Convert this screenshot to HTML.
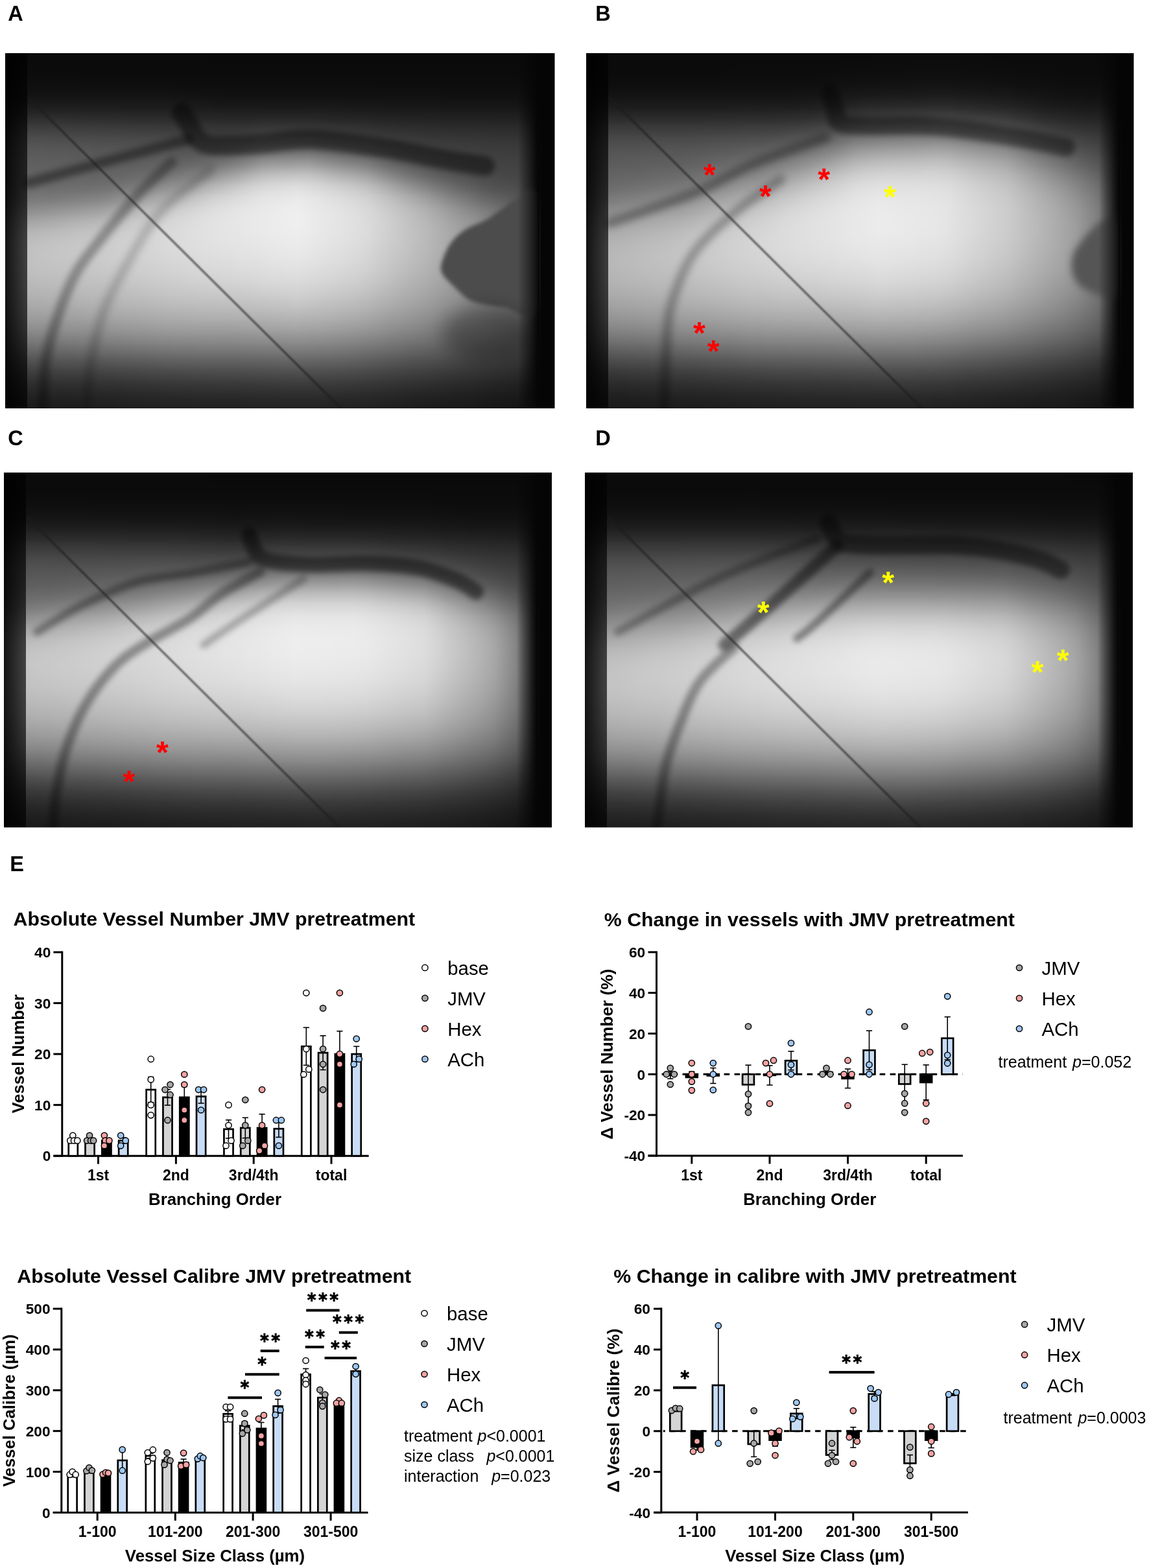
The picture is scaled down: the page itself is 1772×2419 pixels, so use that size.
<!DOCTYPE html>
<html><head><meta charset="utf-8"><title>Figure</title>
<style>html,body{margin:0;padding:0;background:#fff;}body{width:1772px;height:2419px;overflow:hidden;position:relative;}svg{position:absolute;left:0;top:0;display:block;}</style>
</head><body>
<svg width="1772" height="2419" viewBox="0 0 1772 2419">
<defs>
<filter id="b2" x="-50%" y="-50%" width="200%" height="200%" color-interpolation-filters="sRGB"><feGaussianBlur stdDeviation="2"/></filter>
<filter id="b3" x="-50%" y="-50%" width="200%" height="200%" color-interpolation-filters="sRGB"><feGaussianBlur stdDeviation="3"/></filter>
<filter id="b4" x="-50%" y="-50%" width="200%" height="200%" color-interpolation-filters="sRGB"><feGaussianBlur stdDeviation="4"/></filter>
<filter id="b5" x="-50%" y="-50%" width="200%" height="200%" color-interpolation-filters="sRGB"><feGaussianBlur stdDeviation="5"/></filter>
<filter id="b6" x="-50%" y="-50%" width="200%" height="200%" color-interpolation-filters="sRGB"><feGaussianBlur stdDeviation="6"/></filter>
<filter id="b9" x="-50%" y="-50%" width="200%" height="200%" color-interpolation-filters="sRGB"><feGaussianBlur stdDeviation="9"/></filter>
<filter id="b12" x="-50%" y="-50%" width="200%" height="200%" color-interpolation-filters="sRGB"><feGaussianBlur stdDeviation="12"/></filter>
<filter id="b14" x="-50%" y="-50%" width="200%" height="200%" color-interpolation-filters="sRGB"><feGaussianBlur stdDeviation="14"/></filter>
<filter id="b22" x="-50%" y="-50%" width="200%" height="200%" color-interpolation-filters="sRGB"><feGaussianBlur stdDeviation="22"/></filter>
<filter id="b35" x="-50%" y="-50%" width="200%" height="200%" color-interpolation-filters="sRGB"><feGaussianBlur stdDeviation="35"/></filter>
<filter id="b50" x="-50%" y="-50%" width="200%" height="200%" color-interpolation-filters="sRGB"><feGaussianBlur stdDeviation="50"/></filter>
<filter id="b1" x="-50%" y="-50%" width="200%" height="200%" color-interpolation-filters="sRGB"><feGaussianBlur stdDeviation="0.8"/></filter>
<filter id="vb" x="0" y="-5%" width="100%" height="110%" color-interpolation-filters="sRGB"><feGaussianBlur stdDeviation="0 7"/></filter>
<clipPath id="clipA"><rect x="8" y="82" width="847.5" height="548"/></clipPath>
<linearGradient id="lbA" x1="0" y1="0" x2="0" y2="1"><stop offset="0" stop-color="#070707"/><stop offset="0.2" stop-color="#0b0b0b"/><stop offset="0.45" stop-color="#262626"/><stop offset="0.7" stop-color="#333"/><stop offset="0.88" stop-color="#181818"/><stop offset="1" stop-color="#090909"/></linearGradient>
<clipPath id="clipB"><rect x="904" y="82" width="844.5" height="548"/></clipPath>
<linearGradient id="lbB" x1="0" y1="0" x2="0" y2="1"><stop offset="0" stop-color="#070707"/><stop offset="0.2" stop-color="#0b0b0b"/><stop offset="0.45" stop-color="#262626"/><stop offset="0.7" stop-color="#333"/><stop offset="0.88" stop-color="#181818"/><stop offset="1" stop-color="#090909"/></linearGradient>
<clipPath id="clipC"><rect x="6" y="729" width="845" height="547.5"/></clipPath>
<linearGradient id="lbC" x1="0" y1="0" x2="0" y2="1"><stop offset="0" stop-color="#070707"/><stop offset="0.2" stop-color="#0b0b0b"/><stop offset="0.45" stop-color="#262626"/><stop offset="0.7" stop-color="#333"/><stop offset="0.88" stop-color="#181818"/><stop offset="1" stop-color="#090909"/></linearGradient>
<clipPath id="clipD"><rect x="902" y="729" width="845" height="547.5"/></clipPath>
<linearGradient id="lbD" x1="0" y1="0" x2="0" y2="1"><stop offset="0" stop-color="#070707"/><stop offset="0.2" stop-color="#0b0b0b"/><stop offset="0.45" stop-color="#262626"/><stop offset="0.7" stop-color="#333"/><stop offset="0.88" stop-color="#181818"/><stop offset="1" stop-color="#090909"/></linearGradient>
<linearGradient id="lbh" x1="0" y1="0" x2="1" y2="0"><stop offset="0" stop-color="#000" stop-opacity="0.9"/><stop offset="0.5" stop-color="#000" stop-opacity="0.78"/><stop offset="1" stop-color="#000" stop-opacity="0.66"/></linearGradient>
<linearGradient id="rbh" x1="0" y1="0" x2="1" y2="0"><stop offset="0" stop-color="#050505" stop-opacity="0"/><stop offset="0.5" stop-color="#050505" stop-opacity="0.45"/><stop offset="1" stop-color="#050505" stop-opacity="0.95"/></linearGradient>
</defs>
<rect x="0" y="0" width="1772" height="2419" fill="#fff"/>
<defs><linearGradient id="gA0"><stop offset="0%" stop-color="#0a0a0a"/><stop offset="2.1%" stop-color="#0a0a0a"/><stop offset="4.2%" stop-color="#0a0a0a"/><stop offset="6.4%" stop-color="#0a0a0a"/><stop offset="8.5%" stop-color="#0a0a0a"/><stop offset="10.6%" stop-color="#0a0a0a"/><stop offset="12.7%" stop-color="#0a0a0a"/><stop offset="14.9%" stop-color="#0a0a0a"/><stop offset="17%" stop-color="#0a0a0a"/><stop offset="19.1%" stop-color="#0a0a0a"/><stop offset="21.2%" stop-color="#0a0a0a"/><stop offset="23.4%" stop-color="#0a0a0a"/><stop offset="25.5%" stop-color="#0a0a0a"/><stop offset="27.6%" stop-color="#0a0a0a"/><stop offset="29.7%" stop-color="#0a0a0a"/><stop offset="31.9%" stop-color="#0a0a0a"/><stop offset="34%" stop-color="#0a0a0a"/><stop offset="36.1%" stop-color="#0a0a0a"/><stop offset="38.2%" stop-color="#0a0a0a"/><stop offset="40.4%" stop-color="#0a0a0a"/><stop offset="42.5%" stop-color="#0a0a0a"/><stop offset="44.6%" stop-color="#0a0a0a"/><stop offset="46.7%" stop-color="#0a0a0a"/><stop offset="48.8%" stop-color="#0a0a0a"/><stop offset="51%" stop-color="#0a0a0a"/><stop offset="53.1%" stop-color="#0a0a0a"/><stop offset="55.2%" stop-color="#0a0a0a"/><stop offset="57.3%" stop-color="#0a0a0a"/><stop offset="59.5%" stop-color="#0a0a0a"/><stop offset="61.6%" stop-color="#0a0a0a"/><stop offset="63.7%" stop-color="#0a0a0a"/><stop offset="65.8%" stop-color="#0a0a0a"/><stop offset="68%" stop-color="#0a0a0a"/><stop offset="70.1%" stop-color="#0a0a0a"/><stop offset="72.2%" stop-color="#0a0a0a"/><stop offset="74.3%" stop-color="#0a0a0a"/><stop offset="76.5%" stop-color="#0a0a0a"/><stop offset="78.6%" stop-color="#0a0a0a"/><stop offset="80.7%" stop-color="#0a0a0a"/><stop offset="82.8%" stop-color="#0a0a0a"/><stop offset="85%" stop-color="#0a0a0a"/><stop offset="87.1%" stop-color="#0a0a0a"/><stop offset="89.2%" stop-color="#0a0a0a"/><stop offset="91.3%" stop-color="#0a0a0a"/><stop offset="93.5%" stop-color="#0a0a0a"/><stop offset="95.6%" stop-color="#0a0a0a"/><stop offset="97.7%" stop-color="#070707"/><stop offset="99.8%" stop-color="#070707"/><stop offset="100%" stop-color="#070707"/></linearGradient><linearGradient id="gA1"><stop offset="0%" stop-color="#0b0b0b"/><stop offset="2.1%" stop-color="#0b0b0b"/><stop offset="4.2%" stop-color="#0b0b0b"/><stop offset="6.4%" stop-color="#0b0b0b"/><stop offset="8.5%" stop-color="#0b0b0b"/><stop offset="10.6%" stop-color="#0b0b0b"/><stop offset="12.7%" stop-color="#0b0b0b"/><stop offset="14.9%" stop-color="#0b0b0b"/><stop offset="17%" stop-color="#0b0b0b"/><stop offset="19.1%" stop-color="#0b0b0b"/><stop offset="21.2%" stop-color="#0b0b0b"/><stop offset="23.4%" stop-color="#0b0b0b"/><stop offset="25.5%" stop-color="#0b0b0b"/><stop offset="27.6%" stop-color="#0b0b0b"/><stop offset="29.7%" stop-color="#0b0b0b"/><stop offset="31.9%" stop-color="#0b0b0b"/><stop offset="34%" stop-color="#0b0b0b"/><stop offset="36.1%" stop-color="#0b0b0b"/><stop offset="38.2%" stop-color="#0a0a0a"/><stop offset="40.4%" stop-color="#0a0a0a"/><stop offset="42.5%" stop-color="#0a0a0a"/><stop offset="44.6%" stop-color="#0a0a0a"/><stop offset="46.7%" stop-color="#0a0a0a"/><stop offset="48.8%" stop-color="#0a0a0a"/><stop offset="51%" stop-color="#0a0a0a"/><stop offset="53.1%" stop-color="#0a0a0a"/><stop offset="55.2%" stop-color="#0a0a0a"/><stop offset="57.3%" stop-color="#0a0a0a"/><stop offset="59.5%" stop-color="#0a0a0a"/><stop offset="61.6%" stop-color="#0a0a0a"/><stop offset="63.7%" stop-color="#0a0a0a"/><stop offset="65.8%" stop-color="#0a0a0a"/><stop offset="68%" stop-color="#0a0a0a"/><stop offset="70.1%" stop-color="#0a0a0a"/><stop offset="72.2%" stop-color="#0a0a0a"/><stop offset="74.3%" stop-color="#0a0a0a"/><stop offset="76.5%" stop-color="#0a0a0a"/><stop offset="78.6%" stop-color="#0a0a0a"/><stop offset="80.7%" stop-color="#0a0a0a"/><stop offset="82.8%" stop-color="#0a0a0a"/><stop offset="85%" stop-color="#0a0a0a"/><stop offset="87.1%" stop-color="#0a0a0a"/><stop offset="89.2%" stop-color="#0a0a0a"/><stop offset="91.3%" stop-color="#0a0a0a"/><stop offset="93.5%" stop-color="#0a0a0a"/><stop offset="95.6%" stop-color="#0a0a0a"/><stop offset="97.7%" stop-color="#070707"/><stop offset="99.8%" stop-color="#070707"/><stop offset="100%" stop-color="#070707"/></linearGradient><linearGradient id="gA2"><stop offset="0%" stop-color="#0c0c0c"/><stop offset="2.1%" stop-color="#0c0c0c"/><stop offset="4.2%" stop-color="#0c0c0c"/><stop offset="6.4%" stop-color="#0b0b0b"/><stop offset="8.5%" stop-color="#0b0b0b"/><stop offset="10.6%" stop-color="#0b0b0b"/><stop offset="12.7%" stop-color="#0b0b0b"/><stop offset="14.9%" stop-color="#0b0b0b"/><stop offset="17%" stop-color="#0b0b0b"/><stop offset="19.1%" stop-color="#0b0b0b"/><stop offset="21.2%" stop-color="#0b0b0b"/><stop offset="23.4%" stop-color="#0b0b0b"/><stop offset="25.5%" stop-color="#0b0b0b"/><stop offset="27.6%" stop-color="#0b0b0b"/><stop offset="29.7%" stop-color="#0b0b0b"/><stop offset="31.9%" stop-color="#0b0b0b"/><stop offset="34%" stop-color="#0b0b0b"/><stop offset="36.1%" stop-color="#0b0b0b"/><stop offset="38.2%" stop-color="#0b0b0b"/><stop offset="40.4%" stop-color="#0b0b0b"/><stop offset="42.5%" stop-color="#0b0b0b"/><stop offset="44.6%" stop-color="#0b0b0b"/><stop offset="46.7%" stop-color="#0b0b0b"/><stop offset="48.8%" stop-color="#0b0b0b"/><stop offset="51%" stop-color="#0b0b0b"/><stop offset="53.1%" stop-color="#0b0b0b"/><stop offset="55.2%" stop-color="#0b0b0b"/><stop offset="57.3%" stop-color="#0b0b0b"/><stop offset="59.5%" stop-color="#0b0b0b"/><stop offset="61.6%" stop-color="#0b0b0b"/><stop offset="63.7%" stop-color="#0b0b0b"/><stop offset="65.8%" stop-color="#0b0b0b"/><stop offset="68%" stop-color="#0b0b0b"/><stop offset="70.1%" stop-color="#0b0b0b"/><stop offset="72.2%" stop-color="#0b0b0b"/><stop offset="74.3%" stop-color="#0b0b0b"/><stop offset="76.5%" stop-color="#0b0b0b"/><stop offset="78.6%" stop-color="#0b0b0b"/><stop offset="80.7%" stop-color="#0b0b0b"/><stop offset="82.8%" stop-color="#0b0b0b"/><stop offset="85%" stop-color="#0b0b0b"/><stop offset="87.1%" stop-color="#0b0b0b"/><stop offset="89.2%" stop-color="#0b0b0b"/><stop offset="91.3%" stop-color="#0b0b0b"/><stop offset="93.5%" stop-color="#0b0b0b"/><stop offset="95.6%" stop-color="#0a0a0a"/><stop offset="97.7%" stop-color="#070707"/><stop offset="99.8%" stop-color="#070707"/><stop offset="100%" stop-color="#070707"/></linearGradient><linearGradient id="gA3"><stop offset="0%" stop-color="#0e0e0e"/><stop offset="2.1%" stop-color="#0e0e0e"/><stop offset="4.2%" stop-color="#0e0e0e"/><stop offset="6.4%" stop-color="#0e0e0e"/><stop offset="8.5%" stop-color="#0e0e0e"/><stop offset="10.6%" stop-color="#0e0e0e"/><stop offset="12.7%" stop-color="#0e0e0e"/><stop offset="14.9%" stop-color="#0d0d0d"/><stop offset="17%" stop-color="#0d0d0d"/><stop offset="19.1%" stop-color="#0d0d0d"/><stop offset="21.2%" stop-color="#0d0d0d"/><stop offset="23.4%" stop-color="#0d0d0d"/><stop offset="25.5%" stop-color="#0d0d0d"/><stop offset="27.6%" stop-color="#0d0d0d"/><stop offset="29.7%" stop-color="#0d0d0d"/><stop offset="31.9%" stop-color="#0d0d0d"/><stop offset="34%" stop-color="#0d0d0d"/><stop offset="36.1%" stop-color="#0d0d0d"/><stop offset="38.2%" stop-color="#0d0d0d"/><stop offset="40.4%" stop-color="#0d0d0d"/><stop offset="42.5%" stop-color="#0d0d0d"/><stop offset="44.6%" stop-color="#0d0d0d"/><stop offset="46.7%" stop-color="#0d0d0d"/><stop offset="48.8%" stop-color="#0d0d0d"/><stop offset="51%" stop-color="#0d0d0d"/><stop offset="53.1%" stop-color="#0d0d0d"/><stop offset="55.2%" stop-color="#0d0d0d"/><stop offset="57.3%" stop-color="#0d0d0d"/><stop offset="59.5%" stop-color="#0d0d0d"/><stop offset="61.6%" stop-color="#0d0d0d"/><stop offset="63.7%" stop-color="#0d0d0d"/><stop offset="65.8%" stop-color="#0d0d0d"/><stop offset="68%" stop-color="#0c0c0c"/><stop offset="70.1%" stop-color="#0c0c0c"/><stop offset="72.2%" stop-color="#0c0c0c"/><stop offset="74.3%" stop-color="#0c0c0c"/><stop offset="76.5%" stop-color="#0c0c0c"/><stop offset="78.6%" stop-color="#0c0c0c"/><stop offset="80.7%" stop-color="#0c0c0c"/><stop offset="82.8%" stop-color="#0c0c0c"/><stop offset="85%" stop-color="#0c0c0c"/><stop offset="87.1%" stop-color="#0c0c0c"/><stop offset="89.2%" stop-color="#0c0c0c"/><stop offset="91.3%" stop-color="#0c0c0c"/><stop offset="93.5%" stop-color="#0c0c0c"/><stop offset="95.6%" stop-color="#0b0b0b"/><stop offset="97.7%" stop-color="#080808"/><stop offset="99.8%" stop-color="#070707"/><stop offset="100%" stop-color="#070707"/></linearGradient><linearGradient id="gA4"><stop offset="0%" stop-color="#121212"/><stop offset="2.1%" stop-color="#121212"/><stop offset="4.2%" stop-color="#121212"/><stop offset="6.4%" stop-color="#121212"/><stop offset="8.5%" stop-color="#121212"/><stop offset="10.6%" stop-color="#121212"/><stop offset="12.7%" stop-color="#121212"/><stop offset="14.9%" stop-color="#121212"/><stop offset="17%" stop-color="#121212"/><stop offset="19.1%" stop-color="#121212"/><stop offset="21.2%" stop-color="#121212"/><stop offset="23.4%" stop-color="#121212"/><stop offset="25.5%" stop-color="#121212"/><stop offset="27.6%" stop-color="#121212"/><stop offset="29.7%" stop-color="#121212"/><stop offset="31.9%" stop-color="#111111"/><stop offset="34%" stop-color="#111111"/><stop offset="36.1%" stop-color="#111111"/><stop offset="38.2%" stop-color="#111111"/><stop offset="40.4%" stop-color="#101010"/><stop offset="42.5%" stop-color="#101010"/><stop offset="44.6%" stop-color="#101010"/><stop offset="46.7%" stop-color="#101010"/><stop offset="48.8%" stop-color="#101010"/><stop offset="51%" stop-color="#101010"/><stop offset="53.1%" stop-color="#101010"/><stop offset="55.2%" stop-color="#101010"/><stop offset="57.3%" stop-color="#101010"/><stop offset="59.5%" stop-color="#101010"/><stop offset="61.6%" stop-color="#101010"/><stop offset="63.7%" stop-color="#101010"/><stop offset="65.8%" stop-color="#101010"/><stop offset="68%" stop-color="#101010"/><stop offset="70.1%" stop-color="#101010"/><stop offset="72.2%" stop-color="#101010"/><stop offset="74.3%" stop-color="#101010"/><stop offset="76.5%" stop-color="#101010"/><stop offset="78.6%" stop-color="#101010"/><stop offset="80.7%" stop-color="#0f0f0f"/><stop offset="82.8%" stop-color="#0f0f0f"/><stop offset="85%" stop-color="#0f0f0f"/><stop offset="87.1%" stop-color="#0f0f0f"/><stop offset="89.2%" stop-color="#0f0f0f"/><stop offset="91.3%" stop-color="#0f0f0f"/><stop offset="93.5%" stop-color="#0f0f0f"/><stop offset="95.6%" stop-color="#0e0e0e"/><stop offset="97.7%" stop-color="#080808"/><stop offset="99.8%" stop-color="#070707"/><stop offset="100%" stop-color="#070707"/></linearGradient><linearGradient id="gA5"><stop offset="0%" stop-color="#1c1c1c"/><stop offset="2.1%" stop-color="#1c1c1c"/><stop offset="4.2%" stop-color="#1c1c1c"/><stop offset="6.4%" stop-color="#1c1c1c"/><stop offset="8.5%" stop-color="#1c1c1c"/><stop offset="10.6%" stop-color="#1c1c1c"/><stop offset="12.7%" stop-color="#1c1c1c"/><stop offset="14.9%" stop-color="#1b1b1b"/><stop offset="17%" stop-color="#1b1b1b"/><stop offset="19.1%" stop-color="#1b1b1b"/><stop offset="21.2%" stop-color="#1b1b1b"/><stop offset="23.4%" stop-color="#1b1b1b"/><stop offset="25.5%" stop-color="#1b1b1b"/><stop offset="27.6%" stop-color="#1b1b1b"/><stop offset="29.7%" stop-color="#1b1b1b"/><stop offset="31.9%" stop-color="#1a1a1a"/><stop offset="34%" stop-color="#191919"/><stop offset="36.1%" stop-color="#191919"/><stop offset="38.2%" stop-color="#181818"/><stop offset="40.4%" stop-color="#181818"/><stop offset="42.5%" stop-color="#181818"/><stop offset="44.6%" stop-color="#181818"/><stop offset="46.7%" stop-color="#181818"/><stop offset="48.8%" stop-color="#181818"/><stop offset="51%" stop-color="#181818"/><stop offset="53.1%" stop-color="#181818"/><stop offset="55.2%" stop-color="#181818"/><stop offset="57.3%" stop-color="#181818"/><stop offset="59.5%" stop-color="#181818"/><stop offset="61.6%" stop-color="#171717"/><stop offset="63.7%" stop-color="#171717"/><stop offset="65.8%" stop-color="#171717"/><stop offset="68%" stop-color="#171717"/><stop offset="70.1%" stop-color="#161616"/><stop offset="72.2%" stop-color="#161616"/><stop offset="74.3%" stop-color="#161616"/><stop offset="76.5%" stop-color="#161616"/><stop offset="78.6%" stop-color="#161616"/><stop offset="80.7%" stop-color="#161616"/><stop offset="82.8%" stop-color="#161616"/><stop offset="85%" stop-color="#161616"/><stop offset="87.1%" stop-color="#161616"/><stop offset="89.2%" stop-color="#161616"/><stop offset="91.3%" stop-color="#161616"/><stop offset="93.5%" stop-color="#151515"/><stop offset="95.6%" stop-color="#131313"/><stop offset="97.7%" stop-color="#090909"/><stop offset="99.8%" stop-color="#070707"/><stop offset="100%" stop-color="#070707"/></linearGradient><linearGradient id="gA6"><stop offset="0%" stop-color="#2c2c2c"/><stop offset="2.1%" stop-color="#2c2c2c"/><stop offset="4.2%" stop-color="#2c2c2c"/><stop offset="6.4%" stop-color="#2c2c2c"/><stop offset="8.5%" stop-color="#2c2c2c"/><stop offset="10.6%" stop-color="#2c2c2c"/><stop offset="12.7%" stop-color="#2b2b2b"/><stop offset="14.9%" stop-color="#2b2b2b"/><stop offset="17%" stop-color="#2b2b2b"/><stop offset="19.1%" stop-color="#2b2b2b"/><stop offset="21.2%" stop-color="#2a2a2a"/><stop offset="23.4%" stop-color="#2a2a2a"/><stop offset="25.5%" stop-color="#2a2a2a"/><stop offset="27.6%" stop-color="#2a2a2a"/><stop offset="29.7%" stop-color="#292929"/><stop offset="31.9%" stop-color="#282828"/><stop offset="34%" stop-color="#272727"/><stop offset="36.1%" stop-color="#262626"/><stop offset="38.2%" stop-color="#262626"/><stop offset="40.4%" stop-color="#252525"/><stop offset="42.5%" stop-color="#252525"/><stop offset="44.6%" stop-color="#252525"/><stop offset="46.7%" stop-color="#262626"/><stop offset="48.8%" stop-color="#262626"/><stop offset="51%" stop-color="#262626"/><stop offset="53.1%" stop-color="#262626"/><stop offset="55.2%" stop-color="#262626"/><stop offset="57.3%" stop-color="#252525"/><stop offset="59.5%" stop-color="#242424"/><stop offset="61.6%" stop-color="#242424"/><stop offset="63.7%" stop-color="#232323"/><stop offset="65.8%" stop-color="#232323"/><stop offset="68%" stop-color="#222222"/><stop offset="70.1%" stop-color="#222222"/><stop offset="72.2%" stop-color="#212121"/><stop offset="74.3%" stop-color="#212121"/><stop offset="76.5%" stop-color="#212121"/><stop offset="78.6%" stop-color="#212121"/><stop offset="80.7%" stop-color="#202020"/><stop offset="82.8%" stop-color="#202020"/><stop offset="85%" stop-color="#202020"/><stop offset="87.1%" stop-color="#202020"/><stop offset="89.2%" stop-color="#202020"/><stop offset="91.3%" stop-color="#202020"/><stop offset="93.5%" stop-color="#202020"/><stop offset="95.6%" stop-color="#1b1b1b"/><stop offset="97.7%" stop-color="#0a0a0a"/><stop offset="99.8%" stop-color="#070707"/><stop offset="100%" stop-color="#070707"/></linearGradient><linearGradient id="gA7"><stop offset="0%" stop-color="#404040"/><stop offset="2.1%" stop-color="#404040"/><stop offset="4.2%" stop-color="#404040"/><stop offset="6.4%" stop-color="#3f3f3f"/><stop offset="8.5%" stop-color="#3f3f3f"/><stop offset="10.6%" stop-color="#3f3f3f"/><stop offset="12.7%" stop-color="#3e3e3e"/><stop offset="14.9%" stop-color="#3e3e3e"/><stop offset="17%" stop-color="#3d3d3d"/><stop offset="19.1%" stop-color="#3d3d3d"/><stop offset="21.2%" stop-color="#3d3d3d"/><stop offset="23.4%" stop-color="#3c3c3c"/><stop offset="25.5%" stop-color="#3c3c3c"/><stop offset="27.6%" stop-color="#3c3c3c"/><stop offset="29.7%" stop-color="#3b3b3b"/><stop offset="31.9%" stop-color="#3a3a3a"/><stop offset="34%" stop-color="#393939"/><stop offset="36.1%" stop-color="#373737"/><stop offset="38.2%" stop-color="#363636"/><stop offset="40.4%" stop-color="#363636"/><stop offset="42.5%" stop-color="#363636"/><stop offset="44.6%" stop-color="#373737"/><stop offset="46.7%" stop-color="#393939"/><stop offset="48.8%" stop-color="#393939"/><stop offset="51%" stop-color="#393939"/><stop offset="53.1%" stop-color="#393939"/><stop offset="55.2%" stop-color="#393939"/><stop offset="57.3%" stop-color="#383838"/><stop offset="59.5%" stop-color="#363636"/><stop offset="61.6%" stop-color="#353535"/><stop offset="63.7%" stop-color="#343434"/><stop offset="65.8%" stop-color="#333333"/><stop offset="68%" stop-color="#313131"/><stop offset="70.1%" stop-color="#303030"/><stop offset="72.2%" stop-color="#2f2f2f"/><stop offset="74.3%" stop-color="#2f2f2f"/><stop offset="76.5%" stop-color="#2e2e2e"/><stop offset="78.6%" stop-color="#2e2e2e"/><stop offset="80.7%" stop-color="#2d2d2d"/><stop offset="82.8%" stop-color="#2d2d2d"/><stop offset="85%" stop-color="#2d2d2d"/><stop offset="87.1%" stop-color="#2d2d2d"/><stop offset="89.2%" stop-color="#2c2c2c"/><stop offset="91.3%" stop-color="#2c2c2c"/><stop offset="93.5%" stop-color="#2c2c2c"/><stop offset="95.6%" stop-color="#262626"/><stop offset="97.7%" stop-color="#0b0b0b"/><stop offset="99.8%" stop-color="#070707"/><stop offset="100%" stop-color="#070707"/></linearGradient><linearGradient id="gA8"><stop offset="0%" stop-color="#505050"/><stop offset="2.1%" stop-color="#505050"/><stop offset="4.2%" stop-color="#505050"/><stop offset="6.4%" stop-color="#505050"/><stop offset="8.5%" stop-color="#4f4f4f"/><stop offset="10.6%" stop-color="#4f4f4f"/><stop offset="12.7%" stop-color="#4e4e4e"/><stop offset="14.9%" stop-color="#4e4e4e"/><stop offset="17%" stop-color="#4d4d4d"/><stop offset="19.1%" stop-color="#4d4d4d"/><stop offset="21.2%" stop-color="#4c4c4c"/><stop offset="23.4%" stop-color="#4c4c4c"/><stop offset="25.5%" stop-color="#4c4c4c"/><stop offset="27.6%" stop-color="#4b4b4b"/><stop offset="29.7%" stop-color="#4b4b4b"/><stop offset="31.9%" stop-color="#4a4a4a"/><stop offset="34%" stop-color="#484848"/><stop offset="36.1%" stop-color="#474747"/><stop offset="38.2%" stop-color="#474747"/><stop offset="40.4%" stop-color="#474747"/><stop offset="42.5%" stop-color="#484848"/><stop offset="44.6%" stop-color="#4b4b4b"/><stop offset="46.7%" stop-color="#4f4f4f"/><stop offset="48.8%" stop-color="#515151"/><stop offset="51%" stop-color="#515151"/><stop offset="53.1%" stop-color="#515151"/><stop offset="55.2%" stop-color="#515151"/><stop offset="57.3%" stop-color="#4e4e4e"/><stop offset="59.5%" stop-color="#4c4c4c"/><stop offset="61.6%" stop-color="#494949"/><stop offset="63.7%" stop-color="#474747"/><stop offset="65.8%" stop-color="#454545"/><stop offset="68%" stop-color="#414141"/><stop offset="70.1%" stop-color="#3f3f3f"/><stop offset="72.2%" stop-color="#3d3d3d"/><stop offset="74.3%" stop-color="#3b3b3b"/><stop offset="76.5%" stop-color="#3a3a3a"/><stop offset="78.6%" stop-color="#393939"/><stop offset="80.7%" stop-color="#393939"/><stop offset="82.8%" stop-color="#383838"/><stop offset="85%" stop-color="#383838"/><stop offset="87.1%" stop-color="#373737"/><stop offset="89.2%" stop-color="#373737"/><stop offset="91.3%" stop-color="#373737"/><stop offset="93.5%" stop-color="#363636"/><stop offset="95.6%" stop-color="#2e2e2e"/><stop offset="97.7%" stop-color="#0d0d0d"/><stop offset="99.8%" stop-color="#070707"/><stop offset="100%" stop-color="#070707"/></linearGradient><linearGradient id="gA9"><stop offset="0%" stop-color="#5a5a5a"/><stop offset="2.1%" stop-color="#5a5a5a"/><stop offset="4.2%" stop-color="#5a5a5a"/><stop offset="6.4%" stop-color="#5a5a5a"/><stop offset="8.5%" stop-color="#595959"/><stop offset="10.6%" stop-color="#595959"/><stop offset="12.7%" stop-color="#585858"/><stop offset="14.9%" stop-color="#585858"/><stop offset="17%" stop-color="#575757"/><stop offset="19.1%" stop-color="#575757"/><stop offset="21.2%" stop-color="#565656"/><stop offset="23.4%" stop-color="#565656"/><stop offset="25.5%" stop-color="#565656"/><stop offset="27.6%" stop-color="#575757"/><stop offset="29.7%" stop-color="#575757"/><stop offset="31.9%" stop-color="#565656"/><stop offset="34%" stop-color="#565656"/><stop offset="36.1%" stop-color="#575757"/><stop offset="38.2%" stop-color="#585858"/><stop offset="40.4%" stop-color="#5b5b5b"/><stop offset="42.5%" stop-color="#5f5f5f"/><stop offset="44.6%" stop-color="#666666"/><stop offset="46.7%" stop-color="#6e6e6e"/><stop offset="48.8%" stop-color="#707070"/><stop offset="51%" stop-color="#717171"/><stop offset="53.1%" stop-color="#727272"/><stop offset="55.2%" stop-color="#727272"/><stop offset="57.3%" stop-color="#6d6d6d"/><stop offset="59.5%" stop-color="#686868"/><stop offset="61.6%" stop-color="#636363"/><stop offset="63.7%" stop-color="#5f5f5f"/><stop offset="65.8%" stop-color="#5b5b5b"/><stop offset="68%" stop-color="#545454"/><stop offset="70.1%" stop-color="#4f4f4f"/><stop offset="72.2%" stop-color="#4a4a4a"/><stop offset="74.3%" stop-color="#474747"/><stop offset="76.5%" stop-color="#454545"/><stop offset="78.6%" stop-color="#434343"/><stop offset="80.7%" stop-color="#414141"/><stop offset="82.8%" stop-color="#404040"/><stop offset="85%" stop-color="#3f3f3f"/><stop offset="87.1%" stop-color="#3e3e3e"/><stop offset="89.2%" stop-color="#3e3e3e"/><stop offset="91.3%" stop-color="#3d3d3d"/><stop offset="93.5%" stop-color="#3d3d3d"/><stop offset="95.6%" stop-color="#343434"/><stop offset="97.7%" stop-color="#0d0d0d"/><stop offset="99.8%" stop-color="#070707"/><stop offset="100%" stop-color="#070707"/></linearGradient><linearGradient id="gA10"><stop offset="0%" stop-color="#606060"/><stop offset="2.1%" stop-color="#606060"/><stop offset="4.2%" stop-color="#606060"/><stop offset="6.4%" stop-color="#5f5f5f"/><stop offset="8.5%" stop-color="#5f5f5f"/><stop offset="10.6%" stop-color="#5e5e5e"/><stop offset="12.7%" stop-color="#5e5e5e"/><stop offset="14.9%" stop-color="#5e5e5e"/><stop offset="17%" stop-color="#5d5d5d"/><stop offset="19.1%" stop-color="#5d5d5d"/><stop offset="21.2%" stop-color="#5e5e5e"/><stop offset="23.4%" stop-color="#5e5e5e"/><stop offset="25.5%" stop-color="#5f5f5f"/><stop offset="27.6%" stop-color="#616161"/><stop offset="29.7%" stop-color="#626262"/><stop offset="31.9%" stop-color="#636363"/><stop offset="34%" stop-color="#666666"/><stop offset="36.1%" stop-color="#6b6b6b"/><stop offset="38.2%" stop-color="#717171"/><stop offset="40.4%" stop-color="#787878"/><stop offset="42.5%" stop-color="#818181"/><stop offset="44.6%" stop-color="#8b8b8b"/><stop offset="46.7%" stop-color="#969696"/><stop offset="48.8%" stop-color="#9a9a9a"/><stop offset="51%" stop-color="#9b9b9b"/><stop offset="53.1%" stop-color="#9d9d9d"/><stop offset="55.2%" stop-color="#9d9d9d"/><stop offset="57.3%" stop-color="#969696"/><stop offset="59.5%" stop-color="#8f8f8f"/><stop offset="61.6%" stop-color="#888888"/><stop offset="63.7%" stop-color="#828282"/><stop offset="65.8%" stop-color="#7b7b7b"/><stop offset="68%" stop-color="#707070"/><stop offset="70.1%" stop-color="#666666"/><stop offset="72.2%" stop-color="#5e5e5e"/><stop offset="74.3%" stop-color="#575757"/><stop offset="76.5%" stop-color="#515151"/><stop offset="78.6%" stop-color="#4d4d4d"/><stop offset="80.7%" stop-color="#4a4a4a"/><stop offset="82.8%" stop-color="#474747"/><stop offset="85%" stop-color="#454545"/><stop offset="87.1%" stop-color="#434343"/><stop offset="89.2%" stop-color="#424242"/><stop offset="91.3%" stop-color="#424242"/><stop offset="93.5%" stop-color="#414141"/><stop offset="95.6%" stop-color="#373737"/><stop offset="97.7%" stop-color="#0e0e0e"/><stop offset="99.8%" stop-color="#070707"/><stop offset="100%" stop-color="#070707"/></linearGradient><linearGradient id="gA11"><stop offset="0%" stop-color="#646464"/><stop offset="2.1%" stop-color="#646464"/><stop offset="4.2%" stop-color="#646464"/><stop offset="6.4%" stop-color="#646464"/><stop offset="8.5%" stop-color="#646464"/><stop offset="10.6%" stop-color="#646464"/><stop offset="12.7%" stop-color="#646464"/><stop offset="14.9%" stop-color="#646464"/><stop offset="17%" stop-color="#646464"/><stop offset="19.1%" stop-color="#656565"/><stop offset="21.2%" stop-color="#666666"/><stop offset="23.4%" stop-color="#696969"/><stop offset="25.5%" stop-color="#6c6c6c"/><stop offset="27.6%" stop-color="#6f6f6f"/><stop offset="29.7%" stop-color="#747474"/><stop offset="31.9%" stop-color="#797979"/><stop offset="34%" stop-color="#818181"/><stop offset="36.1%" stop-color="#8a8a8a"/><stop offset="38.2%" stop-color="#959595"/><stop offset="40.4%" stop-color="#9f9f9f"/><stop offset="42.5%" stop-color="#a9a9a9"/><stop offset="44.6%" stop-color="#b4b4b4"/><stop offset="46.7%" stop-color="#bebebe"/><stop offset="48.8%" stop-color="#c2c2c2"/><stop offset="51%" stop-color="#c4c4c4"/><stop offset="53.1%" stop-color="#c5c5c5"/><stop offset="55.2%" stop-color="#c4c4c4"/><stop offset="57.3%" stop-color="#bebebe"/><stop offset="59.5%" stop-color="#b7b7b7"/><stop offset="61.6%" stop-color="#b0b0b0"/><stop offset="63.7%" stop-color="#aaaaaa"/><stop offset="65.8%" stop-color="#a2a2a2"/><stop offset="68%" stop-color="#949494"/><stop offset="70.1%" stop-color="#878787"/><stop offset="72.2%" stop-color="#7b7b7b"/><stop offset="74.3%" stop-color="#707070"/><stop offset="76.5%" stop-color="#666666"/><stop offset="78.6%" stop-color="#5e5e5e"/><stop offset="80.7%" stop-color="#575757"/><stop offset="82.8%" stop-color="#525252"/><stop offset="85%" stop-color="#4d4d4d"/><stop offset="87.1%" stop-color="#4a4a4a"/><stop offset="89.2%" stop-color="#484848"/><stop offset="91.3%" stop-color="#464646"/><stop offset="93.5%" stop-color="#454545"/><stop offset="95.6%" stop-color="#393939"/><stop offset="97.7%" stop-color="#0e0e0e"/><stop offset="99.8%" stop-color="#070707"/><stop offset="100%" stop-color="#070707"/></linearGradient><linearGradient id="gA12"><stop offset="0%" stop-color="#6a6a6a"/><stop offset="2.1%" stop-color="#6a6a6a"/><stop offset="4.2%" stop-color="#6a6a6a"/><stop offset="6.4%" stop-color="#6b6b6b"/><stop offset="8.5%" stop-color="#6b6b6b"/><stop offset="10.6%" stop-color="#6c6c6c"/><stop offset="12.7%" stop-color="#6d6d6d"/><stop offset="14.9%" stop-color="#6e6e6e"/><stop offset="17%" stop-color="#6f6f6f"/><stop offset="19.1%" stop-color="#727272"/><stop offset="21.2%" stop-color="#767676"/><stop offset="23.4%" stop-color="#7b7b7b"/><stop offset="25.5%" stop-color="#828282"/><stop offset="27.6%" stop-color="#898989"/><stop offset="29.7%" stop-color="#909090"/><stop offset="31.9%" stop-color="#999999"/><stop offset="34%" stop-color="#a4a4a4"/><stop offset="36.1%" stop-color="#afafaf"/><stop offset="38.2%" stop-color="#bababa"/><stop offset="40.4%" stop-color="#c3c3c3"/><stop offset="42.5%" stop-color="#cbcbcb"/><stop offset="44.6%" stop-color="#d2d2d2"/><stop offset="46.7%" stop-color="#d8d8d8"/><stop offset="48.8%" stop-color="#dbdbdb"/><stop offset="51%" stop-color="#dddddd"/><stop offset="53.1%" stop-color="#dfdfdf"/><stop offset="55.2%" stop-color="#dcdcdc"/><stop offset="57.3%" stop-color="#d8d8d8"/><stop offset="59.5%" stop-color="#d3d3d3"/><stop offset="61.6%" stop-color="#cecece"/><stop offset="63.7%" stop-color="#c8c8c8"/><stop offset="65.8%" stop-color="#c1c1c1"/><stop offset="68%" stop-color="#b6b6b6"/><stop offset="70.1%" stop-color="#a9a9a9"/><stop offset="72.2%" stop-color="#9d9d9d"/><stop offset="74.3%" stop-color="#909090"/><stop offset="76.5%" stop-color="#848484"/><stop offset="78.6%" stop-color="#787878"/><stop offset="80.7%" stop-color="#6e6e6e"/><stop offset="82.8%" stop-color="#646464"/><stop offset="85%" stop-color="#5d5d5d"/><stop offset="87.1%" stop-color="#565656"/><stop offset="89.2%" stop-color="#515151"/><stop offset="91.3%" stop-color="#4f4f4f"/><stop offset="93.5%" stop-color="#4c4c4c"/><stop offset="95.6%" stop-color="#3d3d3d"/><stop offset="97.7%" stop-color="#0e0e0e"/><stop offset="99.8%" stop-color="#070707"/><stop offset="100%" stop-color="#070707"/></linearGradient><linearGradient id="gA13"><stop offset="0%" stop-color="#777777"/><stop offset="2.1%" stop-color="#777777"/><stop offset="4.2%" stop-color="#777777"/><stop offset="6.4%" stop-color="#797979"/><stop offset="8.5%" stop-color="#7a7a7a"/><stop offset="10.6%" stop-color="#7c7c7c"/><stop offset="12.7%" stop-color="#7f7f7f"/><stop offset="14.9%" stop-color="#818181"/><stop offset="17%" stop-color="#848484"/><stop offset="19.1%" stop-color="#898989"/><stop offset="21.2%" stop-color="#909090"/><stop offset="23.4%" stop-color="#989898"/><stop offset="25.5%" stop-color="#a1a1a1"/><stop offset="27.6%" stop-color="#a9a9a9"/><stop offset="29.7%" stop-color="#b1b1b1"/><stop offset="31.9%" stop-color="#bababa"/><stop offset="34%" stop-color="#c3c3c3"/><stop offset="36.1%" stop-color="#cccccc"/><stop offset="38.2%" stop-color="#d3d3d3"/><stop offset="40.4%" stop-color="#d8d8d8"/><stop offset="42.5%" stop-color="#dddddd"/><stop offset="44.6%" stop-color="#e1e1e1"/><stop offset="46.7%" stop-color="#e5e5e5"/><stop offset="48.8%" stop-color="#e7e7e7"/><stop offset="51%" stop-color="#e8e8e8"/><stop offset="53.1%" stop-color="#eaeaea"/><stop offset="55.2%" stop-color="#e8e8e8"/><stop offset="57.3%" stop-color="#e4e4e4"/><stop offset="59.5%" stop-color="#e0e0e0"/><stop offset="61.6%" stop-color="#dcdcdc"/><stop offset="63.7%" stop-color="#d8d8d8"/><stop offset="65.8%" stop-color="#d2d2d2"/><stop offset="68%" stop-color="#c9c9c9"/><stop offset="70.1%" stop-color="#c0c0c0"/><stop offset="72.2%" stop-color="#b5b5b5"/><stop offset="74.3%" stop-color="#ababab"/><stop offset="76.5%" stop-color="#a0a0a0"/><stop offset="78.6%" stop-color="#949494"/><stop offset="80.7%" stop-color="#888888"/><stop offset="82.8%" stop-color="#7d7d7d"/><stop offset="85%" stop-color="#737373"/><stop offset="87.1%" stop-color="#696969"/><stop offset="89.2%" stop-color="#626262"/><stop offset="91.3%" stop-color="#5d5d5d"/><stop offset="93.5%" stop-color="#575757"/><stop offset="95.6%" stop-color="#444444"/><stop offset="97.7%" stop-color="#0f0f0f"/><stop offset="99.8%" stop-color="#070707"/><stop offset="100%" stop-color="#070707"/></linearGradient><linearGradient id="gA14"><stop offset="0%" stop-color="#8d8d8d"/><stop offset="2.1%" stop-color="#8d8d8d"/><stop offset="4.2%" stop-color="#8d8d8d"/><stop offset="6.4%" stop-color="#909090"/><stop offset="8.5%" stop-color="#939393"/><stop offset="10.6%" stop-color="#969696"/><stop offset="12.7%" stop-color="#999999"/><stop offset="14.9%" stop-color="#9d9d9d"/><stop offset="17%" stop-color="#a0a0a0"/><stop offset="19.1%" stop-color="#a6a6a6"/><stop offset="21.2%" stop-color="#aeaeae"/><stop offset="23.4%" stop-color="#b6b6b6"/><stop offset="25.5%" stop-color="#bdbdbd"/><stop offset="27.6%" stop-color="#c4c4c4"/><stop offset="29.7%" stop-color="#cacaca"/><stop offset="31.9%" stop-color="#d0d0d0"/><stop offset="34%" stop-color="#d6d6d6"/><stop offset="36.1%" stop-color="#dbdbdb"/><stop offset="38.2%" stop-color="#dfdfdf"/><stop offset="40.4%" stop-color="#e2e2e2"/><stop offset="42.5%" stop-color="#e5e5e5"/><stop offset="44.6%" stop-color="#e7e7e7"/><stop offset="46.7%" stop-color="#e9e9e9"/><stop offset="48.8%" stop-color="#ebebeb"/><stop offset="51%" stop-color="#ededed"/><stop offset="53.1%" stop-color="#eeeeee"/><stop offset="55.2%" stop-color="#ebebeb"/><stop offset="57.3%" stop-color="#e8e8e8"/><stop offset="59.5%" stop-color="#e5e5e5"/><stop offset="61.6%" stop-color="#e2e2e2"/><stop offset="63.7%" stop-color="#dedede"/><stop offset="65.8%" stop-color="#d9d9d9"/><stop offset="68%" stop-color="#d2d2d2"/><stop offset="70.1%" stop-color="#cacaca"/><stop offset="72.2%" stop-color="#c2c2c2"/><stop offset="74.3%" stop-color="#bababa"/><stop offset="76.5%" stop-color="#b1b1b1"/><stop offset="78.6%" stop-color="#a7a7a7"/><stop offset="80.7%" stop-color="#9c9c9c"/><stop offset="82.8%" stop-color="#929292"/><stop offset="85%" stop-color="#888888"/><stop offset="87.1%" stop-color="#7e7e7e"/><stop offset="89.2%" stop-color="#757575"/><stop offset="91.3%" stop-color="#6e6e6e"/><stop offset="93.5%" stop-color="#666666"/><stop offset="95.6%" stop-color="#4e4e4e"/><stop offset="97.7%" stop-color="#101010"/><stop offset="99.8%" stop-color="#070707"/><stop offset="100%" stop-color="#070707"/></linearGradient><linearGradient id="gA15"><stop offset="0%" stop-color="#a6a6a6"/><stop offset="2.1%" stop-color="#a6a6a6"/><stop offset="4.2%" stop-color="#a6a6a6"/><stop offset="6.4%" stop-color="#a9a9a9"/><stop offset="8.5%" stop-color="#acacac"/><stop offset="10.6%" stop-color="#afafaf"/><stop offset="12.7%" stop-color="#b3b3b3"/><stop offset="14.9%" stop-color="#b6b6b6"/><stop offset="17%" stop-color="#b9b9b9"/><stop offset="19.1%" stop-color="#bebebe"/><stop offset="21.2%" stop-color="#c3c3c3"/><stop offset="23.4%" stop-color="#c9c9c9"/><stop offset="25.5%" stop-color="#cdcdcd"/><stop offset="27.6%" stop-color="#d2d2d2"/><stop offset="29.7%" stop-color="#d6d6d6"/><stop offset="31.9%" stop-color="#dadada"/><stop offset="34%" stop-color="#dddddd"/><stop offset="36.1%" stop-color="#e0e0e0"/><stop offset="38.2%" stop-color="#e3e3e3"/><stop offset="40.4%" stop-color="#e5e5e5"/><stop offset="42.5%" stop-color="#e7e7e7"/><stop offset="44.6%" stop-color="#e9e9e9"/><stop offset="46.7%" stop-color="#eaeaea"/><stop offset="48.8%" stop-color="#ececec"/><stop offset="51%" stop-color="#ededed"/><stop offset="53.1%" stop-color="#efefef"/><stop offset="55.2%" stop-color="#ececec"/><stop offset="57.3%" stop-color="#e9e9e9"/><stop offset="59.5%" stop-color="#e6e6e6"/><stop offset="61.6%" stop-color="#e3e3e3"/><stop offset="63.7%" stop-color="#e0e0e0"/><stop offset="65.8%" stop-color="#dbdbdb"/><stop offset="68%" stop-color="#d5d5d5"/><stop offset="70.1%" stop-color="#cecece"/><stop offset="72.2%" stop-color="#c7c7c7"/><stop offset="74.3%" stop-color="#bfbfbf"/><stop offset="76.5%" stop-color="#b8b8b8"/><stop offset="78.6%" stop-color="#afafaf"/><stop offset="80.7%" stop-color="#a6a6a6"/><stop offset="82.8%" stop-color="#9d9d9d"/><stop offset="85%" stop-color="#959595"/><stop offset="87.1%" stop-color="#8c8c8c"/><stop offset="89.2%" stop-color="#838383"/><stop offset="91.3%" stop-color="#7b7b7b"/><stop offset="93.5%" stop-color="#727272"/><stop offset="95.6%" stop-color="#555555"/><stop offset="97.7%" stop-color="#101010"/><stop offset="99.8%" stop-color="#070707"/><stop offset="100%" stop-color="#070707"/></linearGradient><linearGradient id="gA16"><stop offset="0%" stop-color="#b8b8b8"/><stop offset="2.1%" stop-color="#b8b8b8"/><stop offset="4.2%" stop-color="#b8b8b8"/><stop offset="6.4%" stop-color="#bababa"/><stop offset="8.5%" stop-color="#bdbdbd"/><stop offset="10.6%" stop-color="#bfbfbf"/><stop offset="12.7%" stop-color="#c2c2c2"/><stop offset="14.9%" stop-color="#c4c4c4"/><stop offset="17%" stop-color="#c6c6c6"/><stop offset="19.1%" stop-color="#cacaca"/><stop offset="21.2%" stop-color="#cdcdcd"/><stop offset="23.4%" stop-color="#d1d1d1"/><stop offset="25.5%" stop-color="#d4d4d4"/><stop offset="27.6%" stop-color="#d7d7d7"/><stop offset="29.7%" stop-color="#dadada"/><stop offset="31.9%" stop-color="#dcdcdc"/><stop offset="34%" stop-color="#dfdfdf"/><stop offset="36.1%" stop-color="#e1e1e1"/><stop offset="38.2%" stop-color="#e3e3e3"/><stop offset="40.4%" stop-color="#e5e5e5"/><stop offset="42.5%" stop-color="#e6e6e6"/><stop offset="44.6%" stop-color="#e8e8e8"/><stop offset="46.7%" stop-color="#e9e9e9"/><stop offset="48.8%" stop-color="#ebebeb"/><stop offset="51%" stop-color="#ececec"/><stop offset="53.1%" stop-color="#ededed"/><stop offset="55.2%" stop-color="#ebebeb"/><stop offset="57.3%" stop-color="#e8e8e8"/><stop offset="59.5%" stop-color="#e5e5e5"/><stop offset="61.6%" stop-color="#e2e2e2"/><stop offset="63.7%" stop-color="#dfdfdf"/><stop offset="65.8%" stop-color="#dbdbdb"/><stop offset="68%" stop-color="#d4d4d4"/><stop offset="70.1%" stop-color="#cecece"/><stop offset="72.2%" stop-color="#c7c7c7"/><stop offset="74.3%" stop-color="#c1c1c1"/><stop offset="76.5%" stop-color="#bababa"/><stop offset="78.6%" stop-color="#b2b2b2"/><stop offset="80.7%" stop-color="#aaaaaa"/><stop offset="82.8%" stop-color="#a2a2a2"/><stop offset="85%" stop-color="#9a9a9a"/><stop offset="87.1%" stop-color="#929292"/><stop offset="89.2%" stop-color="#8a8a8a"/><stop offset="91.3%" stop-color="#828282"/><stop offset="93.5%" stop-color="#787878"/><stop offset="95.6%" stop-color="#595959"/><stop offset="97.7%" stop-color="#111111"/><stop offset="99.8%" stop-color="#070707"/><stop offset="100%" stop-color="#070707"/></linearGradient><linearGradient id="gA17"><stop offset="0%" stop-color="#c0c0c0"/><stop offset="2.1%" stop-color="#c0c0c0"/><stop offset="4.2%" stop-color="#c0c0c0"/><stop offset="6.4%" stop-color="#c2c2c2"/><stop offset="8.5%" stop-color="#c4c4c4"/><stop offset="10.6%" stop-color="#c6c6c6"/><stop offset="12.7%" stop-color="#c7c7c7"/><stop offset="14.9%" stop-color="#c9c9c9"/><stop offset="17%" stop-color="#cbcbcb"/><stop offset="19.1%" stop-color="#cdcdcd"/><stop offset="21.2%" stop-color="#d0d0d0"/><stop offset="23.4%" stop-color="#d3d3d3"/><stop offset="25.5%" stop-color="#d5d5d5"/><stop offset="27.6%" stop-color="#d7d7d7"/><stop offset="29.7%" stop-color="#dadada"/><stop offset="31.9%" stop-color="#dcdcdc"/><stop offset="34%" stop-color="#dedede"/><stop offset="36.1%" stop-color="#e0e0e0"/><stop offset="38.2%" stop-color="#e1e1e1"/><stop offset="40.4%" stop-color="#e3e3e3"/><stop offset="42.5%" stop-color="#e4e4e4"/><stop offset="44.6%" stop-color="#e5e5e5"/><stop offset="46.7%" stop-color="#e7e7e7"/><stop offset="48.8%" stop-color="#e8e8e8"/><stop offset="51%" stop-color="#eaeaea"/><stop offset="53.1%" stop-color="#ebebeb"/><stop offset="55.2%" stop-color="#e8e8e8"/><stop offset="57.3%" stop-color="#e6e6e6"/><stop offset="59.5%" stop-color="#e3e3e3"/><stop offset="61.6%" stop-color="#e0e0e0"/><stop offset="63.7%" stop-color="#dddddd"/><stop offset="65.8%" stop-color="#d9d9d9"/><stop offset="68%" stop-color="#d2d2d2"/><stop offset="70.1%" stop-color="#cccccc"/><stop offset="72.2%" stop-color="#c6c6c6"/><stop offset="74.3%" stop-color="#bfbfbf"/><stop offset="76.5%" stop-color="#b9b9b9"/><stop offset="78.6%" stop-color="#b2b2b2"/><stop offset="80.7%" stop-color="#aaaaaa"/><stop offset="82.8%" stop-color="#a2a2a2"/><stop offset="85%" stop-color="#9b9b9b"/><stop offset="87.1%" stop-color="#949494"/><stop offset="89.2%" stop-color="#8c8c8c"/><stop offset="91.3%" stop-color="#848484"/><stop offset="93.5%" stop-color="#7a7a7a"/><stop offset="95.6%" stop-color="#5b5b5b"/><stop offset="97.7%" stop-color="#111111"/><stop offset="99.8%" stop-color="#070707"/><stop offset="100%" stop-color="#070707"/></linearGradient><linearGradient id="gA18"><stop offset="0%" stop-color="#c1c1c1"/><stop offset="2.1%" stop-color="#c1c1c1"/><stop offset="4.2%" stop-color="#c1c1c1"/><stop offset="6.4%" stop-color="#c3c3c3"/><stop offset="8.5%" stop-color="#c5c5c5"/><stop offset="10.6%" stop-color="#c6c6c6"/><stop offset="12.7%" stop-color="#c8c8c8"/><stop offset="14.9%" stop-color="#c9c9c9"/><stop offset="17%" stop-color="#cbcbcb"/><stop offset="19.1%" stop-color="#cdcdcd"/><stop offset="21.2%" stop-color="#cfcfcf"/><stop offset="23.4%" stop-color="#d1d1d1"/><stop offset="25.5%" stop-color="#d3d3d3"/><stop offset="27.6%" stop-color="#d5d5d5"/><stop offset="29.7%" stop-color="#d7d7d7"/><stop offset="31.9%" stop-color="#d9d9d9"/><stop offset="34%" stop-color="#dbdbdb"/><stop offset="36.1%" stop-color="#dddddd"/><stop offset="38.2%" stop-color="#dedede"/><stop offset="40.4%" stop-color="#dfdfdf"/><stop offset="42.5%" stop-color="#e1e1e1"/><stop offset="44.6%" stop-color="#e2e2e2"/><stop offset="46.7%" stop-color="#e3e3e3"/><stop offset="48.8%" stop-color="#e5e5e5"/><stop offset="51%" stop-color="#e6e6e6"/><stop offset="53.1%" stop-color="#e7e7e7"/><stop offset="55.2%" stop-color="#e5e5e5"/><stop offset="57.3%" stop-color="#e2e2e2"/><stop offset="59.5%" stop-color="#dfdfdf"/><stop offset="61.6%" stop-color="#dddddd"/><stop offset="63.7%" stop-color="#dadada"/><stop offset="65.8%" stop-color="#d5d5d5"/><stop offset="68%" stop-color="#cfcfcf"/><stop offset="70.1%" stop-color="#c9c9c9"/><stop offset="72.2%" stop-color="#c3c3c3"/><stop offset="74.3%" stop-color="#bdbdbd"/><stop offset="76.5%" stop-color="#b7b7b7"/><stop offset="78.6%" stop-color="#afafaf"/><stop offset="80.7%" stop-color="#a8a8a8"/><stop offset="82.8%" stop-color="#a0a0a0"/><stop offset="85%" stop-color="#9a9a9a"/><stop offset="87.1%" stop-color="#939393"/><stop offset="89.2%" stop-color="#8b8b8b"/><stop offset="91.3%" stop-color="#838383"/><stop offset="93.5%" stop-color="#797979"/><stop offset="95.6%" stop-color="#5a5a5a"/><stop offset="97.7%" stop-color="#111111"/><stop offset="99.8%" stop-color="#070707"/><stop offset="100%" stop-color="#070707"/></linearGradient><linearGradient id="gA19"><stop offset="0%" stop-color="#bfbfbf"/><stop offset="2.1%" stop-color="#bfbfbf"/><stop offset="4.2%" stop-color="#bfbfbf"/><stop offset="6.4%" stop-color="#c1c1c1"/><stop offset="8.5%" stop-color="#c2c2c2"/><stop offset="10.6%" stop-color="#c3c3c3"/><stop offset="12.7%" stop-color="#c5c5c5"/><stop offset="14.9%" stop-color="#c6c6c6"/><stop offset="17%" stop-color="#c8c8c8"/><stop offset="19.1%" stop-color="#c9c9c9"/><stop offset="21.2%" stop-color="#cbcbcb"/><stop offset="23.4%" stop-color="#cdcdcd"/><stop offset="25.5%" stop-color="#cfcfcf"/><stop offset="27.6%" stop-color="#d1d1d1"/><stop offset="29.7%" stop-color="#d3d3d3"/><stop offset="31.9%" stop-color="#d5d5d5"/><stop offset="34%" stop-color="#d7d7d7"/><stop offset="36.1%" stop-color="#d8d8d8"/><stop offset="38.2%" stop-color="#d9d9d9"/><stop offset="40.4%" stop-color="#dadada"/><stop offset="42.5%" stop-color="#dcdcdc"/><stop offset="44.6%" stop-color="#dddddd"/><stop offset="46.7%" stop-color="#dedede"/><stop offset="48.8%" stop-color="#e0e0e0"/><stop offset="51%" stop-color="#e1e1e1"/><stop offset="53.1%" stop-color="#e2e2e2"/><stop offset="55.2%" stop-color="#e0e0e0"/><stop offset="57.3%" stop-color="#dddddd"/><stop offset="59.5%" stop-color="#dbdbdb"/><stop offset="61.6%" stop-color="#d8d8d8"/><stop offset="63.7%" stop-color="#d5d5d5"/><stop offset="65.8%" stop-color="#d1d1d1"/><stop offset="68%" stop-color="#cbcbcb"/><stop offset="70.1%" stop-color="#c5c5c5"/><stop offset="72.2%" stop-color="#bfbfbf"/><stop offset="74.3%" stop-color="#b9b9b9"/><stop offset="76.5%" stop-color="#b3b3b3"/><stop offset="78.6%" stop-color="#acacac"/><stop offset="80.7%" stop-color="#a5a5a5"/><stop offset="82.8%" stop-color="#9d9d9d"/><stop offset="85%" stop-color="#979797"/><stop offset="87.1%" stop-color="#909090"/><stop offset="89.2%" stop-color="#898989"/><stop offset="91.3%" stop-color="#818181"/><stop offset="93.5%" stop-color="#787878"/><stop offset="95.6%" stop-color="#595959"/><stop offset="97.7%" stop-color="#111111"/><stop offset="99.8%" stop-color="#070707"/><stop offset="100%" stop-color="#070707"/></linearGradient><linearGradient id="gA20"><stop offset="0%" stop-color="#bababa"/><stop offset="2.1%" stop-color="#bababa"/><stop offset="4.2%" stop-color="#bababa"/><stop offset="6.4%" stop-color="#bcbcbc"/><stop offset="8.5%" stop-color="#bdbdbd"/><stop offset="10.6%" stop-color="#bebebe"/><stop offset="12.7%" stop-color="#c0c0c0"/><stop offset="14.9%" stop-color="#c1c1c1"/><stop offset="17%" stop-color="#c2c2c2"/><stop offset="19.1%" stop-color="#c4c4c4"/><stop offset="21.2%" stop-color="#c6c6c6"/><stop offset="23.4%" stop-color="#c8c8c8"/><stop offset="25.5%" stop-color="#cacaca"/><stop offset="27.6%" stop-color="#cccccc"/><stop offset="29.7%" stop-color="#cdcdcd"/><stop offset="31.9%" stop-color="#cfcfcf"/><stop offset="34%" stop-color="#d1d1d1"/><stop offset="36.1%" stop-color="#d2d2d2"/><stop offset="38.2%" stop-color="#d3d3d3"/><stop offset="40.4%" stop-color="#d4d4d4"/><stop offset="42.5%" stop-color="#d5d5d5"/><stop offset="44.6%" stop-color="#d6d6d6"/><stop offset="46.7%" stop-color="#d8d8d8"/><stop offset="48.8%" stop-color="#d9d9d9"/><stop offset="51%" stop-color="#dadada"/><stop offset="53.1%" stop-color="#dbdbdb"/><stop offset="55.2%" stop-color="#d9d9d9"/><stop offset="57.3%" stop-color="#d7d7d7"/><stop offset="59.5%" stop-color="#d4d4d4"/><stop offset="61.6%" stop-color="#d1d1d1"/><stop offset="63.7%" stop-color="#cfcfcf"/><stop offset="65.8%" stop-color="#cacaca"/><stop offset="68%" stop-color="#c5c5c5"/><stop offset="70.1%" stop-color="#bfbfbf"/><stop offset="72.2%" stop-color="#b9b9b9"/><stop offset="74.3%" stop-color="#b3b3b3"/><stop offset="76.5%" stop-color="#aeaeae"/><stop offset="78.6%" stop-color="#a7a7a7"/><stop offset="80.7%" stop-color="#a0a0a0"/><stop offset="82.8%" stop-color="#999999"/><stop offset="85%" stop-color="#939393"/><stop offset="87.1%" stop-color="#8c8c8c"/><stop offset="89.2%" stop-color="#868686"/><stop offset="91.3%" stop-color="#7e7e7e"/><stop offset="93.5%" stop-color="#757575"/><stop offset="95.6%" stop-color="#575757"/><stop offset="97.7%" stop-color="#111111"/><stop offset="99.8%" stop-color="#070707"/><stop offset="100%" stop-color="#070707"/></linearGradient><linearGradient id="gA21"><stop offset="0%" stop-color="#b4b4b4"/><stop offset="2.1%" stop-color="#b4b4b4"/><stop offset="4.2%" stop-color="#b4b4b4"/><stop offset="6.4%" stop-color="#b5b5b5"/><stop offset="8.5%" stop-color="#b6b6b6"/><stop offset="10.6%" stop-color="#b7b7b7"/><stop offset="12.7%" stop-color="#b9b9b9"/><stop offset="14.9%" stop-color="#bababa"/><stop offset="17%" stop-color="#bbbbbb"/><stop offset="19.1%" stop-color="#bdbdbd"/><stop offset="21.2%" stop-color="#bfbfbf"/><stop offset="23.4%" stop-color="#c0c0c0"/><stop offset="25.5%" stop-color="#c2c2c2"/><stop offset="27.6%" stop-color="#c4c4c4"/><stop offset="29.7%" stop-color="#c6c6c6"/><stop offset="31.9%" stop-color="#c7c7c7"/><stop offset="34%" stop-color="#c8c8c8"/><stop offset="36.1%" stop-color="#cacaca"/><stop offset="38.2%" stop-color="#cacaca"/><stop offset="40.4%" stop-color="#cbcbcb"/><stop offset="42.5%" stop-color="#cccccc"/><stop offset="44.6%" stop-color="#cdcdcd"/><stop offset="46.7%" stop-color="#cfcfcf"/><stop offset="48.8%" stop-color="#d0d0d0"/><stop offset="51%" stop-color="#d1d1d1"/><stop offset="53.1%" stop-color="#d2d2d2"/><stop offset="55.2%" stop-color="#d0d0d0"/><stop offset="57.3%" stop-color="#cecece"/><stop offset="59.5%" stop-color="#cbcbcb"/><stop offset="61.6%" stop-color="#c9c9c9"/><stop offset="63.7%" stop-color="#c6c6c6"/><stop offset="65.8%" stop-color="#c2c2c2"/><stop offset="68%" stop-color="#bcbcbc"/><stop offset="70.1%" stop-color="#b7b7b7"/><stop offset="72.2%" stop-color="#b1b1b1"/><stop offset="74.3%" stop-color="#acacac"/><stop offset="76.5%" stop-color="#a7a7a7"/><stop offset="78.6%" stop-color="#a0a0a0"/><stop offset="80.7%" stop-color="#9a9a9a"/><stop offset="82.8%" stop-color="#939393"/><stop offset="85%" stop-color="#8d8d8d"/><stop offset="87.1%" stop-color="#878787"/><stop offset="89.2%" stop-color="#818181"/><stop offset="91.3%" stop-color="#797979"/><stop offset="93.5%" stop-color="#717171"/><stop offset="95.6%" stop-color="#555555"/><stop offset="97.7%" stop-color="#101010"/><stop offset="99.8%" stop-color="#070707"/><stop offset="100%" stop-color="#070707"/></linearGradient><linearGradient id="gA22"><stop offset="0%" stop-color="#ababab"/><stop offset="2.1%" stop-color="#ababab"/><stop offset="4.2%" stop-color="#ababab"/><stop offset="6.4%" stop-color="#acacac"/><stop offset="8.5%" stop-color="#adadad"/><stop offset="10.6%" stop-color="#aeaeae"/><stop offset="12.7%" stop-color="#afafaf"/><stop offset="14.9%" stop-color="#b1b1b1"/><stop offset="17%" stop-color="#b2b2b2"/><stop offset="19.1%" stop-color="#b3b3b3"/><stop offset="21.2%" stop-color="#b5b5b5"/><stop offset="23.4%" stop-color="#b7b7b7"/><stop offset="25.5%" stop-color="#b8b8b8"/><stop offset="27.6%" stop-color="#bababa"/><stop offset="29.7%" stop-color="#bcbcbc"/><stop offset="31.9%" stop-color="#bdbdbd"/><stop offset="34%" stop-color="#bebebe"/><stop offset="36.1%" stop-color="#bfbfbf"/><stop offset="38.2%" stop-color="#bfbfbf"/><stop offset="40.4%" stop-color="#c0c0c0"/><stop offset="42.5%" stop-color="#c1c1c1"/><stop offset="44.6%" stop-color="#c2c2c2"/><stop offset="46.7%" stop-color="#c3c3c3"/><stop offset="48.8%" stop-color="#c4c4c4"/><stop offset="51%" stop-color="#c5c5c5"/><stop offset="53.1%" stop-color="#c7c7c7"/><stop offset="55.2%" stop-color="#c5c5c5"/><stop offset="57.3%" stop-color="#c2c2c2"/><stop offset="59.5%" stop-color="#c0c0c0"/><stop offset="61.6%" stop-color="#bebebe"/><stop offset="63.7%" stop-color="#bbbbbb"/><stop offset="65.8%" stop-color="#b7b7b7"/><stop offset="68%" stop-color="#b2b2b2"/><stop offset="70.1%" stop-color="#adadad"/><stop offset="72.2%" stop-color="#a8a8a8"/><stop offset="74.3%" stop-color="#a3a3a3"/><stop offset="76.5%" stop-color="#9e9e9e"/><stop offset="78.6%" stop-color="#989898"/><stop offset="80.7%" stop-color="#929292"/><stop offset="82.8%" stop-color="#8c8c8c"/><stop offset="85%" stop-color="#868686"/><stop offset="87.1%" stop-color="#808080"/><stop offset="89.2%" stop-color="#7a7a7a"/><stop offset="91.3%" stop-color="#747474"/><stop offset="93.5%" stop-color="#6c6c6c"/><stop offset="95.6%" stop-color="#525252"/><stop offset="97.7%" stop-color="#101010"/><stop offset="99.8%" stop-color="#070707"/><stop offset="100%" stop-color="#070707"/></linearGradient><linearGradient id="gA23"><stop offset="0%" stop-color="#9f9f9f"/><stop offset="2.1%" stop-color="#9f9f9f"/><stop offset="4.2%" stop-color="#9f9f9f"/><stop offset="6.4%" stop-color="#a0a0a0"/><stop offset="8.5%" stop-color="#a1a1a1"/><stop offset="10.6%" stop-color="#a2a2a2"/><stop offset="12.7%" stop-color="#a3a3a3"/><stop offset="14.9%" stop-color="#a5a5a5"/><stop offset="17%" stop-color="#a6a6a6"/><stop offset="19.1%" stop-color="#a7a7a7"/><stop offset="21.2%" stop-color="#a9a9a9"/><stop offset="23.4%" stop-color="#aaaaaa"/><stop offset="25.5%" stop-color="#acacac"/><stop offset="27.6%" stop-color="#aeaeae"/><stop offset="29.7%" stop-color="#afafaf"/><stop offset="31.9%" stop-color="#b0b0b0"/><stop offset="34%" stop-color="#b1b1b1"/><stop offset="36.1%" stop-color="#b2b2b2"/><stop offset="38.2%" stop-color="#b2b2b2"/><stop offset="40.4%" stop-color="#b2b2b2"/><stop offset="42.5%" stop-color="#b3b3b3"/><stop offset="44.6%" stop-color="#b4b4b4"/><stop offset="46.7%" stop-color="#b5b5b5"/><stop offset="48.8%" stop-color="#b6b6b6"/><stop offset="51%" stop-color="#b7b7b7"/><stop offset="53.1%" stop-color="#b8b8b8"/><stop offset="55.2%" stop-color="#b6b6b6"/><stop offset="57.3%" stop-color="#b5b5b5"/><stop offset="59.5%" stop-color="#b3b3b3"/><stop offset="61.6%" stop-color="#b0b0b0"/><stop offset="63.7%" stop-color="#aeaeae"/><stop offset="65.8%" stop-color="#aaaaaa"/><stop offset="68%" stop-color="#a5a5a5"/><stop offset="70.1%" stop-color="#a0a0a0"/><stop offset="72.2%" stop-color="#9c9c9c"/><stop offset="74.3%" stop-color="#979797"/><stop offset="76.5%" stop-color="#929292"/><stop offset="78.6%" stop-color="#8d8d8d"/><stop offset="80.7%" stop-color="#878787"/><stop offset="82.8%" stop-color="#828282"/><stop offset="85%" stop-color="#7d7d7d"/><stop offset="87.1%" stop-color="#787878"/><stop offset="89.2%" stop-color="#727272"/><stop offset="91.3%" stop-color="#6c6c6c"/><stop offset="93.5%" stop-color="#656565"/><stop offset="95.6%" stop-color="#4d4d4d"/><stop offset="97.7%" stop-color="#101010"/><stop offset="99.8%" stop-color="#070707"/><stop offset="100%" stop-color="#070707"/></linearGradient><linearGradient id="gA24"><stop offset="0%" stop-color="#909090"/><stop offset="2.1%" stop-color="#909090"/><stop offset="4.2%" stop-color="#909090"/><stop offset="6.4%" stop-color="#919191"/><stop offset="8.5%" stop-color="#929292"/><stop offset="10.6%" stop-color="#939393"/><stop offset="12.7%" stop-color="#949494"/><stop offset="14.9%" stop-color="#959595"/><stop offset="17%" stop-color="#979797"/><stop offset="19.1%" stop-color="#989898"/><stop offset="21.2%" stop-color="#999999"/><stop offset="23.4%" stop-color="#9b9b9b"/><stop offset="25.5%" stop-color="#9c9c9c"/><stop offset="27.6%" stop-color="#9e9e9e"/><stop offset="29.7%" stop-color="#9f9f9f"/><stop offset="31.9%" stop-color="#a0a0a0"/><stop offset="34%" stop-color="#a1a1a1"/><stop offset="36.1%" stop-color="#a1a1a1"/><stop offset="38.2%" stop-color="#a1a1a1"/><stop offset="40.4%" stop-color="#a1a1a1"/><stop offset="42.5%" stop-color="#a2a2a2"/><stop offset="44.6%" stop-color="#a3a3a3"/><stop offset="46.7%" stop-color="#a4a4a4"/><stop offset="48.8%" stop-color="#a5a5a5"/><stop offset="51%" stop-color="#a6a6a6"/><stop offset="53.1%" stop-color="#a7a7a7"/><stop offset="55.2%" stop-color="#a5a5a5"/><stop offset="57.3%" stop-color="#a4a4a4"/><stop offset="59.5%" stop-color="#a2a2a2"/><stop offset="61.6%" stop-color="#a0a0a0"/><stop offset="63.7%" stop-color="#9d9d9d"/><stop offset="65.8%" stop-color="#9a9a9a"/><stop offset="68%" stop-color="#969696"/><stop offset="70.1%" stop-color="#919191"/><stop offset="72.2%" stop-color="#8d8d8d"/><stop offset="74.3%" stop-color="#898989"/><stop offset="76.5%" stop-color="#858585"/><stop offset="78.6%" stop-color="#808080"/><stop offset="80.7%" stop-color="#7b7b7b"/><stop offset="82.8%" stop-color="#767676"/><stop offset="85%" stop-color="#727272"/><stop offset="87.1%" stop-color="#6d6d6d"/><stop offset="89.2%" stop-color="#686868"/><stop offset="91.3%" stop-color="#636363"/><stop offset="93.5%" stop-color="#5d5d5d"/><stop offset="95.6%" stop-color="#474747"/><stop offset="97.7%" stop-color="#0f0f0f"/><stop offset="99.8%" stop-color="#070707"/><stop offset="100%" stop-color="#070707"/></linearGradient><linearGradient id="gA25"><stop offset="0%" stop-color="#7c7c7c"/><stop offset="2.1%" stop-color="#7c7c7c"/><stop offset="4.2%" stop-color="#7c7c7c"/><stop offset="6.4%" stop-color="#7e7e7e"/><stop offset="8.5%" stop-color="#7f7f7f"/><stop offset="10.6%" stop-color="#808080"/><stop offset="12.7%" stop-color="#818181"/><stop offset="14.9%" stop-color="#828282"/><stop offset="17%" stop-color="#838383"/><stop offset="19.1%" stop-color="#858585"/><stop offset="21.2%" stop-color="#868686"/><stop offset="23.4%" stop-color="#888888"/><stop offset="25.5%" stop-color="#898989"/><stop offset="27.6%" stop-color="#8b8b8b"/><stop offset="29.7%" stop-color="#8c8c8c"/><stop offset="31.9%" stop-color="#8d8d8d"/><stop offset="34%" stop-color="#8d8d8d"/><stop offset="36.1%" stop-color="#8e8e8e"/><stop offset="38.2%" stop-color="#8e8e8e"/><stop offset="40.4%" stop-color="#8d8d8d"/><stop offset="42.5%" stop-color="#8e8e8e"/><stop offset="44.6%" stop-color="#8f8f8f"/><stop offset="46.7%" stop-color="#909090"/><stop offset="48.8%" stop-color="#909090"/><stop offset="51%" stop-color="#919191"/><stop offset="53.1%" stop-color="#929292"/><stop offset="55.2%" stop-color="#919191"/><stop offset="57.3%" stop-color="#909090"/><stop offset="59.5%" stop-color="#8e8e8e"/><stop offset="61.6%" stop-color="#8c8c8c"/><stop offset="63.7%" stop-color="#8a8a8a"/><stop offset="65.8%" stop-color="#878787"/><stop offset="68%" stop-color="#838383"/><stop offset="70.1%" stop-color="#7f7f7f"/><stop offset="72.2%" stop-color="#7c7c7c"/><stop offset="74.3%" stop-color="#787878"/><stop offset="76.5%" stop-color="#747474"/><stop offset="78.6%" stop-color="#707070"/><stop offset="80.7%" stop-color="#6c6c6c"/><stop offset="82.8%" stop-color="#686868"/><stop offset="85%" stop-color="#646464"/><stop offset="87.1%" stop-color="#606060"/><stop offset="89.2%" stop-color="#5b5b5b"/><stop offset="91.3%" stop-color="#575757"/><stop offset="93.5%" stop-color="#515151"/><stop offset="95.6%" stop-color="#3f3f3f"/><stop offset="97.7%" stop-color="#0e0e0e"/><stop offset="99.8%" stop-color="#070707"/><stop offset="100%" stop-color="#070707"/></linearGradient><linearGradient id="gA26"><stop offset="0%" stop-color="#666666"/><stop offset="2.1%" stop-color="#666666"/><stop offset="4.2%" stop-color="#666666"/><stop offset="6.4%" stop-color="#676767"/><stop offset="8.5%" stop-color="#686868"/><stop offset="10.6%" stop-color="#696969"/><stop offset="12.7%" stop-color="#6a6a6a"/><stop offset="14.9%" stop-color="#6c6c6c"/><stop offset="17%" stop-color="#6d6d6d"/><stop offset="19.1%" stop-color="#6e6e6e"/><stop offset="21.2%" stop-color="#6f6f6f"/><stop offset="23.4%" stop-color="#717171"/><stop offset="25.5%" stop-color="#727272"/><stop offset="27.6%" stop-color="#747474"/><stop offset="29.7%" stop-color="#757575"/><stop offset="31.9%" stop-color="#767676"/><stop offset="34%" stop-color="#767676"/><stop offset="36.1%" stop-color="#777777"/><stop offset="38.2%" stop-color="#777777"/><stop offset="40.4%" stop-color="#777777"/><stop offset="42.5%" stop-color="#777777"/><stop offset="44.6%" stop-color="#787878"/><stop offset="46.7%" stop-color="#797979"/><stop offset="48.8%" stop-color="#797979"/><stop offset="51%" stop-color="#7a7a7a"/><stop offset="53.1%" stop-color="#7b7b7b"/><stop offset="55.2%" stop-color="#7a7a7a"/><stop offset="57.3%" stop-color="#797979"/><stop offset="59.5%" stop-color="#787878"/><stop offset="61.6%" stop-color="#767676"/><stop offset="63.7%" stop-color="#747474"/><stop offset="65.8%" stop-color="#717171"/><stop offset="68%" stop-color="#6e6e6e"/><stop offset="70.1%" stop-color="#6b6b6b"/><stop offset="72.2%" stop-color="#686868"/><stop offset="74.3%" stop-color="#646464"/><stop offset="76.5%" stop-color="#616161"/><stop offset="78.6%" stop-color="#5e5e5e"/><stop offset="80.7%" stop-color="#5a5a5a"/><stop offset="82.8%" stop-color="#575757"/><stop offset="85%" stop-color="#535353"/><stop offset="87.1%" stop-color="#505050"/><stop offset="89.2%" stop-color="#4c4c4c"/><stop offset="91.3%" stop-color="#484848"/><stop offset="93.5%" stop-color="#444444"/><stop offset="95.6%" stop-color="#353535"/><stop offset="97.7%" stop-color="#0d0d0d"/><stop offset="99.8%" stop-color="#070707"/><stop offset="100%" stop-color="#070707"/></linearGradient><linearGradient id="gA27"><stop offset="0%" stop-color="#4f4f4f"/><stop offset="2.1%" stop-color="#4f4f4f"/><stop offset="4.2%" stop-color="#4f4f4f"/><stop offset="6.4%" stop-color="#505050"/><stop offset="8.5%" stop-color="#515151"/><stop offset="10.6%" stop-color="#525252"/><stop offset="12.7%" stop-color="#535353"/><stop offset="14.9%" stop-color="#545454"/><stop offset="17%" stop-color="#555555"/><stop offset="19.1%" stop-color="#565656"/><stop offset="21.2%" stop-color="#585858"/><stop offset="23.4%" stop-color="#595959"/><stop offset="25.5%" stop-color="#5a5a5a"/><stop offset="27.6%" stop-color="#5c5c5c"/><stop offset="29.7%" stop-color="#5d5d5d"/><stop offset="31.9%" stop-color="#5e5e5e"/><stop offset="34%" stop-color="#5e5e5e"/><stop offset="36.1%" stop-color="#5f5f5f"/><stop offset="38.2%" stop-color="#5f5f5f"/><stop offset="40.4%" stop-color="#5f5f5f"/><stop offset="42.5%" stop-color="#5f5f5f"/><stop offset="44.6%" stop-color="#606060"/><stop offset="46.7%" stop-color="#606060"/><stop offset="48.8%" stop-color="#616161"/><stop offset="51%" stop-color="#626262"/><stop offset="53.1%" stop-color="#626262"/><stop offset="55.2%" stop-color="#626262"/><stop offset="57.3%" stop-color="#616161"/><stop offset="59.5%" stop-color="#606060"/><stop offset="61.6%" stop-color="#5f5f5f"/><stop offset="63.7%" stop-color="#5d5d5d"/><stop offset="65.8%" stop-color="#5b5b5b"/><stop offset="68%" stop-color="#585858"/><stop offset="70.1%" stop-color="#555555"/><stop offset="72.2%" stop-color="#535353"/><stop offset="74.3%" stop-color="#505050"/><stop offset="76.5%" stop-color="#4e4e4e"/><stop offset="78.6%" stop-color="#4b4b4b"/><stop offset="80.7%" stop-color="#484848"/><stop offset="82.8%" stop-color="#454545"/><stop offset="85%" stop-color="#424242"/><stop offset="87.1%" stop-color="#3f3f3f"/><stop offset="89.2%" stop-color="#3d3d3d"/><stop offset="91.3%" stop-color="#393939"/><stop offset="93.5%" stop-color="#363636"/><stop offset="95.6%" stop-color="#2a2a2a"/><stop offset="97.7%" stop-color="#0b0b0b"/><stop offset="99.8%" stop-color="#070707"/><stop offset="100%" stop-color="#070707"/></linearGradient><linearGradient id="gA28"><stop offset="0%" stop-color="#3b3b3b"/><stop offset="2.1%" stop-color="#3b3b3b"/><stop offset="4.2%" stop-color="#3b3b3b"/><stop offset="6.4%" stop-color="#3c3c3c"/><stop offset="8.5%" stop-color="#3d3d3d"/><stop offset="10.6%" stop-color="#3e3e3e"/><stop offset="12.7%" stop-color="#3e3e3e"/><stop offset="14.9%" stop-color="#3f3f3f"/><stop offset="17%" stop-color="#404040"/><stop offset="19.1%" stop-color="#414141"/><stop offset="21.2%" stop-color="#424242"/><stop offset="23.4%" stop-color="#434343"/><stop offset="25.5%" stop-color="#444444"/><stop offset="27.6%" stop-color="#454545"/><stop offset="29.7%" stop-color="#464646"/><stop offset="31.9%" stop-color="#474747"/><stop offset="34%" stop-color="#484848"/><stop offset="36.1%" stop-color="#484848"/><stop offset="38.2%" stop-color="#494949"/><stop offset="40.4%" stop-color="#494949"/><stop offset="42.5%" stop-color="#494949"/><stop offset="44.6%" stop-color="#4a4a4a"/><stop offset="46.7%" stop-color="#4a4a4a"/><stop offset="48.8%" stop-color="#4b4b4b"/><stop offset="51%" stop-color="#4b4b4b"/><stop offset="53.1%" stop-color="#4c4c4c"/><stop offset="55.2%" stop-color="#4b4b4b"/><stop offset="57.3%" stop-color="#4b4b4b"/><stop offset="59.5%" stop-color="#4a4a4a"/><stop offset="61.6%" stop-color="#494949"/><stop offset="63.7%" stop-color="#484848"/><stop offset="65.8%" stop-color="#464646"/><stop offset="68%" stop-color="#444444"/><stop offset="70.1%" stop-color="#424242"/><stop offset="72.2%" stop-color="#404040"/><stop offset="74.3%" stop-color="#3e3e3e"/><stop offset="76.5%" stop-color="#3c3c3c"/><stop offset="78.6%" stop-color="#393939"/><stop offset="80.7%" stop-color="#373737"/><stop offset="82.8%" stop-color="#353535"/><stop offset="85%" stop-color="#333333"/><stop offset="87.1%" stop-color="#313131"/><stop offset="89.2%" stop-color="#2e2e2e"/><stop offset="91.3%" stop-color="#2c2c2c"/><stop offset="93.5%" stop-color="#292929"/><stop offset="95.6%" stop-color="#212121"/><stop offset="97.7%" stop-color="#0a0a0a"/><stop offset="99.8%" stop-color="#070707"/><stop offset="100%" stop-color="#070707"/></linearGradient><linearGradient id="gA29"><stop offset="0%" stop-color="#2c2c2c"/><stop offset="2.1%" stop-color="#2c2c2c"/><stop offset="4.2%" stop-color="#2c2c2c"/><stop offset="6.4%" stop-color="#2c2c2c"/><stop offset="8.5%" stop-color="#2d2d2d"/><stop offset="10.6%" stop-color="#2e2e2e"/><stop offset="12.7%" stop-color="#2e2e2e"/><stop offset="14.9%" stop-color="#2f2f2f"/><stop offset="17%" stop-color="#303030"/><stop offset="19.1%" stop-color="#303030"/><stop offset="21.2%" stop-color="#313131"/><stop offset="23.4%" stop-color="#323232"/><stop offset="25.5%" stop-color="#333333"/><stop offset="27.6%" stop-color="#343434"/><stop offset="29.7%" stop-color="#353535"/><stop offset="31.9%" stop-color="#353535"/><stop offset="34%" stop-color="#363636"/><stop offset="36.1%" stop-color="#363636"/><stop offset="38.2%" stop-color="#363636"/><stop offset="40.4%" stop-color="#373737"/><stop offset="42.5%" stop-color="#373737"/><stop offset="44.6%" stop-color="#373737"/><stop offset="46.7%" stop-color="#383838"/><stop offset="48.8%" stop-color="#383838"/><stop offset="51%" stop-color="#393939"/><stop offset="53.1%" stop-color="#393939"/><stop offset="55.2%" stop-color="#393939"/><stop offset="57.3%" stop-color="#383838"/><stop offset="59.5%" stop-color="#383838"/><stop offset="61.6%" stop-color="#373737"/><stop offset="63.7%" stop-color="#363636"/><stop offset="65.8%" stop-color="#353535"/><stop offset="68%" stop-color="#333333"/><stop offset="70.1%" stop-color="#323232"/><stop offset="72.2%" stop-color="#303030"/><stop offset="74.3%" stop-color="#2f2f2f"/><stop offset="76.5%" stop-color="#2d2d2d"/><stop offset="78.6%" stop-color="#2c2c2c"/><stop offset="80.7%" stop-color="#2a2a2a"/><stop offset="82.8%" stop-color="#282828"/><stop offset="85%" stop-color="#272727"/><stop offset="87.1%" stop-color="#252525"/><stop offset="89.2%" stop-color="#232323"/><stop offset="91.3%" stop-color="#222222"/><stop offset="93.5%" stop-color="#202020"/><stop offset="95.6%" stop-color="#191919"/><stop offset="97.7%" stop-color="#090909"/><stop offset="99.8%" stop-color="#070707"/><stop offset="100%" stop-color="#070707"/></linearGradient><linearGradient id="gA30"><stop offset="0%" stop-color="#212121"/><stop offset="2.1%" stop-color="#212121"/><stop offset="4.2%" stop-color="#212121"/><stop offset="6.4%" stop-color="#212121"/><stop offset="8.5%" stop-color="#222222"/><stop offset="10.6%" stop-color="#222222"/><stop offset="12.7%" stop-color="#232323"/><stop offset="14.9%" stop-color="#232323"/><stop offset="17%" stop-color="#242424"/><stop offset="19.1%" stop-color="#242424"/><stop offset="21.2%" stop-color="#252525"/><stop offset="23.4%" stop-color="#262626"/><stop offset="25.5%" stop-color="#262626"/><stop offset="27.6%" stop-color="#272727"/><stop offset="29.7%" stop-color="#272727"/><stop offset="31.9%" stop-color="#282828"/><stop offset="34%" stop-color="#282828"/><stop offset="36.1%" stop-color="#292929"/><stop offset="38.2%" stop-color="#292929"/><stop offset="40.4%" stop-color="#292929"/><stop offset="42.5%" stop-color="#292929"/><stop offset="44.6%" stop-color="#2a2a2a"/><stop offset="46.7%" stop-color="#2a2a2a"/><stop offset="48.8%" stop-color="#2a2a2a"/><stop offset="51%" stop-color="#2b2b2b"/><stop offset="53.1%" stop-color="#2b2b2b"/><stop offset="55.2%" stop-color="#2b2b2b"/><stop offset="57.3%" stop-color="#2b2b2b"/><stop offset="59.5%" stop-color="#2a2a2a"/><stop offset="61.6%" stop-color="#292929"/><stop offset="63.7%" stop-color="#292929"/><stop offset="65.8%" stop-color="#282828"/><stop offset="68%" stop-color="#272727"/><stop offset="70.1%" stop-color="#262626"/><stop offset="72.2%" stop-color="#252525"/><stop offset="74.3%" stop-color="#232323"/><stop offset="76.5%" stop-color="#222222"/><stop offset="78.6%" stop-color="#212121"/><stop offset="80.7%" stop-color="#202020"/><stop offset="82.8%" stop-color="#1f1f1f"/><stop offset="85%" stop-color="#1e1e1e"/><stop offset="87.1%" stop-color="#1d1d1d"/><stop offset="89.2%" stop-color="#1b1b1b"/><stop offset="91.3%" stop-color="#1a1a1a"/><stop offset="93.5%" stop-color="#191919"/><stop offset="95.6%" stop-color="#141414"/><stop offset="97.7%" stop-color="#090909"/><stop offset="99.8%" stop-color="#070707"/><stop offset="100%" stop-color="#070707"/></linearGradient><linearGradient id="gA31"><stop offset="0%" stop-color="#1a1a1a"/><stop offset="2.1%" stop-color="#1a1a1a"/><stop offset="4.2%" stop-color="#1a1a1a"/><stop offset="6.4%" stop-color="#1a1a1a"/><stop offset="8.5%" stop-color="#1b1b1b"/><stop offset="10.6%" stop-color="#1b1b1b"/><stop offset="12.7%" stop-color="#1b1b1b"/><stop offset="14.9%" stop-color="#1c1c1c"/><stop offset="17%" stop-color="#1c1c1c"/><stop offset="19.1%" stop-color="#1c1c1c"/><stop offset="21.2%" stop-color="#1d1d1d"/><stop offset="23.4%" stop-color="#1d1d1d"/><stop offset="25.5%" stop-color="#1e1e1e"/><stop offset="27.6%" stop-color="#1e1e1e"/><stop offset="29.7%" stop-color="#1f1f1f"/><stop offset="31.9%" stop-color="#1f1f1f"/><stop offset="34%" stop-color="#1f1f1f"/><stop offset="36.1%" stop-color="#202020"/><stop offset="38.2%" stop-color="#202020"/><stop offset="40.4%" stop-color="#202020"/><stop offset="42.5%" stop-color="#202020"/><stop offset="44.6%" stop-color="#202020"/><stop offset="46.7%" stop-color="#212121"/><stop offset="48.8%" stop-color="#212121"/><stop offset="51%" stop-color="#212121"/><stop offset="53.1%" stop-color="#212121"/><stop offset="55.2%" stop-color="#212121"/><stop offset="57.3%" stop-color="#212121"/><stop offset="59.5%" stop-color="#212121"/><stop offset="61.6%" stop-color="#202020"/><stop offset="63.7%" stop-color="#202020"/><stop offset="65.8%" stop-color="#1f1f1f"/><stop offset="68%" stop-color="#1e1e1e"/><stop offset="70.1%" stop-color="#1d1d1d"/><stop offset="72.2%" stop-color="#1d1d1d"/><stop offset="74.3%" stop-color="#1c1c1c"/><stop offset="76.5%" stop-color="#1b1b1b"/><stop offset="78.6%" stop-color="#1a1a1a"/><stop offset="80.7%" stop-color="#191919"/><stop offset="82.8%" stop-color="#191919"/><stop offset="85%" stop-color="#181818"/><stop offset="87.1%" stop-color="#171717"/><stop offset="89.2%" stop-color="#161616"/><stop offset="91.3%" stop-color="#151515"/><stop offset="93.5%" stop-color="#141414"/><stop offset="95.6%" stop-color="#111111"/><stop offset="97.7%" stop-color="#080808"/><stop offset="99.8%" stop-color="#070707"/><stop offset="100%" stop-color="#070707"/></linearGradient><linearGradient id="gA32"><stop offset="0%" stop-color="#1a1a1a"/><stop offset="2.1%" stop-color="#1a1a1a"/><stop offset="4.2%" stop-color="#1a1a1a"/><stop offset="6.4%" stop-color="#1a1a1a"/><stop offset="8.5%" stop-color="#1b1b1b"/><stop offset="10.6%" stop-color="#1b1b1b"/><stop offset="12.7%" stop-color="#1b1b1b"/><stop offset="14.9%" stop-color="#1c1c1c"/><stop offset="17%" stop-color="#1c1c1c"/><stop offset="19.1%" stop-color="#1c1c1c"/><stop offset="21.2%" stop-color="#1d1d1d"/><stop offset="23.4%" stop-color="#1d1d1d"/><stop offset="25.5%" stop-color="#1e1e1e"/><stop offset="27.6%" stop-color="#1e1e1e"/><stop offset="29.7%" stop-color="#1f1f1f"/><stop offset="31.9%" stop-color="#1f1f1f"/><stop offset="34%" stop-color="#1f1f1f"/><stop offset="36.1%" stop-color="#202020"/><stop offset="38.2%" stop-color="#202020"/><stop offset="40.4%" stop-color="#202020"/><stop offset="42.5%" stop-color="#202020"/><stop offset="44.6%" stop-color="#202020"/><stop offset="46.7%" stop-color="#212121"/><stop offset="48.8%" stop-color="#212121"/><stop offset="51%" stop-color="#212121"/><stop offset="53.1%" stop-color="#212121"/><stop offset="55.2%" stop-color="#212121"/><stop offset="57.3%" stop-color="#212121"/><stop offset="59.5%" stop-color="#212121"/><stop offset="61.6%" stop-color="#202020"/><stop offset="63.7%" stop-color="#202020"/><stop offset="65.8%" stop-color="#1f1f1f"/><stop offset="68%" stop-color="#1e1e1e"/><stop offset="70.1%" stop-color="#1d1d1d"/><stop offset="72.2%" stop-color="#1d1d1d"/><stop offset="74.3%" stop-color="#1c1c1c"/><stop offset="76.5%" stop-color="#1b1b1b"/><stop offset="78.6%" stop-color="#1a1a1a"/><stop offset="80.7%" stop-color="#191919"/><stop offset="82.8%" stop-color="#191919"/><stop offset="85%" stop-color="#181818"/><stop offset="87.1%" stop-color="#171717"/><stop offset="89.2%" stop-color="#161616"/><stop offset="91.3%" stop-color="#151515"/><stop offset="93.5%" stop-color="#141414"/><stop offset="95.6%" stop-color="#111111"/><stop offset="97.7%" stop-color="#080808"/><stop offset="99.8%" stop-color="#070707"/><stop offset="100%" stop-color="#070707"/></linearGradient></defs>
<g clip-path="url(#clipA)">
<rect x="8" y="82" width="847.5" height="548" fill="#080808"/>
<g filter="url(#vb)"><rect x="8" y="64" width="847.5" height="18" fill="url(#gA0)"/><rect x="8" y="82" width="847.5" height="18" fill="url(#gA1)"/><rect x="8" y="100" width="847.5" height="18" fill="url(#gA2)"/><rect x="8" y="118" width="847.5" height="18" fill="url(#gA3)"/><rect x="8" y="136" width="847.5" height="18" fill="url(#gA4)"/><rect x="8" y="154" width="847.5" height="18" fill="url(#gA5)"/><rect x="8" y="172" width="847.5" height="18" fill="url(#gA6)"/><rect x="8" y="190" width="847.5" height="18" fill="url(#gA7)"/><rect x="8" y="208" width="847.5" height="18" fill="url(#gA8)"/><rect x="8" y="226" width="847.5" height="18" fill="url(#gA9)"/><rect x="8" y="244" width="847.5" height="18" fill="url(#gA10)"/><rect x="8" y="262" width="847.5" height="18" fill="url(#gA11)"/><rect x="8" y="280" width="847.5" height="18" fill="url(#gA12)"/><rect x="8" y="298" width="847.5" height="18" fill="url(#gA13)"/><rect x="8" y="316" width="847.5" height="18" fill="url(#gA14)"/><rect x="8" y="334" width="847.5" height="18" fill="url(#gA15)"/><rect x="8" y="352" width="847.5" height="18" fill="url(#gA16)"/><rect x="8" y="370" width="847.5" height="18" fill="url(#gA17)"/><rect x="8" y="388" width="847.5" height="18" fill="url(#gA18)"/><rect x="8" y="406" width="847.5" height="18" fill="url(#gA19)"/><rect x="8" y="424" width="847.5" height="18" fill="url(#gA20)"/><rect x="8" y="442" width="847.5" height="18" fill="url(#gA21)"/><rect x="8" y="460" width="847.5" height="18" fill="url(#gA22)"/><rect x="8" y="478" width="847.5" height="18" fill="url(#gA23)"/><rect x="8" y="496" width="847.5" height="18" fill="url(#gA24)"/><rect x="8" y="514" width="847.5" height="18" fill="url(#gA25)"/><rect x="8" y="532" width="847.5" height="18" fill="url(#gA26)"/><rect x="8" y="550" width="847.5" height="18" fill="url(#gA27)"/><rect x="8" y="568" width="847.5" height="18" fill="url(#gA28)"/><rect x="8" y="586" width="847.5" height="18" fill="url(#gA29)"/><rect x="8" y="604" width="847.5" height="18" fill="url(#gA30)"/><rect x="8" y="622" width="847.5" height="18" fill="url(#gA31)"/><rect x="8" y="640" width="847.5" height="18" fill="url(#gA32)"/></g>
<path d="M280 174 C282 177 287.8 185.2 292 192 C296.2 198.8 298.7 209.7 305 215 C311.3 220.3 314.2 222.8 330 224 C345.8 225.2 375 223.5 400 222 C425 220.5 448.3 214 480 215 C511.7 216 555 222.7 590 228 C625 233.3 663.7 242.3 690 247 C716.3 251.7 738.3 254.5 748 256" fill="none" stroke="#8c8c8c" stroke-width="30" stroke-linecap="round" stroke-linejoin="round" filter="url(#b4)" style="mix-blend-mode:multiply"/>
<path d="M290 215 C267.2 221.2 194 240.8 153 252 C112 263.2 62.2 277 44 282" fill="none" stroke="#989898" stroke-width="16" stroke-linecap="round" stroke-linejoin="round" filter="url(#b5)" style="mix-blend-mode:multiply"/>
<path d="M265 250 C256.5 258.2 232.7 278.7 214 299 C195.3 319.3 169.5 351 153 372 C136.5 393 126.3 403.7 115 425 C103.7 446.3 92.5 477.5 85 500 C77.5 522.5 73.2 538.3 70 560 C66.8 581.7 66.7 618.3 66 630" fill="none" stroke="#b0b0b0" stroke-width="16" stroke-linecap="round" stroke-linejoin="round" filter="url(#b5)" style="mix-blend-mode:multiply"/>
<path d="M325 262 C312.5 272.3 270.8 301 250 324 C229.2 347 215 374 200 400 C185 426 170 453.3 160 480 C150 506.7 144.3 535 140 560 C135.7 585 135 618.3 134 630" fill="none" stroke="#d0d0d0" stroke-width="14" stroke-linecap="round" stroke-linejoin="round" filter="url(#b6)" style="mix-blend-mode:multiply"/>
<path d="M798 304 C790.5 309.5 766.3 328.7 753 337 C739.7 345.3 727.5 347.8 718 354 C708.5 360.2 701.8 366.3 696 374 C690.2 381.7 685.5 392.3 683 400 C680.5 407.7 678.5 413.3 681 420 C683.5 426.7 691.3 433.2 698 440 C704.7 446.8 713.5 456.2 721 461 C728.5 465.8 733.5 466.8 743 469 C752.5 471.2 763.5 472.7 778 474 C792.5 475.3 821.3 505.3 830 477 C838.7 448.7 835.3 332.8 830 304 C824.7 275.2 803.3 304 798 304" fill="#4c4c4c" opacity="1" filter="url(#b3)"/>
<ellipse cx="753" cy="514" rx="72" ry="42" fill="#b4b4b4" filter="url(#b14)" style="mix-blend-mode:multiply"/>
<line x1="43" y1="150" x2="526" y2="630" stroke="#1c1c1c" stroke-width="3.2" opacity="0.62" filter="url(#b1)"/>
<rect x="8" y="82" width="34" height="548" fill="url(#lbh)"/>
<rect x="798" y="82" width="34" height="548" fill="url(#rbh)"/>
<rect x="831" y="62" width="40" height="588" fill="#050505" filter="url(#b2)"/>
</g>
<defs><linearGradient id="gB0"><stop offset="0%" stop-color="#0a0a0a"/><stop offset="2.1%" stop-color="#0a0a0a"/><stop offset="4.3%" stop-color="#0a0a0a"/><stop offset="6.4%" stop-color="#0a0a0a"/><stop offset="8.5%" stop-color="#0a0a0a"/><stop offset="10.7%" stop-color="#0a0a0a"/><stop offset="12.8%" stop-color="#0a0a0a"/><stop offset="14.9%" stop-color="#0a0a0a"/><stop offset="17.1%" stop-color="#0a0a0a"/><stop offset="19.2%" stop-color="#0a0a0a"/><stop offset="21.3%" stop-color="#0a0a0a"/><stop offset="23.4%" stop-color="#0a0a0a"/><stop offset="25.6%" stop-color="#0a0a0a"/><stop offset="27.7%" stop-color="#0a0a0a"/><stop offset="29.8%" stop-color="#0a0a0a"/><stop offset="32%" stop-color="#0a0a0a"/><stop offset="34.1%" stop-color="#0a0a0a"/><stop offset="36.2%" stop-color="#0a0a0a"/><stop offset="38.4%" stop-color="#0b0b0b"/><stop offset="40.5%" stop-color="#0b0b0b"/><stop offset="42.6%" stop-color="#0b0b0b"/><stop offset="44.8%" stop-color="#0b0b0b"/><stop offset="46.9%" stop-color="#0b0b0b"/><stop offset="49%" stop-color="#0b0b0b"/><stop offset="51.2%" stop-color="#0b0b0b"/><stop offset="53.3%" stop-color="#0b0b0b"/><stop offset="55.4%" stop-color="#0b0b0b"/><stop offset="57.5%" stop-color="#0b0b0b"/><stop offset="59.7%" stop-color="#0b0b0b"/><stop offset="61.8%" stop-color="#0b0b0b"/><stop offset="63.9%" stop-color="#0b0b0b"/><stop offset="66.1%" stop-color="#0b0b0b"/><stop offset="68.2%" stop-color="#0b0b0b"/><stop offset="70.3%" stop-color="#0b0b0b"/><stop offset="72.5%" stop-color="#0b0b0b"/><stop offset="74.6%" stop-color="#0b0b0b"/><stop offset="76.7%" stop-color="#0b0b0b"/><stop offset="78.9%" stop-color="#0b0b0b"/><stop offset="81%" stop-color="#0b0b0b"/><stop offset="83.1%" stop-color="#0b0b0b"/><stop offset="85.3%" stop-color="#0a0a0a"/><stop offset="87.4%" stop-color="#0a0a0a"/><stop offset="89.5%" stop-color="#0a0a0a"/><stop offset="91.7%" stop-color="#0a0a0a"/><stop offset="93.8%" stop-color="#0a0a0a"/><stop offset="95.9%" stop-color="#0a0a0a"/><stop offset="98%" stop-color="#070707"/><stop offset="100%" stop-color="#070707"/></linearGradient><linearGradient id="gB1"><stop offset="0%" stop-color="#0b0b0b"/><stop offset="2.1%" stop-color="#0b0b0b"/><stop offset="4.3%" stop-color="#0b0b0b"/><stop offset="6.4%" stop-color="#0b0b0b"/><stop offset="8.5%" stop-color="#0b0b0b"/><stop offset="10.7%" stop-color="#0b0b0b"/><stop offset="12.8%" stop-color="#0b0b0b"/><stop offset="14.9%" stop-color="#0b0b0b"/><stop offset="17.1%" stop-color="#0b0b0b"/><stop offset="19.2%" stop-color="#0b0b0b"/><stop offset="21.3%" stop-color="#0b0b0b"/><stop offset="23.4%" stop-color="#0b0b0b"/><stop offset="25.6%" stop-color="#0b0b0b"/><stop offset="27.7%" stop-color="#0b0b0b"/><stop offset="29.8%" stop-color="#0b0b0b"/><stop offset="32%" stop-color="#0b0b0b"/><stop offset="34.1%" stop-color="#0b0b0b"/><stop offset="36.2%" stop-color="#0b0b0b"/><stop offset="38.4%" stop-color="#0b0b0b"/><stop offset="40.5%" stop-color="#0b0b0b"/><stop offset="42.6%" stop-color="#0b0b0b"/><stop offset="44.8%" stop-color="#0b0b0b"/><stop offset="46.9%" stop-color="#0b0b0b"/><stop offset="49%" stop-color="#0b0b0b"/><stop offset="51.2%" stop-color="#0b0b0b"/><stop offset="53.3%" stop-color="#0c0c0c"/><stop offset="55.4%" stop-color="#0c0c0c"/><stop offset="57.5%" stop-color="#0c0c0c"/><stop offset="59.7%" stop-color="#0c0c0c"/><stop offset="61.8%" stop-color="#0c0c0c"/><stop offset="63.9%" stop-color="#0c0c0c"/><stop offset="66.1%" stop-color="#0c0c0c"/><stop offset="68.2%" stop-color="#0c0c0c"/><stop offset="70.3%" stop-color="#0c0c0c"/><stop offset="72.5%" stop-color="#0c0c0c"/><stop offset="74.6%" stop-color="#0b0b0b"/><stop offset="76.7%" stop-color="#0b0b0b"/><stop offset="78.9%" stop-color="#0b0b0b"/><stop offset="81%" stop-color="#0b0b0b"/><stop offset="83.1%" stop-color="#0b0b0b"/><stop offset="85.3%" stop-color="#0b0b0b"/><stop offset="87.4%" stop-color="#0b0b0b"/><stop offset="89.5%" stop-color="#0b0b0b"/><stop offset="91.7%" stop-color="#0b0b0b"/><stop offset="93.8%" stop-color="#0a0a0a"/><stop offset="95.9%" stop-color="#0a0a0a"/><stop offset="98%" stop-color="#070707"/><stop offset="100%" stop-color="#070707"/></linearGradient><linearGradient id="gB2"><stop offset="0%" stop-color="#0b0b0b"/><stop offset="2.1%" stop-color="#0b0b0b"/><stop offset="4.3%" stop-color="#0b0b0b"/><stop offset="6.4%" stop-color="#0b0b0b"/><stop offset="8.5%" stop-color="#0b0b0b"/><stop offset="10.7%" stop-color="#0b0b0b"/><stop offset="12.8%" stop-color="#0b0b0b"/><stop offset="14.9%" stop-color="#0b0b0b"/><stop offset="17.1%" stop-color="#0b0b0b"/><stop offset="19.2%" stop-color="#0b0b0b"/><stop offset="21.3%" stop-color="#0b0b0b"/><stop offset="23.4%" stop-color="#0b0b0b"/><stop offset="25.6%" stop-color="#0b0b0b"/><stop offset="27.7%" stop-color="#0c0c0c"/><stop offset="29.8%" stop-color="#0c0c0c"/><stop offset="32%" stop-color="#0c0c0c"/><stop offset="34.1%" stop-color="#0c0c0c"/><stop offset="36.2%" stop-color="#0c0c0c"/><stop offset="38.4%" stop-color="#0c0c0c"/><stop offset="40.5%" stop-color="#0c0c0c"/><stop offset="42.6%" stop-color="#0c0c0c"/><stop offset="44.8%" stop-color="#0c0c0c"/><stop offset="46.9%" stop-color="#0d0d0d"/><stop offset="49%" stop-color="#0d0d0d"/><stop offset="51.2%" stop-color="#0d0d0d"/><stop offset="53.3%" stop-color="#0d0d0d"/><stop offset="55.4%" stop-color="#0d0d0d"/><stop offset="57.5%" stop-color="#0d0d0d"/><stop offset="59.7%" stop-color="#0e0e0e"/><stop offset="61.8%" stop-color="#0e0e0e"/><stop offset="63.9%" stop-color="#0e0e0e"/><stop offset="66.1%" stop-color="#0e0e0e"/><stop offset="68.2%" stop-color="#0e0e0e"/><stop offset="70.3%" stop-color="#0d0d0d"/><stop offset="72.5%" stop-color="#0d0d0d"/><stop offset="74.6%" stop-color="#0d0d0d"/><stop offset="76.7%" stop-color="#0d0d0d"/><stop offset="78.9%" stop-color="#0c0c0c"/><stop offset="81%" stop-color="#0c0c0c"/><stop offset="83.1%" stop-color="#0c0c0c"/><stop offset="85.3%" stop-color="#0c0c0c"/><stop offset="87.4%" stop-color="#0b0b0b"/><stop offset="89.5%" stop-color="#0b0b0b"/><stop offset="91.7%" stop-color="#0b0b0b"/><stop offset="93.8%" stop-color="#0b0b0b"/><stop offset="95.9%" stop-color="#0a0a0a"/><stop offset="98%" stop-color="#070707"/><stop offset="100%" stop-color="#070707"/></linearGradient><linearGradient id="gB3"><stop offset="0%" stop-color="#0d0d0d"/><stop offset="2.1%" stop-color="#0d0d0d"/><stop offset="4.3%" stop-color="#0d0d0d"/><stop offset="6.4%" stop-color="#0d0d0d"/><stop offset="8.5%" stop-color="#0d0d0d"/><stop offset="10.7%" stop-color="#0d0d0d"/><stop offset="12.8%" stop-color="#0d0d0d"/><stop offset="14.9%" stop-color="#0d0d0d"/><stop offset="17.1%" stop-color="#0d0d0d"/><stop offset="19.2%" stop-color="#0d0d0d"/><stop offset="21.3%" stop-color="#0d0d0d"/><stop offset="23.4%" stop-color="#0d0d0d"/><stop offset="25.6%" stop-color="#0e0e0e"/><stop offset="27.7%" stop-color="#0e0e0e"/><stop offset="29.8%" stop-color="#0e0e0e"/><stop offset="32%" stop-color="#0e0e0e"/><stop offset="34.1%" stop-color="#0e0e0e"/><stop offset="36.2%" stop-color="#0e0e0e"/><stop offset="38.4%" stop-color="#0e0e0e"/><stop offset="40.5%" stop-color="#0e0e0e"/><stop offset="42.6%" stop-color="#0e0e0e"/><stop offset="44.8%" stop-color="#0f0f0f"/><stop offset="46.9%" stop-color="#101010"/><stop offset="49%" stop-color="#101010"/><stop offset="51.2%" stop-color="#111111"/><stop offset="53.3%" stop-color="#111111"/><stop offset="55.4%" stop-color="#111111"/><stop offset="57.5%" stop-color="#111111"/><stop offset="59.7%" stop-color="#121212"/><stop offset="61.8%" stop-color="#121212"/><stop offset="63.9%" stop-color="#121212"/><stop offset="66.1%" stop-color="#121212"/><stop offset="68.2%" stop-color="#111111"/><stop offset="70.3%" stop-color="#111111"/><stop offset="72.5%" stop-color="#111111"/><stop offset="74.6%" stop-color="#101010"/><stop offset="76.7%" stop-color="#101010"/><stop offset="78.9%" stop-color="#0f0f0f"/><stop offset="81%" stop-color="#0f0f0f"/><stop offset="83.1%" stop-color="#0e0e0e"/><stop offset="85.3%" stop-color="#0e0e0e"/><stop offset="87.4%" stop-color="#0d0d0d"/><stop offset="89.5%" stop-color="#0d0d0d"/><stop offset="91.7%" stop-color="#0d0d0d"/><stop offset="93.8%" stop-color="#0d0d0d"/><stop offset="95.9%" stop-color="#0c0c0c"/><stop offset="98%" stop-color="#080808"/><stop offset="100%" stop-color="#070707"/></linearGradient><linearGradient id="gB4"><stop offset="0%" stop-color="#121212"/><stop offset="2.1%" stop-color="#121212"/><stop offset="4.3%" stop-color="#121212"/><stop offset="6.4%" stop-color="#121212"/><stop offset="8.5%" stop-color="#121212"/><stop offset="10.7%" stop-color="#121212"/><stop offset="12.8%" stop-color="#121212"/><stop offset="14.9%" stop-color="#121212"/><stop offset="17.1%" stop-color="#121212"/><stop offset="19.2%" stop-color="#121212"/><stop offset="21.3%" stop-color="#121212"/><stop offset="23.4%" stop-color="#121212"/><stop offset="25.6%" stop-color="#121212"/><stop offset="27.7%" stop-color="#121212"/><stop offset="29.8%" stop-color="#121212"/><stop offset="32%" stop-color="#121212"/><stop offset="34.1%" stop-color="#121212"/><stop offset="36.2%" stop-color="#121212"/><stop offset="38.4%" stop-color="#131313"/><stop offset="40.5%" stop-color="#131313"/><stop offset="42.6%" stop-color="#141414"/><stop offset="44.8%" stop-color="#151515"/><stop offset="46.9%" stop-color="#161616"/><stop offset="49%" stop-color="#171717"/><stop offset="51.2%" stop-color="#181818"/><stop offset="53.3%" stop-color="#181818"/><stop offset="55.4%" stop-color="#191919"/><stop offset="57.5%" stop-color="#191919"/><stop offset="59.7%" stop-color="#191919"/><stop offset="61.8%" stop-color="#1a1a1a"/><stop offset="63.9%" stop-color="#1a1a1a"/><stop offset="66.1%" stop-color="#1a1a1a"/><stop offset="68.2%" stop-color="#191919"/><stop offset="70.3%" stop-color="#191919"/><stop offset="72.5%" stop-color="#181818"/><stop offset="74.6%" stop-color="#171717"/><stop offset="76.7%" stop-color="#171717"/><stop offset="78.9%" stop-color="#151515"/><stop offset="81%" stop-color="#141414"/><stop offset="83.1%" stop-color="#131313"/><stop offset="85.3%" stop-color="#121212"/><stop offset="87.4%" stop-color="#111111"/><stop offset="89.5%" stop-color="#111111"/><stop offset="91.7%" stop-color="#101010"/><stop offset="93.8%" stop-color="#101010"/><stop offset="95.9%" stop-color="#0e0e0e"/><stop offset="98%" stop-color="#080808"/><stop offset="100%" stop-color="#070707"/></linearGradient><linearGradient id="gB5"><stop offset="0%" stop-color="#1b1b1b"/><stop offset="2.1%" stop-color="#1b1b1b"/><stop offset="4.3%" stop-color="#1b1b1b"/><stop offset="6.4%" stop-color="#1b1b1b"/><stop offset="8.5%" stop-color="#1b1b1b"/><stop offset="10.7%" stop-color="#1b1b1b"/><stop offset="12.8%" stop-color="#1b1b1b"/><stop offset="14.9%" stop-color="#1b1b1b"/><stop offset="17.1%" stop-color="#1b1b1b"/><stop offset="19.2%" stop-color="#1b1b1b"/><stop offset="21.3%" stop-color="#1b1b1b"/><stop offset="23.4%" stop-color="#1b1b1b"/><stop offset="25.6%" stop-color="#1b1b1b"/><stop offset="27.7%" stop-color="#1b1b1b"/><stop offset="29.8%" stop-color="#1c1c1c"/><stop offset="32%" stop-color="#1b1b1b"/><stop offset="34.1%" stop-color="#1c1c1c"/><stop offset="36.2%" stop-color="#1c1c1c"/><stop offset="38.4%" stop-color="#1c1c1c"/><stop offset="40.5%" stop-color="#1d1d1d"/><stop offset="42.6%" stop-color="#1e1e1e"/><stop offset="44.8%" stop-color="#202020"/><stop offset="46.9%" stop-color="#222222"/><stop offset="49%" stop-color="#242424"/><stop offset="51.2%" stop-color="#262626"/><stop offset="53.3%" stop-color="#272727"/><stop offset="55.4%" stop-color="#272727"/><stop offset="57.5%" stop-color="#282828"/><stop offset="59.7%" stop-color="#282828"/><stop offset="61.8%" stop-color="#292929"/><stop offset="63.9%" stop-color="#2a2a2a"/><stop offset="66.1%" stop-color="#2a2a2a"/><stop offset="68.2%" stop-color="#282828"/><stop offset="70.3%" stop-color="#272727"/><stop offset="72.5%" stop-color="#252525"/><stop offset="74.6%" stop-color="#242424"/><stop offset="76.7%" stop-color="#232323"/><stop offset="78.9%" stop-color="#202020"/><stop offset="81%" stop-color="#1e1e1e"/><stop offset="83.1%" stop-color="#1c1c1c"/><stop offset="85.3%" stop-color="#1a1a1a"/><stop offset="87.4%" stop-color="#191919"/><stop offset="89.5%" stop-color="#181818"/><stop offset="91.7%" stop-color="#171717"/><stop offset="93.8%" stop-color="#171717"/><stop offset="95.9%" stop-color="#141414"/><stop offset="98%" stop-color="#090909"/><stop offset="100%" stop-color="#070707"/></linearGradient><linearGradient id="gB6"><stop offset="0%" stop-color="#2a2a2a"/><stop offset="2.1%" stop-color="#2a2a2a"/><stop offset="4.3%" stop-color="#2a2a2a"/><stop offset="6.4%" stop-color="#2a2a2a"/><stop offset="8.5%" stop-color="#2a2a2a"/><stop offset="10.7%" stop-color="#2a2a2a"/><stop offset="12.8%" stop-color="#2a2a2a"/><stop offset="14.9%" stop-color="#2a2a2a"/><stop offset="17.1%" stop-color="#2a2a2a"/><stop offset="19.2%" stop-color="#2a2a2a"/><stop offset="21.3%" stop-color="#2a2a2a"/><stop offset="23.4%" stop-color="#2a2a2a"/><stop offset="25.6%" stop-color="#2a2a2a"/><stop offset="27.7%" stop-color="#2b2b2b"/><stop offset="29.8%" stop-color="#2b2b2b"/><stop offset="32%" stop-color="#2b2b2b"/><stop offset="34.1%" stop-color="#2b2b2b"/><stop offset="36.2%" stop-color="#2c2c2c"/><stop offset="38.4%" stop-color="#2d2d2d"/><stop offset="40.5%" stop-color="#2e2e2e"/><stop offset="42.6%" stop-color="#303030"/><stop offset="44.8%" stop-color="#333333"/><stop offset="46.9%" stop-color="#363636"/><stop offset="49%" stop-color="#3a3a3a"/><stop offset="51.2%" stop-color="#3d3d3d"/><stop offset="53.3%" stop-color="#3e3e3e"/><stop offset="55.4%" stop-color="#3f3f3f"/><stop offset="57.5%" stop-color="#404040"/><stop offset="59.7%" stop-color="#414141"/><stop offset="61.8%" stop-color="#424242"/><stop offset="63.9%" stop-color="#434343"/><stop offset="66.1%" stop-color="#434343"/><stop offset="68.2%" stop-color="#404040"/><stop offset="70.3%" stop-color="#3e3e3e"/><stop offset="72.5%" stop-color="#3c3c3c"/><stop offset="74.6%" stop-color="#3a3a3a"/><stop offset="76.7%" stop-color="#383838"/><stop offset="78.9%" stop-color="#333333"/><stop offset="81%" stop-color="#2f2f2f"/><stop offset="83.1%" stop-color="#2b2b2b"/><stop offset="85.3%" stop-color="#282828"/><stop offset="87.4%" stop-color="#262626"/><stop offset="89.5%" stop-color="#242424"/><stop offset="91.7%" stop-color="#232323"/><stop offset="93.8%" stop-color="#222222"/><stop offset="95.9%" stop-color="#1c1c1c"/><stop offset="98%" stop-color="#0a0a0a"/><stop offset="100%" stop-color="#070707"/></linearGradient><linearGradient id="gB7"><stop offset="0%" stop-color="#3c3c3c"/><stop offset="2.1%" stop-color="#3c3c3c"/><stop offset="4.3%" stop-color="#3c3c3c"/><stop offset="6.4%" stop-color="#3c3c3c"/><stop offset="8.5%" stop-color="#3c3c3c"/><stop offset="10.7%" stop-color="#3c3c3c"/><stop offset="12.8%" stop-color="#3c3c3c"/><stop offset="14.9%" stop-color="#3c3c3c"/><stop offset="17.1%" stop-color="#3c3c3c"/><stop offset="19.2%" stop-color="#3c3c3c"/><stop offset="21.3%" stop-color="#3c3c3c"/><stop offset="23.4%" stop-color="#3d3d3d"/><stop offset="25.6%" stop-color="#3d3d3d"/><stop offset="27.7%" stop-color="#3e3e3e"/><stop offset="29.8%" stop-color="#3f3f3f"/><stop offset="32%" stop-color="#3f3f3f"/><stop offset="34.1%" stop-color="#3f3f3f"/><stop offset="36.2%" stop-color="#404040"/><stop offset="38.4%" stop-color="#424242"/><stop offset="40.5%" stop-color="#444444"/><stop offset="42.6%" stop-color="#474747"/><stop offset="44.8%" stop-color="#4c4c4c"/><stop offset="46.9%" stop-color="#525252"/><stop offset="49%" stop-color="#585858"/><stop offset="51.2%" stop-color="#5c5c5c"/><stop offset="53.3%" stop-color="#5e5e5e"/><stop offset="55.4%" stop-color="#5f5f5f"/><stop offset="57.5%" stop-color="#616161"/><stop offset="59.7%" stop-color="#626262"/><stop offset="61.8%" stop-color="#636363"/><stop offset="63.9%" stop-color="#656565"/><stop offset="66.1%" stop-color="#646464"/><stop offset="68.2%" stop-color="#606060"/><stop offset="70.3%" stop-color="#5d5d5d"/><stop offset="72.5%" stop-color="#5a5a5a"/><stop offset="74.6%" stop-color="#565656"/><stop offset="76.7%" stop-color="#535353"/><stop offset="78.9%" stop-color="#4c4c4c"/><stop offset="81%" stop-color="#454545"/><stop offset="83.1%" stop-color="#404040"/><stop offset="85.3%" stop-color="#3b3b3b"/><stop offset="87.4%" stop-color="#373737"/><stop offset="89.5%" stop-color="#343434"/><stop offset="91.7%" stop-color="#323232"/><stop offset="93.8%" stop-color="#303030"/><stop offset="95.9%" stop-color="#272727"/><stop offset="98%" stop-color="#0b0b0b"/><stop offset="100%" stop-color="#070707"/></linearGradient><linearGradient id="gB8"><stop offset="0%" stop-color="#4b4b4b"/><stop offset="2.1%" stop-color="#4b4b4b"/><stop offset="4.3%" stop-color="#4b4b4b"/><stop offset="6.4%" stop-color="#4b4b4b"/><stop offset="8.5%" stop-color="#4b4b4b"/><stop offset="10.7%" stop-color="#4b4b4b"/><stop offset="12.8%" stop-color="#4c4c4c"/><stop offset="14.9%" stop-color="#4c4c4c"/><stop offset="17.1%" stop-color="#4c4c4c"/><stop offset="19.2%" stop-color="#4c4c4c"/><stop offset="21.3%" stop-color="#4d4d4d"/><stop offset="23.4%" stop-color="#4e4e4e"/><stop offset="25.6%" stop-color="#4f4f4f"/><stop offset="27.7%" stop-color="#505050"/><stop offset="29.8%" stop-color="#515151"/><stop offset="32%" stop-color="#515151"/><stop offset="34.1%" stop-color="#535353"/><stop offset="36.2%" stop-color="#555555"/><stop offset="38.4%" stop-color="#585858"/><stop offset="40.5%" stop-color="#5c5c5c"/><stop offset="42.6%" stop-color="#626262"/><stop offset="44.8%" stop-color="#696969"/><stop offset="46.9%" stop-color="#717171"/><stop offset="49%" stop-color="#7a7a7a"/><stop offset="51.2%" stop-color="#7e7e7e"/><stop offset="53.3%" stop-color="#818181"/><stop offset="55.4%" stop-color="#838383"/><stop offset="57.5%" stop-color="#848484"/><stop offset="59.7%" stop-color="#868686"/><stop offset="61.8%" stop-color="#878787"/><stop offset="63.9%" stop-color="#898989"/><stop offset="66.1%" stop-color="#888888"/><stop offset="68.2%" stop-color="#838383"/><stop offset="70.3%" stop-color="#7f7f7f"/><stop offset="72.5%" stop-color="#7a7a7a"/><stop offset="74.6%" stop-color="#767676"/><stop offset="76.7%" stop-color="#727272"/><stop offset="78.9%" stop-color="#686868"/><stop offset="81%" stop-color="#5f5f5f"/><stop offset="83.1%" stop-color="#575757"/><stop offset="85.3%" stop-color="#505050"/><stop offset="87.4%" stop-color="#4a4a4a"/><stop offset="89.5%" stop-color="#454545"/><stop offset="91.7%" stop-color="#414141"/><stop offset="93.8%" stop-color="#3d3d3d"/><stop offset="95.9%" stop-color="#313131"/><stop offset="98%" stop-color="#0d0d0d"/><stop offset="100%" stop-color="#070707"/></linearGradient><linearGradient id="gB9"><stop offset="0%" stop-color="#555555"/><stop offset="2.1%" stop-color="#555555"/><stop offset="4.3%" stop-color="#555555"/><stop offset="6.4%" stop-color="#565656"/><stop offset="8.5%" stop-color="#565656"/><stop offset="10.7%" stop-color="#565656"/><stop offset="12.8%" stop-color="#565656"/><stop offset="14.9%" stop-color="#575757"/><stop offset="17.1%" stop-color="#575757"/><stop offset="19.2%" stop-color="#585858"/><stop offset="21.3%" stop-color="#595959"/><stop offset="23.4%" stop-color="#5b5b5b"/><stop offset="25.6%" stop-color="#5c5c5c"/><stop offset="27.7%" stop-color="#5e5e5e"/><stop offset="29.8%" stop-color="#606060"/><stop offset="32%" stop-color="#626262"/><stop offset="34.1%" stop-color="#666666"/><stop offset="36.2%" stop-color="#6a6a6a"/><stop offset="38.4%" stop-color="#707070"/><stop offset="40.5%" stop-color="#767676"/><stop offset="42.6%" stop-color="#7e7e7e"/><stop offset="44.8%" stop-color="#878787"/><stop offset="46.9%" stop-color="#919191"/><stop offset="49%" stop-color="#9b9b9b"/><stop offset="51.2%" stop-color="#a0a0a0"/><stop offset="53.3%" stop-color="#a3a3a3"/><stop offset="55.4%" stop-color="#a5a5a5"/><stop offset="57.5%" stop-color="#a6a6a6"/><stop offset="59.7%" stop-color="#a7a7a7"/><stop offset="61.8%" stop-color="#a9a9a9"/><stop offset="63.9%" stop-color="#aaaaaa"/><stop offset="66.1%" stop-color="#a8a8a8"/><stop offset="68.2%" stop-color="#a3a3a3"/><stop offset="70.3%" stop-color="#9e9e9e"/><stop offset="72.5%" stop-color="#999999"/><stop offset="74.6%" stop-color="#949494"/><stop offset="76.7%" stop-color="#8f8f8f"/><stop offset="78.9%" stop-color="#848484"/><stop offset="81%" stop-color="#787878"/><stop offset="83.1%" stop-color="#6e6e6e"/><stop offset="85.3%" stop-color="#656565"/><stop offset="87.4%" stop-color="#5c5c5c"/><stop offset="89.5%" stop-color="#555555"/><stop offset="91.7%" stop-color="#4f4f4f"/><stop offset="93.8%" stop-color="#494949"/><stop offset="95.9%" stop-color="#393939"/><stop offset="98%" stop-color="#0e0e0e"/><stop offset="100%" stop-color="#070707"/></linearGradient><linearGradient id="gB10"><stop offset="0%" stop-color="#5c5c5c"/><stop offset="2.1%" stop-color="#5c5c5c"/><stop offset="4.3%" stop-color="#5c5c5c"/><stop offset="6.4%" stop-color="#5d5d5d"/><stop offset="8.5%" stop-color="#5d5d5d"/><stop offset="10.7%" stop-color="#5e5e5e"/><stop offset="12.8%" stop-color="#5f5f5f"/><stop offset="14.9%" stop-color="#5f5f5f"/><stop offset="17.1%" stop-color="#606060"/><stop offset="19.2%" stop-color="#626262"/><stop offset="21.3%" stop-color="#646464"/><stop offset="23.4%" stop-color="#676767"/><stop offset="25.6%" stop-color="#696969"/><stop offset="27.7%" stop-color="#6d6d6d"/><stop offset="29.8%" stop-color="#707070"/><stop offset="32%" stop-color="#747474"/><stop offset="34.1%" stop-color="#7a7a7a"/><stop offset="36.2%" stop-color="#818181"/><stop offset="38.4%" stop-color="#898989"/><stop offset="40.5%" stop-color="#929292"/><stop offset="42.6%" stop-color="#9b9b9b"/><stop offset="44.8%" stop-color="#a5a5a5"/><stop offset="46.9%" stop-color="#afafaf"/><stop offset="49%" stop-color="#b8b8b8"/><stop offset="51.2%" stop-color="#bdbdbd"/><stop offset="53.3%" stop-color="#c0c0c0"/><stop offset="55.4%" stop-color="#c1c1c1"/><stop offset="57.5%" stop-color="#c2c2c2"/><stop offset="59.7%" stop-color="#c2c2c2"/><stop offset="61.8%" stop-color="#c3c3c3"/><stop offset="63.9%" stop-color="#c4c4c4"/><stop offset="66.1%" stop-color="#c2c2c2"/><stop offset="68.2%" stop-color="#bcbcbc"/><stop offset="70.3%" stop-color="#b7b7b7"/><stop offset="72.5%" stop-color="#b2b2b2"/><stop offset="74.6%" stop-color="#adadad"/><stop offset="76.7%" stop-color="#a8a8a8"/><stop offset="78.9%" stop-color="#9c9c9c"/><stop offset="81%" stop-color="#909090"/><stop offset="83.1%" stop-color="#858585"/><stop offset="85.3%" stop-color="#7a7a7a"/><stop offset="87.4%" stop-color="#707070"/><stop offset="89.5%" stop-color="#666666"/><stop offset="91.7%" stop-color="#5d5d5d"/><stop offset="93.8%" stop-color="#555555"/><stop offset="95.9%" stop-color="#414141"/><stop offset="98%" stop-color="#0e0e0e"/><stop offset="100%" stop-color="#070707"/></linearGradient><linearGradient id="gB11"><stop offset="0%" stop-color="#636363"/><stop offset="2.1%" stop-color="#636363"/><stop offset="4.3%" stop-color="#636363"/><stop offset="6.4%" stop-color="#646464"/><stop offset="8.5%" stop-color="#656565"/><stop offset="10.7%" stop-color="#666666"/><stop offset="12.8%" stop-color="#686868"/><stop offset="14.9%" stop-color="#696969"/><stop offset="17.1%" stop-color="#6b6b6b"/><stop offset="19.2%" stop-color="#6e6e6e"/><stop offset="21.3%" stop-color="#717171"/><stop offset="23.4%" stop-color="#757575"/><stop offset="25.6%" stop-color="#7a7a7a"/><stop offset="27.7%" stop-color="#7f7f7f"/><stop offset="29.8%" stop-color="#848484"/><stop offset="32%" stop-color="#8a8a8a"/><stop offset="34.1%" stop-color="#939393"/><stop offset="36.2%" stop-color="#9b9b9b"/><stop offset="38.4%" stop-color="#a4a4a4"/><stop offset="40.5%" stop-color="#adadad"/><stop offset="42.6%" stop-color="#b6b6b6"/><stop offset="44.8%" stop-color="#bfbfbf"/><stop offset="46.9%" stop-color="#c7c7c7"/><stop offset="49%" stop-color="#cecece"/><stop offset="51.2%" stop-color="#d2d2d2"/><stop offset="53.3%" stop-color="#d4d4d4"/><stop offset="55.4%" stop-color="#d5d5d5"/><stop offset="57.5%" stop-color="#d5d5d5"/><stop offset="59.7%" stop-color="#d5d5d5"/><stop offset="61.8%" stop-color="#d5d5d5"/><stop offset="63.9%" stop-color="#d5d5d5"/><stop offset="66.1%" stop-color="#d3d3d3"/><stop offset="68.2%" stop-color="#cecece"/><stop offset="70.3%" stop-color="#c8c8c8"/><stop offset="72.5%" stop-color="#c3c3c3"/><stop offset="74.6%" stop-color="#bebebe"/><stop offset="76.7%" stop-color="#b9b9b9"/><stop offset="78.9%" stop-color="#afafaf"/><stop offset="81%" stop-color="#a4a4a4"/><stop offset="83.1%" stop-color="#999999"/><stop offset="85.3%" stop-color="#8e8e8e"/><stop offset="87.4%" stop-color="#838383"/><stop offset="89.5%" stop-color="#787878"/><stop offset="91.7%" stop-color="#6d6d6d"/><stop offset="93.8%" stop-color="#616161"/><stop offset="95.9%" stop-color="#484848"/><stop offset="98%" stop-color="#0f0f0f"/><stop offset="100%" stop-color="#070707"/></linearGradient><linearGradient id="gB12"><stop offset="0%" stop-color="#6c6c6c"/><stop offset="2.1%" stop-color="#6c6c6c"/><stop offset="4.3%" stop-color="#6c6c6c"/><stop offset="6.4%" stop-color="#6e6e6e"/><stop offset="8.5%" stop-color="#707070"/><stop offset="10.7%" stop-color="#727272"/><stop offset="12.8%" stop-color="#747474"/><stop offset="14.9%" stop-color="#777777"/><stop offset="17.1%" stop-color="#797979"/><stop offset="19.2%" stop-color="#7d7d7d"/><stop offset="21.3%" stop-color="#838383"/><stop offset="23.4%" stop-color="#888888"/><stop offset="25.6%" stop-color="#8e8e8e"/><stop offset="27.7%" stop-color="#959595"/><stop offset="29.8%" stop-color="#9b9b9b"/><stop offset="32%" stop-color="#a3a3a3"/><stop offset="34.1%" stop-color="#ababab"/><stop offset="36.2%" stop-color="#b4b4b4"/><stop offset="38.4%" stop-color="#bcbcbc"/><stop offset="40.5%" stop-color="#c4c4c4"/><stop offset="42.6%" stop-color="#cbcbcb"/><stop offset="44.8%" stop-color="#d1d1d1"/><stop offset="46.9%" stop-color="#d7d7d7"/><stop offset="49%" stop-color="#dcdcdc"/><stop offset="51.2%" stop-color="#dfdfdf"/><stop offset="53.3%" stop-color="#e1e1e1"/><stop offset="55.4%" stop-color="#e1e1e1"/><stop offset="57.5%" stop-color="#e0e0e0"/><stop offset="59.7%" stop-color="#e0e0e0"/><stop offset="61.8%" stop-color="#e0e0e0"/><stop offset="63.9%" stop-color="#dfdfdf"/><stop offset="66.1%" stop-color="#dddddd"/><stop offset="68.2%" stop-color="#d8d8d8"/><stop offset="70.3%" stop-color="#d3d3d3"/><stop offset="72.5%" stop-color="#cecece"/><stop offset="74.6%" stop-color="#c9c9c9"/><stop offset="76.7%" stop-color="#c4c4c4"/><stop offset="78.9%" stop-color="#bbbbbb"/><stop offset="81%" stop-color="#b1b1b1"/><stop offset="83.1%" stop-color="#a7a7a7"/><stop offset="85.3%" stop-color="#9d9d9d"/><stop offset="87.4%" stop-color="#939393"/><stop offset="89.5%" stop-color="#878787"/><stop offset="91.7%" stop-color="#7a7a7a"/><stop offset="93.8%" stop-color="#6d6d6d"/><stop offset="95.9%" stop-color="#4f4f4f"/><stop offset="98%" stop-color="#101010"/><stop offset="100%" stop-color="#070707"/></linearGradient><linearGradient id="gB13"><stop offset="0%" stop-color="#7a7a7a"/><stop offset="2.1%" stop-color="#7a7a7a"/><stop offset="4.3%" stop-color="#7a7a7a"/><stop offset="6.4%" stop-color="#7d7d7d"/><stop offset="8.5%" stop-color="#7f7f7f"/><stop offset="10.7%" stop-color="#828282"/><stop offset="12.8%" stop-color="#868686"/><stop offset="14.9%" stop-color="#898989"/><stop offset="17.1%" stop-color="#8c8c8c"/><stop offset="19.2%" stop-color="#919191"/><stop offset="21.3%" stop-color="#989898"/><stop offset="23.4%" stop-color="#9e9e9e"/><stop offset="25.6%" stop-color="#a4a4a4"/><stop offset="27.7%" stop-color="#ababab"/><stop offset="29.8%" stop-color="#b1b1b1"/><stop offset="32%" stop-color="#b8b8b8"/><stop offset="34.1%" stop-color="#c0c0c0"/><stop offset="36.2%" stop-color="#c7c7c7"/><stop offset="38.4%" stop-color="#cecece"/><stop offset="40.5%" stop-color="#d3d3d3"/><stop offset="42.6%" stop-color="#d8d8d8"/><stop offset="44.8%" stop-color="#dcdcdc"/><stop offset="46.9%" stop-color="#e0e0e0"/><stop offset="49%" stop-color="#e4e4e4"/><stop offset="51.2%" stop-color="#e6e6e6"/><stop offset="53.3%" stop-color="#e8e8e8"/><stop offset="55.4%" stop-color="#e7e7e7"/><stop offset="57.5%" stop-color="#e6e6e6"/><stop offset="59.7%" stop-color="#e6e6e6"/><stop offset="61.8%" stop-color="#e5e5e5"/><stop offset="63.9%" stop-color="#e4e4e4"/><stop offset="66.1%" stop-color="#e2e2e2"/><stop offset="68.2%" stop-color="#dddddd"/><stop offset="70.3%" stop-color="#d8d8d8"/><stop offset="72.5%" stop-color="#d3d3d3"/><stop offset="74.6%" stop-color="#cecece"/><stop offset="76.7%" stop-color="#cacaca"/><stop offset="78.9%" stop-color="#c1c1c1"/><stop offset="81%" stop-color="#b9b9b9"/><stop offset="83.1%" stop-color="#b0b0b0"/><stop offset="85.3%" stop-color="#a7a7a7"/><stop offset="87.4%" stop-color="#9d9d9d"/><stop offset="89.5%" stop-color="#929292"/><stop offset="91.7%" stop-color="#848484"/><stop offset="93.8%" stop-color="#757575"/><stop offset="95.9%" stop-color="#555555"/><stop offset="98%" stop-color="#101010"/><stop offset="100%" stop-color="#070707"/></linearGradient><linearGradient id="gB14"><stop offset="0%" stop-color="#8b8b8b"/><stop offset="2.1%" stop-color="#8b8b8b"/><stop offset="4.3%" stop-color="#8b8b8b"/><stop offset="6.4%" stop-color="#8f8f8f"/><stop offset="8.5%" stop-color="#929292"/><stop offset="10.7%" stop-color="#969696"/><stop offset="12.8%" stop-color="#999999"/><stop offset="14.9%" stop-color="#9d9d9d"/><stop offset="17.1%" stop-color="#a0a0a0"/><stop offset="19.2%" stop-color="#a6a6a6"/><stop offset="21.3%" stop-color="#acacac"/><stop offset="23.4%" stop-color="#b2b2b2"/><stop offset="25.6%" stop-color="#b8b8b8"/><stop offset="27.7%" stop-color="#bdbdbd"/><stop offset="29.8%" stop-color="#c3c3c3"/><stop offset="32%" stop-color="#c8c8c8"/><stop offset="34.1%" stop-color="#cecece"/><stop offset="36.2%" stop-color="#d4d4d4"/><stop offset="38.4%" stop-color="#d8d8d8"/><stop offset="40.5%" stop-color="#dcdcdc"/><stop offset="42.6%" stop-color="#dfdfdf"/><stop offset="44.8%" stop-color="#e2e2e2"/><stop offset="46.9%" stop-color="#e5e5e5"/><stop offset="49%" stop-color="#e7e7e7"/><stop offset="51.2%" stop-color="#e9e9e9"/><stop offset="53.3%" stop-color="#ebebeb"/><stop offset="55.4%" stop-color="#eaeaea"/><stop offset="57.5%" stop-color="#e9e9e9"/><stop offset="59.7%" stop-color="#e8e8e8"/><stop offset="61.8%" stop-color="#e7e7e7"/><stop offset="63.9%" stop-color="#e6e6e6"/><stop offset="66.1%" stop-color="#e4e4e4"/><stop offset="68.2%" stop-color="#dfdfdf"/><stop offset="70.3%" stop-color="#dadada"/><stop offset="72.5%" stop-color="#d6d6d6"/><stop offset="74.6%" stop-color="#d1d1d1"/><stop offset="76.7%" stop-color="#cccccc"/><stop offset="78.9%" stop-color="#c5c5c5"/><stop offset="81%" stop-color="#bcbcbc"/><stop offset="83.1%" stop-color="#b4b4b4"/><stop offset="85.3%" stop-color="#acacac"/><stop offset="87.4%" stop-color="#a3a3a3"/><stop offset="89.5%" stop-color="#999999"/><stop offset="91.7%" stop-color="#8a8a8a"/><stop offset="93.8%" stop-color="#7b7b7b"/><stop offset="95.9%" stop-color="#595959"/><stop offset="98%" stop-color="#111111"/><stop offset="100%" stop-color="#070707"/></linearGradient><linearGradient id="gB15"><stop offset="0%" stop-color="#9d9d9d"/><stop offset="2.1%" stop-color="#9d9d9d"/><stop offset="4.3%" stop-color="#9d9d9d"/><stop offset="6.4%" stop-color="#a1a1a1"/><stop offset="8.5%" stop-color="#a4a4a4"/><stop offset="10.7%" stop-color="#a8a8a8"/><stop offset="12.8%" stop-color="#ababab"/><stop offset="14.9%" stop-color="#aeaeae"/><stop offset="17.1%" stop-color="#b2b2b2"/><stop offset="19.2%" stop-color="#b6b6b6"/><stop offset="21.3%" stop-color="#bbbbbb"/><stop offset="23.4%" stop-color="#c0c0c0"/><stop offset="25.6%" stop-color="#c5c5c5"/><stop offset="27.7%" stop-color="#c9c9c9"/><stop offset="29.8%" stop-color="#cecece"/><stop offset="32%" stop-color="#d2d2d2"/><stop offset="34.1%" stop-color="#d6d6d6"/><stop offset="36.2%" stop-color="#dadada"/><stop offset="38.4%" stop-color="#dddddd"/><stop offset="40.5%" stop-color="#e0e0e0"/><stop offset="42.6%" stop-color="#e2e2e2"/><stop offset="44.8%" stop-color="#e4e4e4"/><stop offset="46.9%" stop-color="#e6e6e6"/><stop offset="49%" stop-color="#e8e8e8"/><stop offset="51.2%" stop-color="#eaeaea"/><stop offset="53.3%" stop-color="#ececec"/><stop offset="55.4%" stop-color="#ebebeb"/><stop offset="57.5%" stop-color="#eaeaea"/><stop offset="59.7%" stop-color="#e9e9e9"/><stop offset="61.8%" stop-color="#e8e8e8"/><stop offset="63.9%" stop-color="#e7e7e7"/><stop offset="66.1%" stop-color="#e4e4e4"/><stop offset="68.2%" stop-color="#dfdfdf"/><stop offset="70.3%" stop-color="#dbdbdb"/><stop offset="72.5%" stop-color="#d6d6d6"/><stop offset="74.6%" stop-color="#d1d1d1"/><stop offset="76.7%" stop-color="#cdcdcd"/><stop offset="78.9%" stop-color="#c5c5c5"/><stop offset="81%" stop-color="#bebebe"/><stop offset="83.1%" stop-color="#b6b6b6"/><stop offset="85.3%" stop-color="#aeaeae"/><stop offset="87.4%" stop-color="#a6a6a6"/><stop offset="89.5%" stop-color="#9c9c9c"/><stop offset="91.7%" stop-color="#8d8d8d"/><stop offset="93.8%" stop-color="#7e7e7e"/><stop offset="95.9%" stop-color="#5b5b5b"/><stop offset="98%" stop-color="#111111"/><stop offset="100%" stop-color="#070707"/></linearGradient><linearGradient id="gB16"><stop offset="0%" stop-color="#acacac"/><stop offset="2.1%" stop-color="#acacac"/><stop offset="4.3%" stop-color="#acacac"/><stop offset="6.4%" stop-color="#afafaf"/><stop offset="8.5%" stop-color="#b2b2b2"/><stop offset="10.7%" stop-color="#b5b5b5"/><stop offset="12.8%" stop-color="#b7b7b7"/><stop offset="14.9%" stop-color="#bababa"/><stop offset="17.1%" stop-color="#bdbdbd"/><stop offset="19.2%" stop-color="#c1c1c1"/><stop offset="21.3%" stop-color="#c5c5c5"/><stop offset="23.4%" stop-color="#c9c9c9"/><stop offset="25.6%" stop-color="#cccccc"/><stop offset="27.7%" stop-color="#d0d0d0"/><stop offset="29.8%" stop-color="#d3d3d3"/><stop offset="32%" stop-color="#d6d6d6"/><stop offset="34.1%" stop-color="#d9d9d9"/><stop offset="36.2%" stop-color="#dcdcdc"/><stop offset="38.4%" stop-color="#dedede"/><stop offset="40.5%" stop-color="#e0e0e0"/><stop offset="42.6%" stop-color="#e2e2e2"/><stop offset="44.8%" stop-color="#e4e4e4"/><stop offset="46.9%" stop-color="#e6e6e6"/><stop offset="49%" stop-color="#e8e8e8"/><stop offset="51.2%" stop-color="#e9e9e9"/><stop offset="53.3%" stop-color="#ebebeb"/><stop offset="55.4%" stop-color="#eaeaea"/><stop offset="57.5%" stop-color="#e9e9e9"/><stop offset="59.7%" stop-color="#e8e8e8"/><stop offset="61.8%" stop-color="#e7e7e7"/><stop offset="63.9%" stop-color="#e6e6e6"/><stop offset="66.1%" stop-color="#e3e3e3"/><stop offset="68.2%" stop-color="#dedede"/><stop offset="70.3%" stop-color="#dadada"/><stop offset="72.5%" stop-color="#d5d5d5"/><stop offset="74.6%" stop-color="#d0d0d0"/><stop offset="76.7%" stop-color="#cccccc"/><stop offset="78.9%" stop-color="#c5c5c5"/><stop offset="81%" stop-color="#bdbdbd"/><stop offset="83.1%" stop-color="#b6b6b6"/><stop offset="85.3%" stop-color="#aeaeae"/><stop offset="87.4%" stop-color="#a6a6a6"/><stop offset="89.5%" stop-color="#9d9d9d"/><stop offset="91.7%" stop-color="#8e8e8e"/><stop offset="93.8%" stop-color="#7f7f7f"/><stop offset="95.9%" stop-color="#5b5b5b"/><stop offset="98%" stop-color="#111111"/><stop offset="100%" stop-color="#070707"/></linearGradient><linearGradient id="gB17"><stop offset="0%" stop-color="#b5b5b5"/><stop offset="2.1%" stop-color="#b5b5b5"/><stop offset="4.3%" stop-color="#b5b5b5"/><stop offset="6.4%" stop-color="#b7b7b7"/><stop offset="8.5%" stop-color="#b9b9b9"/><stop offset="10.7%" stop-color="#bcbcbc"/><stop offset="12.8%" stop-color="#bebebe"/><stop offset="14.9%" stop-color="#c0c0c0"/><stop offset="17.1%" stop-color="#c3c3c3"/><stop offset="19.2%" stop-color="#c6c6c6"/><stop offset="21.3%" stop-color="#c9c9c9"/><stop offset="23.4%" stop-color="#cccccc"/><stop offset="25.6%" stop-color="#cfcfcf"/><stop offset="27.7%" stop-color="#d2d2d2"/><stop offset="29.8%" stop-color="#d4d4d4"/><stop offset="32%" stop-color="#d7d7d7"/><stop offset="34.1%" stop-color="#dadada"/><stop offset="36.2%" stop-color="#dcdcdc"/><stop offset="38.4%" stop-color="#dedede"/><stop offset="40.5%" stop-color="#dfdfdf"/><stop offset="42.6%" stop-color="#e1e1e1"/><stop offset="44.8%" stop-color="#e2e2e2"/><stop offset="46.9%" stop-color="#e4e4e4"/><stop offset="49%" stop-color="#e6e6e6"/><stop offset="51.2%" stop-color="#e7e7e7"/><stop offset="53.3%" stop-color="#e8e8e8"/><stop offset="55.4%" stop-color="#e7e7e7"/><stop offset="57.5%" stop-color="#e7e7e7"/><stop offset="59.7%" stop-color="#e6e6e6"/><stop offset="61.8%" stop-color="#e4e4e4"/><stop offset="63.9%" stop-color="#e3e3e3"/><stop offset="66.1%" stop-color="#e1e1e1"/><stop offset="68.2%" stop-color="#dcdcdc"/><stop offset="70.3%" stop-color="#d7d7d7"/><stop offset="72.5%" stop-color="#d3d3d3"/><stop offset="74.6%" stop-color="#cecece"/><stop offset="76.7%" stop-color="#cacaca"/><stop offset="78.9%" stop-color="#c3c3c3"/><stop offset="81%" stop-color="#bcbcbc"/><stop offset="83.1%" stop-color="#b4b4b4"/><stop offset="85.3%" stop-color="#adadad"/><stop offset="87.4%" stop-color="#a5a5a5"/><stop offset="89.5%" stop-color="#9c9c9c"/><stop offset="91.7%" stop-color="#8e8e8e"/><stop offset="93.8%" stop-color="#7f7f7f"/><stop offset="95.9%" stop-color="#5b5b5b"/><stop offset="98%" stop-color="#111111"/><stop offset="100%" stop-color="#070707"/></linearGradient><linearGradient id="gB18"><stop offset="0%" stop-color="#b8b8b8"/><stop offset="2.1%" stop-color="#b8b8b8"/><stop offset="4.3%" stop-color="#b8b8b8"/><stop offset="6.4%" stop-color="#bababa"/><stop offset="8.5%" stop-color="#bcbcbc"/><stop offset="10.7%" stop-color="#bebebe"/><stop offset="12.8%" stop-color="#c0c0c0"/><stop offset="14.9%" stop-color="#c2c2c2"/><stop offset="17.1%" stop-color="#c4c4c4"/><stop offset="19.2%" stop-color="#c6c6c6"/><stop offset="21.3%" stop-color="#c9c9c9"/><stop offset="23.4%" stop-color="#cccccc"/><stop offset="25.6%" stop-color="#cecece"/><stop offset="27.7%" stop-color="#d1d1d1"/><stop offset="29.8%" stop-color="#d3d3d3"/><stop offset="32%" stop-color="#d5d5d5"/><stop offset="34.1%" stop-color="#d7d7d7"/><stop offset="36.2%" stop-color="#d9d9d9"/><stop offset="38.4%" stop-color="#dbdbdb"/><stop offset="40.5%" stop-color="#dcdcdc"/><stop offset="42.6%" stop-color="#dedede"/><stop offset="44.8%" stop-color="#dfdfdf"/><stop offset="46.9%" stop-color="#e1e1e1"/><stop offset="49%" stop-color="#e2e2e2"/><stop offset="51.2%" stop-color="#e4e4e4"/><stop offset="53.3%" stop-color="#e5e5e5"/><stop offset="55.4%" stop-color="#e4e4e4"/><stop offset="57.5%" stop-color="#e3e3e3"/><stop offset="59.7%" stop-color="#e2e2e2"/><stop offset="61.8%" stop-color="#e1e1e1"/><stop offset="63.9%" stop-color="#e0e0e0"/><stop offset="66.1%" stop-color="#dddddd"/><stop offset="68.2%" stop-color="#d9d9d9"/><stop offset="70.3%" stop-color="#d4d4d4"/><stop offset="72.5%" stop-color="#d0d0d0"/><stop offset="74.6%" stop-color="#cbcbcb"/><stop offset="76.7%" stop-color="#c7c7c7"/><stop offset="78.9%" stop-color="#c0c0c0"/><stop offset="81%" stop-color="#b9b9b9"/><stop offset="83.1%" stop-color="#b2b2b2"/><stop offset="85.3%" stop-color="#aaaaaa"/><stop offset="87.4%" stop-color="#a3a3a3"/><stop offset="89.5%" stop-color="#9a9a9a"/><stop offset="91.7%" stop-color="#8c8c8c"/><stop offset="93.8%" stop-color="#7d7d7d"/><stop offset="95.9%" stop-color="#5a5a5a"/><stop offset="98%" stop-color="#111111"/><stop offset="100%" stop-color="#070707"/></linearGradient><linearGradient id="gB19"><stop offset="0%" stop-color="#b7b7b7"/><stop offset="2.1%" stop-color="#b7b7b7"/><stop offset="4.3%" stop-color="#b7b7b7"/><stop offset="6.4%" stop-color="#b9b9b9"/><stop offset="8.5%" stop-color="#bbbbbb"/><stop offset="10.7%" stop-color="#bdbdbd"/><stop offset="12.8%" stop-color="#bebebe"/><stop offset="14.9%" stop-color="#c0c0c0"/><stop offset="17.1%" stop-color="#c2c2c2"/><stop offset="19.2%" stop-color="#c4c4c4"/><stop offset="21.3%" stop-color="#c6c6c6"/><stop offset="23.4%" stop-color="#c9c9c9"/><stop offset="25.6%" stop-color="#cbcbcb"/><stop offset="27.7%" stop-color="#cdcdcd"/><stop offset="29.8%" stop-color="#cfcfcf"/><stop offset="32%" stop-color="#d1d1d1"/><stop offset="34.1%" stop-color="#d3d3d3"/><stop offset="36.2%" stop-color="#d5d5d5"/><stop offset="38.4%" stop-color="#d6d6d6"/><stop offset="40.5%" stop-color="#d8d8d8"/><stop offset="42.6%" stop-color="#d9d9d9"/><stop offset="44.8%" stop-color="#dadada"/><stop offset="46.9%" stop-color="#dcdcdc"/><stop offset="49%" stop-color="#dddddd"/><stop offset="51.2%" stop-color="#dedede"/><stop offset="53.3%" stop-color="#e0e0e0"/><stop offset="55.4%" stop-color="#dfdfdf"/><stop offset="57.5%" stop-color="#dedede"/><stop offset="59.7%" stop-color="#dddddd"/><stop offset="61.8%" stop-color="#dcdcdc"/><stop offset="63.9%" stop-color="#dbdbdb"/><stop offset="66.1%" stop-color="#d8d8d8"/><stop offset="68.2%" stop-color="#d4d4d4"/><stop offset="70.3%" stop-color="#cfcfcf"/><stop offset="72.5%" stop-color="#cbcbcb"/><stop offset="74.6%" stop-color="#c6c6c6"/><stop offset="76.7%" stop-color="#c2c2c2"/><stop offset="78.9%" stop-color="#bbbbbb"/><stop offset="81%" stop-color="#b4b4b4"/><stop offset="83.1%" stop-color="#aeaeae"/><stop offset="85.3%" stop-color="#a7a7a7"/><stop offset="87.4%" stop-color="#a0a0a0"/><stop offset="89.5%" stop-color="#979797"/><stop offset="91.7%" stop-color="#898989"/><stop offset="93.8%" stop-color="#7b7b7b"/><stop offset="95.9%" stop-color="#595959"/><stop offset="98%" stop-color="#111111"/><stop offset="100%" stop-color="#070707"/></linearGradient><linearGradient id="gB20"><stop offset="0%" stop-color="#b3b3b3"/><stop offset="2.1%" stop-color="#b3b3b3"/><stop offset="4.3%" stop-color="#b3b3b3"/><stop offset="6.4%" stop-color="#b5b5b5"/><stop offset="8.5%" stop-color="#b7b7b7"/><stop offset="10.7%" stop-color="#b8b8b8"/><stop offset="12.8%" stop-color="#bababa"/><stop offset="14.9%" stop-color="#bbbbbb"/><stop offset="17.1%" stop-color="#bdbdbd"/><stop offset="19.2%" stop-color="#bfbfbf"/><stop offset="21.3%" stop-color="#c1c1c1"/><stop offset="23.4%" stop-color="#c3c3c3"/><stop offset="25.6%" stop-color="#c5c5c5"/><stop offset="27.7%" stop-color="#c8c8c8"/><stop offset="29.8%" stop-color="#cacaca"/><stop offset="32%" stop-color="#cbcbcb"/><stop offset="34.1%" stop-color="#cdcdcd"/><stop offset="36.2%" stop-color="#cfcfcf"/><stop offset="38.4%" stop-color="#d0d0d0"/><stop offset="40.5%" stop-color="#d1d1d1"/><stop offset="42.6%" stop-color="#d2d2d2"/><stop offset="44.8%" stop-color="#d4d4d4"/><stop offset="46.9%" stop-color="#d5d5d5"/><stop offset="49%" stop-color="#d6d6d6"/><stop offset="51.2%" stop-color="#d7d7d7"/><stop offset="53.3%" stop-color="#d9d9d9"/><stop offset="55.4%" stop-color="#d8d8d8"/><stop offset="57.5%" stop-color="#d7d7d7"/><stop offset="59.7%" stop-color="#d6d6d6"/><stop offset="61.8%" stop-color="#d5d5d5"/><stop offset="63.9%" stop-color="#d4d4d4"/><stop offset="66.1%" stop-color="#d1d1d1"/><stop offset="68.2%" stop-color="#cdcdcd"/><stop offset="70.3%" stop-color="#c9c9c9"/><stop offset="72.5%" stop-color="#c4c4c4"/><stop offset="74.6%" stop-color="#c0c0c0"/><stop offset="76.7%" stop-color="#bcbcbc"/><stop offset="78.9%" stop-color="#b5b5b5"/><stop offset="81%" stop-color="#afafaf"/><stop offset="83.1%" stop-color="#a8a8a8"/><stop offset="85.3%" stop-color="#a1a1a1"/><stop offset="87.4%" stop-color="#9b9b9b"/><stop offset="89.5%" stop-color="#929292"/><stop offset="91.7%" stop-color="#858585"/><stop offset="93.8%" stop-color="#787878"/><stop offset="95.9%" stop-color="#575757"/><stop offset="98%" stop-color="#101010"/><stop offset="100%" stop-color="#070707"/></linearGradient><linearGradient id="gB21"><stop offset="0%" stop-color="#adadad"/><stop offset="2.1%" stop-color="#adadad"/><stop offset="4.3%" stop-color="#adadad"/><stop offset="6.4%" stop-color="#aeaeae"/><stop offset="8.5%" stop-color="#b0b0b0"/><stop offset="10.7%" stop-color="#b1b1b1"/><stop offset="12.8%" stop-color="#b3b3b3"/><stop offset="14.9%" stop-color="#b4b4b4"/><stop offset="17.1%" stop-color="#b6b6b6"/><stop offset="19.2%" stop-color="#b8b8b8"/><stop offset="21.3%" stop-color="#bababa"/><stop offset="23.4%" stop-color="#bcbcbc"/><stop offset="25.6%" stop-color="#bebebe"/><stop offset="27.7%" stop-color="#c0c0c0"/><stop offset="29.8%" stop-color="#c2c2c2"/><stop offset="32%" stop-color="#c3c3c3"/><stop offset="34.1%" stop-color="#c5c5c5"/><stop offset="36.2%" stop-color="#c6c6c6"/><stop offset="38.4%" stop-color="#c7c7c7"/><stop offset="40.5%" stop-color="#c8c8c8"/><stop offset="42.6%" stop-color="#c9c9c9"/><stop offset="44.8%" stop-color="#cbcbcb"/><stop offset="46.9%" stop-color="#cccccc"/><stop offset="49%" stop-color="#cdcdcd"/><stop offset="51.2%" stop-color="#cecece"/><stop offset="53.3%" stop-color="#d0d0d0"/><stop offset="55.4%" stop-color="#cfcfcf"/><stop offset="57.5%" stop-color="#cecece"/><stop offset="59.7%" stop-color="#cdcdcd"/><stop offset="61.8%" stop-color="#cccccc"/><stop offset="63.9%" stop-color="#cbcbcb"/><stop offset="66.1%" stop-color="#c8c8c8"/><stop offset="68.2%" stop-color="#c4c4c4"/><stop offset="70.3%" stop-color="#c0c0c0"/><stop offset="72.5%" stop-color="#bcbcbc"/><stop offset="74.6%" stop-color="#b8b8b8"/><stop offset="76.7%" stop-color="#b4b4b4"/><stop offset="78.9%" stop-color="#adadad"/><stop offset="81%" stop-color="#a7a7a7"/><stop offset="83.1%" stop-color="#a1a1a1"/><stop offset="85.3%" stop-color="#9a9a9a"/><stop offset="87.4%" stop-color="#949494"/><stop offset="89.5%" stop-color="#8c8c8c"/><stop offset="91.7%" stop-color="#808080"/><stop offset="93.8%" stop-color="#737373"/><stop offset="95.9%" stop-color="#545454"/><stop offset="98%" stop-color="#101010"/><stop offset="100%" stop-color="#070707"/></linearGradient><linearGradient id="gB22"><stop offset="0%" stop-color="#a3a3a3"/><stop offset="2.1%" stop-color="#a3a3a3"/><stop offset="4.3%" stop-color="#a3a3a3"/><stop offset="6.4%" stop-color="#a5a5a5"/><stop offset="8.5%" stop-color="#a6a6a6"/><stop offset="10.7%" stop-color="#a8a8a8"/><stop offset="12.8%" stop-color="#a9a9a9"/><stop offset="14.9%" stop-color="#ababab"/><stop offset="17.1%" stop-color="#acacac"/><stop offset="19.2%" stop-color="#aeaeae"/><stop offset="21.3%" stop-color="#b0b0b0"/><stop offset="23.4%" stop-color="#b2b2b2"/><stop offset="25.6%" stop-color="#b4b4b4"/><stop offset="27.7%" stop-color="#b6b6b6"/><stop offset="29.8%" stop-color="#b8b8b8"/><stop offset="32%" stop-color="#b9b9b9"/><stop offset="34.1%" stop-color="#bababa"/><stop offset="36.2%" stop-color="#bcbcbc"/><stop offset="38.4%" stop-color="#bcbcbc"/><stop offset="40.5%" stop-color="#bdbdbd"/><stop offset="42.6%" stop-color="#bebebe"/><stop offset="44.8%" stop-color="#bfbfbf"/><stop offset="46.9%" stop-color="#c0c0c0"/><stop offset="49%" stop-color="#c1c1c1"/><stop offset="51.2%" stop-color="#c3c3c3"/><stop offset="53.3%" stop-color="#c4c4c4"/><stop offset="55.4%" stop-color="#c3c3c3"/><stop offset="57.5%" stop-color="#c2c2c2"/><stop offset="59.7%" stop-color="#c2c2c2"/><stop offset="61.8%" stop-color="#c0c0c0"/><stop offset="63.9%" stop-color="#bfbfbf"/><stop offset="66.1%" stop-color="#bcbcbc"/><stop offset="68.2%" stop-color="#b9b9b9"/><stop offset="70.3%" stop-color="#b5b5b5"/><stop offset="72.5%" stop-color="#b1b1b1"/><stop offset="74.6%" stop-color="#adadad"/><stop offset="76.7%" stop-color="#a9a9a9"/><stop offset="78.9%" stop-color="#a3a3a3"/><stop offset="81%" stop-color="#9e9e9e"/><stop offset="83.1%" stop-color="#989898"/><stop offset="85.3%" stop-color="#929292"/><stop offset="87.4%" stop-color="#8c8c8c"/><stop offset="89.5%" stop-color="#848484"/><stop offset="91.7%" stop-color="#797979"/><stop offset="93.8%" stop-color="#6d6d6d"/><stop offset="95.9%" stop-color="#515151"/><stop offset="98%" stop-color="#101010"/><stop offset="100%" stop-color="#070707"/></linearGradient><linearGradient id="gB23"><stop offset="0%" stop-color="#979797"/><stop offset="2.1%" stop-color="#979797"/><stop offset="4.3%" stop-color="#979797"/><stop offset="6.4%" stop-color="#999999"/><stop offset="8.5%" stop-color="#9a9a9a"/><stop offset="10.7%" stop-color="#9c9c9c"/><stop offset="12.8%" stop-color="#9d9d9d"/><stop offset="14.9%" stop-color="#9e9e9e"/><stop offset="17.1%" stop-color="#a0a0a0"/><stop offset="19.2%" stop-color="#a2a2a2"/><stop offset="21.3%" stop-color="#a3a3a3"/><stop offset="23.4%" stop-color="#a5a5a5"/><stop offset="25.6%" stop-color="#a7a7a7"/><stop offset="27.7%" stop-color="#a9a9a9"/><stop offset="29.8%" stop-color="#ababab"/><stop offset="32%" stop-color="#acacac"/><stop offset="34.1%" stop-color="#adadad"/><stop offset="36.2%" stop-color="#aeaeae"/><stop offset="38.4%" stop-color="#afafaf"/><stop offset="40.5%" stop-color="#afafaf"/><stop offset="42.6%" stop-color="#b0b0b0"/><stop offset="44.8%" stop-color="#b1b1b1"/><stop offset="46.9%" stop-color="#b2b2b2"/><stop offset="49%" stop-color="#b3b3b3"/><stop offset="51.2%" stop-color="#b4b4b4"/><stop offset="53.3%" stop-color="#b5b5b5"/><stop offset="55.4%" stop-color="#b5b5b5"/><stop offset="57.5%" stop-color="#b4b4b4"/><stop offset="59.7%" stop-color="#b3b3b3"/><stop offset="61.8%" stop-color="#b2b2b2"/><stop offset="63.9%" stop-color="#b1b1b1"/><stop offset="66.1%" stop-color="#aeaeae"/><stop offset="68.2%" stop-color="#aaaaaa"/><stop offset="70.3%" stop-color="#a7a7a7"/><stop offset="72.5%" stop-color="#a3a3a3"/><stop offset="74.6%" stop-color="#a0a0a0"/><stop offset="76.7%" stop-color="#9c9c9c"/><stop offset="78.9%" stop-color="#979797"/><stop offset="81%" stop-color="#929292"/><stop offset="83.1%" stop-color="#8c8c8c"/><stop offset="85.3%" stop-color="#878787"/><stop offset="87.4%" stop-color="#818181"/><stop offset="89.5%" stop-color="#7a7a7a"/><stop offset="91.7%" stop-color="#717171"/><stop offset="93.8%" stop-color="#666666"/><stop offset="95.9%" stop-color="#4c4c4c"/><stop offset="98%" stop-color="#0f0f0f"/><stop offset="100%" stop-color="#070707"/></linearGradient><linearGradient id="gB24"><stop offset="0%" stop-color="#888888"/><stop offset="2.1%" stop-color="#888888"/><stop offset="4.3%" stop-color="#888888"/><stop offset="6.4%" stop-color="#898989"/><stop offset="8.5%" stop-color="#8a8a8a"/><stop offset="10.7%" stop-color="#8c8c8c"/><stop offset="12.8%" stop-color="#8d8d8d"/><stop offset="14.9%" stop-color="#8f8f8f"/><stop offset="17.1%" stop-color="#909090"/><stop offset="19.2%" stop-color="#929292"/><stop offset="21.3%" stop-color="#939393"/><stop offset="23.4%" stop-color="#959595"/><stop offset="25.6%" stop-color="#979797"/><stop offset="27.7%" stop-color="#999999"/><stop offset="29.8%" stop-color="#9a9a9a"/><stop offset="32%" stop-color="#9b9b9b"/><stop offset="34.1%" stop-color="#9d9d9d"/><stop offset="36.2%" stop-color="#9d9d9d"/><stop offset="38.4%" stop-color="#9e9e9e"/><stop offset="40.5%" stop-color="#9e9e9e"/><stop offset="42.6%" stop-color="#9f9f9f"/><stop offset="44.8%" stop-color="#a0a0a0"/><stop offset="46.9%" stop-color="#a1a1a1"/><stop offset="49%" stop-color="#a2a2a2"/><stop offset="51.2%" stop-color="#a3a3a3"/><stop offset="53.3%" stop-color="#a4a4a4"/><stop offset="55.4%" stop-color="#a3a3a3"/><stop offset="57.5%" stop-color="#a3a3a3"/><stop offset="59.7%" stop-color="#a2a2a2"/><stop offset="61.8%" stop-color="#a1a1a1"/><stop offset="63.9%" stop-color="#9f9f9f"/><stop offset="66.1%" stop-color="#9d9d9d"/><stop offset="68.2%" stop-color="#9a9a9a"/><stop offset="70.3%" stop-color="#969696"/><stop offset="72.5%" stop-color="#939393"/><stop offset="74.6%" stop-color="#909090"/><stop offset="76.7%" stop-color="#8d8d8d"/><stop offset="78.9%" stop-color="#888888"/><stop offset="81%" stop-color="#838383"/><stop offset="83.1%" stop-color="#7e7e7e"/><stop offset="85.3%" stop-color="#797979"/><stop offset="87.4%" stop-color="#747474"/><stop offset="89.5%" stop-color="#6e6e6e"/><stop offset="91.7%" stop-color="#666666"/><stop offset="93.8%" stop-color="#5d5d5d"/><stop offset="95.9%" stop-color="#454545"/><stop offset="98%" stop-color="#0f0f0f"/><stop offset="100%" stop-color="#070707"/></linearGradient><linearGradient id="gB25"><stop offset="0%" stop-color="#747474"/><stop offset="2.1%" stop-color="#747474"/><stop offset="4.3%" stop-color="#747474"/><stop offset="6.4%" stop-color="#767676"/><stop offset="8.5%" stop-color="#777777"/><stop offset="10.7%" stop-color="#787878"/><stop offset="12.8%" stop-color="#7a7a7a"/><stop offset="14.9%" stop-color="#7b7b7b"/><stop offset="17.1%" stop-color="#7d7d7d"/><stop offset="19.2%" stop-color="#7e7e7e"/><stop offset="21.3%" stop-color="#808080"/><stop offset="23.4%" stop-color="#828282"/><stop offset="25.6%" stop-color="#838383"/><stop offset="27.7%" stop-color="#858585"/><stop offset="29.8%" stop-color="#878787"/><stop offset="32%" stop-color="#888888"/><stop offset="34.1%" stop-color="#898989"/><stop offset="36.2%" stop-color="#898989"/><stop offset="38.4%" stop-color="#8a8a8a"/><stop offset="40.5%" stop-color="#8a8a8a"/><stop offset="42.6%" stop-color="#8a8a8a"/><stop offset="44.8%" stop-color="#8b8b8b"/><stop offset="46.9%" stop-color="#8c8c8c"/><stop offset="49%" stop-color="#8d8d8d"/><stop offset="51.2%" stop-color="#8e8e8e"/><stop offset="53.3%" stop-color="#8f8f8f"/><stop offset="55.4%" stop-color="#8f8f8f"/><stop offset="57.5%" stop-color="#8e8e8e"/><stop offset="59.7%" stop-color="#8e8e8e"/><stop offset="61.8%" stop-color="#8c8c8c"/><stop offset="63.9%" stop-color="#8b8b8b"/><stop offset="66.1%" stop-color="#898989"/><stop offset="68.2%" stop-color="#868686"/><stop offset="70.3%" stop-color="#838383"/><stop offset="72.5%" stop-color="#808080"/><stop offset="74.6%" stop-color="#7d7d7d"/><stop offset="76.7%" stop-color="#7a7a7a"/><stop offset="78.9%" stop-color="#767676"/><stop offset="81%" stop-color="#727272"/><stop offset="83.1%" stop-color="#6e6e6e"/><stop offset="85.3%" stop-color="#696969"/><stop offset="87.4%" stop-color="#656565"/><stop offset="89.5%" stop-color="#606060"/><stop offset="91.7%" stop-color="#585858"/><stop offset="93.8%" stop-color="#515151"/><stop offset="95.9%" stop-color="#3d3d3d"/><stop offset="98%" stop-color="#0e0e0e"/><stop offset="100%" stop-color="#070707"/></linearGradient><linearGradient id="gB26"><stop offset="0%" stop-color="#5e5e5e"/><stop offset="2.1%" stop-color="#5e5e5e"/><stop offset="4.3%" stop-color="#5e5e5e"/><stop offset="6.4%" stop-color="#606060"/><stop offset="8.5%" stop-color="#616161"/><stop offset="10.7%" stop-color="#626262"/><stop offset="12.8%" stop-color="#646464"/><stop offset="14.9%" stop-color="#656565"/><stop offset="17.1%" stop-color="#666666"/><stop offset="19.2%" stop-color="#686868"/><stop offset="21.3%" stop-color="#696969"/><stop offset="23.4%" stop-color="#6b6b6b"/><stop offset="25.6%" stop-color="#6c6c6c"/><stop offset="27.7%" stop-color="#6e6e6e"/><stop offset="29.8%" stop-color="#707070"/><stop offset="32%" stop-color="#717171"/><stop offset="34.1%" stop-color="#727272"/><stop offset="36.2%" stop-color="#727272"/><stop offset="38.4%" stop-color="#737373"/><stop offset="40.5%" stop-color="#737373"/><stop offset="42.6%" stop-color="#737373"/><stop offset="44.8%" stop-color="#747474"/><stop offset="46.9%" stop-color="#757575"/><stop offset="49%" stop-color="#767676"/><stop offset="51.2%" stop-color="#777777"/><stop offset="53.3%" stop-color="#777777"/><stop offset="55.4%" stop-color="#777777"/><stop offset="57.5%" stop-color="#777777"/><stop offset="59.7%" stop-color="#777777"/><stop offset="61.8%" stop-color="#757575"/><stop offset="63.9%" stop-color="#747474"/><stop offset="66.1%" stop-color="#727272"/><stop offset="68.2%" stop-color="#707070"/><stop offset="70.3%" stop-color="#6d6d6d"/><stop offset="72.5%" stop-color="#6a6a6a"/><stop offset="74.6%" stop-color="#686868"/><stop offset="76.7%" stop-color="#656565"/><stop offset="78.9%" stop-color="#626262"/><stop offset="81%" stop-color="#5f5f5f"/><stop offset="83.1%" stop-color="#5b5b5b"/><stop offset="85.3%" stop-color="#575757"/><stop offset="87.4%" stop-color="#545454"/><stop offset="89.5%" stop-color="#4f4f4f"/><stop offset="91.7%" stop-color="#494949"/><stop offset="93.8%" stop-color="#434343"/><stop offset="95.9%" stop-color="#333333"/><stop offset="98%" stop-color="#0c0c0c"/><stop offset="100%" stop-color="#070707"/></linearGradient><linearGradient id="gB27"><stop offset="0%" stop-color="#494949"/><stop offset="2.1%" stop-color="#494949"/><stop offset="4.3%" stop-color="#494949"/><stop offset="6.4%" stop-color="#4a4a4a"/><stop offset="8.5%" stop-color="#4b4b4b"/><stop offset="10.7%" stop-color="#4c4c4c"/><stop offset="12.8%" stop-color="#4d4d4d"/><stop offset="14.9%" stop-color="#4e4e4e"/><stop offset="17.1%" stop-color="#505050"/><stop offset="19.2%" stop-color="#515151"/><stop offset="21.3%" stop-color="#525252"/><stop offset="23.4%" stop-color="#545454"/><stop offset="25.6%" stop-color="#555555"/><stop offset="27.7%" stop-color="#565656"/><stop offset="29.8%" stop-color="#585858"/><stop offset="32%" stop-color="#595959"/><stop offset="34.1%" stop-color="#5a5a5a"/><stop offset="36.2%" stop-color="#5a5a5a"/><stop offset="38.4%" stop-color="#5b5b5b"/><stop offset="40.5%" stop-color="#5b5b5b"/><stop offset="42.6%" stop-color="#5c5c5c"/><stop offset="44.8%" stop-color="#5c5c5c"/><stop offset="46.9%" stop-color="#5d5d5d"/><stop offset="49%" stop-color="#5e5e5e"/><stop offset="51.2%" stop-color="#5e5e5e"/><stop offset="53.3%" stop-color="#5f5f5f"/><stop offset="55.4%" stop-color="#5f5f5f"/><stop offset="57.5%" stop-color="#5f5f5f"/><stop offset="59.7%" stop-color="#5f5f5f"/><stop offset="61.8%" stop-color="#5e5e5e"/><stop offset="63.9%" stop-color="#5d5d5d"/><stop offset="66.1%" stop-color="#5b5b5b"/><stop offset="68.2%" stop-color="#595959"/><stop offset="70.3%" stop-color="#575757"/><stop offset="72.5%" stop-color="#555555"/><stop offset="74.6%" stop-color="#525252"/><stop offset="76.7%" stop-color="#505050"/><stop offset="78.9%" stop-color="#4e4e4e"/><stop offset="81%" stop-color="#4b4b4b"/><stop offset="83.1%" stop-color="#484848"/><stop offset="85.3%" stop-color="#454545"/><stop offset="87.4%" stop-color="#424242"/><stop offset="89.5%" stop-color="#3e3e3e"/><stop offset="91.7%" stop-color="#3a3a3a"/><stop offset="93.8%" stop-color="#343434"/><stop offset="95.9%" stop-color="#282828"/><stop offset="98%" stop-color="#0b0b0b"/><stop offset="100%" stop-color="#070707"/></linearGradient><linearGradient id="gB28"><stop offset="0%" stop-color="#363636"/><stop offset="2.1%" stop-color="#363636"/><stop offset="4.3%" stop-color="#363636"/><stop offset="6.4%" stop-color="#373737"/><stop offset="8.5%" stop-color="#383838"/><stop offset="10.7%" stop-color="#393939"/><stop offset="12.8%" stop-color="#3a3a3a"/><stop offset="14.9%" stop-color="#3b3b3b"/><stop offset="17.1%" stop-color="#3c3c3c"/><stop offset="19.2%" stop-color="#3d3d3d"/><stop offset="21.3%" stop-color="#3e3e3e"/><stop offset="23.4%" stop-color="#3f3f3f"/><stop offset="25.6%" stop-color="#404040"/><stop offset="27.7%" stop-color="#414141"/><stop offset="29.8%" stop-color="#424242"/><stop offset="32%" stop-color="#434343"/><stop offset="34.1%" stop-color="#444444"/><stop offset="36.2%" stop-color="#454545"/><stop offset="38.4%" stop-color="#454545"/><stop offset="40.5%" stop-color="#454545"/><stop offset="42.6%" stop-color="#464646"/><stop offset="44.8%" stop-color="#464646"/><stop offset="46.9%" stop-color="#474747"/><stop offset="49%" stop-color="#484848"/><stop offset="51.2%" stop-color="#484848"/><stop offset="53.3%" stop-color="#494949"/><stop offset="55.4%" stop-color="#494949"/><stop offset="57.5%" stop-color="#494949"/><stop offset="59.7%" stop-color="#494949"/><stop offset="61.8%" stop-color="#484848"/><stop offset="63.9%" stop-color="#474747"/><stop offset="66.1%" stop-color="#464646"/><stop offset="68.2%" stop-color="#444444"/><stop offset="70.3%" stop-color="#424242"/><stop offset="72.5%" stop-color="#414141"/><stop offset="74.6%" stop-color="#3f3f3f"/><stop offset="76.7%" stop-color="#3e3e3e"/><stop offset="78.9%" stop-color="#3b3b3b"/><stop offset="81%" stop-color="#393939"/><stop offset="83.1%" stop-color="#373737"/><stop offset="85.3%" stop-color="#353535"/><stop offset="87.4%" stop-color="#323232"/><stop offset="89.5%" stop-color="#303030"/><stop offset="91.7%" stop-color="#2c2c2c"/><stop offset="93.8%" stop-color="#282828"/><stop offset="95.9%" stop-color="#1f1f1f"/><stop offset="98%" stop-color="#0a0a0a"/><stop offset="100%" stop-color="#070707"/></linearGradient><linearGradient id="gB29"><stop offset="0%" stop-color="#292929"/><stop offset="2.1%" stop-color="#292929"/><stop offset="4.3%" stop-color="#292929"/><stop offset="6.4%" stop-color="#292929"/><stop offset="8.5%" stop-color="#2a2a2a"/><stop offset="10.7%" stop-color="#2b2b2b"/><stop offset="12.8%" stop-color="#2b2b2b"/><stop offset="14.9%" stop-color="#2c2c2c"/><stop offset="17.1%" stop-color="#2d2d2d"/><stop offset="19.2%" stop-color="#2d2d2d"/><stop offset="21.3%" stop-color="#2e2e2e"/><stop offset="23.4%" stop-color="#2f2f2f"/><stop offset="25.6%" stop-color="#303030"/><stop offset="27.7%" stop-color="#313131"/><stop offset="29.8%" stop-color="#323232"/><stop offset="32%" stop-color="#323232"/><stop offset="34.1%" stop-color="#333333"/><stop offset="36.2%" stop-color="#333333"/><stop offset="38.4%" stop-color="#343434"/><stop offset="40.5%" stop-color="#343434"/><stop offset="42.6%" stop-color="#343434"/><stop offset="44.8%" stop-color="#353535"/><stop offset="46.9%" stop-color="#353535"/><stop offset="49%" stop-color="#363636"/><stop offset="51.2%" stop-color="#363636"/><stop offset="53.3%" stop-color="#373737"/><stop offset="55.4%" stop-color="#373737"/><stop offset="57.5%" stop-color="#373737"/><stop offset="59.7%" stop-color="#373737"/><stop offset="61.8%" stop-color="#363636"/><stop offset="63.9%" stop-color="#363636"/><stop offset="66.1%" stop-color="#353535"/><stop offset="68.2%" stop-color="#333333"/><stop offset="70.3%" stop-color="#323232"/><stop offset="72.5%" stop-color="#313131"/><stop offset="74.6%" stop-color="#303030"/><stop offset="76.7%" stop-color="#2f2f2f"/><stop offset="78.9%" stop-color="#2d2d2d"/><stop offset="81%" stop-color="#2b2b2b"/><stop offset="83.1%" stop-color="#2a2a2a"/><stop offset="85.3%" stop-color="#282828"/><stop offset="87.4%" stop-color="#262626"/><stop offset="89.5%" stop-color="#242424"/><stop offset="91.7%" stop-color="#222222"/><stop offset="93.8%" stop-color="#1f1f1f"/><stop offset="95.9%" stop-color="#181818"/><stop offset="98%" stop-color="#090909"/><stop offset="100%" stop-color="#070707"/></linearGradient><linearGradient id="gB30"><stop offset="0%" stop-color="#1f1f1f"/><stop offset="2.1%" stop-color="#1f1f1f"/><stop offset="4.3%" stop-color="#1f1f1f"/><stop offset="6.4%" stop-color="#1f1f1f"/><stop offset="8.5%" stop-color="#202020"/><stop offset="10.7%" stop-color="#202020"/><stop offset="12.8%" stop-color="#212121"/><stop offset="14.9%" stop-color="#212121"/><stop offset="17.1%" stop-color="#222222"/><stop offset="19.2%" stop-color="#222222"/><stop offset="21.3%" stop-color="#232323"/><stop offset="23.4%" stop-color="#232323"/><stop offset="25.6%" stop-color="#242424"/><stop offset="27.7%" stop-color="#252525"/><stop offset="29.8%" stop-color="#252525"/><stop offset="32%" stop-color="#262626"/><stop offset="34.1%" stop-color="#262626"/><stop offset="36.2%" stop-color="#272727"/><stop offset="38.4%" stop-color="#272727"/><stop offset="40.5%" stop-color="#272727"/><stop offset="42.6%" stop-color="#282828"/><stop offset="44.8%" stop-color="#282828"/><stop offset="46.9%" stop-color="#282828"/><stop offset="49%" stop-color="#292929"/><stop offset="51.2%" stop-color="#292929"/><stop offset="53.3%" stop-color="#292929"/><stop offset="55.4%" stop-color="#292929"/><stop offset="57.5%" stop-color="#292929"/><stop offset="59.7%" stop-color="#292929"/><stop offset="61.8%" stop-color="#292929"/><stop offset="63.9%" stop-color="#282828"/><stop offset="66.1%" stop-color="#282828"/><stop offset="68.2%" stop-color="#272727"/><stop offset="70.3%" stop-color="#262626"/><stop offset="72.5%" stop-color="#252525"/><stop offset="74.6%" stop-color="#242424"/><stop offset="76.7%" stop-color="#232323"/><stop offset="78.9%" stop-color="#222222"/><stop offset="81%" stop-color="#212121"/><stop offset="83.1%" stop-color="#202020"/><stop offset="85.3%" stop-color="#1f1f1f"/><stop offset="87.4%" stop-color="#1e1e1e"/><stop offset="89.5%" stop-color="#1c1c1c"/><stop offset="91.7%" stop-color="#1a1a1a"/><stop offset="93.8%" stop-color="#181818"/><stop offset="95.9%" stop-color="#141414"/><stop offset="98%" stop-color="#090909"/><stop offset="100%" stop-color="#070707"/></linearGradient><linearGradient id="gB31"><stop offset="0%" stop-color="#191919"/><stop offset="2.1%" stop-color="#191919"/><stop offset="4.3%" stop-color="#191919"/><stop offset="6.4%" stop-color="#191919"/><stop offset="8.5%" stop-color="#191919"/><stop offset="10.7%" stop-color="#1a1a1a"/><stop offset="12.8%" stop-color="#1a1a1a"/><stop offset="14.9%" stop-color="#1a1a1a"/><stop offset="17.1%" stop-color="#1b1b1b"/><stop offset="19.2%" stop-color="#1b1b1b"/><stop offset="21.3%" stop-color="#1b1b1b"/><stop offset="23.4%" stop-color="#1c1c1c"/><stop offset="25.6%" stop-color="#1c1c1c"/><stop offset="27.7%" stop-color="#1d1d1d"/><stop offset="29.8%" stop-color="#1d1d1d"/><stop offset="32%" stop-color="#1d1d1d"/><stop offset="34.1%" stop-color="#1e1e1e"/><stop offset="36.2%" stop-color="#1e1e1e"/><stop offset="38.4%" stop-color="#1e1e1e"/><stop offset="40.5%" stop-color="#1f1f1f"/><stop offset="42.6%" stop-color="#1f1f1f"/><stop offset="44.8%" stop-color="#1f1f1f"/><stop offset="46.9%" stop-color="#1f1f1f"/><stop offset="49%" stop-color="#202020"/><stop offset="51.2%" stop-color="#202020"/><stop offset="53.3%" stop-color="#202020"/><stop offset="55.4%" stop-color="#202020"/><stop offset="57.5%" stop-color="#202020"/><stop offset="59.7%" stop-color="#202020"/><stop offset="61.8%" stop-color="#202020"/><stop offset="63.9%" stop-color="#1f1f1f"/><stop offset="66.1%" stop-color="#1f1f1f"/><stop offset="68.2%" stop-color="#1e1e1e"/><stop offset="70.3%" stop-color="#1e1e1e"/><stop offset="72.5%" stop-color="#1d1d1d"/><stop offset="74.6%" stop-color="#1c1c1c"/><stop offset="76.7%" stop-color="#1c1c1c"/><stop offset="78.9%" stop-color="#1b1b1b"/><stop offset="81%" stop-color="#1a1a1a"/><stop offset="83.1%" stop-color="#191919"/><stop offset="85.3%" stop-color="#191919"/><stop offset="87.4%" stop-color="#181818"/><stop offset="89.5%" stop-color="#171717"/><stop offset="91.7%" stop-color="#151515"/><stop offset="93.8%" stop-color="#141414"/><stop offset="95.9%" stop-color="#101010"/><stop offset="98%" stop-color="#080808"/><stop offset="100%" stop-color="#070707"/></linearGradient><linearGradient id="gB32"><stop offset="0%" stop-color="#191919"/><stop offset="2.1%" stop-color="#191919"/><stop offset="4.3%" stop-color="#191919"/><stop offset="6.4%" stop-color="#191919"/><stop offset="8.5%" stop-color="#191919"/><stop offset="10.7%" stop-color="#1a1a1a"/><stop offset="12.8%" stop-color="#1a1a1a"/><stop offset="14.9%" stop-color="#1a1a1a"/><stop offset="17.1%" stop-color="#1b1b1b"/><stop offset="19.2%" stop-color="#1b1b1b"/><stop offset="21.3%" stop-color="#1b1b1b"/><stop offset="23.4%" stop-color="#1c1c1c"/><stop offset="25.6%" stop-color="#1c1c1c"/><stop offset="27.7%" stop-color="#1d1d1d"/><stop offset="29.8%" stop-color="#1d1d1d"/><stop offset="32%" stop-color="#1d1d1d"/><stop offset="34.1%" stop-color="#1e1e1e"/><stop offset="36.2%" stop-color="#1e1e1e"/><stop offset="38.4%" stop-color="#1e1e1e"/><stop offset="40.5%" stop-color="#1f1f1f"/><stop offset="42.6%" stop-color="#1f1f1f"/><stop offset="44.8%" stop-color="#1f1f1f"/><stop offset="46.9%" stop-color="#1f1f1f"/><stop offset="49%" stop-color="#202020"/><stop offset="51.2%" stop-color="#202020"/><stop offset="53.3%" stop-color="#202020"/><stop offset="55.4%" stop-color="#202020"/><stop offset="57.5%" stop-color="#202020"/><stop offset="59.7%" stop-color="#202020"/><stop offset="61.8%" stop-color="#202020"/><stop offset="63.9%" stop-color="#1f1f1f"/><stop offset="66.1%" stop-color="#1f1f1f"/><stop offset="68.2%" stop-color="#1e1e1e"/><stop offset="70.3%" stop-color="#1e1e1e"/><stop offset="72.5%" stop-color="#1d1d1d"/><stop offset="74.6%" stop-color="#1c1c1c"/><stop offset="76.7%" stop-color="#1c1c1c"/><stop offset="78.9%" stop-color="#1b1b1b"/><stop offset="81%" stop-color="#1a1a1a"/><stop offset="83.1%" stop-color="#191919"/><stop offset="85.3%" stop-color="#191919"/><stop offset="87.4%" stop-color="#181818"/><stop offset="89.5%" stop-color="#171717"/><stop offset="91.7%" stop-color="#151515"/><stop offset="93.8%" stop-color="#141414"/><stop offset="95.9%" stop-color="#101010"/><stop offset="98%" stop-color="#080808"/><stop offset="100%" stop-color="#070707"/></linearGradient></defs>
<g clip-path="url(#clipB)">
<rect x="904" y="82" width="844.5" height="548" fill="#080808"/>
<g filter="url(#vb)"><rect x="904" y="64" width="844.5" height="18" fill="url(#gB0)"/><rect x="904" y="82" width="844.5" height="18" fill="url(#gB1)"/><rect x="904" y="100" width="844.5" height="18" fill="url(#gB2)"/><rect x="904" y="118" width="844.5" height="18" fill="url(#gB3)"/><rect x="904" y="136" width="844.5" height="18" fill="url(#gB4)"/><rect x="904" y="154" width="844.5" height="18" fill="url(#gB5)"/><rect x="904" y="172" width="844.5" height="18" fill="url(#gB6)"/><rect x="904" y="190" width="844.5" height="18" fill="url(#gB7)"/><rect x="904" y="208" width="844.5" height="18" fill="url(#gB8)"/><rect x="904" y="226" width="844.5" height="18" fill="url(#gB9)"/><rect x="904" y="244" width="844.5" height="18" fill="url(#gB10)"/><rect x="904" y="262" width="844.5" height="18" fill="url(#gB11)"/><rect x="904" y="280" width="844.5" height="18" fill="url(#gB12)"/><rect x="904" y="298" width="844.5" height="18" fill="url(#gB13)"/><rect x="904" y="316" width="844.5" height="18" fill="url(#gB14)"/><rect x="904" y="334" width="844.5" height="18" fill="url(#gB15)"/><rect x="904" y="352" width="844.5" height="18" fill="url(#gB16)"/><rect x="904" y="370" width="844.5" height="18" fill="url(#gB17)"/><rect x="904" y="388" width="844.5" height="18" fill="url(#gB18)"/><rect x="904" y="406" width="844.5" height="18" fill="url(#gB19)"/><rect x="904" y="424" width="844.5" height="18" fill="url(#gB20)"/><rect x="904" y="442" width="844.5" height="18" fill="url(#gB21)"/><rect x="904" y="460" width="844.5" height="18" fill="url(#gB22)"/><rect x="904" y="478" width="844.5" height="18" fill="url(#gB23)"/><rect x="904" y="496" width="844.5" height="18" fill="url(#gB24)"/><rect x="904" y="514" width="844.5" height="18" fill="url(#gB25)"/><rect x="904" y="532" width="844.5" height="18" fill="url(#gB26)"/><rect x="904" y="550" width="844.5" height="18" fill="url(#gB27)"/><rect x="904" y="568" width="844.5" height="18" fill="url(#gB28)"/><rect x="904" y="586" width="844.5" height="18" fill="url(#gB29)"/><rect x="904" y="604" width="844.5" height="18" fill="url(#gB30)"/><rect x="904" y="622" width="844.5" height="18" fill="url(#gB31)"/><rect x="904" y="640" width="844.5" height="18" fill="url(#gB32)"/></g>
<path d="M1280 144 C1281.3 148.3 1285.3 162.3 1288 170 C1290.7 177.7 1286.7 186 1296 190 C1305.3 194 1322.7 193.3 1344 194 C1365.3 194.7 1397.3 192.7 1424 194 C1450.7 195.3 1475.7 198.2 1504 202 C1532.3 205.8 1570.7 212.8 1594 217 C1617.3 221.2 1635.7 225.3 1644 227" fill="none" stroke="#909090" stroke-width="28" stroke-linecap="round" stroke-linejoin="round" filter="url(#b5)" style="mix-blend-mode:multiply"/>
<path d="M1274 212 C1255.7 218.7 1196 238.5 1164 252 C1132 265.5 1108.7 281.3 1082 293 C1055.3 304.7 1027.7 313.5 1004 322 C980.3 330.5 950.7 340.3 940 344" fill="none" stroke="#a8a8a8" stroke-width="14" stroke-linecap="round" stroke-linejoin="round" filter="url(#b6)" style="mix-blend-mode:multiply"/>
<path d="M1204 277 C1192.3 285.3 1156.2 308.3 1134 327 C1111.8 345.7 1086.8 367.2 1071 389 C1055.2 410.8 1046 437.7 1039 458 C1032 478.3 1031.5 482.3 1029 511 C1026.5 539.7 1024.8 610.2 1024 630" fill="none" stroke="#b4b4b4" stroke-width="14" stroke-linecap="round" stroke-linejoin="round" filter="url(#b6)" style="mix-blend-mode:multiply"/>
<path d="M1694 344 C1689.7 348.7 1674.7 363.2 1668 372 C1661.3 380.8 1656 387.8 1654 397 C1652 406.2 1652.3 418.7 1656 427 C1659.7 435.3 1664.3 442.5 1676 447 C1687.7 451.5 1717.7 471.2 1726 454 C1734.3 436.8 1731.3 362.3 1726 344 C1720.7 325.7 1699.3 344 1694 344" fill="#555555" opacity="1" filter="url(#b6)"/>
<line x1="939" y1="150" x2="1422" y2="630" stroke="#1c1c1c" stroke-width="3.2" opacity="0.62" filter="url(#b1)"/>
<rect x="904" y="82" width="34" height="548" fill="url(#lbh)"/>
<rect x="1694" y="82" width="34" height="548" fill="url(#rbh)"/>
<rect x="1727" y="62" width="40" height="588" fill="#050505" filter="url(#b2)"/>
</g>
<defs><linearGradient id="gC0"><stop offset="0%" stop-color="#0a0a0a"/><stop offset="2.1%" stop-color="#0a0a0a"/><stop offset="4.3%" stop-color="#0a0a0a"/><stop offset="6.4%" stop-color="#0a0a0a"/><stop offset="8.5%" stop-color="#0a0a0a"/><stop offset="10.7%" stop-color="#0a0a0a"/><stop offset="12.8%" stop-color="#0a0a0a"/><stop offset="14.9%" stop-color="#0a0a0a"/><stop offset="17%" stop-color="#0a0a0a"/><stop offset="19.2%" stop-color="#0a0a0a"/><stop offset="21.3%" stop-color="#0a0a0a"/><stop offset="23.4%" stop-color="#0a0a0a"/><stop offset="25.6%" stop-color="#0a0a0a"/><stop offset="27.7%" stop-color="#0a0a0a"/><stop offset="29.8%" stop-color="#0a0a0a"/><stop offset="32%" stop-color="#0a0a0a"/><stop offset="34.1%" stop-color="#0a0a0a"/><stop offset="36.2%" stop-color="#0a0a0a"/><stop offset="38.3%" stop-color="#0a0a0a"/><stop offset="40.5%" stop-color="#0a0a0a"/><stop offset="42.6%" stop-color="#0a0a0a"/><stop offset="44.7%" stop-color="#0a0a0a"/><stop offset="46.9%" stop-color="#0a0a0a"/><stop offset="49%" stop-color="#0a0a0a"/><stop offset="51.1%" stop-color="#0a0a0a"/><stop offset="53.3%" stop-color="#0a0a0a"/><stop offset="55.4%" stop-color="#0a0a0a"/><stop offset="57.5%" stop-color="#0a0a0a"/><stop offset="59.6%" stop-color="#0a0a0a"/><stop offset="61.8%" stop-color="#0a0a0a"/><stop offset="63.9%" stop-color="#0a0a0a"/><stop offset="66%" stop-color="#0a0a0a"/><stop offset="68.2%" stop-color="#0a0a0a"/><stop offset="70.3%" stop-color="#0a0a0a"/><stop offset="72.4%" stop-color="#0a0a0a"/><stop offset="74.6%" stop-color="#0a0a0a"/><stop offset="76.7%" stop-color="#0a0a0a"/><stop offset="78.8%" stop-color="#0a0a0a"/><stop offset="80.9%" stop-color="#0a0a0a"/><stop offset="83.1%" stop-color="#0a0a0a"/><stop offset="85.2%" stop-color="#0a0a0a"/><stop offset="87.3%" stop-color="#0a0a0a"/><stop offset="89.5%" stop-color="#0a0a0a"/><stop offset="91.6%" stop-color="#0a0a0a"/><stop offset="93.7%" stop-color="#0a0a0a"/><stop offset="95.9%" stop-color="#0a0a0a"/><stop offset="98%" stop-color="#070707"/><stop offset="100%" stop-color="#070707"/></linearGradient><linearGradient id="gC1"><stop offset="0%" stop-color="#0b0b0b"/><stop offset="2.1%" stop-color="#0b0b0b"/><stop offset="4.3%" stop-color="#0b0b0b"/><stop offset="6.4%" stop-color="#0b0b0b"/><stop offset="8.5%" stop-color="#0b0b0b"/><stop offset="10.7%" stop-color="#0b0b0b"/><stop offset="12.8%" stop-color="#0b0b0b"/><stop offset="14.9%" stop-color="#0b0b0b"/><stop offset="17%" stop-color="#0b0b0b"/><stop offset="19.2%" stop-color="#0b0b0b"/><stop offset="21.3%" stop-color="#0b0b0b"/><stop offset="23.4%" stop-color="#0b0b0b"/><stop offset="25.6%" stop-color="#0b0b0b"/><stop offset="27.7%" stop-color="#0b0b0b"/><stop offset="29.8%" stop-color="#0b0b0b"/><stop offset="32%" stop-color="#0b0b0b"/><stop offset="34.1%" stop-color="#0b0b0b"/><stop offset="36.2%" stop-color="#0b0b0b"/><stop offset="38.3%" stop-color="#0a0a0a"/><stop offset="40.5%" stop-color="#0a0a0a"/><stop offset="42.6%" stop-color="#0a0a0a"/><stop offset="44.7%" stop-color="#0a0a0a"/><stop offset="46.9%" stop-color="#0a0a0a"/><stop offset="49%" stop-color="#0a0a0a"/><stop offset="51.1%" stop-color="#0a0a0a"/><stop offset="53.3%" stop-color="#0a0a0a"/><stop offset="55.4%" stop-color="#0a0a0a"/><stop offset="57.5%" stop-color="#0a0a0a"/><stop offset="59.6%" stop-color="#0a0a0a"/><stop offset="61.8%" stop-color="#0a0a0a"/><stop offset="63.9%" stop-color="#0a0a0a"/><stop offset="66%" stop-color="#0a0a0a"/><stop offset="68.2%" stop-color="#0a0a0a"/><stop offset="70.3%" stop-color="#0a0a0a"/><stop offset="72.4%" stop-color="#0a0a0a"/><stop offset="74.6%" stop-color="#0a0a0a"/><stop offset="76.7%" stop-color="#0a0a0a"/><stop offset="78.8%" stop-color="#0a0a0a"/><stop offset="80.9%" stop-color="#0a0a0a"/><stop offset="83.1%" stop-color="#0a0a0a"/><stop offset="85.2%" stop-color="#0a0a0a"/><stop offset="87.3%" stop-color="#0a0a0a"/><stop offset="89.5%" stop-color="#0a0a0a"/><stop offset="91.6%" stop-color="#0a0a0a"/><stop offset="93.7%" stop-color="#0a0a0a"/><stop offset="95.9%" stop-color="#0a0a0a"/><stop offset="98%" stop-color="#070707"/><stop offset="100%" stop-color="#070707"/></linearGradient><linearGradient id="gC2"><stop offset="0%" stop-color="#0b0b0b"/><stop offset="2.1%" stop-color="#0b0b0b"/><stop offset="4.3%" stop-color="#0b0b0b"/><stop offset="6.4%" stop-color="#0b0b0b"/><stop offset="8.5%" stop-color="#0b0b0b"/><stop offset="10.7%" stop-color="#0b0b0b"/><stop offset="12.8%" stop-color="#0b0b0b"/><stop offset="14.9%" stop-color="#0b0b0b"/><stop offset="17%" stop-color="#0b0b0b"/><stop offset="19.2%" stop-color="#0b0b0b"/><stop offset="21.3%" stop-color="#0b0b0b"/><stop offset="23.4%" stop-color="#0b0b0b"/><stop offset="25.6%" stop-color="#0b0b0b"/><stop offset="27.7%" stop-color="#0b0b0b"/><stop offset="29.8%" stop-color="#0b0b0b"/><stop offset="32%" stop-color="#0b0b0b"/><stop offset="34.1%" stop-color="#0b0b0b"/><stop offset="36.2%" stop-color="#0b0b0b"/><stop offset="38.3%" stop-color="#0b0b0b"/><stop offset="40.5%" stop-color="#0b0b0b"/><stop offset="42.6%" stop-color="#0b0b0b"/><stop offset="44.7%" stop-color="#0b0b0b"/><stop offset="46.9%" stop-color="#0b0b0b"/><stop offset="49%" stop-color="#0b0b0b"/><stop offset="51.1%" stop-color="#0b0b0b"/><stop offset="53.3%" stop-color="#0b0b0b"/><stop offset="55.4%" stop-color="#0b0b0b"/><stop offset="57.5%" stop-color="#0b0b0b"/><stop offset="59.6%" stop-color="#0b0b0b"/><stop offset="61.8%" stop-color="#0b0b0b"/><stop offset="63.9%" stop-color="#0b0b0b"/><stop offset="66%" stop-color="#0b0b0b"/><stop offset="68.2%" stop-color="#0b0b0b"/><stop offset="70.3%" stop-color="#0b0b0b"/><stop offset="72.4%" stop-color="#0b0b0b"/><stop offset="74.6%" stop-color="#0b0b0b"/><stop offset="76.7%" stop-color="#0b0b0b"/><stop offset="78.8%" stop-color="#0b0b0b"/><stop offset="80.9%" stop-color="#0b0b0b"/><stop offset="83.1%" stop-color="#0b0b0b"/><stop offset="85.2%" stop-color="#0b0b0b"/><stop offset="87.3%" stop-color="#0b0b0b"/><stop offset="89.5%" stop-color="#0b0b0b"/><stop offset="91.6%" stop-color="#0b0b0b"/><stop offset="93.7%" stop-color="#0b0b0b"/><stop offset="95.9%" stop-color="#0a0a0a"/><stop offset="98%" stop-color="#070707"/><stop offset="100%" stop-color="#070707"/></linearGradient><linearGradient id="gC3"><stop offset="0%" stop-color="#0d0d0d"/><stop offset="2.1%" stop-color="#0d0d0d"/><stop offset="4.3%" stop-color="#0d0d0d"/><stop offset="6.4%" stop-color="#0d0d0d"/><stop offset="8.5%" stop-color="#0d0d0d"/><stop offset="10.7%" stop-color="#0d0d0d"/><stop offset="12.8%" stop-color="#0d0d0d"/><stop offset="14.9%" stop-color="#0d0d0d"/><stop offset="17%" stop-color="#0d0d0d"/><stop offset="19.2%" stop-color="#0d0d0d"/><stop offset="21.3%" stop-color="#0d0d0d"/><stop offset="23.4%" stop-color="#0d0d0d"/><stop offset="25.6%" stop-color="#0d0d0d"/><stop offset="27.7%" stop-color="#0d0d0d"/><stop offset="29.8%" stop-color="#0d0d0d"/><stop offset="32%" stop-color="#0d0d0d"/><stop offset="34.1%" stop-color="#0d0d0d"/><stop offset="36.2%" stop-color="#0d0d0d"/><stop offset="38.3%" stop-color="#0d0d0d"/><stop offset="40.5%" stop-color="#0d0d0d"/><stop offset="42.6%" stop-color="#0d0d0d"/><stop offset="44.7%" stop-color="#0d0d0d"/><stop offset="46.9%" stop-color="#0d0d0d"/><stop offset="49%" stop-color="#0d0d0d"/><stop offset="51.1%" stop-color="#0d0d0d"/><stop offset="53.3%" stop-color="#0d0d0d"/><stop offset="55.4%" stop-color="#0d0d0d"/><stop offset="57.5%" stop-color="#0d0d0d"/><stop offset="59.6%" stop-color="#0d0d0d"/><stop offset="61.8%" stop-color="#0d0d0d"/><stop offset="63.9%" stop-color="#0d0d0d"/><stop offset="66%" stop-color="#0d0d0d"/><stop offset="68.2%" stop-color="#0d0d0d"/><stop offset="70.3%" stop-color="#0d0d0d"/><stop offset="72.4%" stop-color="#0d0d0d"/><stop offset="74.6%" stop-color="#0d0d0d"/><stop offset="76.7%" stop-color="#0d0d0d"/><stop offset="78.8%" stop-color="#0c0c0c"/><stop offset="80.9%" stop-color="#0c0c0c"/><stop offset="83.1%" stop-color="#0c0c0c"/><stop offset="85.2%" stop-color="#0c0c0c"/><stop offset="87.3%" stop-color="#0c0c0c"/><stop offset="89.5%" stop-color="#0c0c0c"/><stop offset="91.6%" stop-color="#0c0c0c"/><stop offset="93.7%" stop-color="#0c0c0c"/><stop offset="95.9%" stop-color="#0b0b0b"/><stop offset="98%" stop-color="#080808"/><stop offset="100%" stop-color="#070707"/></linearGradient><linearGradient id="gC4"><stop offset="0%" stop-color="#121212"/><stop offset="2.1%" stop-color="#121212"/><stop offset="4.3%" stop-color="#121212"/><stop offset="6.4%" stop-color="#121212"/><stop offset="8.5%" stop-color="#121212"/><stop offset="10.7%" stop-color="#121212"/><stop offset="12.8%" stop-color="#121212"/><stop offset="14.9%" stop-color="#121212"/><stop offset="17%" stop-color="#111111"/><stop offset="19.2%" stop-color="#111111"/><stop offset="21.3%" stop-color="#111111"/><stop offset="23.4%" stop-color="#111111"/><stop offset="25.6%" stop-color="#111111"/><stop offset="27.7%" stop-color="#111111"/><stop offset="29.8%" stop-color="#111111"/><stop offset="32%" stop-color="#111111"/><stop offset="34.1%" stop-color="#111111"/><stop offset="36.2%" stop-color="#111111"/><stop offset="38.3%" stop-color="#111111"/><stop offset="40.5%" stop-color="#111111"/><stop offset="42.6%" stop-color="#101010"/><stop offset="44.7%" stop-color="#111111"/><stop offset="46.9%" stop-color="#111111"/><stop offset="49%" stop-color="#111111"/><stop offset="51.1%" stop-color="#111111"/><stop offset="53.3%" stop-color="#111111"/><stop offset="55.4%" stop-color="#111111"/><stop offset="57.5%" stop-color="#111111"/><stop offset="59.6%" stop-color="#111111"/><stop offset="61.8%" stop-color="#111111"/><stop offset="63.9%" stop-color="#101010"/><stop offset="66%" stop-color="#101010"/><stop offset="68.2%" stop-color="#101010"/><stop offset="70.3%" stop-color="#101010"/><stop offset="72.4%" stop-color="#101010"/><stop offset="74.6%" stop-color="#101010"/><stop offset="76.7%" stop-color="#101010"/><stop offset="78.8%" stop-color="#101010"/><stop offset="80.9%" stop-color="#101010"/><stop offset="83.1%" stop-color="#0f0f0f"/><stop offset="85.2%" stop-color="#0f0f0f"/><stop offset="87.3%" stop-color="#0f0f0f"/><stop offset="89.5%" stop-color="#0f0f0f"/><stop offset="91.6%" stop-color="#0f0f0f"/><stop offset="93.7%" stop-color="#0f0f0f"/><stop offset="95.9%" stop-color="#0e0e0e"/><stop offset="98%" stop-color="#080808"/><stop offset="100%" stop-color="#070707"/></linearGradient><linearGradient id="gC5"><stop offset="0%" stop-color="#1b1b1b"/><stop offset="2.1%" stop-color="#1b1b1b"/><stop offset="4.3%" stop-color="#1b1b1b"/><stop offset="6.4%" stop-color="#1b1b1b"/><stop offset="8.5%" stop-color="#1a1a1a"/><stop offset="10.7%" stop-color="#1a1a1a"/><stop offset="12.8%" stop-color="#1a1a1a"/><stop offset="14.9%" stop-color="#1a1a1a"/><stop offset="17%" stop-color="#1a1a1a"/><stop offset="19.2%" stop-color="#1a1a1a"/><stop offset="21.3%" stop-color="#1a1a1a"/><stop offset="23.4%" stop-color="#1a1a1a"/><stop offset="25.6%" stop-color="#1a1a1a"/><stop offset="27.7%" stop-color="#1a1a1a"/><stop offset="29.8%" stop-color="#1a1a1a"/><stop offset="32%" stop-color="#1a1a1a"/><stop offset="34.1%" stop-color="#191919"/><stop offset="36.2%" stop-color="#191919"/><stop offset="38.3%" stop-color="#191919"/><stop offset="40.5%" stop-color="#181818"/><stop offset="42.6%" stop-color="#181818"/><stop offset="44.7%" stop-color="#181818"/><stop offset="46.9%" stop-color="#181818"/><stop offset="49%" stop-color="#191919"/><stop offset="51.1%" stop-color="#191919"/><stop offset="53.3%" stop-color="#191919"/><stop offset="55.4%" stop-color="#181818"/><stop offset="57.5%" stop-color="#181818"/><stop offset="59.6%" stop-color="#181818"/><stop offset="61.8%" stop-color="#181818"/><stop offset="63.9%" stop-color="#181818"/><stop offset="66%" stop-color="#181818"/><stop offset="68.2%" stop-color="#181818"/><stop offset="70.3%" stop-color="#171717"/><stop offset="72.4%" stop-color="#171717"/><stop offset="74.6%" stop-color="#171717"/><stop offset="76.7%" stop-color="#171717"/><stop offset="78.8%" stop-color="#161616"/><stop offset="80.9%" stop-color="#161616"/><stop offset="83.1%" stop-color="#161616"/><stop offset="85.2%" stop-color="#151515"/><stop offset="87.3%" stop-color="#151515"/><stop offset="89.5%" stop-color="#151515"/><stop offset="91.6%" stop-color="#151515"/><stop offset="93.7%" stop-color="#151515"/><stop offset="95.9%" stop-color="#121212"/><stop offset="98%" stop-color="#090909"/><stop offset="100%" stop-color="#070707"/></linearGradient><linearGradient id="gC6"><stop offset="0%" stop-color="#292929"/><stop offset="2.1%" stop-color="#292929"/><stop offset="4.3%" stop-color="#292929"/><stop offset="6.4%" stop-color="#292929"/><stop offset="8.5%" stop-color="#292929"/><stop offset="10.7%" stop-color="#292929"/><stop offset="12.8%" stop-color="#292929"/><stop offset="14.9%" stop-color="#292929"/><stop offset="17%" stop-color="#292929"/><stop offset="19.2%" stop-color="#292929"/><stop offset="21.3%" stop-color="#292929"/><stop offset="23.4%" stop-color="#282828"/><stop offset="25.6%" stop-color="#282828"/><stop offset="27.7%" stop-color="#282828"/><stop offset="29.8%" stop-color="#282828"/><stop offset="32%" stop-color="#282828"/><stop offset="34.1%" stop-color="#272727"/><stop offset="36.2%" stop-color="#262626"/><stop offset="38.3%" stop-color="#262626"/><stop offset="40.5%" stop-color="#252525"/><stop offset="42.6%" stop-color="#252525"/><stop offset="44.7%" stop-color="#262626"/><stop offset="46.9%" stop-color="#262626"/><stop offset="49%" stop-color="#262626"/><stop offset="51.1%" stop-color="#272727"/><stop offset="53.3%" stop-color="#272727"/><stop offset="55.4%" stop-color="#262626"/><stop offset="57.5%" stop-color="#262626"/><stop offset="59.6%" stop-color="#262626"/><stop offset="61.8%" stop-color="#262626"/><stop offset="63.9%" stop-color="#262626"/><stop offset="66%" stop-color="#262626"/><stop offset="68.2%" stop-color="#252525"/><stop offset="70.3%" stop-color="#242424"/><stop offset="72.4%" stop-color="#242424"/><stop offset="74.6%" stop-color="#232323"/><stop offset="76.7%" stop-color="#232323"/><stop offset="78.8%" stop-color="#222222"/><stop offset="80.9%" stop-color="#212121"/><stop offset="83.1%" stop-color="#212121"/><stop offset="85.2%" stop-color="#202020"/><stop offset="87.3%" stop-color="#202020"/><stop offset="89.5%" stop-color="#1f1f1f"/><stop offset="91.6%" stop-color="#1f1f1f"/><stop offset="93.7%" stop-color="#1e1e1e"/><stop offset="95.9%" stop-color="#1a1a1a"/><stop offset="98%" stop-color="#0a0a0a"/><stop offset="100%" stop-color="#070707"/></linearGradient><linearGradient id="gC7"><stop offset="0%" stop-color="#3b3b3b"/><stop offset="2.1%" stop-color="#3b3b3b"/><stop offset="4.3%" stop-color="#3b3b3b"/><stop offset="6.4%" stop-color="#3b3b3b"/><stop offset="8.5%" stop-color="#3b3b3b"/><stop offset="10.7%" stop-color="#3b3b3b"/><stop offset="12.8%" stop-color="#3b3b3b"/><stop offset="14.9%" stop-color="#3b3b3b"/><stop offset="17%" stop-color="#3b3b3b"/><stop offset="19.2%" stop-color="#3a3a3a"/><stop offset="21.3%" stop-color="#3a3a3a"/><stop offset="23.4%" stop-color="#3a3a3a"/><stop offset="25.6%" stop-color="#3a3a3a"/><stop offset="27.7%" stop-color="#3a3a3a"/><stop offset="29.8%" stop-color="#3a3a3a"/><stop offset="32%" stop-color="#393939"/><stop offset="34.1%" stop-color="#393939"/><stop offset="36.2%" stop-color="#383838"/><stop offset="38.3%" stop-color="#383838"/><stop offset="40.5%" stop-color="#373737"/><stop offset="42.6%" stop-color="#373737"/><stop offset="44.7%" stop-color="#383838"/><stop offset="46.9%" stop-color="#393939"/><stop offset="49%" stop-color="#3a3a3a"/><stop offset="51.1%" stop-color="#3a3a3a"/><stop offset="53.3%" stop-color="#3a3a3a"/><stop offset="55.4%" stop-color="#3a3a3a"/><stop offset="57.5%" stop-color="#3a3a3a"/><stop offset="59.6%" stop-color="#3a3a3a"/><stop offset="61.8%" stop-color="#3a3a3a"/><stop offset="63.9%" stop-color="#3a3a3a"/><stop offset="66%" stop-color="#393939"/><stop offset="68.2%" stop-color="#383838"/><stop offset="70.3%" stop-color="#363636"/><stop offset="72.4%" stop-color="#353535"/><stop offset="74.6%" stop-color="#343434"/><stop offset="76.7%" stop-color="#333333"/><stop offset="78.8%" stop-color="#323232"/><stop offset="80.9%" stop-color="#303030"/><stop offset="83.1%" stop-color="#2f2f2f"/><stop offset="85.2%" stop-color="#2e2e2e"/><stop offset="87.3%" stop-color="#2d2d2d"/><stop offset="89.5%" stop-color="#2c2c2c"/><stop offset="91.6%" stop-color="#2b2b2b"/><stop offset="93.7%" stop-color="#2a2a2a"/><stop offset="95.9%" stop-color="#242424"/><stop offset="98%" stop-color="#0b0b0b"/><stop offset="100%" stop-color="#070707"/></linearGradient><linearGradient id="gC8"><stop offset="0%" stop-color="#4b4b4b"/><stop offset="2.1%" stop-color="#4b4b4b"/><stop offset="4.3%" stop-color="#4b4b4b"/><stop offset="6.4%" stop-color="#4b4b4b"/><stop offset="8.5%" stop-color="#4b4b4b"/><stop offset="10.7%" stop-color="#4a4a4a"/><stop offset="12.8%" stop-color="#4a4a4a"/><stop offset="14.9%" stop-color="#4a4a4a"/><stop offset="17%" stop-color="#4a4a4a"/><stop offset="19.2%" stop-color="#4a4a4a"/><stop offset="21.3%" stop-color="#4a4a4a"/><stop offset="23.4%" stop-color="#4b4b4b"/><stop offset="25.6%" stop-color="#4b4b4b"/><stop offset="27.7%" stop-color="#4b4b4b"/><stop offset="29.8%" stop-color="#4b4b4b"/><stop offset="32%" stop-color="#4b4b4b"/><stop offset="34.1%" stop-color="#4a4a4a"/><stop offset="36.2%" stop-color="#4a4a4a"/><stop offset="38.3%" stop-color="#4a4a4a"/><stop offset="40.5%" stop-color="#4a4a4a"/><stop offset="42.6%" stop-color="#4b4b4b"/><stop offset="44.7%" stop-color="#4d4d4d"/><stop offset="46.9%" stop-color="#4f4f4f"/><stop offset="49%" stop-color="#525252"/><stop offset="51.1%" stop-color="#535353"/><stop offset="53.3%" stop-color="#535353"/><stop offset="55.4%" stop-color="#535353"/><stop offset="57.5%" stop-color="#535353"/><stop offset="59.6%" stop-color="#535353"/><stop offset="61.8%" stop-color="#535353"/><stop offset="63.9%" stop-color="#525252"/><stop offset="66%" stop-color="#515151"/><stop offset="68.2%" stop-color="#4f4f4f"/><stop offset="70.3%" stop-color="#4d4d4d"/><stop offset="72.4%" stop-color="#4b4b4b"/><stop offset="74.6%" stop-color="#494949"/><stop offset="76.7%" stop-color="#474747"/><stop offset="78.8%" stop-color="#444444"/><stop offset="80.9%" stop-color="#414141"/><stop offset="83.1%" stop-color="#3e3e3e"/><stop offset="85.2%" stop-color="#3c3c3c"/><stop offset="87.3%" stop-color="#3a3a3a"/><stop offset="89.5%" stop-color="#383838"/><stop offset="91.6%" stop-color="#373737"/><stop offset="93.7%" stop-color="#353535"/><stop offset="95.9%" stop-color="#2d2d2d"/><stop offset="98%" stop-color="#0c0c0c"/><stop offset="100%" stop-color="#070707"/></linearGradient><linearGradient id="gC9"><stop offset="0%" stop-color="#555555"/><stop offset="2.1%" stop-color="#555555"/><stop offset="4.3%" stop-color="#555555"/><stop offset="6.4%" stop-color="#555555"/><stop offset="8.5%" stop-color="#555555"/><stop offset="10.7%" stop-color="#555555"/><stop offset="12.8%" stop-color="#565656"/><stop offset="14.9%" stop-color="#565656"/><stop offset="17%" stop-color="#565656"/><stop offset="19.2%" stop-color="#575757"/><stop offset="21.3%" stop-color="#575757"/><stop offset="23.4%" stop-color="#585858"/><stop offset="25.6%" stop-color="#595959"/><stop offset="27.7%" stop-color="#5a5a5a"/><stop offset="29.8%" stop-color="#5b5b5b"/><stop offset="32%" stop-color="#5b5b5b"/><stop offset="34.1%" stop-color="#5c5c5c"/><stop offset="36.2%" stop-color="#5e5e5e"/><stop offset="38.3%" stop-color="#5f5f5f"/><stop offset="40.5%" stop-color="#616161"/><stop offset="42.6%" stop-color="#646464"/><stop offset="44.7%" stop-color="#686868"/><stop offset="46.9%" stop-color="#6c6c6c"/><stop offset="49%" stop-color="#707070"/><stop offset="51.1%" stop-color="#727272"/><stop offset="53.3%" stop-color="#737373"/><stop offset="55.4%" stop-color="#737373"/><stop offset="57.5%" stop-color="#737373"/><stop offset="59.6%" stop-color="#737373"/><stop offset="61.8%" stop-color="#737373"/><stop offset="63.9%" stop-color="#737373"/><stop offset="66%" stop-color="#717171"/><stop offset="68.2%" stop-color="#6e6e6e"/><stop offset="70.3%" stop-color="#6a6a6a"/><stop offset="72.4%" stop-color="#676767"/><stop offset="74.6%" stop-color="#646464"/><stop offset="76.7%" stop-color="#616161"/><stop offset="78.8%" stop-color="#5a5a5a"/><stop offset="80.9%" stop-color="#545454"/><stop offset="83.1%" stop-color="#4f4f4f"/><stop offset="85.2%" stop-color="#4b4b4b"/><stop offset="87.3%" stop-color="#474747"/><stop offset="89.5%" stop-color="#444444"/><stop offset="91.6%" stop-color="#414141"/><stop offset="93.7%" stop-color="#3e3e3e"/><stop offset="95.9%" stop-color="#333333"/><stop offset="98%" stop-color="#0d0d0d"/><stop offset="100%" stop-color="#070707"/></linearGradient><linearGradient id="gC10"><stop offset="0%" stop-color="#5d5d5d"/><stop offset="2.1%" stop-color="#5d5d5d"/><stop offset="4.3%" stop-color="#5d5d5d"/><stop offset="6.4%" stop-color="#5e5e5e"/><stop offset="8.5%" stop-color="#5e5e5e"/><stop offset="10.7%" stop-color="#5f5f5f"/><stop offset="12.8%" stop-color="#606060"/><stop offset="14.9%" stop-color="#616161"/><stop offset="17%" stop-color="#626262"/><stop offset="19.2%" stop-color="#636363"/><stop offset="21.3%" stop-color="#656565"/><stop offset="23.4%" stop-color="#676767"/><stop offset="25.6%" stop-color="#696969"/><stop offset="27.7%" stop-color="#6c6c6c"/><stop offset="29.8%" stop-color="#6e6e6e"/><stop offset="32%" stop-color="#707070"/><stop offset="34.1%" stop-color="#747474"/><stop offset="36.2%" stop-color="#787878"/><stop offset="38.3%" stop-color="#7c7c7c"/><stop offset="40.5%" stop-color="#808080"/><stop offset="42.6%" stop-color="#858585"/><stop offset="44.7%" stop-color="#8a8a8a"/><stop offset="46.9%" stop-color="#909090"/><stop offset="49%" stop-color="#969696"/><stop offset="51.1%" stop-color="#999999"/><stop offset="53.3%" stop-color="#9a9a9a"/><stop offset="55.4%" stop-color="#9a9a9a"/><stop offset="57.5%" stop-color="#9a9a9a"/><stop offset="59.6%" stop-color="#9a9a9a"/><stop offset="61.8%" stop-color="#9b9b9b"/><stop offset="63.9%" stop-color="#9b9b9b"/><stop offset="66%" stop-color="#999999"/><stop offset="68.2%" stop-color="#949494"/><stop offset="70.3%" stop-color="#909090"/><stop offset="72.4%" stop-color="#8b8b8b"/><stop offset="74.6%" stop-color="#878787"/><stop offset="76.7%" stop-color="#838383"/><stop offset="78.8%" stop-color="#797979"/><stop offset="80.9%" stop-color="#6f6f6f"/><stop offset="83.1%" stop-color="#676767"/><stop offset="85.2%" stop-color="#5f5f5f"/><stop offset="87.3%" stop-color="#585858"/><stop offset="89.5%" stop-color="#525252"/><stop offset="91.6%" stop-color="#4d4d4d"/><stop offset="93.7%" stop-color="#484848"/><stop offset="95.9%" stop-color="#393939"/><stop offset="98%" stop-color="#0e0e0e"/><stop offset="100%" stop-color="#070707"/></linearGradient><linearGradient id="gC11"><stop offset="0%" stop-color="#686868"/><stop offset="2.1%" stop-color="#686868"/><stop offset="4.3%" stop-color="#686868"/><stop offset="6.4%" stop-color="#696969"/><stop offset="8.5%" stop-color="#6a6a6a"/><stop offset="10.7%" stop-color="#6c6c6c"/><stop offset="12.8%" stop-color="#6e6e6e"/><stop offset="14.9%" stop-color="#707070"/><stop offset="17%" stop-color="#727272"/><stop offset="19.2%" stop-color="#757575"/><stop offset="21.3%" stop-color="#797979"/><stop offset="23.4%" stop-color="#7c7c7c"/><stop offset="25.6%" stop-color="#808080"/><stop offset="27.7%" stop-color="#858585"/><stop offset="29.8%" stop-color="#898989"/><stop offset="32%" stop-color="#8e8e8e"/><stop offset="34.1%" stop-color="#939393"/><stop offset="36.2%" stop-color="#999999"/><stop offset="38.3%" stop-color="#9f9f9f"/><stop offset="40.5%" stop-color="#a5a5a5"/><stop offset="42.6%" stop-color="#aaaaaa"/><stop offset="44.7%" stop-color="#b0b0b0"/><stop offset="46.9%" stop-color="#b6b6b6"/><stop offset="49%" stop-color="#bbbbbb"/><stop offset="51.1%" stop-color="#bebebe"/><stop offset="53.3%" stop-color="#bfbfbf"/><stop offset="55.4%" stop-color="#c0c0c0"/><stop offset="57.5%" stop-color="#c0c0c0"/><stop offset="59.6%" stop-color="#c0c0c0"/><stop offset="61.8%" stop-color="#c0c0c0"/><stop offset="63.9%" stop-color="#c0c0c0"/><stop offset="66%" stop-color="#bebebe"/><stop offset="68.2%" stop-color="#b9b9b9"/><stop offset="70.3%" stop-color="#b5b5b5"/><stop offset="72.4%" stop-color="#b0b0b0"/><stop offset="74.6%" stop-color="#acacac"/><stop offset="76.7%" stop-color="#a7a7a7"/><stop offset="78.8%" stop-color="#9c9c9c"/><stop offset="80.9%" stop-color="#909090"/><stop offset="83.1%" stop-color="#858585"/><stop offset="85.2%" stop-color="#7b7b7b"/><stop offset="87.3%" stop-color="#717171"/><stop offset="89.5%" stop-color="#686868"/><stop offset="91.6%" stop-color="#5e5e5e"/><stop offset="93.7%" stop-color="#555555"/><stop offset="95.9%" stop-color="#404040"/><stop offset="98%" stop-color="#0e0e0e"/><stop offset="100%" stop-color="#070707"/></linearGradient><linearGradient id="gC12"><stop offset="0%" stop-color="#787878"/><stop offset="2.1%" stop-color="#787878"/><stop offset="4.3%" stop-color="#787878"/><stop offset="6.4%" stop-color="#7b7b7b"/><stop offset="8.5%" stop-color="#7e7e7e"/><stop offset="10.7%" stop-color="#818181"/><stop offset="12.8%" stop-color="#848484"/><stop offset="14.9%" stop-color="#888888"/><stop offset="17%" stop-color="#8b8b8b"/><stop offset="19.2%" stop-color="#909090"/><stop offset="21.3%" stop-color="#949494"/><stop offset="23.4%" stop-color="#999999"/><stop offset="25.6%" stop-color="#9e9e9e"/><stop offset="27.7%" stop-color="#a4a4a4"/><stop offset="29.8%" stop-color="#a9a9a9"/><stop offset="32%" stop-color="#aeaeae"/><stop offset="34.1%" stop-color="#b4b4b4"/><stop offset="36.2%" stop-color="#bababa"/><stop offset="38.3%" stop-color="#bfbfbf"/><stop offset="40.5%" stop-color="#c4c4c4"/><stop offset="42.6%" stop-color="#c9c9c9"/><stop offset="44.7%" stop-color="#cdcdcd"/><stop offset="46.9%" stop-color="#d1d1d1"/><stop offset="49%" stop-color="#d6d6d6"/><stop offset="51.1%" stop-color="#d8d8d8"/><stop offset="53.3%" stop-color="#d9d9d9"/><stop offset="55.4%" stop-color="#d9d9d9"/><stop offset="57.5%" stop-color="#d9d9d9"/><stop offset="59.6%" stop-color="#d9d9d9"/><stop offset="61.8%" stop-color="#d9d9d9"/><stop offset="63.9%" stop-color="#d9d9d9"/><stop offset="66%" stop-color="#d7d7d7"/><stop offset="68.2%" stop-color="#d3d3d3"/><stop offset="70.3%" stop-color="#d0d0d0"/><stop offset="72.4%" stop-color="#cccccc"/><stop offset="74.6%" stop-color="#c8c8c8"/><stop offset="76.7%" stop-color="#c4c4c4"/><stop offset="78.8%" stop-color="#b9b9b9"/><stop offset="80.9%" stop-color="#aeaeae"/><stop offset="83.1%" stop-color="#a2a2a2"/><stop offset="85.2%" stop-color="#979797"/><stop offset="87.3%" stop-color="#8c8c8c"/><stop offset="89.5%" stop-color="#808080"/><stop offset="91.6%" stop-color="#737373"/><stop offset="93.7%" stop-color="#666666"/><stop offset="95.9%" stop-color="#4a4a4a"/><stop offset="98%" stop-color="#0f0f0f"/><stop offset="100%" stop-color="#070707"/></linearGradient><linearGradient id="gC13"><stop offset="0%" stop-color="#909090"/><stop offset="2.1%" stop-color="#909090"/><stop offset="4.3%" stop-color="#909090"/><stop offset="6.4%" stop-color="#949494"/><stop offset="8.5%" stop-color="#989898"/><stop offset="10.7%" stop-color="#9c9c9c"/><stop offset="12.8%" stop-color="#a0a0a0"/><stop offset="14.9%" stop-color="#a4a4a4"/><stop offset="17%" stop-color="#a8a8a8"/><stop offset="19.2%" stop-color="#acacac"/><stop offset="21.3%" stop-color="#b1b1b1"/><stop offset="23.4%" stop-color="#b6b6b6"/><stop offset="25.6%" stop-color="#bababa"/><stop offset="27.7%" stop-color="#bfbfbf"/><stop offset="29.8%" stop-color="#c3c3c3"/><stop offset="32%" stop-color="#c7c7c7"/><stop offset="34.1%" stop-color="#cccccc"/><stop offset="36.2%" stop-color="#d0d0d0"/><stop offset="38.3%" stop-color="#d4d4d4"/><stop offset="40.5%" stop-color="#d8d8d8"/><stop offset="42.6%" stop-color="#dbdbdb"/><stop offset="44.7%" stop-color="#dedede"/><stop offset="46.9%" stop-color="#e1e1e1"/><stop offset="49%" stop-color="#e3e3e3"/><stop offset="51.1%" stop-color="#e5e5e5"/><stop offset="53.3%" stop-color="#e7e7e7"/><stop offset="55.4%" stop-color="#e6e6e6"/><stop offset="57.5%" stop-color="#e6e6e6"/><stop offset="59.6%" stop-color="#e6e6e6"/><stop offset="61.8%" stop-color="#e6e6e6"/><stop offset="63.9%" stop-color="#e6e6e6"/><stop offset="66%" stop-color="#e4e4e4"/><stop offset="68.2%" stop-color="#e1e1e1"/><stop offset="70.3%" stop-color="#dedede"/><stop offset="72.4%" stop-color="#dbdbdb"/><stop offset="74.6%" stop-color="#d7d7d7"/><stop offset="76.7%" stop-color="#d4d4d4"/><stop offset="78.8%" stop-color="#cbcbcb"/><stop offset="80.9%" stop-color="#c0c0c0"/><stop offset="83.1%" stop-color="#b6b6b6"/><stop offset="85.2%" stop-color="#acacac"/><stop offset="87.3%" stop-color="#a1a1a1"/><stop offset="89.5%" stop-color="#959595"/><stop offset="91.6%" stop-color="#858585"/><stop offset="93.7%" stop-color="#757575"/><stop offset="95.9%" stop-color="#535353"/><stop offset="98%" stop-color="#101010"/><stop offset="100%" stop-color="#070707"/></linearGradient><linearGradient id="gC14"><stop offset="0%" stop-color="#a9a9a9"/><stop offset="2.1%" stop-color="#a9a9a9"/><stop offset="4.3%" stop-color="#a9a9a9"/><stop offset="6.4%" stop-color="#adadad"/><stop offset="8.5%" stop-color="#b0b0b0"/><stop offset="10.7%" stop-color="#b4b4b4"/><stop offset="12.8%" stop-color="#b7b7b7"/><stop offset="14.9%" stop-color="#bbbbbb"/><stop offset="17%" stop-color="#bebebe"/><stop offset="19.2%" stop-color="#c1c1c1"/><stop offset="21.3%" stop-color="#c5c5c5"/><stop offset="23.4%" stop-color="#c9c9c9"/><stop offset="25.6%" stop-color="#cccccc"/><stop offset="27.7%" stop-color="#cfcfcf"/><stop offset="29.8%" stop-color="#d3d3d3"/><stop offset="32%" stop-color="#d6d6d6"/><stop offset="34.1%" stop-color="#d9d9d9"/><stop offset="36.2%" stop-color="#dcdcdc"/><stop offset="38.3%" stop-color="#dedede"/><stop offset="40.5%" stop-color="#e1e1e1"/><stop offset="42.6%" stop-color="#e3e3e3"/><stop offset="44.7%" stop-color="#e5e5e5"/><stop offset="46.9%" stop-color="#e7e7e7"/><stop offset="49%" stop-color="#e9e9e9"/><stop offset="51.1%" stop-color="#ebebeb"/><stop offset="53.3%" stop-color="#ececec"/><stop offset="55.4%" stop-color="#ececec"/><stop offset="57.5%" stop-color="#ececec"/><stop offset="59.6%" stop-color="#ebebeb"/><stop offset="61.8%" stop-color="#ebebeb"/><stop offset="63.9%" stop-color="#ebebeb"/><stop offset="66%" stop-color="#e9e9e9"/><stop offset="68.2%" stop-color="#e6e6e6"/><stop offset="70.3%" stop-color="#e4e4e4"/><stop offset="72.4%" stop-color="#e1e1e1"/><stop offset="74.6%" stop-color="#dedede"/><stop offset="76.7%" stop-color="#dbdbdb"/><stop offset="78.8%" stop-color="#d3d3d3"/><stop offset="80.9%" stop-color="#c9c9c9"/><stop offset="83.1%" stop-color="#c0c0c0"/><stop offset="85.2%" stop-color="#b6b6b6"/><stop offset="87.3%" stop-color="#adadad"/><stop offset="89.5%" stop-color="#a1a1a1"/><stop offset="91.6%" stop-color="#909090"/><stop offset="93.7%" stop-color="#7e7e7e"/><stop offset="95.9%" stop-color="#585858"/><stop offset="98%" stop-color="#101010"/><stop offset="100%" stop-color="#070707"/></linearGradient><linearGradient id="gC15"><stop offset="0%" stop-color="#bbbbbb"/><stop offset="2.1%" stop-color="#bbbbbb"/><stop offset="4.3%" stop-color="#bbbbbb"/><stop offset="6.4%" stop-color="#bebebe"/><stop offset="8.5%" stop-color="#c0c0c0"/><stop offset="10.7%" stop-color="#c3c3c3"/><stop offset="12.8%" stop-color="#c5c5c5"/><stop offset="14.9%" stop-color="#c8c8c8"/><stop offset="17%" stop-color="#cacaca"/><stop offset="19.2%" stop-color="#cdcdcd"/><stop offset="21.3%" stop-color="#cfcfcf"/><stop offset="23.4%" stop-color="#d2d2d2"/><stop offset="25.6%" stop-color="#d5d5d5"/><stop offset="27.7%" stop-color="#d7d7d7"/><stop offset="29.8%" stop-color="#d9d9d9"/><stop offset="32%" stop-color="#dcdcdc"/><stop offset="34.1%" stop-color="#dedede"/><stop offset="36.2%" stop-color="#e0e0e0"/><stop offset="38.3%" stop-color="#e2e2e2"/><stop offset="40.5%" stop-color="#e4e4e4"/><stop offset="42.6%" stop-color="#e6e6e6"/><stop offset="44.7%" stop-color="#e7e7e7"/><stop offset="46.9%" stop-color="#e9e9e9"/><stop offset="49%" stop-color="#ebebeb"/><stop offset="51.1%" stop-color="#ececec"/><stop offset="53.3%" stop-color="#eeeeee"/><stop offset="55.4%" stop-color="#ededed"/><stop offset="57.5%" stop-color="#ededed"/><stop offset="59.6%" stop-color="#ededed"/><stop offset="61.8%" stop-color="#ececec"/><stop offset="63.9%" stop-color="#ececec"/><stop offset="66%" stop-color="#eaeaea"/><stop offset="68.2%" stop-color="#e8e8e8"/><stop offset="70.3%" stop-color="#e5e5e5"/><stop offset="72.4%" stop-color="#e3e3e3"/><stop offset="74.6%" stop-color="#e0e0e0"/><stop offset="76.7%" stop-color="#dddddd"/><stop offset="78.8%" stop-color="#d5d5d5"/><stop offset="80.9%" stop-color="#cccccc"/><stop offset="83.1%" stop-color="#c3c3c3"/><stop offset="85.2%" stop-color="#bbbbbb"/><stop offset="87.3%" stop-color="#b2b2b2"/><stop offset="89.5%" stop-color="#a6a6a6"/><stop offset="91.6%" stop-color="#959595"/><stop offset="93.7%" stop-color="#828282"/><stop offset="95.9%" stop-color="#5b5b5b"/><stop offset="98%" stop-color="#111111"/><stop offset="100%" stop-color="#070707"/></linearGradient><linearGradient id="gC16"><stop offset="0%" stop-color="#c4c4c4"/><stop offset="2.1%" stop-color="#c4c4c4"/><stop offset="4.3%" stop-color="#c4c4c4"/><stop offset="6.4%" stop-color="#c6c6c6"/><stop offset="8.5%" stop-color="#c8c8c8"/><stop offset="10.7%" stop-color="#c9c9c9"/><stop offset="12.8%" stop-color="#cbcbcb"/><stop offset="14.9%" stop-color="#cdcdcd"/><stop offset="17%" stop-color="#cfcfcf"/><stop offset="19.2%" stop-color="#d1d1d1"/><stop offset="21.3%" stop-color="#d3d3d3"/><stop offset="23.4%" stop-color="#d5d5d5"/><stop offset="25.6%" stop-color="#d7d7d7"/><stop offset="27.7%" stop-color="#d9d9d9"/><stop offset="29.8%" stop-color="#dbdbdb"/><stop offset="32%" stop-color="#dddddd"/><stop offset="34.1%" stop-color="#dfdfdf"/><stop offset="36.2%" stop-color="#e1e1e1"/><stop offset="38.3%" stop-color="#e2e2e2"/><stop offset="40.5%" stop-color="#e4e4e4"/><stop offset="42.6%" stop-color="#e5e5e5"/><stop offset="44.7%" stop-color="#e7e7e7"/><stop offset="46.9%" stop-color="#e8e8e8"/><stop offset="49%" stop-color="#eaeaea"/><stop offset="51.1%" stop-color="#ebebeb"/><stop offset="53.3%" stop-color="#ededed"/><stop offset="55.4%" stop-color="#ececec"/><stop offset="57.5%" stop-color="#ececec"/><stop offset="59.6%" stop-color="#ececec"/><stop offset="61.8%" stop-color="#ebebeb"/><stop offset="63.9%" stop-color="#ebebeb"/><stop offset="66%" stop-color="#eaeaea"/><stop offset="68.2%" stop-color="#e7e7e7"/><stop offset="70.3%" stop-color="#e4e4e4"/><stop offset="72.4%" stop-color="#e2e2e2"/><stop offset="74.6%" stop-color="#dfdfdf"/><stop offset="76.7%" stop-color="#dddddd"/><stop offset="78.8%" stop-color="#d5d5d5"/><stop offset="80.9%" stop-color="#cccccc"/><stop offset="83.1%" stop-color="#c4c4c4"/><stop offset="85.2%" stop-color="#bbbbbb"/><stop offset="87.3%" stop-color="#b3b3b3"/><stop offset="89.5%" stop-color="#a7a7a7"/><stop offset="91.6%" stop-color="#969696"/><stop offset="93.7%" stop-color="#838383"/><stop offset="95.9%" stop-color="#5c5c5c"/><stop offset="98%" stop-color="#111111"/><stop offset="100%" stop-color="#070707"/></linearGradient><linearGradient id="gC17"><stop offset="0%" stop-color="#c6c6c6"/><stop offset="2.1%" stop-color="#c6c6c6"/><stop offset="4.3%" stop-color="#c6c6c6"/><stop offset="6.4%" stop-color="#c8c8c8"/><stop offset="8.5%" stop-color="#c9c9c9"/><stop offset="10.7%" stop-color="#cbcbcb"/><stop offset="12.8%" stop-color="#cccccc"/><stop offset="14.9%" stop-color="#cecece"/><stop offset="17%" stop-color="#cfcfcf"/><stop offset="19.2%" stop-color="#d1d1d1"/><stop offset="21.3%" stop-color="#d3d3d3"/><stop offset="23.4%" stop-color="#d5d5d5"/><stop offset="25.6%" stop-color="#d6d6d6"/><stop offset="27.7%" stop-color="#d8d8d8"/><stop offset="29.8%" stop-color="#dadada"/><stop offset="32%" stop-color="#dcdcdc"/><stop offset="34.1%" stop-color="#dddddd"/><stop offset="36.2%" stop-color="#dfdfdf"/><stop offset="38.3%" stop-color="#e0e0e0"/><stop offset="40.5%" stop-color="#e2e2e2"/><stop offset="42.6%" stop-color="#e3e3e3"/><stop offset="44.7%" stop-color="#e5e5e5"/><stop offset="46.9%" stop-color="#e6e6e6"/><stop offset="49%" stop-color="#e8e8e8"/><stop offset="51.1%" stop-color="#e9e9e9"/><stop offset="53.3%" stop-color="#eaeaea"/><stop offset="55.4%" stop-color="#eaeaea"/><stop offset="57.5%" stop-color="#eaeaea"/><stop offset="59.6%" stop-color="#e9e9e9"/><stop offset="61.8%" stop-color="#e9e9e9"/><stop offset="63.9%" stop-color="#e8e8e8"/><stop offset="66%" stop-color="#e7e7e7"/><stop offset="68.2%" stop-color="#e5e5e5"/><stop offset="70.3%" stop-color="#e2e2e2"/><stop offset="72.4%" stop-color="#e0e0e0"/><stop offset="74.6%" stop-color="#dddddd"/><stop offset="76.7%" stop-color="#dadada"/><stop offset="78.8%" stop-color="#d3d3d3"/><stop offset="80.9%" stop-color="#cbcbcb"/><stop offset="83.1%" stop-color="#c2c2c2"/><stop offset="85.2%" stop-color="#bababa"/><stop offset="87.3%" stop-color="#b1b1b1"/><stop offset="89.5%" stop-color="#a6a6a6"/><stop offset="91.6%" stop-color="#959595"/><stop offset="93.7%" stop-color="#838383"/><stop offset="95.9%" stop-color="#5c5c5c"/><stop offset="98%" stop-color="#111111"/><stop offset="100%" stop-color="#070707"/></linearGradient><linearGradient id="gC18"><stop offset="0%" stop-color="#c4c4c4"/><stop offset="2.1%" stop-color="#c4c4c4"/><stop offset="4.3%" stop-color="#c4c4c4"/><stop offset="6.4%" stop-color="#c6c6c6"/><stop offset="8.5%" stop-color="#c7c7c7"/><stop offset="10.7%" stop-color="#c9c9c9"/><stop offset="12.8%" stop-color="#cacaca"/><stop offset="14.9%" stop-color="#cbcbcb"/><stop offset="17%" stop-color="#cdcdcd"/><stop offset="19.2%" stop-color="#cecece"/><stop offset="21.3%" stop-color="#d0d0d0"/><stop offset="23.4%" stop-color="#d2d2d2"/><stop offset="25.6%" stop-color="#d4d4d4"/><stop offset="27.7%" stop-color="#d5d5d5"/><stop offset="29.8%" stop-color="#d7d7d7"/><stop offset="32%" stop-color="#d9d9d9"/><stop offset="34.1%" stop-color="#dadada"/><stop offset="36.2%" stop-color="#dcdcdc"/><stop offset="38.3%" stop-color="#dddddd"/><stop offset="40.5%" stop-color="#dedede"/><stop offset="42.6%" stop-color="#e0e0e0"/><stop offset="44.7%" stop-color="#e1e1e1"/><stop offset="46.9%" stop-color="#e2e2e2"/><stop offset="49%" stop-color="#e4e4e4"/><stop offset="51.1%" stop-color="#e5e5e5"/><stop offset="53.3%" stop-color="#e7e7e7"/><stop offset="55.4%" stop-color="#e6e6e6"/><stop offset="57.5%" stop-color="#e6e6e6"/><stop offset="59.6%" stop-color="#e6e6e6"/><stop offset="61.8%" stop-color="#e5e5e5"/><stop offset="63.9%" stop-color="#e5e5e5"/><stop offset="66%" stop-color="#e3e3e3"/><stop offset="68.2%" stop-color="#e1e1e1"/><stop offset="70.3%" stop-color="#dedede"/><stop offset="72.4%" stop-color="#dcdcdc"/><stop offset="74.6%" stop-color="#d9d9d9"/><stop offset="76.7%" stop-color="#d7d7d7"/><stop offset="78.8%" stop-color="#cfcfcf"/><stop offset="80.9%" stop-color="#c7c7c7"/><stop offset="83.1%" stop-color="#bfbfbf"/><stop offset="85.2%" stop-color="#b7b7b7"/><stop offset="87.3%" stop-color="#afafaf"/><stop offset="89.5%" stop-color="#a4a4a4"/><stop offset="91.6%" stop-color="#939393"/><stop offset="93.7%" stop-color="#818181"/><stop offset="95.9%" stop-color="#5b5b5b"/><stop offset="98%" stop-color="#111111"/><stop offset="100%" stop-color="#070707"/></linearGradient><linearGradient id="gC19"><stop offset="0%" stop-color="#c1c1c1"/><stop offset="2.1%" stop-color="#c1c1c1"/><stop offset="4.3%" stop-color="#c1c1c1"/><stop offset="6.4%" stop-color="#c2c2c2"/><stop offset="8.5%" stop-color="#c3c3c3"/><stop offset="10.7%" stop-color="#c5c5c5"/><stop offset="12.8%" stop-color="#c6c6c6"/><stop offset="14.9%" stop-color="#c7c7c7"/><stop offset="17%" stop-color="#c8c8c8"/><stop offset="19.2%" stop-color="#cacaca"/><stop offset="21.3%" stop-color="#cccccc"/><stop offset="23.4%" stop-color="#cdcdcd"/><stop offset="25.6%" stop-color="#cfcfcf"/><stop offset="27.7%" stop-color="#d1d1d1"/><stop offset="29.8%" stop-color="#d3d3d3"/><stop offset="32%" stop-color="#d4d4d4"/><stop offset="34.1%" stop-color="#d6d6d6"/><stop offset="36.2%" stop-color="#d7d7d7"/><stop offset="38.3%" stop-color="#d8d8d8"/><stop offset="40.5%" stop-color="#d9d9d9"/><stop offset="42.6%" stop-color="#dadada"/><stop offset="44.7%" stop-color="#dcdcdc"/><stop offset="46.9%" stop-color="#dddddd"/><stop offset="49%" stop-color="#dfdfdf"/><stop offset="51.1%" stop-color="#e0e0e0"/><stop offset="53.3%" stop-color="#e1e1e1"/><stop offset="55.4%" stop-color="#e1e1e1"/><stop offset="57.5%" stop-color="#e1e1e1"/><stop offset="59.6%" stop-color="#e0e0e0"/><stop offset="61.8%" stop-color="#e0e0e0"/><stop offset="63.9%" stop-color="#dfdfdf"/><stop offset="66%" stop-color="#dedede"/><stop offset="68.2%" stop-color="#dbdbdb"/><stop offset="70.3%" stop-color="#d9d9d9"/><stop offset="72.4%" stop-color="#d6d6d6"/><stop offset="74.6%" stop-color="#d4d4d4"/><stop offset="76.7%" stop-color="#d2d2d2"/><stop offset="78.8%" stop-color="#cacaca"/><stop offset="80.9%" stop-color="#c2c2c2"/><stop offset="83.1%" stop-color="#bababa"/><stop offset="85.2%" stop-color="#b2b2b2"/><stop offset="87.3%" stop-color="#aaaaaa"/><stop offset="89.5%" stop-color="#a0a0a0"/><stop offset="91.6%" stop-color="#909090"/><stop offset="93.7%" stop-color="#7e7e7e"/><stop offset="95.9%" stop-color="#595959"/><stop offset="98%" stop-color="#111111"/><stop offset="100%" stop-color="#070707"/></linearGradient><linearGradient id="gC20"><stop offset="0%" stop-color="#bababa"/><stop offset="2.1%" stop-color="#bababa"/><stop offset="4.3%" stop-color="#bababa"/><stop offset="6.4%" stop-color="#bcbcbc"/><stop offset="8.5%" stop-color="#bdbdbd"/><stop offset="10.7%" stop-color="#bebebe"/><stop offset="12.8%" stop-color="#c0c0c0"/><stop offset="14.9%" stop-color="#c1c1c1"/><stop offset="17%" stop-color="#c2c2c2"/><stop offset="19.2%" stop-color="#c4c4c4"/><stop offset="21.3%" stop-color="#c5c5c5"/><stop offset="23.4%" stop-color="#c7c7c7"/><stop offset="25.6%" stop-color="#c9c9c9"/><stop offset="27.7%" stop-color="#cbcbcb"/><stop offset="29.8%" stop-color="#cccccc"/><stop offset="32%" stop-color="#cecece"/><stop offset="34.1%" stop-color="#cfcfcf"/><stop offset="36.2%" stop-color="#d0d0d0"/><stop offset="38.3%" stop-color="#d1d1d1"/><stop offset="40.5%" stop-color="#d2d2d2"/><stop offset="42.6%" stop-color="#d3d3d3"/><stop offset="44.7%" stop-color="#d5d5d5"/><stop offset="46.9%" stop-color="#d6d6d6"/><stop offset="49%" stop-color="#d7d7d7"/><stop offset="51.1%" stop-color="#d9d9d9"/><stop offset="53.3%" stop-color="#dadada"/><stop offset="55.4%" stop-color="#dadada"/><stop offset="57.5%" stop-color="#dadada"/><stop offset="59.6%" stop-color="#d9d9d9"/><stop offset="61.8%" stop-color="#d9d9d9"/><stop offset="63.9%" stop-color="#d8d8d8"/><stop offset="66%" stop-color="#d7d7d7"/><stop offset="68.2%" stop-color="#d4d4d4"/><stop offset="70.3%" stop-color="#d2d2d2"/><stop offset="72.4%" stop-color="#cfcfcf"/><stop offset="74.6%" stop-color="#cdcdcd"/><stop offset="76.7%" stop-color="#cacaca"/><stop offset="78.8%" stop-color="#c3c3c3"/><stop offset="80.9%" stop-color="#bcbcbc"/><stop offset="83.1%" stop-color="#b4b4b4"/><stop offset="85.2%" stop-color="#acacac"/><stop offset="87.3%" stop-color="#a5a5a5"/><stop offset="89.5%" stop-color="#9a9a9a"/><stop offset="91.6%" stop-color="#8b8b8b"/><stop offset="93.7%" stop-color="#7b7b7b"/><stop offset="95.9%" stop-color="#575757"/><stop offset="98%" stop-color="#101010"/><stop offset="100%" stop-color="#070707"/></linearGradient><linearGradient id="gC21"><stop offset="0%" stop-color="#b2b2b2"/><stop offset="2.1%" stop-color="#b2b2b2"/><stop offset="4.3%" stop-color="#b2b2b2"/><stop offset="6.4%" stop-color="#b4b4b4"/><stop offset="8.5%" stop-color="#b5b5b5"/><stop offset="10.7%" stop-color="#b6b6b6"/><stop offset="12.8%" stop-color="#b7b7b7"/><stop offset="14.9%" stop-color="#b9b9b9"/><stop offset="17%" stop-color="#bababa"/><stop offset="19.2%" stop-color="#bcbcbc"/><stop offset="21.3%" stop-color="#bdbdbd"/><stop offset="23.4%" stop-color="#bfbfbf"/><stop offset="25.6%" stop-color="#c0c0c0"/><stop offset="27.7%" stop-color="#c2c2c2"/><stop offset="29.8%" stop-color="#c4c4c4"/><stop offset="32%" stop-color="#c5c5c5"/><stop offset="34.1%" stop-color="#c6c6c6"/><stop offset="36.2%" stop-color="#c7c7c7"/><stop offset="38.3%" stop-color="#c8c8c8"/><stop offset="40.5%" stop-color="#c9c9c9"/><stop offset="42.6%" stop-color="#cacaca"/><stop offset="44.7%" stop-color="#cbcbcb"/><stop offset="46.9%" stop-color="#cdcdcd"/><stop offset="49%" stop-color="#cecece"/><stop offset="51.1%" stop-color="#cfcfcf"/><stop offset="53.3%" stop-color="#d0d0d0"/><stop offset="55.4%" stop-color="#d0d0d0"/><stop offset="57.5%" stop-color="#d0d0d0"/><stop offset="59.6%" stop-color="#d0d0d0"/><stop offset="61.8%" stop-color="#cfcfcf"/><stop offset="63.9%" stop-color="#cecece"/><stop offset="66%" stop-color="#cdcdcd"/><stop offset="68.2%" stop-color="#cbcbcb"/><stop offset="70.3%" stop-color="#c8c8c8"/><stop offset="72.4%" stop-color="#c6c6c6"/><stop offset="74.6%" stop-color="#c3c3c3"/><stop offset="76.7%" stop-color="#c1c1c1"/><stop offset="78.8%" stop-color="#bababa"/><stop offset="80.9%" stop-color="#b3b3b3"/><stop offset="83.1%" stop-color="#acacac"/><stop offset="85.2%" stop-color="#a5a5a5"/><stop offset="87.3%" stop-color="#9d9d9d"/><stop offset="89.5%" stop-color="#939393"/><stop offset="91.6%" stop-color="#858585"/><stop offset="93.7%" stop-color="#767676"/><stop offset="95.9%" stop-color="#545454"/><stop offset="98%" stop-color="#101010"/><stop offset="100%" stop-color="#070707"/></linearGradient><linearGradient id="gC22"><stop offset="0%" stop-color="#a8a8a8"/><stop offset="2.1%" stop-color="#a8a8a8"/><stop offset="4.3%" stop-color="#a8a8a8"/><stop offset="6.4%" stop-color="#a9a9a9"/><stop offset="8.5%" stop-color="#aaaaaa"/><stop offset="10.7%" stop-color="#acacac"/><stop offset="12.8%" stop-color="#adadad"/><stop offset="14.9%" stop-color="#aeaeae"/><stop offset="17%" stop-color="#afafaf"/><stop offset="19.2%" stop-color="#b1b1b1"/><stop offset="21.3%" stop-color="#b3b3b3"/><stop offset="23.4%" stop-color="#b4b4b4"/><stop offset="25.6%" stop-color="#b6b6b6"/><stop offset="27.7%" stop-color="#b7b7b7"/><stop offset="29.8%" stop-color="#b9b9b9"/><stop offset="32%" stop-color="#bababa"/><stop offset="34.1%" stop-color="#bbbbbb"/><stop offset="36.2%" stop-color="#bcbcbc"/><stop offset="38.3%" stop-color="#bdbdbd"/><stop offset="40.5%" stop-color="#bdbdbd"/><stop offset="42.6%" stop-color="#bebebe"/><stop offset="44.7%" stop-color="#c0c0c0"/><stop offset="46.9%" stop-color="#c1c1c1"/><stop offset="49%" stop-color="#c2c2c2"/><stop offset="51.1%" stop-color="#c3c3c3"/><stop offset="53.3%" stop-color="#c4c4c4"/><stop offset="55.4%" stop-color="#c4c4c4"/><stop offset="57.5%" stop-color="#c4c4c4"/><stop offset="59.6%" stop-color="#c4c4c4"/><stop offset="61.8%" stop-color="#c3c3c3"/><stop offset="63.9%" stop-color="#c2c2c2"/><stop offset="66%" stop-color="#c1c1c1"/><stop offset="68.2%" stop-color="#bebebe"/><stop offset="70.3%" stop-color="#bcbcbc"/><stop offset="72.4%" stop-color="#bababa"/><stop offset="74.6%" stop-color="#b7b7b7"/><stop offset="76.7%" stop-color="#b5b5b5"/><stop offset="78.8%" stop-color="#afafaf"/><stop offset="80.9%" stop-color="#a8a8a8"/><stop offset="83.1%" stop-color="#a2a2a2"/><stop offset="85.2%" stop-color="#9b9b9b"/><stop offset="87.3%" stop-color="#949494"/><stop offset="89.5%" stop-color="#8b8b8b"/><stop offset="91.6%" stop-color="#7d7d7d"/><stop offset="93.7%" stop-color="#6f6f6f"/><stop offset="95.9%" stop-color="#505050"/><stop offset="98%" stop-color="#101010"/><stop offset="100%" stop-color="#070707"/></linearGradient><linearGradient id="gC23"><stop offset="0%" stop-color="#9a9a9a"/><stop offset="2.1%" stop-color="#9a9a9a"/><stop offset="4.3%" stop-color="#9a9a9a"/><stop offset="6.4%" stop-color="#9c9c9c"/><stop offset="8.5%" stop-color="#9d9d9d"/><stop offset="10.7%" stop-color="#9e9e9e"/><stop offset="12.8%" stop-color="#a0a0a0"/><stop offset="14.9%" stop-color="#a1a1a1"/><stop offset="17%" stop-color="#a2a2a2"/><stop offset="19.2%" stop-color="#a4a4a4"/><stop offset="21.3%" stop-color="#a5a5a5"/><stop offset="23.4%" stop-color="#a7a7a7"/><stop offset="25.6%" stop-color="#a8a8a8"/><stop offset="27.7%" stop-color="#aaaaaa"/><stop offset="29.8%" stop-color="#ababab"/><stop offset="32%" stop-color="#acacac"/><stop offset="34.1%" stop-color="#adadad"/><stop offset="36.2%" stop-color="#aeaeae"/><stop offset="38.3%" stop-color="#afafaf"/><stop offset="40.5%" stop-color="#afafaf"/><stop offset="42.6%" stop-color="#b0b0b0"/><stop offset="44.7%" stop-color="#b1b1b1"/><stop offset="46.9%" stop-color="#b2b2b2"/><stop offset="49%" stop-color="#b3b3b3"/><stop offset="51.1%" stop-color="#b4b4b4"/><stop offset="53.3%" stop-color="#b5b5b5"/><stop offset="55.4%" stop-color="#b5b5b5"/><stop offset="57.5%" stop-color="#b5b5b5"/><stop offset="59.6%" stop-color="#b5b5b5"/><stop offset="61.8%" stop-color="#b4b4b4"/><stop offset="63.9%" stop-color="#b3b3b3"/><stop offset="66%" stop-color="#b2b2b2"/><stop offset="68.2%" stop-color="#afafaf"/><stop offset="70.3%" stop-color="#adadad"/><stop offset="72.4%" stop-color="#ababab"/><stop offset="74.6%" stop-color="#a9a9a9"/><stop offset="76.7%" stop-color="#a6a6a6"/><stop offset="78.8%" stop-color="#a1a1a1"/><stop offset="80.9%" stop-color="#9b9b9b"/><stop offset="83.1%" stop-color="#959595"/><stop offset="85.2%" stop-color="#8e8e8e"/><stop offset="87.3%" stop-color="#888888"/><stop offset="89.5%" stop-color="#808080"/><stop offset="91.6%" stop-color="#747474"/><stop offset="93.7%" stop-color="#676767"/><stop offset="95.9%" stop-color="#4b4b4b"/><stop offset="98%" stop-color="#0f0f0f"/><stop offset="100%" stop-color="#070707"/></linearGradient><linearGradient id="gC24"><stop offset="0%" stop-color="#8a8a8a"/><stop offset="2.1%" stop-color="#8a8a8a"/><stop offset="4.3%" stop-color="#8a8a8a"/><stop offset="6.4%" stop-color="#8b8b8b"/><stop offset="8.5%" stop-color="#8c8c8c"/><stop offset="10.7%" stop-color="#8e8e8e"/><stop offset="12.8%" stop-color="#8f8f8f"/><stop offset="14.9%" stop-color="#909090"/><stop offset="17%" stop-color="#929292"/><stop offset="19.2%" stop-color="#939393"/><stop offset="21.3%" stop-color="#959595"/><stop offset="23.4%" stop-color="#969696"/><stop offset="25.6%" stop-color="#989898"/><stop offset="27.7%" stop-color="#999999"/><stop offset="29.8%" stop-color="#9b9b9b"/><stop offset="32%" stop-color="#9c9c9c"/><stop offset="34.1%" stop-color="#9c9c9c"/><stop offset="36.2%" stop-color="#9d9d9d"/><stop offset="38.3%" stop-color="#9d9d9d"/><stop offset="40.5%" stop-color="#9e9e9e"/><stop offset="42.6%" stop-color="#9e9e9e"/><stop offset="44.7%" stop-color="#9f9f9f"/><stop offset="46.9%" stop-color="#a0a0a0"/><stop offset="49%" stop-color="#a1a1a1"/><stop offset="51.1%" stop-color="#a2a2a2"/><stop offset="53.3%" stop-color="#a3a3a3"/><stop offset="55.4%" stop-color="#a3a3a3"/><stop offset="57.5%" stop-color="#a3a3a3"/><stop offset="59.6%" stop-color="#a3a3a3"/><stop offset="61.8%" stop-color="#a2a2a2"/><stop offset="63.9%" stop-color="#a1a1a1"/><stop offset="66%" stop-color="#a0a0a0"/><stop offset="68.2%" stop-color="#9e9e9e"/><stop offset="70.3%" stop-color="#9b9b9b"/><stop offset="72.4%" stop-color="#999999"/><stop offset="74.6%" stop-color="#979797"/><stop offset="76.7%" stop-color="#959595"/><stop offset="78.8%" stop-color="#909090"/><stop offset="80.9%" stop-color="#8b8b8b"/><stop offset="83.1%" stop-color="#858585"/><stop offset="85.2%" stop-color="#808080"/><stop offset="87.3%" stop-color="#7a7a7a"/><stop offset="89.5%" stop-color="#737373"/><stop offset="91.6%" stop-color="#686868"/><stop offset="93.7%" stop-color="#5d5d5d"/><stop offset="95.9%" stop-color="#444444"/><stop offset="98%" stop-color="#0e0e0e"/><stop offset="100%" stop-color="#070707"/></linearGradient><linearGradient id="gC25"><stop offset="0%" stop-color="#757575"/><stop offset="2.1%" stop-color="#757575"/><stop offset="4.3%" stop-color="#757575"/><stop offset="6.4%" stop-color="#767676"/><stop offset="8.5%" stop-color="#787878"/><stop offset="10.7%" stop-color="#797979"/><stop offset="12.8%" stop-color="#7b7b7b"/><stop offset="14.9%" stop-color="#7c7c7c"/><stop offset="17%" stop-color="#7d7d7d"/><stop offset="19.2%" stop-color="#7f7f7f"/><stop offset="21.3%" stop-color="#808080"/><stop offset="23.4%" stop-color="#828282"/><stop offset="25.6%" stop-color="#838383"/><stop offset="27.7%" stop-color="#858585"/><stop offset="29.8%" stop-color="#868686"/><stop offset="32%" stop-color="#878787"/><stop offset="34.1%" stop-color="#888888"/><stop offset="36.2%" stop-color="#898989"/><stop offset="38.3%" stop-color="#898989"/><stop offset="40.5%" stop-color="#898989"/><stop offset="42.6%" stop-color="#8a8a8a"/><stop offset="44.7%" stop-color="#8b8b8b"/><stop offset="46.9%" stop-color="#8c8c8c"/><stop offset="49%" stop-color="#8d8d8d"/><stop offset="51.1%" stop-color="#8e8e8e"/><stop offset="53.3%" stop-color="#8e8e8e"/><stop offset="55.4%" stop-color="#8f8f8f"/><stop offset="57.5%" stop-color="#8f8f8f"/><stop offset="59.6%" stop-color="#8e8e8e"/><stop offset="61.8%" stop-color="#8d8d8d"/><stop offset="63.9%" stop-color="#8c8c8c"/><stop offset="66%" stop-color="#8b8b8b"/><stop offset="68.2%" stop-color="#898989"/><stop offset="70.3%" stop-color="#878787"/><stop offset="72.4%" stop-color="#858585"/><stop offset="74.6%" stop-color="#838383"/><stop offset="76.7%" stop-color="#818181"/><stop offset="78.8%" stop-color="#7d7d7d"/><stop offset="80.9%" stop-color="#787878"/><stop offset="83.1%" stop-color="#737373"/><stop offset="85.2%" stop-color="#6e6e6e"/><stop offset="87.3%" stop-color="#696969"/><stop offset="89.5%" stop-color="#636363"/><stop offset="91.6%" stop-color="#5a5a5a"/><stop offset="93.7%" stop-color="#515151"/><stop offset="95.9%" stop-color="#3c3c3c"/><stop offset="98%" stop-color="#0d0d0d"/><stop offset="100%" stop-color="#070707"/></linearGradient><linearGradient id="gC26"><stop offset="0%" stop-color="#5e5e5e"/><stop offset="2.1%" stop-color="#5e5e5e"/><stop offset="4.3%" stop-color="#5e5e5e"/><stop offset="6.4%" stop-color="#606060"/><stop offset="8.5%" stop-color="#616161"/><stop offset="10.7%" stop-color="#626262"/><stop offset="12.8%" stop-color="#646464"/><stop offset="14.9%" stop-color="#656565"/><stop offset="17%" stop-color="#666666"/><stop offset="19.2%" stop-color="#686868"/><stop offset="21.3%" stop-color="#696969"/><stop offset="23.4%" stop-color="#6b6b6b"/><stop offset="25.6%" stop-color="#6c6c6c"/><stop offset="27.7%" stop-color="#6e6e6e"/><stop offset="29.8%" stop-color="#6f6f6f"/><stop offset="32%" stop-color="#707070"/><stop offset="34.1%" stop-color="#717171"/><stop offset="36.2%" stop-color="#727272"/><stop offset="38.3%" stop-color="#727272"/><stop offset="40.5%" stop-color="#727272"/><stop offset="42.6%" stop-color="#737373"/><stop offset="44.7%" stop-color="#747474"/><stop offset="46.9%" stop-color="#747474"/><stop offset="49%" stop-color="#757575"/><stop offset="51.1%" stop-color="#767676"/><stop offset="53.3%" stop-color="#777777"/><stop offset="55.4%" stop-color="#777777"/><stop offset="57.5%" stop-color="#777777"/><stop offset="59.6%" stop-color="#777777"/><stop offset="61.8%" stop-color="#767676"/><stop offset="63.9%" stop-color="#757575"/><stop offset="66%" stop-color="#747474"/><stop offset="68.2%" stop-color="#727272"/><stop offset="70.3%" stop-color="#707070"/><stop offset="72.4%" stop-color="#6e6e6e"/><stop offset="74.6%" stop-color="#6d6d6d"/><stop offset="76.7%" stop-color="#6b6b6b"/><stop offset="78.8%" stop-color="#676767"/><stop offset="80.9%" stop-color="#636363"/><stop offset="83.1%" stop-color="#606060"/><stop offset="85.2%" stop-color="#5b5b5b"/><stop offset="87.3%" stop-color="#575757"/><stop offset="89.5%" stop-color="#515151"/><stop offset="91.6%" stop-color="#4a4a4a"/><stop offset="93.7%" stop-color="#424242"/><stop offset="95.9%" stop-color="#313131"/><stop offset="98%" stop-color="#0c0c0c"/><stop offset="100%" stop-color="#070707"/></linearGradient><linearGradient id="gC27"><stop offset="0%" stop-color="#484848"/><stop offset="2.1%" stop-color="#484848"/><stop offset="4.3%" stop-color="#484848"/><stop offset="6.4%" stop-color="#494949"/><stop offset="8.5%" stop-color="#4b4b4b"/><stop offset="10.7%" stop-color="#4c4c4c"/><stop offset="12.8%" stop-color="#4d4d4d"/><stop offset="14.9%" stop-color="#4e4e4e"/><stop offset="17%" stop-color="#4f4f4f"/><stop offset="19.2%" stop-color="#515151"/><stop offset="21.3%" stop-color="#525252"/><stop offset="23.4%" stop-color="#535353"/><stop offset="25.6%" stop-color="#555555"/><stop offset="27.7%" stop-color="#565656"/><stop offset="29.8%" stop-color="#575757"/><stop offset="32%" stop-color="#585858"/><stop offset="34.1%" stop-color="#595959"/><stop offset="36.2%" stop-color="#5a5a5a"/><stop offset="38.3%" stop-color="#5a5a5a"/><stop offset="40.5%" stop-color="#5b5b5b"/><stop offset="42.6%" stop-color="#5b5b5b"/><stop offset="44.7%" stop-color="#5c5c5c"/><stop offset="46.9%" stop-color="#5d5d5d"/><stop offset="49%" stop-color="#5d5d5d"/><stop offset="51.1%" stop-color="#5e5e5e"/><stop offset="53.3%" stop-color="#5f5f5f"/><stop offset="55.4%" stop-color="#5f5f5f"/><stop offset="57.5%" stop-color="#5f5f5f"/><stop offset="59.6%" stop-color="#5f5f5f"/><stop offset="61.8%" stop-color="#5e5e5e"/><stop offset="63.9%" stop-color="#5d5d5d"/><stop offset="66%" stop-color="#5c5c5c"/><stop offset="68.2%" stop-color="#5b5b5b"/><stop offset="70.3%" stop-color="#595959"/><stop offset="72.4%" stop-color="#585858"/><stop offset="74.6%" stop-color="#565656"/><stop offset="76.7%" stop-color="#555555"/><stop offset="78.8%" stop-color="#525252"/><stop offset="80.9%" stop-color="#4f4f4f"/><stop offset="83.1%" stop-color="#4c4c4c"/><stop offset="85.2%" stop-color="#484848"/><stop offset="87.3%" stop-color="#444444"/><stop offset="89.5%" stop-color="#404040"/><stop offset="91.6%" stop-color="#3a3a3a"/><stop offset="93.7%" stop-color="#343434"/><stop offset="95.9%" stop-color="#272727"/><stop offset="98%" stop-color="#0b0b0b"/><stop offset="100%" stop-color="#070707"/></linearGradient><linearGradient id="gC28"><stop offset="0%" stop-color="#363636"/><stop offset="2.1%" stop-color="#363636"/><stop offset="4.3%" stop-color="#363636"/><stop offset="6.4%" stop-color="#373737"/><stop offset="8.5%" stop-color="#383838"/><stop offset="10.7%" stop-color="#393939"/><stop offset="12.8%" stop-color="#3a3a3a"/><stop offset="14.9%" stop-color="#3b3b3b"/><stop offset="17%" stop-color="#3c3c3c"/><stop offset="19.2%" stop-color="#3d3d3d"/><stop offset="21.3%" stop-color="#3e3e3e"/><stop offset="23.4%" stop-color="#3f3f3f"/><stop offset="25.6%" stop-color="#404040"/><stop offset="27.7%" stop-color="#414141"/><stop offset="29.8%" stop-color="#424242"/><stop offset="32%" stop-color="#434343"/><stop offset="34.1%" stop-color="#444444"/><stop offset="36.2%" stop-color="#454545"/><stop offset="38.3%" stop-color="#454545"/><stop offset="40.5%" stop-color="#454545"/><stop offset="42.6%" stop-color="#464646"/><stop offset="44.7%" stop-color="#464646"/><stop offset="46.9%" stop-color="#474747"/><stop offset="49%" stop-color="#484848"/><stop offset="51.1%" stop-color="#484848"/><stop offset="53.3%" stop-color="#494949"/><stop offset="55.4%" stop-color="#494949"/><stop offset="57.5%" stop-color="#494949"/><stop offset="59.6%" stop-color="#494949"/><stop offset="61.8%" stop-color="#484848"/><stop offset="63.9%" stop-color="#484848"/><stop offset="66%" stop-color="#474747"/><stop offset="68.2%" stop-color="#454545"/><stop offset="70.3%" stop-color="#444444"/><stop offset="72.4%" stop-color="#434343"/><stop offset="74.6%" stop-color="#424242"/><stop offset="76.7%" stop-color="#414141"/><stop offset="78.8%" stop-color="#3f3f3f"/><stop offset="80.9%" stop-color="#3c3c3c"/><stop offset="83.1%" stop-color="#3a3a3a"/><stop offset="85.2%" stop-color="#373737"/><stop offset="87.3%" stop-color="#343434"/><stop offset="89.5%" stop-color="#313131"/><stop offset="91.6%" stop-color="#2d2d2d"/><stop offset="93.7%" stop-color="#282828"/><stop offset="95.9%" stop-color="#1e1e1e"/><stop offset="98%" stop-color="#0a0a0a"/><stop offset="100%" stop-color="#070707"/></linearGradient><linearGradient id="gC29"><stop offset="0%" stop-color="#282828"/><stop offset="2.1%" stop-color="#282828"/><stop offset="4.3%" stop-color="#282828"/><stop offset="6.4%" stop-color="#292929"/><stop offset="8.5%" stop-color="#2a2a2a"/><stop offset="10.7%" stop-color="#2a2a2a"/><stop offset="12.8%" stop-color="#2b2b2b"/><stop offset="14.9%" stop-color="#2c2c2c"/><stop offset="17%" stop-color="#2d2d2d"/><stop offset="19.2%" stop-color="#2d2d2d"/><stop offset="21.3%" stop-color="#2e2e2e"/><stop offset="23.4%" stop-color="#2f2f2f"/><stop offset="25.6%" stop-color="#303030"/><stop offset="27.7%" stop-color="#313131"/><stop offset="29.8%" stop-color="#313131"/><stop offset="32%" stop-color="#323232"/><stop offset="34.1%" stop-color="#333333"/><stop offset="36.2%" stop-color="#333333"/><stop offset="38.3%" stop-color="#343434"/><stop offset="40.5%" stop-color="#343434"/><stop offset="42.6%" stop-color="#343434"/><stop offset="44.7%" stop-color="#353535"/><stop offset="46.9%" stop-color="#353535"/><stop offset="49%" stop-color="#363636"/><stop offset="51.1%" stop-color="#363636"/><stop offset="53.3%" stop-color="#373737"/><stop offset="55.4%" stop-color="#373737"/><stop offset="57.5%" stop-color="#373737"/><stop offset="59.6%" stop-color="#373737"/><stop offset="61.8%" stop-color="#373737"/><stop offset="63.9%" stop-color="#363636"/><stop offset="66%" stop-color="#353535"/><stop offset="68.2%" stop-color="#343434"/><stop offset="70.3%" stop-color="#343434"/><stop offset="72.4%" stop-color="#333333"/><stop offset="74.6%" stop-color="#323232"/><stop offset="76.7%" stop-color="#313131"/><stop offset="78.8%" stop-color="#2f2f2f"/><stop offset="80.9%" stop-color="#2e2e2e"/><stop offset="83.1%" stop-color="#2c2c2c"/><stop offset="85.2%" stop-color="#2a2a2a"/><stop offset="87.3%" stop-color="#282828"/><stop offset="89.5%" stop-color="#252525"/><stop offset="91.6%" stop-color="#222222"/><stop offset="93.7%" stop-color="#1f1f1f"/><stop offset="95.9%" stop-color="#181818"/><stop offset="98%" stop-color="#090909"/><stop offset="100%" stop-color="#070707"/></linearGradient><linearGradient id="gC30"><stop offset="0%" stop-color="#1f1f1f"/><stop offset="2.1%" stop-color="#1f1f1f"/><stop offset="4.3%" stop-color="#1f1f1f"/><stop offset="6.4%" stop-color="#1f1f1f"/><stop offset="8.5%" stop-color="#202020"/><stop offset="10.7%" stop-color="#202020"/><stop offset="12.8%" stop-color="#212121"/><stop offset="14.9%" stop-color="#212121"/><stop offset="17%" stop-color="#222222"/><stop offset="19.2%" stop-color="#222222"/><stop offset="21.3%" stop-color="#232323"/><stop offset="23.4%" stop-color="#232323"/><stop offset="25.6%" stop-color="#242424"/><stop offset="27.7%" stop-color="#252525"/><stop offset="29.8%" stop-color="#252525"/><stop offset="32%" stop-color="#262626"/><stop offset="34.1%" stop-color="#262626"/><stop offset="36.2%" stop-color="#272727"/><stop offset="38.3%" stop-color="#272727"/><stop offset="40.5%" stop-color="#272727"/><stop offset="42.6%" stop-color="#282828"/><stop offset="44.7%" stop-color="#282828"/><stop offset="46.9%" stop-color="#282828"/><stop offset="49%" stop-color="#292929"/><stop offset="51.1%" stop-color="#292929"/><stop offset="53.3%" stop-color="#292929"/><stop offset="55.4%" stop-color="#2a2a2a"/><stop offset="57.5%" stop-color="#2a2a2a"/><stop offset="59.6%" stop-color="#2a2a2a"/><stop offset="61.8%" stop-color="#292929"/><stop offset="63.9%" stop-color="#292929"/><stop offset="66%" stop-color="#282828"/><stop offset="68.2%" stop-color="#282828"/><stop offset="70.3%" stop-color="#272727"/><stop offset="72.4%" stop-color="#262626"/><stop offset="74.6%" stop-color="#262626"/><stop offset="76.7%" stop-color="#252525"/><stop offset="78.8%" stop-color="#242424"/><stop offset="80.9%" stop-color="#232323"/><stop offset="83.1%" stop-color="#222222"/><stop offset="85.2%" stop-color="#202020"/><stop offset="87.3%" stop-color="#1f1f1f"/><stop offset="89.5%" stop-color="#1d1d1d"/><stop offset="91.6%" stop-color="#1b1b1b"/><stop offset="93.7%" stop-color="#181818"/><stop offset="95.9%" stop-color="#131313"/><stop offset="98%" stop-color="#080808"/><stop offset="100%" stop-color="#070707"/></linearGradient><linearGradient id="gC31"><stop offset="0%" stop-color="#191919"/><stop offset="2.1%" stop-color="#191919"/><stop offset="4.3%" stop-color="#191919"/><stop offset="6.4%" stop-color="#191919"/><stop offset="8.5%" stop-color="#191919"/><stop offset="10.7%" stop-color="#1a1a1a"/><stop offset="12.8%" stop-color="#1a1a1a"/><stop offset="14.9%" stop-color="#1a1a1a"/><stop offset="17%" stop-color="#1b1b1b"/><stop offset="19.2%" stop-color="#1b1b1b"/><stop offset="21.3%" stop-color="#1c1c1c"/><stop offset="23.4%" stop-color="#1c1c1c"/><stop offset="25.6%" stop-color="#1c1c1c"/><stop offset="27.7%" stop-color="#1d1d1d"/><stop offset="29.8%" stop-color="#1d1d1d"/><stop offset="32%" stop-color="#1e1e1e"/><stop offset="34.1%" stop-color="#1e1e1e"/><stop offset="36.2%" stop-color="#1e1e1e"/><stop offset="38.3%" stop-color="#1f1f1f"/><stop offset="40.5%" stop-color="#1f1f1f"/><stop offset="42.6%" stop-color="#1f1f1f"/><stop offset="44.7%" stop-color="#1f1f1f"/><stop offset="46.9%" stop-color="#202020"/><stop offset="49%" stop-color="#202020"/><stop offset="51.1%" stop-color="#202020"/><stop offset="53.3%" stop-color="#202020"/><stop offset="55.4%" stop-color="#212121"/><stop offset="57.5%" stop-color="#212121"/><stop offset="59.6%" stop-color="#212121"/><stop offset="61.8%" stop-color="#202020"/><stop offset="63.9%" stop-color="#202020"/><stop offset="66%" stop-color="#202020"/><stop offset="68.2%" stop-color="#1f1f1f"/><stop offset="70.3%" stop-color="#1f1f1f"/><stop offset="72.4%" stop-color="#1e1e1e"/><stop offset="74.6%" stop-color="#1e1e1e"/><stop offset="76.7%" stop-color="#1d1d1d"/><stop offset="78.8%" stop-color="#1d1d1d"/><stop offset="80.9%" stop-color="#1c1c1c"/><stop offset="83.1%" stop-color="#1b1b1b"/><stop offset="85.2%" stop-color="#1a1a1a"/><stop offset="87.3%" stop-color="#191919"/><stop offset="89.5%" stop-color="#171717"/><stop offset="91.6%" stop-color="#161616"/><stop offset="93.7%" stop-color="#141414"/><stop offset="95.9%" stop-color="#101010"/><stop offset="98%" stop-color="#080808"/><stop offset="100%" stop-color="#070707"/></linearGradient><linearGradient id="gC32"><stop offset="0%" stop-color="#191919"/><stop offset="2.1%" stop-color="#191919"/><stop offset="4.3%" stop-color="#191919"/><stop offset="6.4%" stop-color="#191919"/><stop offset="8.5%" stop-color="#191919"/><stop offset="10.7%" stop-color="#1a1a1a"/><stop offset="12.8%" stop-color="#1a1a1a"/><stop offset="14.9%" stop-color="#1a1a1a"/><stop offset="17%" stop-color="#1b1b1b"/><stop offset="19.2%" stop-color="#1b1b1b"/><stop offset="21.3%" stop-color="#1c1c1c"/><stop offset="23.4%" stop-color="#1c1c1c"/><stop offset="25.6%" stop-color="#1c1c1c"/><stop offset="27.7%" stop-color="#1d1d1d"/><stop offset="29.8%" stop-color="#1d1d1d"/><stop offset="32%" stop-color="#1e1e1e"/><stop offset="34.1%" stop-color="#1e1e1e"/><stop offset="36.2%" stop-color="#1e1e1e"/><stop offset="38.3%" stop-color="#1f1f1f"/><stop offset="40.5%" stop-color="#1f1f1f"/><stop offset="42.6%" stop-color="#1f1f1f"/><stop offset="44.7%" stop-color="#1f1f1f"/><stop offset="46.9%" stop-color="#202020"/><stop offset="49%" stop-color="#202020"/><stop offset="51.1%" stop-color="#202020"/><stop offset="53.3%" stop-color="#202020"/><stop offset="55.4%" stop-color="#212121"/><stop offset="57.5%" stop-color="#212121"/><stop offset="59.6%" stop-color="#212121"/><stop offset="61.8%" stop-color="#202020"/><stop offset="63.9%" stop-color="#202020"/><stop offset="66%" stop-color="#202020"/><stop offset="68.2%" stop-color="#1f1f1f"/><stop offset="70.3%" stop-color="#1f1f1f"/><stop offset="72.4%" stop-color="#1e1e1e"/><stop offset="74.6%" stop-color="#1e1e1e"/><stop offset="76.7%" stop-color="#1d1d1d"/><stop offset="78.8%" stop-color="#1d1d1d"/><stop offset="80.9%" stop-color="#1c1c1c"/><stop offset="83.1%" stop-color="#1b1b1b"/><stop offset="85.2%" stop-color="#1a1a1a"/><stop offset="87.3%" stop-color="#191919"/><stop offset="89.5%" stop-color="#171717"/><stop offset="91.6%" stop-color="#161616"/><stop offset="93.7%" stop-color="#141414"/><stop offset="95.9%" stop-color="#101010"/><stop offset="98%" stop-color="#080808"/><stop offset="100%" stop-color="#070707"/></linearGradient></defs>
<g clip-path="url(#clipC)">
<rect x="6" y="729" width="845" height="547.5" fill="#080808"/>
<g filter="url(#vb)"><rect x="6" y="711" width="845" height="18" fill="url(#gC0)"/><rect x="6" y="729" width="845" height="18" fill="url(#gC1)"/><rect x="6" y="747" width="845" height="18" fill="url(#gC2)"/><rect x="6" y="765" width="845" height="18" fill="url(#gC3)"/><rect x="6" y="783" width="845" height="18" fill="url(#gC4)"/><rect x="6" y="801" width="845" height="18" fill="url(#gC5)"/><rect x="6" y="819" width="845" height="18" fill="url(#gC6)"/><rect x="6" y="837" width="845" height="18" fill="url(#gC7)"/><rect x="6" y="855" width="845" height="18" fill="url(#gC8)"/><rect x="6" y="873" width="845" height="18" fill="url(#gC9)"/><rect x="6" y="891" width="845" height="18" fill="url(#gC10)"/><rect x="6" y="909" width="845" height="18" fill="url(#gC11)"/><rect x="6" y="927" width="845" height="18" fill="url(#gC12)"/><rect x="6" y="945" width="845" height="18" fill="url(#gC13)"/><rect x="6" y="963" width="845" height="18" fill="url(#gC14)"/><rect x="6" y="981" width="845" height="18" fill="url(#gC15)"/><rect x="6" y="999" width="845" height="18" fill="url(#gC16)"/><rect x="6" y="1017" width="845" height="18" fill="url(#gC17)"/><rect x="6" y="1035" width="845" height="18" fill="url(#gC18)"/><rect x="6" y="1053" width="845" height="18" fill="url(#gC19)"/><rect x="6" y="1071" width="845" height="18" fill="url(#gC20)"/><rect x="6" y="1089" width="845" height="18" fill="url(#gC21)"/><rect x="6" y="1107" width="845" height="18" fill="url(#gC22)"/><rect x="6" y="1125" width="845" height="18" fill="url(#gC23)"/><rect x="6" y="1143" width="845" height="18" fill="url(#gC24)"/><rect x="6" y="1161" width="845" height="18" fill="url(#gC25)"/><rect x="6" y="1179" width="845" height="18" fill="url(#gC26)"/><rect x="6" y="1197" width="845" height="18" fill="url(#gC27)"/><rect x="6" y="1215" width="845" height="18" fill="url(#gC28)"/><rect x="6" y="1233" width="845" height="18" fill="url(#gC29)"/><rect x="6" y="1251" width="845" height="18" fill="url(#gC30)"/><rect x="6" y="1269" width="845" height="18" fill="url(#gC31)"/><rect x="6" y="1287" width="845" height="18" fill="url(#gC32)"/></g>
<path d="M384 825 C385 827.7 387.3 835.3 390 841 C392.7 846.7 394 854.7 400 859 C406 863.3 411.7 865 426 867 C440.3 869 462.7 870.7 486 871 C509.3 871.3 539.3 868.2 566 869 C592.7 869.8 622.7 871.5 646 876 C669.3 880.5 691.3 889.8 706 896 C720.7 902.2 729.3 910.2 734 913" fill="none" stroke="#828282" stroke-width="24" stroke-linecap="round" stroke-linejoin="round" filter="url(#b4)" style="mix-blend-mode:multiply"/>
<path d="M385 867 C370.2 869.8 325 878.8 296 884 C267 889.2 239.3 889.7 211 898 C182.7 906.3 151.7 921.2 126 934 C100.3 946.8 68.5 968.2 57 975" fill="none" stroke="#a0a0a0" stroke-width="12" stroke-linecap="round" stroke-linejoin="round" filter="url(#b5)" style="mix-blend-mode:multiply"/>
<path d="M401 882 C390.7 888 357 906 339 918 C321 930 312.7 941.2 293 954 C273.3 966.8 240.7 982.3 221 995 C201.3 1007.7 190 1014.3 175 1030 C160 1045.7 143.3 1067.5 131 1089 C118.7 1110.5 108.5 1135.7 101 1159 C93.5 1182.3 89.2 1209.3 86 1229 C82.8 1248.7 82.7 1269 82 1277" fill="none" stroke="#a4a4a4" stroke-width="15" stroke-linecap="round" stroke-linejoin="round" filter="url(#b4)" style="mix-blend-mode:multiply"/>
<path d="M468 893 C450.8 904.2 390.7 943 365 960 C339.3 977 322.5 989.2 314 995" fill="none" stroke="#b8b8b8" stroke-width="11" stroke-linecap="round" stroke-linejoin="round" filter="url(#b5)" style="mix-blend-mode:multiply"/>
<line x1="41" y1="797" x2="524" y2="1277" stroke="#1c1c1c" stroke-width="3.2" opacity="0.62" filter="url(#b1)"/>
<rect x="6" y="729" width="34" height="547.5" fill="url(#lbh)"/>
<rect x="796" y="729" width="34" height="547.5" fill="url(#rbh)"/>
<rect x="829" y="709" width="40" height="587.5" fill="#050505" filter="url(#b2)"/>
</g>
<defs><linearGradient id="gD0"><stop offset="0%" stop-color="#0a0a0a"/><stop offset="2.1%" stop-color="#0a0a0a"/><stop offset="4.3%" stop-color="#0a0a0a"/><stop offset="6.4%" stop-color="#0a0a0a"/><stop offset="8.5%" stop-color="#0a0a0a"/><stop offset="10.7%" stop-color="#0a0a0a"/><stop offset="12.8%" stop-color="#0a0a0a"/><stop offset="14.9%" stop-color="#0a0a0a"/><stop offset="17%" stop-color="#0a0a0a"/><stop offset="19.2%" stop-color="#0a0a0a"/><stop offset="21.3%" stop-color="#0a0a0a"/><stop offset="23.4%" stop-color="#0a0a0a"/><stop offset="25.6%" stop-color="#0a0a0a"/><stop offset="27.7%" stop-color="#0a0a0a"/><stop offset="29.8%" stop-color="#0a0a0a"/><stop offset="32%" stop-color="#0a0a0a"/><stop offset="34.1%" stop-color="#0a0a0a"/><stop offset="36.2%" stop-color="#0a0a0a"/><stop offset="38.3%" stop-color="#0a0a0a"/><stop offset="40.5%" stop-color="#0a0a0a"/><stop offset="42.6%" stop-color="#0a0a0a"/><stop offset="44.7%" stop-color="#0a0a0a"/><stop offset="46.9%" stop-color="#0a0a0a"/><stop offset="49%" stop-color="#0a0a0a"/><stop offset="51.1%" stop-color="#0a0a0a"/><stop offset="53.3%" stop-color="#0a0a0a"/><stop offset="55.4%" stop-color="#0a0a0a"/><stop offset="57.5%" stop-color="#0a0a0a"/><stop offset="59.6%" stop-color="#0a0a0a"/><stop offset="61.8%" stop-color="#0a0a0a"/><stop offset="63.9%" stop-color="#0a0a0a"/><stop offset="66%" stop-color="#0a0a0a"/><stop offset="68.2%" stop-color="#0a0a0a"/><stop offset="70.3%" stop-color="#0a0a0a"/><stop offset="72.4%" stop-color="#0a0a0a"/><stop offset="74.6%" stop-color="#0a0a0a"/><stop offset="76.7%" stop-color="#0a0a0a"/><stop offset="78.8%" stop-color="#0a0a0a"/><stop offset="80.9%" stop-color="#0a0a0a"/><stop offset="83.1%" stop-color="#0a0a0a"/><stop offset="85.2%" stop-color="#0a0a0a"/><stop offset="87.3%" stop-color="#0a0a0a"/><stop offset="89.5%" stop-color="#0a0a0a"/><stop offset="91.6%" stop-color="#0a0a0a"/><stop offset="93.7%" stop-color="#0a0a0a"/><stop offset="95.9%" stop-color="#0a0a0a"/><stop offset="98%" stop-color="#070707"/><stop offset="100%" stop-color="#070707"/></linearGradient><linearGradient id="gD1"><stop offset="0%" stop-color="#0b0b0b"/><stop offset="2.1%" stop-color="#0b0b0b"/><stop offset="4.3%" stop-color="#0b0b0b"/><stop offset="6.4%" stop-color="#0b0b0b"/><stop offset="8.5%" stop-color="#0b0b0b"/><stop offset="10.7%" stop-color="#0b0b0b"/><stop offset="12.8%" stop-color="#0b0b0b"/><stop offset="14.9%" stop-color="#0b0b0b"/><stop offset="17%" stop-color="#0b0b0b"/><stop offset="19.2%" stop-color="#0b0b0b"/><stop offset="21.3%" stop-color="#0b0b0b"/><stop offset="23.4%" stop-color="#0b0b0b"/><stop offset="25.6%" stop-color="#0b0b0b"/><stop offset="27.7%" stop-color="#0b0b0b"/><stop offset="29.8%" stop-color="#0b0b0b"/><stop offset="32%" stop-color="#0b0b0b"/><stop offset="34.1%" stop-color="#0b0b0b"/><stop offset="36.2%" stop-color="#0b0b0b"/><stop offset="38.3%" stop-color="#0b0b0b"/><stop offset="40.5%" stop-color="#0b0b0b"/><stop offset="42.6%" stop-color="#0b0b0b"/><stop offset="44.7%" stop-color="#0b0b0b"/><stop offset="46.9%" stop-color="#0b0b0b"/><stop offset="49%" stop-color="#0b0b0b"/><stop offset="51.1%" stop-color="#0b0b0b"/><stop offset="53.3%" stop-color="#0b0b0b"/><stop offset="55.4%" stop-color="#0b0b0b"/><stop offset="57.5%" stop-color="#0b0b0b"/><stop offset="59.6%" stop-color="#0b0b0b"/><stop offset="61.8%" stop-color="#0b0b0b"/><stop offset="63.9%" stop-color="#0b0b0b"/><stop offset="66%" stop-color="#0b0b0b"/><stop offset="68.2%" stop-color="#0b0b0b"/><stop offset="70.3%" stop-color="#0b0b0b"/><stop offset="72.4%" stop-color="#0b0b0b"/><stop offset="74.6%" stop-color="#0b0b0b"/><stop offset="76.7%" stop-color="#0b0b0b"/><stop offset="78.8%" stop-color="#0b0b0b"/><stop offset="80.9%" stop-color="#0b0b0b"/><stop offset="83.1%" stop-color="#0b0b0b"/><stop offset="85.2%" stop-color="#0b0b0b"/><stop offset="87.3%" stop-color="#0b0b0b"/><stop offset="89.5%" stop-color="#0a0a0a"/><stop offset="91.6%" stop-color="#0a0a0a"/><stop offset="93.7%" stop-color="#0a0a0a"/><stop offset="95.9%" stop-color="#0a0a0a"/><stop offset="98%" stop-color="#070707"/><stop offset="100%" stop-color="#070707"/></linearGradient><linearGradient id="gD2"><stop offset="0%" stop-color="#0b0b0b"/><stop offset="2.1%" stop-color="#0b0b0b"/><stop offset="4.3%" stop-color="#0b0b0b"/><stop offset="6.4%" stop-color="#0b0b0b"/><stop offset="8.5%" stop-color="#0b0b0b"/><stop offset="10.7%" stop-color="#0b0b0b"/><stop offset="12.8%" stop-color="#0b0b0b"/><stop offset="14.9%" stop-color="#0b0b0b"/><stop offset="17%" stop-color="#0b0b0b"/><stop offset="19.2%" stop-color="#0b0b0b"/><stop offset="21.3%" stop-color="#0b0b0b"/><stop offset="23.4%" stop-color="#0b0b0b"/><stop offset="25.6%" stop-color="#0b0b0b"/><stop offset="27.7%" stop-color="#0b0b0b"/><stop offset="29.8%" stop-color="#0b0b0b"/><stop offset="32%" stop-color="#0b0b0b"/><stop offset="34.1%" stop-color="#0b0b0b"/><stop offset="36.2%" stop-color="#0b0b0b"/><stop offset="38.3%" stop-color="#0b0b0b"/><stop offset="40.5%" stop-color="#0b0b0b"/><stop offset="42.6%" stop-color="#0b0b0b"/><stop offset="44.7%" stop-color="#0b0b0b"/><stop offset="46.9%" stop-color="#0b0b0b"/><stop offset="49%" stop-color="#0b0b0b"/><stop offset="51.1%" stop-color="#0b0b0b"/><stop offset="53.3%" stop-color="#0b0b0b"/><stop offset="55.4%" stop-color="#0b0b0b"/><stop offset="57.5%" stop-color="#0b0b0b"/><stop offset="59.6%" stop-color="#0b0b0b"/><stop offset="61.8%" stop-color="#0b0b0b"/><stop offset="63.9%" stop-color="#0b0b0b"/><stop offset="66%" stop-color="#0b0b0b"/><stop offset="68.2%" stop-color="#0b0b0b"/><stop offset="70.3%" stop-color="#0b0b0b"/><stop offset="72.4%" stop-color="#0b0b0b"/><stop offset="74.6%" stop-color="#0b0b0b"/><stop offset="76.7%" stop-color="#0b0b0b"/><stop offset="78.8%" stop-color="#0b0b0b"/><stop offset="80.9%" stop-color="#0b0b0b"/><stop offset="83.1%" stop-color="#0b0b0b"/><stop offset="85.2%" stop-color="#0b0b0b"/><stop offset="87.3%" stop-color="#0b0b0b"/><stop offset="89.5%" stop-color="#0b0b0b"/><stop offset="91.6%" stop-color="#0b0b0b"/><stop offset="93.7%" stop-color="#0b0b0b"/><stop offset="95.9%" stop-color="#0a0a0a"/><stop offset="98%" stop-color="#070707"/><stop offset="100%" stop-color="#070707"/></linearGradient><linearGradient id="gD3"><stop offset="0%" stop-color="#0d0d0d"/><stop offset="2.1%" stop-color="#0d0d0d"/><stop offset="4.3%" stop-color="#0d0d0d"/><stop offset="6.4%" stop-color="#0d0d0d"/><stop offset="8.5%" stop-color="#0d0d0d"/><stop offset="10.7%" stop-color="#0d0d0d"/><stop offset="12.8%" stop-color="#0d0d0d"/><stop offset="14.9%" stop-color="#0d0d0d"/><stop offset="17%" stop-color="#0d0d0d"/><stop offset="19.2%" stop-color="#0d0d0d"/><stop offset="21.3%" stop-color="#0d0d0d"/><stop offset="23.4%" stop-color="#0d0d0d"/><stop offset="25.6%" stop-color="#0d0d0d"/><stop offset="27.7%" stop-color="#0d0d0d"/><stop offset="29.8%" stop-color="#0e0e0e"/><stop offset="32%" stop-color="#0d0d0d"/><stop offset="34.1%" stop-color="#0d0d0d"/><stop offset="36.2%" stop-color="#0d0d0d"/><stop offset="38.3%" stop-color="#0d0d0d"/><stop offset="40.5%" stop-color="#0d0d0d"/><stop offset="42.6%" stop-color="#0d0d0d"/><stop offset="44.7%" stop-color="#0d0d0d"/><stop offset="46.9%" stop-color="#0d0d0d"/><stop offset="49%" stop-color="#0d0d0d"/><stop offset="51.1%" stop-color="#0d0d0d"/><stop offset="53.3%" stop-color="#0d0d0d"/><stop offset="55.4%" stop-color="#0d0d0d"/><stop offset="57.5%" stop-color="#0d0d0d"/><stop offset="59.6%" stop-color="#0d0d0d"/><stop offset="61.8%" stop-color="#0d0d0d"/><stop offset="63.9%" stop-color="#0d0d0d"/><stop offset="66%" stop-color="#0d0d0d"/><stop offset="68.2%" stop-color="#0d0d0d"/><stop offset="70.3%" stop-color="#0d0d0d"/><stop offset="72.4%" stop-color="#0d0d0d"/><stop offset="74.6%" stop-color="#0d0d0d"/><stop offset="76.7%" stop-color="#0d0d0d"/><stop offset="78.8%" stop-color="#0d0d0d"/><stop offset="80.9%" stop-color="#0d0d0d"/><stop offset="83.1%" stop-color="#0d0d0d"/><stop offset="85.2%" stop-color="#0d0d0d"/><stop offset="87.3%" stop-color="#0d0d0d"/><stop offset="89.5%" stop-color="#0d0d0d"/><stop offset="91.6%" stop-color="#0d0d0d"/><stop offset="93.7%" stop-color="#0d0d0d"/><stop offset="95.9%" stop-color="#0c0c0c"/><stop offset="98%" stop-color="#080808"/><stop offset="100%" stop-color="#070707"/></linearGradient><linearGradient id="gD4"><stop offset="0%" stop-color="#121212"/><stop offset="2.1%" stop-color="#121212"/><stop offset="4.3%" stop-color="#121212"/><stop offset="6.4%" stop-color="#121212"/><stop offset="8.5%" stop-color="#121212"/><stop offset="10.7%" stop-color="#121212"/><stop offset="12.8%" stop-color="#121212"/><stop offset="14.9%" stop-color="#121212"/><stop offset="17%" stop-color="#121212"/><stop offset="19.2%" stop-color="#121212"/><stop offset="21.3%" stop-color="#121212"/><stop offset="23.4%" stop-color="#121212"/><stop offset="25.6%" stop-color="#121212"/><stop offset="27.7%" stop-color="#121212"/><stop offset="29.8%" stop-color="#121212"/><stop offset="32%" stop-color="#121212"/><stop offset="34.1%" stop-color="#121212"/><stop offset="36.2%" stop-color="#121212"/><stop offset="38.3%" stop-color="#121212"/><stop offset="40.5%" stop-color="#121212"/><stop offset="42.6%" stop-color="#121212"/><stop offset="44.7%" stop-color="#121212"/><stop offset="46.9%" stop-color="#121212"/><stop offset="49%" stop-color="#121212"/><stop offset="51.1%" stop-color="#121212"/><stop offset="53.3%" stop-color="#121212"/><stop offset="55.4%" stop-color="#121212"/><stop offset="57.5%" stop-color="#111111"/><stop offset="59.6%" stop-color="#111111"/><stop offset="61.8%" stop-color="#111111"/><stop offset="63.9%" stop-color="#111111"/><stop offset="66%" stop-color="#111111"/><stop offset="68.2%" stop-color="#111111"/><stop offset="70.3%" stop-color="#111111"/><stop offset="72.4%" stop-color="#111111"/><stop offset="74.6%" stop-color="#111111"/><stop offset="76.7%" stop-color="#111111"/><stop offset="78.8%" stop-color="#111111"/><stop offset="80.9%" stop-color="#111111"/><stop offset="83.1%" stop-color="#111111"/><stop offset="85.2%" stop-color="#101010"/><stop offset="87.3%" stop-color="#101010"/><stop offset="89.5%" stop-color="#101010"/><stop offset="91.6%" stop-color="#101010"/><stop offset="93.7%" stop-color="#101010"/><stop offset="95.9%" stop-color="#0e0e0e"/><stop offset="98%" stop-color="#080808"/><stop offset="100%" stop-color="#070707"/></linearGradient><linearGradient id="gD5"><stop offset="0%" stop-color="#1b1b1b"/><stop offset="2.1%" stop-color="#1b1b1b"/><stop offset="4.3%" stop-color="#1b1b1b"/><stop offset="6.4%" stop-color="#1b1b1b"/><stop offset="8.5%" stop-color="#1b1b1b"/><stop offset="10.7%" stop-color="#1b1b1b"/><stop offset="12.8%" stop-color="#1b1b1b"/><stop offset="14.9%" stop-color="#1b1b1b"/><stop offset="17%" stop-color="#1b1b1b"/><stop offset="19.2%" stop-color="#1b1b1b"/><stop offset="21.3%" stop-color="#1b1b1b"/><stop offset="23.4%" stop-color="#1b1b1b"/><stop offset="25.6%" stop-color="#1b1b1b"/><stop offset="27.7%" stop-color="#1b1b1b"/><stop offset="29.8%" stop-color="#1b1b1b"/><stop offset="32%" stop-color="#1b1b1b"/><stop offset="34.1%" stop-color="#1b1b1b"/><stop offset="36.2%" stop-color="#1b1b1b"/><stop offset="38.3%" stop-color="#1b1b1b"/><stop offset="40.5%" stop-color="#1a1a1a"/><stop offset="42.6%" stop-color="#1a1a1a"/><stop offset="44.7%" stop-color="#1a1a1a"/><stop offset="46.9%" stop-color="#1a1a1a"/><stop offset="49%" stop-color="#1a1a1a"/><stop offset="51.1%" stop-color="#1a1a1a"/><stop offset="53.3%" stop-color="#1a1a1a"/><stop offset="55.4%" stop-color="#1a1a1a"/><stop offset="57.5%" stop-color="#1a1a1a"/><stop offset="59.6%" stop-color="#1a1a1a"/><stop offset="61.8%" stop-color="#1a1a1a"/><stop offset="63.9%" stop-color="#1a1a1a"/><stop offset="66%" stop-color="#191919"/><stop offset="68.2%" stop-color="#191919"/><stop offset="70.3%" stop-color="#191919"/><stop offset="72.4%" stop-color="#191919"/><stop offset="74.6%" stop-color="#191919"/><stop offset="76.7%" stop-color="#191919"/><stop offset="78.8%" stop-color="#191919"/><stop offset="80.9%" stop-color="#181818"/><stop offset="83.1%" stop-color="#181818"/><stop offset="85.2%" stop-color="#181818"/><stop offset="87.3%" stop-color="#171717"/><stop offset="89.5%" stop-color="#171717"/><stop offset="91.6%" stop-color="#171717"/><stop offset="93.7%" stop-color="#161616"/><stop offset="95.9%" stop-color="#141414"/><stop offset="98%" stop-color="#090909"/><stop offset="100%" stop-color="#070707"/></linearGradient><linearGradient id="gD6"><stop offset="0%" stop-color="#2a2a2a"/><stop offset="2.1%" stop-color="#2a2a2a"/><stop offset="4.3%" stop-color="#2a2a2a"/><stop offset="6.4%" stop-color="#2a2a2a"/><stop offset="8.5%" stop-color="#2a2a2a"/><stop offset="10.7%" stop-color="#2a2a2a"/><stop offset="12.8%" stop-color="#2a2a2a"/><stop offset="14.9%" stop-color="#2a2a2a"/><stop offset="17%" stop-color="#2a2a2a"/><stop offset="19.2%" stop-color="#2a2a2a"/><stop offset="21.3%" stop-color="#2a2a2a"/><stop offset="23.4%" stop-color="#2a2a2a"/><stop offset="25.6%" stop-color="#2a2a2a"/><stop offset="27.7%" stop-color="#2a2a2a"/><stop offset="29.8%" stop-color="#2a2a2a"/><stop offset="32%" stop-color="#2a2a2a"/><stop offset="34.1%" stop-color="#2a2a2a"/><stop offset="36.2%" stop-color="#292929"/><stop offset="38.3%" stop-color="#292929"/><stop offset="40.5%" stop-color="#292929"/><stop offset="42.6%" stop-color="#292929"/><stop offset="44.7%" stop-color="#292929"/><stop offset="46.9%" stop-color="#292929"/><stop offset="49%" stop-color="#292929"/><stop offset="51.1%" stop-color="#282828"/><stop offset="53.3%" stop-color="#282828"/><stop offset="55.4%" stop-color="#282828"/><stop offset="57.5%" stop-color="#282828"/><stop offset="59.6%" stop-color="#282828"/><stop offset="61.8%" stop-color="#282828"/><stop offset="63.9%" stop-color="#272727"/><stop offset="66%" stop-color="#272727"/><stop offset="68.2%" stop-color="#272727"/><stop offset="70.3%" stop-color="#272727"/><stop offset="72.4%" stop-color="#262626"/><stop offset="74.6%" stop-color="#262626"/><stop offset="76.7%" stop-color="#262626"/><stop offset="78.8%" stop-color="#252525"/><stop offset="80.9%" stop-color="#252525"/><stop offset="83.1%" stop-color="#242424"/><stop offset="85.2%" stop-color="#242424"/><stop offset="87.3%" stop-color="#232323"/><stop offset="89.5%" stop-color="#232323"/><stop offset="91.6%" stop-color="#222222"/><stop offset="93.7%" stop-color="#212121"/><stop offset="95.9%" stop-color="#1d1d1d"/><stop offset="98%" stop-color="#0a0a0a"/><stop offset="100%" stop-color="#070707"/></linearGradient><linearGradient id="gD7"><stop offset="0%" stop-color="#3c3c3c"/><stop offset="2.1%" stop-color="#3c3c3c"/><stop offset="4.3%" stop-color="#3c3c3c"/><stop offset="6.4%" stop-color="#3c3c3c"/><stop offset="8.5%" stop-color="#3c3c3c"/><stop offset="10.7%" stop-color="#3c3c3c"/><stop offset="12.8%" stop-color="#3c3c3c"/><stop offset="14.9%" stop-color="#3c3c3c"/><stop offset="17%" stop-color="#3c3c3c"/><stop offset="19.2%" stop-color="#3d3d3d"/><stop offset="21.3%" stop-color="#3d3d3d"/><stop offset="23.4%" stop-color="#3d3d3d"/><stop offset="25.6%" stop-color="#3d3d3d"/><stop offset="27.7%" stop-color="#3d3d3d"/><stop offset="29.8%" stop-color="#3d3d3d"/><stop offset="32%" stop-color="#3d3d3d"/><stop offset="34.1%" stop-color="#3c3c3c"/><stop offset="36.2%" stop-color="#3c3c3c"/><stop offset="38.3%" stop-color="#3c3c3c"/><stop offset="40.5%" stop-color="#3b3b3b"/><stop offset="42.6%" stop-color="#3b3b3b"/><stop offset="44.7%" stop-color="#3b3b3b"/><stop offset="46.9%" stop-color="#3b3b3b"/><stop offset="49%" stop-color="#3b3b3b"/><stop offset="51.1%" stop-color="#3b3b3b"/><stop offset="53.3%" stop-color="#3b3b3b"/><stop offset="55.4%" stop-color="#3a3a3a"/><stop offset="57.5%" stop-color="#3a3a3a"/><stop offset="59.6%" stop-color="#3a3a3a"/><stop offset="61.8%" stop-color="#393939"/><stop offset="63.9%" stop-color="#393939"/><stop offset="66%" stop-color="#393939"/><stop offset="68.2%" stop-color="#393939"/><stop offset="70.3%" stop-color="#383838"/><stop offset="72.4%" stop-color="#383838"/><stop offset="74.6%" stop-color="#373737"/><stop offset="76.7%" stop-color="#373737"/><stop offset="78.8%" stop-color="#363636"/><stop offset="80.9%" stop-color="#353535"/><stop offset="83.1%" stop-color="#343434"/><stop offset="85.2%" stop-color="#333333"/><stop offset="87.3%" stop-color="#323232"/><stop offset="89.5%" stop-color="#313131"/><stop offset="91.6%" stop-color="#303030"/><stop offset="93.7%" stop-color="#2f2f2f"/><stop offset="95.9%" stop-color="#272727"/><stop offset="98%" stop-color="#0c0c0c"/><stop offset="100%" stop-color="#070707"/></linearGradient><linearGradient id="gD8"><stop offset="0%" stop-color="#4c4c4c"/><stop offset="2.1%" stop-color="#4c4c4c"/><stop offset="4.3%" stop-color="#4c4c4c"/><stop offset="6.4%" stop-color="#4c4c4c"/><stop offset="8.5%" stop-color="#4c4c4c"/><stop offset="10.7%" stop-color="#4c4c4c"/><stop offset="12.8%" stop-color="#4c4c4c"/><stop offset="14.9%" stop-color="#4c4c4c"/><stop offset="17%" stop-color="#4d4d4d"/><stop offset="19.2%" stop-color="#4d4d4d"/><stop offset="21.3%" stop-color="#4d4d4d"/><stop offset="23.4%" stop-color="#4e4e4e"/><stop offset="25.6%" stop-color="#4e4e4e"/><stop offset="27.7%" stop-color="#4e4e4e"/><stop offset="29.8%" stop-color="#4f4f4f"/><stop offset="32%" stop-color="#4e4e4e"/><stop offset="34.1%" stop-color="#4e4e4e"/><stop offset="36.2%" stop-color="#4e4e4e"/><stop offset="38.3%" stop-color="#4d4d4d"/><stop offset="40.5%" stop-color="#4d4d4d"/><stop offset="42.6%" stop-color="#4d4d4d"/><stop offset="44.7%" stop-color="#4d4d4d"/><stop offset="46.9%" stop-color="#4d4d4d"/><stop offset="49%" stop-color="#4d4d4d"/><stop offset="51.1%" stop-color="#4d4d4d"/><stop offset="53.3%" stop-color="#4d4d4d"/><stop offset="55.4%" stop-color="#4d4d4d"/><stop offset="57.5%" stop-color="#4c4c4c"/><stop offset="59.6%" stop-color="#4c4c4c"/><stop offset="61.8%" stop-color="#4c4c4c"/><stop offset="63.9%" stop-color="#4b4b4b"/><stop offset="66%" stop-color="#4b4b4b"/><stop offset="68.2%" stop-color="#4b4b4b"/><stop offset="70.3%" stop-color="#4a4a4a"/><stop offset="72.4%" stop-color="#4a4a4a"/><stop offset="74.6%" stop-color="#494949"/><stop offset="76.7%" stop-color="#494949"/><stop offset="78.8%" stop-color="#474747"/><stop offset="80.9%" stop-color="#454545"/><stop offset="83.1%" stop-color="#444444"/><stop offset="85.2%" stop-color="#424242"/><stop offset="87.3%" stop-color="#414141"/><stop offset="89.5%" stop-color="#3f3f3f"/><stop offset="91.6%" stop-color="#3d3d3d"/><stop offset="93.7%" stop-color="#3b3b3b"/><stop offset="95.9%" stop-color="#313131"/><stop offset="98%" stop-color="#0d0d0d"/><stop offset="100%" stop-color="#070707"/></linearGradient><linearGradient id="gD9"><stop offset="0%" stop-color="#575757"/><stop offset="2.1%" stop-color="#575757"/><stop offset="4.3%" stop-color="#575757"/><stop offset="6.4%" stop-color="#575757"/><stop offset="8.5%" stop-color="#575757"/><stop offset="10.7%" stop-color="#585858"/><stop offset="12.8%" stop-color="#585858"/><stop offset="14.9%" stop-color="#585858"/><stop offset="17%" stop-color="#595959"/><stop offset="19.2%" stop-color="#595959"/><stop offset="21.3%" stop-color="#5a5a5a"/><stop offset="23.4%" stop-color="#5a5a5a"/><stop offset="25.6%" stop-color="#5b5b5b"/><stop offset="27.7%" stop-color="#5c5c5c"/><stop offset="29.8%" stop-color="#5d5d5d"/><stop offset="32%" stop-color="#5d5d5d"/><stop offset="34.1%" stop-color="#5d5d5d"/><stop offset="36.2%" stop-color="#5d5d5d"/><stop offset="38.3%" stop-color="#5d5d5d"/><stop offset="40.5%" stop-color="#5d5d5d"/><stop offset="42.6%" stop-color="#5d5d5d"/><stop offset="44.7%" stop-color="#5e5e5e"/><stop offset="46.9%" stop-color="#5f5f5f"/><stop offset="49%" stop-color="#5f5f5f"/><stop offset="51.1%" stop-color="#5f5f5f"/><stop offset="53.3%" stop-color="#5f5f5f"/><stop offset="55.4%" stop-color="#5f5f5f"/><stop offset="57.5%" stop-color="#5f5f5f"/><stop offset="59.6%" stop-color="#5e5e5e"/><stop offset="61.8%" stop-color="#5e5e5e"/><stop offset="63.9%" stop-color="#5e5e5e"/><stop offset="66%" stop-color="#5d5d5d"/><stop offset="68.2%" stop-color="#5d5d5d"/><stop offset="70.3%" stop-color="#5c5c5c"/><stop offset="72.4%" stop-color="#5c5c5c"/><stop offset="74.6%" stop-color="#5b5b5b"/><stop offset="76.7%" stop-color="#5b5b5b"/><stop offset="78.8%" stop-color="#585858"/><stop offset="80.9%" stop-color="#555555"/><stop offset="83.1%" stop-color="#525252"/><stop offset="85.2%" stop-color="#505050"/><stop offset="87.3%" stop-color="#4e4e4e"/><stop offset="89.5%" stop-color="#4b4b4b"/><stop offset="91.6%" stop-color="#484848"/><stop offset="93.7%" stop-color="#454545"/><stop offset="95.9%" stop-color="#383838"/><stop offset="98%" stop-color="#0e0e0e"/><stop offset="100%" stop-color="#070707"/></linearGradient><linearGradient id="gD10"><stop offset="0%" stop-color="#5f5f5f"/><stop offset="2.1%" stop-color="#5f5f5f"/><stop offset="4.3%" stop-color="#5f5f5f"/><stop offset="6.4%" stop-color="#5f5f5f"/><stop offset="8.5%" stop-color="#606060"/><stop offset="10.7%" stop-color="#616161"/><stop offset="12.8%" stop-color="#616161"/><stop offset="14.9%" stop-color="#626262"/><stop offset="17%" stop-color="#636363"/><stop offset="19.2%" stop-color="#646464"/><stop offset="21.3%" stop-color="#656565"/><stop offset="23.4%" stop-color="#666666"/><stop offset="25.6%" stop-color="#686868"/><stop offset="27.7%" stop-color="#696969"/><stop offset="29.8%" stop-color="#6b6b6b"/><stop offset="32%" stop-color="#6c6c6c"/><stop offset="34.1%" stop-color="#6d6d6d"/><stop offset="36.2%" stop-color="#6e6e6e"/><stop offset="38.3%" stop-color="#6f6f6f"/><stop offset="40.5%" stop-color="#6f6f6f"/><stop offset="42.6%" stop-color="#707070"/><stop offset="44.7%" stop-color="#717171"/><stop offset="46.9%" stop-color="#737373"/><stop offset="49%" stop-color="#747474"/><stop offset="51.1%" stop-color="#747474"/><stop offset="53.3%" stop-color="#757575"/><stop offset="55.4%" stop-color="#747474"/><stop offset="57.5%" stop-color="#747474"/><stop offset="59.6%" stop-color="#747474"/><stop offset="61.8%" stop-color="#747474"/><stop offset="63.9%" stop-color="#747474"/><stop offset="66%" stop-color="#737373"/><stop offset="68.2%" stop-color="#727272"/><stop offset="70.3%" stop-color="#727272"/><stop offset="72.4%" stop-color="#717171"/><stop offset="74.6%" stop-color="#707070"/><stop offset="76.7%" stop-color="#6f6f6f"/><stop offset="78.8%" stop-color="#6b6b6b"/><stop offset="80.9%" stop-color="#676767"/><stop offset="83.1%" stop-color="#636363"/><stop offset="85.2%" stop-color="#5f5f5f"/><stop offset="87.3%" stop-color="#5c5c5c"/><stop offset="89.5%" stop-color="#585858"/><stop offset="91.6%" stop-color="#535353"/><stop offset="93.7%" stop-color="#4d4d4d"/><stop offset="95.9%" stop-color="#3d3d3d"/><stop offset="98%" stop-color="#0e0e0e"/><stop offset="100%" stop-color="#070707"/></linearGradient><linearGradient id="gD11"><stop offset="0%" stop-color="#686868"/><stop offset="2.1%" stop-color="#686868"/><stop offset="4.3%" stop-color="#686868"/><stop offset="6.4%" stop-color="#696969"/><stop offset="8.5%" stop-color="#6a6a6a"/><stop offset="10.7%" stop-color="#6b6b6b"/><stop offset="12.8%" stop-color="#6c6c6c"/><stop offset="14.9%" stop-color="#6e6e6e"/><stop offset="17%" stop-color="#6f6f6f"/><stop offset="19.2%" stop-color="#717171"/><stop offset="21.3%" stop-color="#737373"/><stop offset="23.4%" stop-color="#757575"/><stop offset="25.6%" stop-color="#787878"/><stop offset="27.7%" stop-color="#7a7a7a"/><stop offset="29.8%" stop-color="#7d7d7d"/><stop offset="32%" stop-color="#7f7f7f"/><stop offset="34.1%" stop-color="#808080"/><stop offset="36.2%" stop-color="#838383"/><stop offset="38.3%" stop-color="#858585"/><stop offset="40.5%" stop-color="#868686"/><stop offset="42.6%" stop-color="#888888"/><stop offset="44.7%" stop-color="#8a8a8a"/><stop offset="46.9%" stop-color="#8b8b8b"/><stop offset="49%" stop-color="#8d8d8d"/><stop offset="51.1%" stop-color="#8e8e8e"/><stop offset="53.3%" stop-color="#8f8f8f"/><stop offset="55.4%" stop-color="#8f8f8f"/><stop offset="57.5%" stop-color="#8f8f8f"/><stop offset="59.6%" stop-color="#8f8f8f"/><stop offset="61.8%" stop-color="#8f8f8f"/><stop offset="63.9%" stop-color="#8e8e8e"/><stop offset="66%" stop-color="#8e8e8e"/><stop offset="68.2%" stop-color="#8d8d8d"/><stop offset="70.3%" stop-color="#8c8c8c"/><stop offset="72.4%" stop-color="#8b8b8b"/><stop offset="74.6%" stop-color="#8a8a8a"/><stop offset="76.7%" stop-color="#898989"/><stop offset="78.8%" stop-color="#838383"/><stop offset="80.9%" stop-color="#7d7d7d"/><stop offset="83.1%" stop-color="#787878"/><stop offset="85.2%" stop-color="#737373"/><stop offset="87.3%" stop-color="#6d6d6d"/><stop offset="89.5%" stop-color="#676767"/><stop offset="91.6%" stop-color="#606060"/><stop offset="93.7%" stop-color="#585858"/><stop offset="95.9%" stop-color="#434343"/><stop offset="98%" stop-color="#0f0f0f"/><stop offset="100%" stop-color="#070707"/></linearGradient><linearGradient id="gD12"><stop offset="0%" stop-color="#747474"/><stop offset="2.1%" stop-color="#747474"/><stop offset="4.3%" stop-color="#747474"/><stop offset="6.4%" stop-color="#767676"/><stop offset="8.5%" stop-color="#787878"/><stop offset="10.7%" stop-color="#7a7a7a"/><stop offset="12.8%" stop-color="#7c7c7c"/><stop offset="14.9%" stop-color="#7e7e7e"/><stop offset="17%" stop-color="#808080"/><stop offset="19.2%" stop-color="#838383"/><stop offset="21.3%" stop-color="#868686"/><stop offset="23.4%" stop-color="#898989"/><stop offset="25.6%" stop-color="#8c8c8c"/><stop offset="27.7%" stop-color="#909090"/><stop offset="29.8%" stop-color="#939393"/><stop offset="32%" stop-color="#969696"/><stop offset="34.1%" stop-color="#999999"/><stop offset="36.2%" stop-color="#9c9c9c"/><stop offset="38.3%" stop-color="#9f9f9f"/><stop offset="40.5%" stop-color="#a1a1a1"/><stop offset="42.6%" stop-color="#a3a3a3"/><stop offset="44.7%" stop-color="#a5a5a5"/><stop offset="46.9%" stop-color="#a7a7a7"/><stop offset="49%" stop-color="#aaaaaa"/><stop offset="51.1%" stop-color="#ababab"/><stop offset="53.3%" stop-color="#acacac"/><stop offset="55.4%" stop-color="#acacac"/><stop offset="57.5%" stop-color="#acacac"/><stop offset="59.6%" stop-color="#acacac"/><stop offset="61.8%" stop-color="#acacac"/><stop offset="63.9%" stop-color="#ababab"/><stop offset="66%" stop-color="#ababab"/><stop offset="68.2%" stop-color="#a9a9a9"/><stop offset="70.3%" stop-color="#a8a8a8"/><stop offset="72.4%" stop-color="#a6a6a6"/><stop offset="74.6%" stop-color="#a5a5a5"/><stop offset="76.7%" stop-color="#a3a3a3"/><stop offset="78.8%" stop-color="#9d9d9d"/><stop offset="80.9%" stop-color="#959595"/><stop offset="83.1%" stop-color="#8f8f8f"/><stop offset="85.2%" stop-color="#888888"/><stop offset="87.3%" stop-color="#828282"/><stop offset="89.5%" stop-color="#7a7a7a"/><stop offset="91.6%" stop-color="#6f6f6f"/><stop offset="93.7%" stop-color="#636363"/><stop offset="95.9%" stop-color="#4a4a4a"/><stop offset="98%" stop-color="#0f0f0f"/><stop offset="100%" stop-color="#070707"/></linearGradient><linearGradient id="gD13"><stop offset="0%" stop-color="#858585"/><stop offset="2.1%" stop-color="#858585"/><stop offset="4.3%" stop-color="#858585"/><stop offset="6.4%" stop-color="#888888"/><stop offset="8.5%" stop-color="#8a8a8a"/><stop offset="10.7%" stop-color="#8d8d8d"/><stop offset="12.8%" stop-color="#8f8f8f"/><stop offset="14.9%" stop-color="#929292"/><stop offset="17%" stop-color="#959595"/><stop offset="19.2%" stop-color="#989898"/><stop offset="21.3%" stop-color="#9c9c9c"/><stop offset="23.4%" stop-color="#a0a0a0"/><stop offset="25.6%" stop-color="#a3a3a3"/><stop offset="27.7%" stop-color="#a7a7a7"/><stop offset="29.8%" stop-color="#ababab"/><stop offset="32%" stop-color="#aeaeae"/><stop offset="34.1%" stop-color="#b1b1b1"/><stop offset="36.2%" stop-color="#b5b5b5"/><stop offset="38.3%" stop-color="#b8b8b8"/><stop offset="40.5%" stop-color="#bababa"/><stop offset="42.6%" stop-color="#bcbcbc"/><stop offset="44.7%" stop-color="#bebebe"/><stop offset="46.9%" stop-color="#c1c1c1"/><stop offset="49%" stop-color="#c3c3c3"/><stop offset="51.1%" stop-color="#c5c5c5"/><stop offset="53.3%" stop-color="#c6c6c6"/><stop offset="55.4%" stop-color="#c6c6c6"/><stop offset="57.5%" stop-color="#c5c5c5"/><stop offset="59.6%" stop-color="#c5c5c5"/><stop offset="61.8%" stop-color="#c5c5c5"/><stop offset="63.9%" stop-color="#c5c5c5"/><stop offset="66%" stop-color="#c4c4c4"/><stop offset="68.2%" stop-color="#c2c2c2"/><stop offset="70.3%" stop-color="#c0c0c0"/><stop offset="72.4%" stop-color="#bebebe"/><stop offset="74.6%" stop-color="#bcbcbc"/><stop offset="76.7%" stop-color="#bababa"/><stop offset="78.8%" stop-color="#b3b3b3"/><stop offset="80.9%" stop-color="#ababab"/><stop offset="83.1%" stop-color="#a3a3a3"/><stop offset="85.2%" stop-color="#9c9c9c"/><stop offset="87.3%" stop-color="#949494"/><stop offset="89.5%" stop-color="#8b8b8b"/><stop offset="91.6%" stop-color="#7d7d7d"/><stop offset="93.7%" stop-color="#6f6f6f"/><stop offset="95.9%" stop-color="#505050"/><stop offset="98%" stop-color="#101010"/><stop offset="100%" stop-color="#070707"/></linearGradient><linearGradient id="gD14"><stop offset="0%" stop-color="#999999"/><stop offset="2.1%" stop-color="#999999"/><stop offset="4.3%" stop-color="#999999"/><stop offset="6.4%" stop-color="#9c9c9c"/><stop offset="8.5%" stop-color="#9f9f9f"/><stop offset="10.7%" stop-color="#a2a2a2"/><stop offset="12.8%" stop-color="#a5a5a5"/><stop offset="14.9%" stop-color="#a7a7a7"/><stop offset="17%" stop-color="#aaaaaa"/><stop offset="19.2%" stop-color="#aeaeae"/><stop offset="21.3%" stop-color="#b1b1b1"/><stop offset="23.4%" stop-color="#b5b5b5"/><stop offset="25.6%" stop-color="#b9b9b9"/><stop offset="27.7%" stop-color="#bcbcbc"/><stop offset="29.8%" stop-color="#c0c0c0"/><stop offset="32%" stop-color="#c3c3c3"/><stop offset="34.1%" stop-color="#c6c6c6"/><stop offset="36.2%" stop-color="#c9c9c9"/><stop offset="38.3%" stop-color="#cbcbcb"/><stop offset="40.5%" stop-color="#cdcdcd"/><stop offset="42.6%" stop-color="#cfcfcf"/><stop offset="44.7%" stop-color="#d1d1d1"/><stop offset="46.9%" stop-color="#d3d3d3"/><stop offset="49%" stop-color="#d5d5d5"/><stop offset="51.1%" stop-color="#d7d7d7"/><stop offset="53.3%" stop-color="#d8d8d8"/><stop offset="55.4%" stop-color="#d8d8d8"/><stop offset="57.5%" stop-color="#d8d8d8"/><stop offset="59.6%" stop-color="#d7d7d7"/><stop offset="61.8%" stop-color="#d7d7d7"/><stop offset="63.9%" stop-color="#d7d7d7"/><stop offset="66%" stop-color="#d5d5d5"/><stop offset="68.2%" stop-color="#d3d3d3"/><stop offset="70.3%" stop-color="#d1d1d1"/><stop offset="72.4%" stop-color="#cecece"/><stop offset="74.6%" stop-color="#cccccc"/><stop offset="76.7%" stop-color="#c9c9c9"/><stop offset="78.8%" stop-color="#c2c2c2"/><stop offset="80.9%" stop-color="#bababa"/><stop offset="83.1%" stop-color="#b2b2b2"/><stop offset="85.2%" stop-color="#aaaaaa"/><stop offset="87.3%" stop-color="#a2a2a2"/><stop offset="89.5%" stop-color="#989898"/><stop offset="91.6%" stop-color="#898989"/><stop offset="93.7%" stop-color="#787878"/><stop offset="95.9%" stop-color="#565656"/><stop offset="98%" stop-color="#101010"/><stop offset="100%" stop-color="#070707"/></linearGradient><linearGradient id="gD15"><stop offset="0%" stop-color="#acacac"/><stop offset="2.1%" stop-color="#acacac"/><stop offset="4.3%" stop-color="#acacac"/><stop offset="6.4%" stop-color="#afafaf"/><stop offset="8.5%" stop-color="#b1b1b1"/><stop offset="10.7%" stop-color="#b4b4b4"/><stop offset="12.8%" stop-color="#b7b7b7"/><stop offset="14.9%" stop-color="#b9b9b9"/><stop offset="17%" stop-color="#bcbcbc"/><stop offset="19.2%" stop-color="#bfbfbf"/><stop offset="21.3%" stop-color="#c2c2c2"/><stop offset="23.4%" stop-color="#c5c5c5"/><stop offset="25.6%" stop-color="#c8c8c8"/><stop offset="27.7%" stop-color="#cbcbcb"/><stop offset="29.8%" stop-color="#cecece"/><stop offset="32%" stop-color="#d1d1d1"/><stop offset="34.1%" stop-color="#d3d3d3"/><stop offset="36.2%" stop-color="#d5d5d5"/><stop offset="38.3%" stop-color="#d8d8d8"/><stop offset="40.5%" stop-color="#d9d9d9"/><stop offset="42.6%" stop-color="#dbdbdb"/><stop offset="44.7%" stop-color="#dddddd"/><stop offset="46.9%" stop-color="#dfdfdf"/><stop offset="49%" stop-color="#e0e0e0"/><stop offset="51.1%" stop-color="#e2e2e2"/><stop offset="53.3%" stop-color="#e3e3e3"/><stop offset="55.4%" stop-color="#e3e3e3"/><stop offset="57.5%" stop-color="#e2e2e2"/><stop offset="59.6%" stop-color="#e2e2e2"/><stop offset="61.8%" stop-color="#e2e2e2"/><stop offset="63.9%" stop-color="#e1e1e1"/><stop offset="66%" stop-color="#e0e0e0"/><stop offset="68.2%" stop-color="#dddddd"/><stop offset="70.3%" stop-color="#dadada"/><stop offset="72.4%" stop-color="#d8d8d8"/><stop offset="74.6%" stop-color="#d5d5d5"/><stop offset="76.7%" stop-color="#d2d2d2"/><stop offset="78.8%" stop-color="#cbcbcb"/><stop offset="80.9%" stop-color="#c3c3c3"/><stop offset="83.1%" stop-color="#bbbbbb"/><stop offset="85.2%" stop-color="#b3b3b3"/><stop offset="87.3%" stop-color="#ababab"/><stop offset="89.5%" stop-color="#a0a0a0"/><stop offset="91.6%" stop-color="#909090"/><stop offset="93.7%" stop-color="#7e7e7e"/><stop offset="95.9%" stop-color="#595959"/><stop offset="98%" stop-color="#111111"/><stop offset="100%" stop-color="#070707"/></linearGradient><linearGradient id="gD16"><stop offset="0%" stop-color="#bababa"/><stop offset="2.1%" stop-color="#bababa"/><stop offset="4.3%" stop-color="#bababa"/><stop offset="6.4%" stop-color="#bcbcbc"/><stop offset="8.5%" stop-color="#bebebe"/><stop offset="10.7%" stop-color="#c0c0c0"/><stop offset="12.8%" stop-color="#c3c3c3"/><stop offset="14.9%" stop-color="#c5c5c5"/><stop offset="17%" stop-color="#c7c7c7"/><stop offset="19.2%" stop-color="#c9c9c9"/><stop offset="21.3%" stop-color="#cccccc"/><stop offset="23.4%" stop-color="#cecece"/><stop offset="25.6%" stop-color="#d1d1d1"/><stop offset="27.7%" stop-color="#d3d3d3"/><stop offset="29.8%" stop-color="#d6d6d6"/><stop offset="32%" stop-color="#d8d8d8"/><stop offset="34.1%" stop-color="#dadada"/><stop offset="36.2%" stop-color="#dcdcdc"/><stop offset="38.3%" stop-color="#dedede"/><stop offset="40.5%" stop-color="#e0e0e0"/><stop offset="42.6%" stop-color="#e1e1e1"/><stop offset="44.7%" stop-color="#e3e3e3"/><stop offset="46.9%" stop-color="#e4e4e4"/><stop offset="49%" stop-color="#e6e6e6"/><stop offset="51.1%" stop-color="#e7e7e7"/><stop offset="53.3%" stop-color="#e8e8e8"/><stop offset="55.4%" stop-color="#e8e8e8"/><stop offset="57.5%" stop-color="#e8e8e8"/><stop offset="59.6%" stop-color="#e7e7e7"/><stop offset="61.8%" stop-color="#e7e7e7"/><stop offset="63.9%" stop-color="#e6e6e6"/><stop offset="66%" stop-color="#e5e5e5"/><stop offset="68.2%" stop-color="#e2e2e2"/><stop offset="70.3%" stop-color="#dfdfdf"/><stop offset="72.4%" stop-color="#dcdcdc"/><stop offset="74.6%" stop-color="#d9d9d9"/><stop offset="76.7%" stop-color="#d6d6d6"/><stop offset="78.8%" stop-color="#cfcfcf"/><stop offset="80.9%" stop-color="#c7c7c7"/><stop offset="83.1%" stop-color="#bfbfbf"/><stop offset="85.2%" stop-color="#b7b7b7"/><stop offset="87.3%" stop-color="#afafaf"/><stop offset="89.5%" stop-color="#a4a4a4"/><stop offset="91.6%" stop-color="#949494"/><stop offset="93.7%" stop-color="#828282"/><stop offset="95.9%" stop-color="#5b5b5b"/><stop offset="98%" stop-color="#111111"/><stop offset="100%" stop-color="#070707"/></linearGradient><linearGradient id="gD17"><stop offset="0%" stop-color="#c1c1c1"/><stop offset="2.1%" stop-color="#c1c1c1"/><stop offset="4.3%" stop-color="#c1c1c1"/><stop offset="6.4%" stop-color="#c3c3c3"/><stop offset="8.5%" stop-color="#c5c5c5"/><stop offset="10.7%" stop-color="#c7c7c7"/><stop offset="12.8%" stop-color="#c9c9c9"/><stop offset="14.9%" stop-color="#cacaca"/><stop offset="17%" stop-color="#cccccc"/><stop offset="19.2%" stop-color="#cecece"/><stop offset="21.3%" stop-color="#d0d0d0"/><stop offset="23.4%" stop-color="#d3d3d3"/><stop offset="25.6%" stop-color="#d5d5d5"/><stop offset="27.7%" stop-color="#d7d7d7"/><stop offset="29.8%" stop-color="#d9d9d9"/><stop offset="32%" stop-color="#dbdbdb"/><stop offset="34.1%" stop-color="#dddddd"/><stop offset="36.2%" stop-color="#dedede"/><stop offset="38.3%" stop-color="#e0e0e0"/><stop offset="40.5%" stop-color="#e1e1e1"/><stop offset="42.6%" stop-color="#e3e3e3"/><stop offset="44.7%" stop-color="#e4e4e4"/><stop offset="46.9%" stop-color="#e6e6e6"/><stop offset="49%" stop-color="#e7e7e7"/><stop offset="51.1%" stop-color="#e8e8e8"/><stop offset="53.3%" stop-color="#eaeaea"/><stop offset="55.4%" stop-color="#e9e9e9"/><stop offset="57.5%" stop-color="#e9e9e9"/><stop offset="59.6%" stop-color="#e8e8e8"/><stop offset="61.8%" stop-color="#e8e8e8"/><stop offset="63.9%" stop-color="#e7e7e7"/><stop offset="66%" stop-color="#e6e6e6"/><stop offset="68.2%" stop-color="#e3e3e3"/><stop offset="70.3%" stop-color="#e0e0e0"/><stop offset="72.4%" stop-color="#dddddd"/><stop offset="74.6%" stop-color="#dadada"/><stop offset="76.7%" stop-color="#d7d7d7"/><stop offset="78.8%" stop-color="#d0d0d0"/><stop offset="80.9%" stop-color="#c8c8c8"/><stop offset="83.1%" stop-color="#c0c0c0"/><stop offset="85.2%" stop-color="#b8b8b8"/><stop offset="87.3%" stop-color="#b0b0b0"/><stop offset="89.5%" stop-color="#a6a6a6"/><stop offset="91.6%" stop-color="#959595"/><stop offset="93.7%" stop-color="#828282"/><stop offset="95.9%" stop-color="#5b5b5b"/><stop offset="98%" stop-color="#111111"/><stop offset="100%" stop-color="#070707"/></linearGradient><linearGradient id="gD18"><stop offset="0%" stop-color="#c4c4c4"/><stop offset="2.1%" stop-color="#c4c4c4"/><stop offset="4.3%" stop-color="#c4c4c4"/><stop offset="6.4%" stop-color="#c5c5c5"/><stop offset="8.5%" stop-color="#c7c7c7"/><stop offset="10.7%" stop-color="#c9c9c9"/><stop offset="12.8%" stop-color="#cacaca"/><stop offset="14.9%" stop-color="#cccccc"/><stop offset="17%" stop-color="#cdcdcd"/><stop offset="19.2%" stop-color="#cfcfcf"/><stop offset="21.3%" stop-color="#d1d1d1"/><stop offset="23.4%" stop-color="#d3d3d3"/><stop offset="25.6%" stop-color="#d5d5d5"/><stop offset="27.7%" stop-color="#d7d7d7"/><stop offset="29.8%" stop-color="#d9d9d9"/><stop offset="32%" stop-color="#dadada"/><stop offset="34.1%" stop-color="#dcdcdc"/><stop offset="36.2%" stop-color="#dedede"/><stop offset="38.3%" stop-color="#dfdfdf"/><stop offset="40.5%" stop-color="#e0e0e0"/><stop offset="42.6%" stop-color="#e2e2e2"/><stop offset="44.7%" stop-color="#e3e3e3"/><stop offset="46.9%" stop-color="#e4e4e4"/><stop offset="49%" stop-color="#e6e6e6"/><stop offset="51.1%" stop-color="#e7e7e7"/><stop offset="53.3%" stop-color="#e8e8e8"/><stop offset="55.4%" stop-color="#e8e8e8"/><stop offset="57.5%" stop-color="#e8e8e8"/><stop offset="59.6%" stop-color="#e7e7e7"/><stop offset="61.8%" stop-color="#e6e6e6"/><stop offset="63.9%" stop-color="#e6e6e6"/><stop offset="66%" stop-color="#e4e4e4"/><stop offset="68.2%" stop-color="#e1e1e1"/><stop offset="70.3%" stop-color="#dedede"/><stop offset="72.4%" stop-color="#dbdbdb"/><stop offset="74.6%" stop-color="#d8d8d8"/><stop offset="76.7%" stop-color="#d5d5d5"/><stop offset="78.8%" stop-color="#cecece"/><stop offset="80.9%" stop-color="#c7c7c7"/><stop offset="83.1%" stop-color="#bfbfbf"/><stop offset="85.2%" stop-color="#b7b7b7"/><stop offset="87.3%" stop-color="#afafaf"/><stop offset="89.5%" stop-color="#a5a5a5"/><stop offset="91.6%" stop-color="#949494"/><stop offset="93.7%" stop-color="#828282"/><stop offset="95.9%" stop-color="#5b5b5b"/><stop offset="98%" stop-color="#111111"/><stop offset="100%" stop-color="#070707"/></linearGradient><linearGradient id="gD19"><stop offset="0%" stop-color="#c3c3c3"/><stop offset="2.1%" stop-color="#c3c3c3"/><stop offset="4.3%" stop-color="#c3c3c3"/><stop offset="6.4%" stop-color="#c4c4c4"/><stop offset="8.5%" stop-color="#c6c6c6"/><stop offset="10.7%" stop-color="#c7c7c7"/><stop offset="12.8%" stop-color="#c8c8c8"/><stop offset="14.9%" stop-color="#cacaca"/><stop offset="17%" stop-color="#cbcbcb"/><stop offset="19.2%" stop-color="#cdcdcd"/><stop offset="21.3%" stop-color="#cfcfcf"/><stop offset="23.4%" stop-color="#d1d1d1"/><stop offset="25.6%" stop-color="#d2d2d2"/><stop offset="27.7%" stop-color="#d4d4d4"/><stop offset="29.8%" stop-color="#d6d6d6"/><stop offset="32%" stop-color="#d8d8d8"/><stop offset="34.1%" stop-color="#d9d9d9"/><stop offset="36.2%" stop-color="#dbdbdb"/><stop offset="38.3%" stop-color="#dcdcdc"/><stop offset="40.5%" stop-color="#dddddd"/><stop offset="42.6%" stop-color="#dedede"/><stop offset="44.7%" stop-color="#e0e0e0"/><stop offset="46.9%" stop-color="#e1e1e1"/><stop offset="49%" stop-color="#e2e2e2"/><stop offset="51.1%" stop-color="#e4e4e4"/><stop offset="53.3%" stop-color="#e5e5e5"/><stop offset="55.4%" stop-color="#e4e4e4"/><stop offset="57.5%" stop-color="#e4e4e4"/><stop offset="59.6%" stop-color="#e4e4e4"/><stop offset="61.8%" stop-color="#e3e3e3"/><stop offset="63.9%" stop-color="#e2e2e2"/><stop offset="66%" stop-color="#e1e1e1"/><stop offset="68.2%" stop-color="#dedede"/><stop offset="70.3%" stop-color="#dbdbdb"/><stop offset="72.4%" stop-color="#d8d8d8"/><stop offset="74.6%" stop-color="#d5d5d5"/><stop offset="76.7%" stop-color="#d2d2d2"/><stop offset="78.8%" stop-color="#cbcbcb"/><stop offset="80.9%" stop-color="#c3c3c3"/><stop offset="83.1%" stop-color="#bcbcbc"/><stop offset="85.2%" stop-color="#b4b4b4"/><stop offset="87.3%" stop-color="#adadad"/><stop offset="89.5%" stop-color="#a2a2a2"/><stop offset="91.6%" stop-color="#929292"/><stop offset="93.7%" stop-color="#808080"/><stop offset="95.9%" stop-color="#5a5a5a"/><stop offset="98%" stop-color="#111111"/><stop offset="100%" stop-color="#070707"/></linearGradient><linearGradient id="gD20"><stop offset="0%" stop-color="#bfbfbf"/><stop offset="2.1%" stop-color="#bfbfbf"/><stop offset="4.3%" stop-color="#bfbfbf"/><stop offset="6.4%" stop-color="#c0c0c0"/><stop offset="8.5%" stop-color="#c1c1c1"/><stop offset="10.7%" stop-color="#c3c3c3"/><stop offset="12.8%" stop-color="#c4c4c4"/><stop offset="14.9%" stop-color="#c5c5c5"/><stop offset="17%" stop-color="#c7c7c7"/><stop offset="19.2%" stop-color="#c8c8c8"/><stop offset="21.3%" stop-color="#cacaca"/><stop offset="23.4%" stop-color="#cccccc"/><stop offset="25.6%" stop-color="#cecece"/><stop offset="27.7%" stop-color="#cfcfcf"/><stop offset="29.8%" stop-color="#d1d1d1"/><stop offset="32%" stop-color="#d2d2d2"/><stop offset="34.1%" stop-color="#d4d4d4"/><stop offset="36.2%" stop-color="#d5d5d5"/><stop offset="38.3%" stop-color="#d7d7d7"/><stop offset="40.5%" stop-color="#d8d8d8"/><stop offset="42.6%" stop-color="#d9d9d9"/><stop offset="44.7%" stop-color="#dadada"/><stop offset="46.9%" stop-color="#dbdbdb"/><stop offset="49%" stop-color="#dddddd"/><stop offset="51.1%" stop-color="#dedede"/><stop offset="53.3%" stop-color="#dfdfdf"/><stop offset="55.4%" stop-color="#dfdfdf"/><stop offset="57.5%" stop-color="#dedede"/><stop offset="59.6%" stop-color="#dedede"/><stop offset="61.8%" stop-color="#dddddd"/><stop offset="63.9%" stop-color="#dddddd"/><stop offset="66%" stop-color="#dbdbdb"/><stop offset="68.2%" stop-color="#d8d8d8"/><stop offset="70.3%" stop-color="#d5d5d5"/><stop offset="72.4%" stop-color="#d2d2d2"/><stop offset="74.6%" stop-color="#cfcfcf"/><stop offset="76.7%" stop-color="#cccccc"/><stop offset="78.8%" stop-color="#c6c6c6"/><stop offset="80.9%" stop-color="#bebebe"/><stop offset="83.1%" stop-color="#b7b7b7"/><stop offset="85.2%" stop-color="#b0b0b0"/><stop offset="87.3%" stop-color="#a8a8a8"/><stop offset="89.5%" stop-color="#9e9e9e"/><stop offset="91.6%" stop-color="#8e8e8e"/><stop offset="93.7%" stop-color="#7e7e7e"/><stop offset="95.9%" stop-color="#595959"/><stop offset="98%" stop-color="#111111"/><stop offset="100%" stop-color="#070707"/></linearGradient><linearGradient id="gD21"><stop offset="0%" stop-color="#b8b8b8"/><stop offset="2.1%" stop-color="#b8b8b8"/><stop offset="4.3%" stop-color="#b8b8b8"/><stop offset="6.4%" stop-color="#b9b9b9"/><stop offset="8.5%" stop-color="#bbbbbb"/><stop offset="10.7%" stop-color="#bcbcbc"/><stop offset="12.8%" stop-color="#bdbdbd"/><stop offset="14.9%" stop-color="#bfbfbf"/><stop offset="17%" stop-color="#c0c0c0"/><stop offset="19.2%" stop-color="#c2c2c2"/><stop offset="21.3%" stop-color="#c3c3c3"/><stop offset="23.4%" stop-color="#c5c5c5"/><stop offset="25.6%" stop-color="#c7c7c7"/><stop offset="27.7%" stop-color="#c8c8c8"/><stop offset="29.8%" stop-color="#cacaca"/><stop offset="32%" stop-color="#cbcbcb"/><stop offset="34.1%" stop-color="#cdcdcd"/><stop offset="36.2%" stop-color="#cecece"/><stop offset="38.3%" stop-color="#cfcfcf"/><stop offset="40.5%" stop-color="#d0d0d0"/><stop offset="42.6%" stop-color="#d1d1d1"/><stop offset="44.7%" stop-color="#d2d2d2"/><stop offset="46.9%" stop-color="#d4d4d4"/><stop offset="49%" stop-color="#d5d5d5"/><stop offset="51.1%" stop-color="#d6d6d6"/><stop offset="53.3%" stop-color="#d7d7d7"/><stop offset="55.4%" stop-color="#d7d7d7"/><stop offset="57.5%" stop-color="#d7d7d7"/><stop offset="59.6%" stop-color="#d6d6d6"/><stop offset="61.8%" stop-color="#d6d6d6"/><stop offset="63.9%" stop-color="#d5d5d5"/><stop offset="66%" stop-color="#d3d3d3"/><stop offset="68.2%" stop-color="#d0d0d0"/><stop offset="70.3%" stop-color="#cdcdcd"/><stop offset="72.4%" stop-color="#cbcbcb"/><stop offset="74.6%" stop-color="#c8c8c8"/><stop offset="76.7%" stop-color="#c5c5c5"/><stop offset="78.8%" stop-color="#bebebe"/><stop offset="80.9%" stop-color="#b8b8b8"/><stop offset="83.1%" stop-color="#b1b1b1"/><stop offset="85.2%" stop-color="#a9a9a9"/><stop offset="87.3%" stop-color="#a2a2a2"/><stop offset="89.5%" stop-color="#999999"/><stop offset="91.6%" stop-color="#8a8a8a"/><stop offset="93.7%" stop-color="#7a7a7a"/><stop offset="95.9%" stop-color="#575757"/><stop offset="98%" stop-color="#101010"/><stop offset="100%" stop-color="#070707"/></linearGradient><linearGradient id="gD22"><stop offset="0%" stop-color="#afafaf"/><stop offset="2.1%" stop-color="#afafaf"/><stop offset="4.3%" stop-color="#afafaf"/><stop offset="6.4%" stop-color="#b0b0b0"/><stop offset="8.5%" stop-color="#b2b2b2"/><stop offset="10.7%" stop-color="#b3b3b3"/><stop offset="12.8%" stop-color="#b4b4b4"/><stop offset="14.9%" stop-color="#b6b6b6"/><stop offset="17%" stop-color="#b7b7b7"/><stop offset="19.2%" stop-color="#b8b8b8"/><stop offset="21.3%" stop-color="#bababa"/><stop offset="23.4%" stop-color="#bcbcbc"/><stop offset="25.6%" stop-color="#bdbdbd"/><stop offset="27.7%" stop-color="#bfbfbf"/><stop offset="29.8%" stop-color="#c0c0c0"/><stop offset="32%" stop-color="#c2c2c2"/><stop offset="34.1%" stop-color="#c3c3c3"/><stop offset="36.2%" stop-color="#c4c4c4"/><stop offset="38.3%" stop-color="#c5c5c5"/><stop offset="40.5%" stop-color="#c6c6c6"/><stop offset="42.6%" stop-color="#c7c7c7"/><stop offset="44.7%" stop-color="#c8c8c8"/><stop offset="46.9%" stop-color="#c9c9c9"/><stop offset="49%" stop-color="#cbcbcb"/><stop offset="51.1%" stop-color="#cccccc"/><stop offset="53.3%" stop-color="#cdcdcd"/><stop offset="55.4%" stop-color="#cdcdcd"/><stop offset="57.5%" stop-color="#cccccc"/><stop offset="59.6%" stop-color="#cccccc"/><stop offset="61.8%" stop-color="#cbcbcb"/><stop offset="63.9%" stop-color="#cacaca"/><stop offset="66%" stop-color="#c9c9c9"/><stop offset="68.2%" stop-color="#c6c6c6"/><stop offset="70.3%" stop-color="#c3c3c3"/><stop offset="72.4%" stop-color="#c0c0c0"/><stop offset="74.6%" stop-color="#bebebe"/><stop offset="76.7%" stop-color="#bbbbbb"/><stop offset="78.8%" stop-color="#b5b5b5"/><stop offset="80.9%" stop-color="#aeaeae"/><stop offset="83.1%" stop-color="#a8a8a8"/><stop offset="85.2%" stop-color="#a1a1a1"/><stop offset="87.3%" stop-color="#9a9a9a"/><stop offset="89.5%" stop-color="#919191"/><stop offset="91.6%" stop-color="#838383"/><stop offset="93.7%" stop-color="#757575"/><stop offset="95.9%" stop-color="#535353"/><stop offset="98%" stop-color="#101010"/><stop offset="100%" stop-color="#070707"/></linearGradient><linearGradient id="gD23"><stop offset="0%" stop-color="#a3a3a3"/><stop offset="2.1%" stop-color="#a3a3a3"/><stop offset="4.3%" stop-color="#a3a3a3"/><stop offset="6.4%" stop-color="#a5a5a5"/><stop offset="8.5%" stop-color="#a6a6a6"/><stop offset="10.7%" stop-color="#a7a7a7"/><stop offset="12.8%" stop-color="#a8a8a8"/><stop offset="14.9%" stop-color="#aaaaaa"/><stop offset="17%" stop-color="#ababab"/><stop offset="19.2%" stop-color="#acacac"/><stop offset="21.3%" stop-color="#aeaeae"/><stop offset="23.4%" stop-color="#b0b0b0"/><stop offset="25.6%" stop-color="#b1b1b1"/><stop offset="27.7%" stop-color="#b3b3b3"/><stop offset="29.8%" stop-color="#b4b4b4"/><stop offset="32%" stop-color="#b5b5b5"/><stop offset="34.1%" stop-color="#b7b7b7"/><stop offset="36.2%" stop-color="#b8b8b8"/><stop offset="38.3%" stop-color="#b9b9b9"/><stop offset="40.5%" stop-color="#b9b9b9"/><stop offset="42.6%" stop-color="#bababa"/><stop offset="44.7%" stop-color="#bbbbbb"/><stop offset="46.9%" stop-color="#bdbdbd"/><stop offset="49%" stop-color="#bebebe"/><stop offset="51.1%" stop-color="#bfbfbf"/><stop offset="53.3%" stop-color="#c0c0c0"/><stop offset="55.4%" stop-color="#c0c0c0"/><stop offset="57.5%" stop-color="#bfbfbf"/><stop offset="59.6%" stop-color="#bfbfbf"/><stop offset="61.8%" stop-color="#bebebe"/><stop offset="63.9%" stop-color="#bdbdbd"/><stop offset="66%" stop-color="#bcbcbc"/><stop offset="68.2%" stop-color="#b9b9b9"/><stop offset="70.3%" stop-color="#b6b6b6"/><stop offset="72.4%" stop-color="#b4b4b4"/><stop offset="74.6%" stop-color="#b1b1b1"/><stop offset="76.7%" stop-color="#afafaf"/><stop offset="78.8%" stop-color="#a9a9a9"/><stop offset="80.9%" stop-color="#a3a3a3"/><stop offset="83.1%" stop-color="#9d9d9d"/><stop offset="85.2%" stop-color="#979797"/><stop offset="87.3%" stop-color="#909090"/><stop offset="89.5%" stop-color="#888888"/><stop offset="91.6%" stop-color="#7b7b7b"/><stop offset="93.7%" stop-color="#6e6e6e"/><stop offset="95.9%" stop-color="#4f4f4f"/><stop offset="98%" stop-color="#101010"/><stop offset="100%" stop-color="#070707"/></linearGradient><linearGradient id="gD24"><stop offset="0%" stop-color="#949494"/><stop offset="2.1%" stop-color="#949494"/><stop offset="4.3%" stop-color="#949494"/><stop offset="6.4%" stop-color="#969696"/><stop offset="8.5%" stop-color="#979797"/><stop offset="10.7%" stop-color="#989898"/><stop offset="12.8%" stop-color="#9a9a9a"/><stop offset="14.9%" stop-color="#9b9b9b"/><stop offset="17%" stop-color="#9c9c9c"/><stop offset="19.2%" stop-color="#9e9e9e"/><stop offset="21.3%" stop-color="#9f9f9f"/><stop offset="23.4%" stop-color="#a1a1a1"/><stop offset="25.6%" stop-color="#a2a2a2"/><stop offset="27.7%" stop-color="#a4a4a4"/><stop offset="29.8%" stop-color="#a5a5a5"/><stop offset="32%" stop-color="#a6a6a6"/><stop offset="34.1%" stop-color="#a7a7a7"/><stop offset="36.2%" stop-color="#a8a8a8"/><stop offset="38.3%" stop-color="#a9a9a9"/><stop offset="40.5%" stop-color="#aaaaaa"/><stop offset="42.6%" stop-color="#ababab"/><stop offset="44.7%" stop-color="#acacac"/><stop offset="46.9%" stop-color="#adadad"/><stop offset="49%" stop-color="#aeaeae"/><stop offset="51.1%" stop-color="#afafaf"/><stop offset="53.3%" stop-color="#b0b0b0"/><stop offset="55.4%" stop-color="#b0b0b0"/><stop offset="57.5%" stop-color="#b0b0b0"/><stop offset="59.6%" stop-color="#afafaf"/><stop offset="61.8%" stop-color="#aeaeae"/><stop offset="63.9%" stop-color="#adadad"/><stop offset="66%" stop-color="#acacac"/><stop offset="68.2%" stop-color="#a9a9a9"/><stop offset="70.3%" stop-color="#a7a7a7"/><stop offset="72.4%" stop-color="#a4a4a4"/><stop offset="74.6%" stop-color="#a2a2a2"/><stop offset="76.7%" stop-color="#9f9f9f"/><stop offset="78.8%" stop-color="#9a9a9a"/><stop offset="80.9%" stop-color="#959595"/><stop offset="83.1%" stop-color="#909090"/><stop offset="85.2%" stop-color="#8a8a8a"/><stop offset="87.3%" stop-color="#848484"/><stop offset="89.5%" stop-color="#7c7c7c"/><stop offset="91.6%" stop-color="#717171"/><stop offset="93.7%" stop-color="#656565"/><stop offset="95.9%" stop-color="#4a4a4a"/><stop offset="98%" stop-color="#0f0f0f"/><stop offset="100%" stop-color="#070707"/></linearGradient><linearGradient id="gD25"><stop offset="0%" stop-color="#828282"/><stop offset="2.1%" stop-color="#828282"/><stop offset="4.3%" stop-color="#828282"/><stop offset="6.4%" stop-color="#838383"/><stop offset="8.5%" stop-color="#848484"/><stop offset="10.7%" stop-color="#868686"/><stop offset="12.8%" stop-color="#878787"/><stop offset="14.9%" stop-color="#888888"/><stop offset="17%" stop-color="#8a8a8a"/><stop offset="19.2%" stop-color="#8b8b8b"/><stop offset="21.3%" stop-color="#8c8c8c"/><stop offset="23.4%" stop-color="#8e8e8e"/><stop offset="25.6%" stop-color="#8f8f8f"/><stop offset="27.7%" stop-color="#919191"/><stop offset="29.8%" stop-color="#929292"/><stop offset="32%" stop-color="#949494"/><stop offset="34.1%" stop-color="#959595"/><stop offset="36.2%" stop-color="#959595"/><stop offset="38.3%" stop-color="#969696"/><stop offset="40.5%" stop-color="#979797"/><stop offset="42.6%" stop-color="#989898"/><stop offset="44.7%" stop-color="#999999"/><stop offset="46.9%" stop-color="#999999"/><stop offset="49%" stop-color="#9a9a9a"/><stop offset="51.1%" stop-color="#9b9b9b"/><stop offset="53.3%" stop-color="#9c9c9c"/><stop offset="55.4%" stop-color="#9c9c9c"/><stop offset="57.5%" stop-color="#9c9c9c"/><stop offset="59.6%" stop-color="#9c9c9c"/><stop offset="61.8%" stop-color="#9b9b9b"/><stop offset="63.9%" stop-color="#9a9a9a"/><stop offset="66%" stop-color="#999999"/><stop offset="68.2%" stop-color="#969696"/><stop offset="70.3%" stop-color="#949494"/><stop offset="72.4%" stop-color="#929292"/><stop offset="74.6%" stop-color="#909090"/><stop offset="76.7%" stop-color="#8d8d8d"/><stop offset="78.8%" stop-color="#898989"/><stop offset="80.9%" stop-color="#848484"/><stop offset="83.1%" stop-color="#7f7f7f"/><stop offset="85.2%" stop-color="#7a7a7a"/><stop offset="87.3%" stop-color="#757575"/><stop offset="89.5%" stop-color="#6e6e6e"/><stop offset="91.6%" stop-color="#646464"/><stop offset="93.7%" stop-color="#5a5a5a"/><stop offset="95.9%" stop-color="#424242"/><stop offset="98%" stop-color="#0e0e0e"/><stop offset="100%" stop-color="#070707"/></linearGradient><linearGradient id="gD26"><stop offset="0%" stop-color="#6c6c6c"/><stop offset="2.1%" stop-color="#6c6c6c"/><stop offset="4.3%" stop-color="#6c6c6c"/><stop offset="6.4%" stop-color="#6d6d6d"/><stop offset="8.5%" stop-color="#6e6e6e"/><stop offset="10.7%" stop-color="#707070"/><stop offset="12.8%" stop-color="#717171"/><stop offset="14.9%" stop-color="#727272"/><stop offset="17%" stop-color="#737373"/><stop offset="19.2%" stop-color="#757575"/><stop offset="21.3%" stop-color="#767676"/><stop offset="23.4%" stop-color="#787878"/><stop offset="25.6%" stop-color="#797979"/><stop offset="27.7%" stop-color="#7b7b7b"/><stop offset="29.8%" stop-color="#7c7c7c"/><stop offset="32%" stop-color="#7d7d7d"/><stop offset="34.1%" stop-color="#7e7e7e"/><stop offset="36.2%" stop-color="#7f7f7f"/><stop offset="38.3%" stop-color="#808080"/><stop offset="40.5%" stop-color="#808080"/><stop offset="42.6%" stop-color="#818181"/><stop offset="44.7%" stop-color="#828282"/><stop offset="46.9%" stop-color="#838383"/><stop offset="49%" stop-color="#848484"/><stop offset="51.1%" stop-color="#858585"/><stop offset="53.3%" stop-color="#868686"/><stop offset="55.4%" stop-color="#868686"/><stop offset="57.5%" stop-color="#868686"/><stop offset="59.6%" stop-color="#868686"/><stop offset="61.8%" stop-color="#858585"/><stop offset="63.9%" stop-color="#848484"/><stop offset="66%" stop-color="#828282"/><stop offset="68.2%" stop-color="#808080"/><stop offset="70.3%" stop-color="#7e7e7e"/><stop offset="72.4%" stop-color="#7c7c7c"/><stop offset="74.6%" stop-color="#7a7a7a"/><stop offset="76.7%" stop-color="#787878"/><stop offset="78.8%" stop-color="#747474"/><stop offset="80.9%" stop-color="#707070"/><stop offset="83.1%" stop-color="#6c6c6c"/><stop offset="85.2%" stop-color="#686868"/><stop offset="87.3%" stop-color="#636363"/><stop offset="89.5%" stop-color="#5d5d5d"/><stop offset="91.6%" stop-color="#555555"/><stop offset="93.7%" stop-color="#4c4c4c"/><stop offset="95.9%" stop-color="#393939"/><stop offset="98%" stop-color="#0d0d0d"/><stop offset="100%" stop-color="#070707"/></linearGradient><linearGradient id="gD27"><stop offset="0%" stop-color="#555555"/><stop offset="2.1%" stop-color="#555555"/><stop offset="4.3%" stop-color="#555555"/><stop offset="6.4%" stop-color="#565656"/><stop offset="8.5%" stop-color="#575757"/><stop offset="10.7%" stop-color="#585858"/><stop offset="12.8%" stop-color="#595959"/><stop offset="14.9%" stop-color="#5b5b5b"/><stop offset="17%" stop-color="#5c5c5c"/><stop offset="19.2%" stop-color="#5d5d5d"/><stop offset="21.3%" stop-color="#5e5e5e"/><stop offset="23.4%" stop-color="#606060"/><stop offset="25.6%" stop-color="#616161"/><stop offset="27.7%" stop-color="#636363"/><stop offset="29.8%" stop-color="#646464"/><stop offset="32%" stop-color="#656565"/><stop offset="34.1%" stop-color="#666666"/><stop offset="36.2%" stop-color="#676767"/><stop offset="38.3%" stop-color="#676767"/><stop offset="40.5%" stop-color="#686868"/><stop offset="42.6%" stop-color="#696969"/><stop offset="44.7%" stop-color="#6a6a6a"/><stop offset="46.9%" stop-color="#6b6b6b"/><stop offset="49%" stop-color="#6b6b6b"/><stop offset="51.1%" stop-color="#6c6c6c"/><stop offset="53.3%" stop-color="#6d6d6d"/><stop offset="55.4%" stop-color="#6d6d6d"/><stop offset="57.5%" stop-color="#6e6e6e"/><stop offset="59.6%" stop-color="#6e6e6e"/><stop offset="61.8%" stop-color="#6d6d6d"/><stop offset="63.9%" stop-color="#6c6c6c"/><stop offset="66%" stop-color="#6a6a6a"/><stop offset="68.2%" stop-color="#696969"/><stop offset="70.3%" stop-color="#676767"/><stop offset="72.4%" stop-color="#656565"/><stop offset="74.6%" stop-color="#636363"/><stop offset="76.7%" stop-color="#626262"/><stop offset="78.8%" stop-color="#5e5e5e"/><stop offset="80.9%" stop-color="#5b5b5b"/><stop offset="83.1%" stop-color="#585858"/><stop offset="85.2%" stop-color="#545454"/><stop offset="87.3%" stop-color="#505050"/><stop offset="89.5%" stop-color="#4b4b4b"/><stop offset="91.6%" stop-color="#444444"/><stop offset="93.7%" stop-color="#3d3d3d"/><stop offset="95.9%" stop-color="#2e2e2e"/><stop offset="98%" stop-color="#0c0c0c"/><stop offset="100%" stop-color="#070707"/></linearGradient><linearGradient id="gD28"><stop offset="0%" stop-color="#404040"/><stop offset="2.1%" stop-color="#404040"/><stop offset="4.3%" stop-color="#404040"/><stop offset="6.4%" stop-color="#414141"/><stop offset="8.5%" stop-color="#424242"/><stop offset="10.7%" stop-color="#434343"/><stop offset="12.8%" stop-color="#444444"/><stop offset="14.9%" stop-color="#454545"/><stop offset="17%" stop-color="#464646"/><stop offset="19.2%" stop-color="#474747"/><stop offset="21.3%" stop-color="#484848"/><stop offset="23.4%" stop-color="#494949"/><stop offset="25.6%" stop-color="#4a4a4a"/><stop offset="27.7%" stop-color="#4b4b4b"/><stop offset="29.8%" stop-color="#4d4d4d"/><stop offset="32%" stop-color="#4e4e4e"/><stop offset="34.1%" stop-color="#4f4f4f"/><stop offset="36.2%" stop-color="#4f4f4f"/><stop offset="38.3%" stop-color="#505050"/><stop offset="40.5%" stop-color="#505050"/><stop offset="42.6%" stop-color="#515151"/><stop offset="44.7%" stop-color="#525252"/><stop offset="46.9%" stop-color="#535353"/><stop offset="49%" stop-color="#535353"/><stop offset="51.1%" stop-color="#545454"/><stop offset="53.3%" stop-color="#555555"/><stop offset="55.4%" stop-color="#555555"/><stop offset="57.5%" stop-color="#565656"/><stop offset="59.6%" stop-color="#565656"/><stop offset="61.8%" stop-color="#555555"/><stop offset="63.9%" stop-color="#545454"/><stop offset="66%" stop-color="#535353"/><stop offset="68.2%" stop-color="#515151"/><stop offset="70.3%" stop-color="#505050"/><stop offset="72.4%" stop-color="#4f4f4f"/><stop offset="74.6%" stop-color="#4d4d4d"/><stop offset="76.7%" stop-color="#4c4c4c"/><stop offset="78.8%" stop-color="#494949"/><stop offset="80.9%" stop-color="#474747"/><stop offset="83.1%" stop-color="#444444"/><stop offset="85.2%" stop-color="#414141"/><stop offset="87.3%" stop-color="#3e3e3e"/><stop offset="89.5%" stop-color="#3a3a3a"/><stop offset="91.6%" stop-color="#353535"/><stop offset="93.7%" stop-color="#2f2f2f"/><stop offset="95.9%" stop-color="#242424"/><stop offset="98%" stop-color="#0a0a0a"/><stop offset="100%" stop-color="#070707"/></linearGradient><linearGradient id="gD29"><stop offset="0%" stop-color="#303030"/><stop offset="2.1%" stop-color="#303030"/><stop offset="4.3%" stop-color="#303030"/><stop offset="6.4%" stop-color="#303030"/><stop offset="8.5%" stop-color="#313131"/><stop offset="10.7%" stop-color="#323232"/><stop offset="12.8%" stop-color="#333333"/><stop offset="14.9%" stop-color="#333333"/><stop offset="17%" stop-color="#343434"/><stop offset="19.2%" stop-color="#353535"/><stop offset="21.3%" stop-color="#363636"/><stop offset="23.4%" stop-color="#373737"/><stop offset="25.6%" stop-color="#383838"/><stop offset="27.7%" stop-color="#383838"/><stop offset="29.8%" stop-color="#393939"/><stop offset="32%" stop-color="#3a3a3a"/><stop offset="34.1%" stop-color="#3b3b3b"/><stop offset="36.2%" stop-color="#3c3c3c"/><stop offset="38.3%" stop-color="#3c3c3c"/><stop offset="40.5%" stop-color="#3d3d3d"/><stop offset="42.6%" stop-color="#3d3d3d"/><stop offset="44.7%" stop-color="#3e3e3e"/><stop offset="46.9%" stop-color="#3e3e3e"/><stop offset="49%" stop-color="#3f3f3f"/><stop offset="51.1%" stop-color="#404040"/><stop offset="53.3%" stop-color="#404040"/><stop offset="55.4%" stop-color="#404040"/><stop offset="57.5%" stop-color="#414141"/><stop offset="59.6%" stop-color="#414141"/><stop offset="61.8%" stop-color="#404040"/><stop offset="63.9%" stop-color="#404040"/><stop offset="66%" stop-color="#3f3f3f"/><stop offset="68.2%" stop-color="#3e3e3e"/><stop offset="70.3%" stop-color="#3d3d3d"/><stop offset="72.4%" stop-color="#3b3b3b"/><stop offset="74.6%" stop-color="#3a3a3a"/><stop offset="76.7%" stop-color="#393939"/><stop offset="78.8%" stop-color="#373737"/><stop offset="80.9%" stop-color="#363636"/><stop offset="83.1%" stop-color="#343434"/><stop offset="85.2%" stop-color="#313131"/><stop offset="87.3%" stop-color="#2f2f2f"/><stop offset="89.5%" stop-color="#2c2c2c"/><stop offset="91.6%" stop-color="#282828"/><stop offset="93.7%" stop-color="#242424"/><stop offset="95.9%" stop-color="#1c1c1c"/><stop offset="98%" stop-color="#090909"/><stop offset="100%" stop-color="#070707"/></linearGradient><linearGradient id="gD30"><stop offset="0%" stop-color="#242424"/><stop offset="2.1%" stop-color="#242424"/><stop offset="4.3%" stop-color="#242424"/><stop offset="6.4%" stop-color="#242424"/><stop offset="8.5%" stop-color="#252525"/><stop offset="10.7%" stop-color="#252525"/><stop offset="12.8%" stop-color="#262626"/><stop offset="14.9%" stop-color="#272727"/><stop offset="17%" stop-color="#272727"/><stop offset="19.2%" stop-color="#282828"/><stop offset="21.3%" stop-color="#282828"/><stop offset="23.4%" stop-color="#292929"/><stop offset="25.6%" stop-color="#2a2a2a"/><stop offset="27.7%" stop-color="#2a2a2a"/><stop offset="29.8%" stop-color="#2b2b2b"/><stop offset="32%" stop-color="#2b2b2b"/><stop offset="34.1%" stop-color="#2c2c2c"/><stop offset="36.2%" stop-color="#2d2d2d"/><stop offset="38.3%" stop-color="#2d2d2d"/><stop offset="40.5%" stop-color="#2d2d2d"/><stop offset="42.6%" stop-color="#2e2e2e"/><stop offset="44.7%" stop-color="#2e2e2e"/><stop offset="46.9%" stop-color="#2f2f2f"/><stop offset="49%" stop-color="#2f2f2f"/><stop offset="51.1%" stop-color="#303030"/><stop offset="53.3%" stop-color="#303030"/><stop offset="55.4%" stop-color="#303030"/><stop offset="57.5%" stop-color="#313131"/><stop offset="59.6%" stop-color="#313131"/><stop offset="61.8%" stop-color="#303030"/><stop offset="63.9%" stop-color="#303030"/><stop offset="66%" stop-color="#2f2f2f"/><stop offset="68.2%" stop-color="#2e2e2e"/><stop offset="70.3%" stop-color="#2d2d2d"/><stop offset="72.4%" stop-color="#2d2d2d"/><stop offset="74.6%" stop-color="#2c2c2c"/><stop offset="76.7%" stop-color="#2b2b2b"/><stop offset="78.8%" stop-color="#2a2a2a"/><stop offset="80.9%" stop-color="#282828"/><stop offset="83.1%" stop-color="#272727"/><stop offset="85.2%" stop-color="#252525"/><stop offset="87.3%" stop-color="#242424"/><stop offset="89.5%" stop-color="#222222"/><stop offset="91.6%" stop-color="#1f1f1f"/><stop offset="93.7%" stop-color="#1c1c1c"/><stop offset="95.9%" stop-color="#161616"/><stop offset="98%" stop-color="#090909"/><stop offset="100%" stop-color="#070707"/></linearGradient><linearGradient id="gD31"><stop offset="0%" stop-color="#1c1c1c"/><stop offset="2.1%" stop-color="#1c1c1c"/><stop offset="4.3%" stop-color="#1c1c1c"/><stop offset="6.4%" stop-color="#1d1d1d"/><stop offset="8.5%" stop-color="#1d1d1d"/><stop offset="10.7%" stop-color="#1d1d1d"/><stop offset="12.8%" stop-color="#1e1e1e"/><stop offset="14.9%" stop-color="#1e1e1e"/><stop offset="17%" stop-color="#1f1f1f"/><stop offset="19.2%" stop-color="#1f1f1f"/><stop offset="21.3%" stop-color="#1f1f1f"/><stop offset="23.4%" stop-color="#202020"/><stop offset="25.6%" stop-color="#202020"/><stop offset="27.7%" stop-color="#212121"/><stop offset="29.8%" stop-color="#212121"/><stop offset="32%" stop-color="#222222"/><stop offset="34.1%" stop-color="#222222"/><stop offset="36.2%" stop-color="#232323"/><stop offset="38.3%" stop-color="#232323"/><stop offset="40.5%" stop-color="#232323"/><stop offset="42.6%" stop-color="#232323"/><stop offset="44.7%" stop-color="#242424"/><stop offset="46.9%" stop-color="#242424"/><stop offset="49%" stop-color="#252525"/><stop offset="51.1%" stop-color="#252525"/><stop offset="53.3%" stop-color="#252525"/><stop offset="55.4%" stop-color="#252525"/><stop offset="57.5%" stop-color="#262626"/><stop offset="59.6%" stop-color="#262626"/><stop offset="61.8%" stop-color="#252525"/><stop offset="63.9%" stop-color="#252525"/><stop offset="66%" stop-color="#252525"/><stop offset="68.2%" stop-color="#242424"/><stop offset="70.3%" stop-color="#232323"/><stop offset="72.4%" stop-color="#232323"/><stop offset="74.6%" stop-color="#222222"/><stop offset="76.7%" stop-color="#222222"/><stop offset="78.8%" stop-color="#212121"/><stop offset="80.9%" stop-color="#202020"/><stop offset="83.1%" stop-color="#1f1f1f"/><stop offset="85.2%" stop-color="#1d1d1d"/><stop offset="87.3%" stop-color="#1c1c1c"/><stop offset="89.5%" stop-color="#1b1b1b"/><stop offset="91.6%" stop-color="#191919"/><stop offset="93.7%" stop-color="#171717"/><stop offset="95.9%" stop-color="#121212"/><stop offset="98%" stop-color="#080808"/><stop offset="100%" stop-color="#070707"/></linearGradient><linearGradient id="gD32"><stop offset="0%" stop-color="#1c1c1c"/><stop offset="2.1%" stop-color="#1c1c1c"/><stop offset="4.3%" stop-color="#1c1c1c"/><stop offset="6.4%" stop-color="#1d1d1d"/><stop offset="8.5%" stop-color="#1d1d1d"/><stop offset="10.7%" stop-color="#1d1d1d"/><stop offset="12.8%" stop-color="#1e1e1e"/><stop offset="14.9%" stop-color="#1e1e1e"/><stop offset="17%" stop-color="#1f1f1f"/><stop offset="19.2%" stop-color="#1f1f1f"/><stop offset="21.3%" stop-color="#1f1f1f"/><stop offset="23.4%" stop-color="#202020"/><stop offset="25.6%" stop-color="#202020"/><stop offset="27.7%" stop-color="#212121"/><stop offset="29.8%" stop-color="#212121"/><stop offset="32%" stop-color="#222222"/><stop offset="34.1%" stop-color="#222222"/><stop offset="36.2%" stop-color="#232323"/><stop offset="38.3%" stop-color="#232323"/><stop offset="40.5%" stop-color="#232323"/><stop offset="42.6%" stop-color="#232323"/><stop offset="44.7%" stop-color="#242424"/><stop offset="46.9%" stop-color="#242424"/><stop offset="49%" stop-color="#252525"/><stop offset="51.1%" stop-color="#252525"/><stop offset="53.3%" stop-color="#252525"/><stop offset="55.4%" stop-color="#252525"/><stop offset="57.5%" stop-color="#262626"/><stop offset="59.6%" stop-color="#262626"/><stop offset="61.8%" stop-color="#252525"/><stop offset="63.9%" stop-color="#252525"/><stop offset="66%" stop-color="#252525"/><stop offset="68.2%" stop-color="#242424"/><stop offset="70.3%" stop-color="#232323"/><stop offset="72.4%" stop-color="#232323"/><stop offset="74.6%" stop-color="#222222"/><stop offset="76.7%" stop-color="#222222"/><stop offset="78.8%" stop-color="#212121"/><stop offset="80.9%" stop-color="#202020"/><stop offset="83.1%" stop-color="#1f1f1f"/><stop offset="85.2%" stop-color="#1d1d1d"/><stop offset="87.3%" stop-color="#1c1c1c"/><stop offset="89.5%" stop-color="#1b1b1b"/><stop offset="91.6%" stop-color="#191919"/><stop offset="93.7%" stop-color="#171717"/><stop offset="95.9%" stop-color="#121212"/><stop offset="98%" stop-color="#080808"/><stop offset="100%" stop-color="#070707"/></linearGradient></defs>
<g clip-path="url(#clipD)">
<rect x="902" y="729" width="845" height="547.5" fill="#080808"/>
<g filter="url(#vb)"><rect x="902" y="711" width="845" height="18" fill="url(#gD0)"/><rect x="902" y="729" width="845" height="18" fill="url(#gD1)"/><rect x="902" y="747" width="845" height="18" fill="url(#gD2)"/><rect x="902" y="765" width="845" height="18" fill="url(#gD3)"/><rect x="902" y="783" width="845" height="18" fill="url(#gD4)"/><rect x="902" y="801" width="845" height="18" fill="url(#gD5)"/><rect x="902" y="819" width="845" height="18" fill="url(#gD6)"/><rect x="902" y="837" width="845" height="18" fill="url(#gD7)"/><rect x="902" y="855" width="845" height="18" fill="url(#gD8)"/><rect x="902" y="873" width="845" height="18" fill="url(#gD9)"/><rect x="902" y="891" width="845" height="18" fill="url(#gD10)"/><rect x="902" y="909" width="845" height="18" fill="url(#gD11)"/><rect x="902" y="927" width="845" height="18" fill="url(#gD12)"/><rect x="902" y="945" width="845" height="18" fill="url(#gD13)"/><rect x="902" y="963" width="845" height="18" fill="url(#gD14)"/><rect x="902" y="981" width="845" height="18" fill="url(#gD15)"/><rect x="902" y="999" width="845" height="18" fill="url(#gD16)"/><rect x="902" y="1017" width="845" height="18" fill="url(#gD17)"/><rect x="902" y="1035" width="845" height="18" fill="url(#gD18)"/><rect x="902" y="1053" width="845" height="18" fill="url(#gD19)"/><rect x="902" y="1071" width="845" height="18" fill="url(#gD20)"/><rect x="902" y="1089" width="845" height="18" fill="url(#gD21)"/><rect x="902" y="1107" width="845" height="18" fill="url(#gD22)"/><rect x="902" y="1125" width="845" height="18" fill="url(#gD23)"/><rect x="902" y="1143" width="845" height="18" fill="url(#gD24)"/><rect x="902" y="1161" width="845" height="18" fill="url(#gD25)"/><rect x="902" y="1179" width="845" height="18" fill="url(#gD26)"/><rect x="902" y="1197" width="845" height="18" fill="url(#gD27)"/><rect x="902" y="1215" width="845" height="18" fill="url(#gD28)"/><rect x="902" y="1233" width="845" height="18" fill="url(#gD29)"/><rect x="902" y="1251" width="845" height="18" fill="url(#gD30)"/><rect x="902" y="1269" width="845" height="18" fill="url(#gD31)"/><rect x="902" y="1287" width="845" height="18" fill="url(#gD32)"/></g>
<path d="M1278 807 C1279.3 810 1282.3 820 1286 825 C1289.7 830 1290.7 834.3 1300 837 C1309.3 839.7 1325 840.3 1342 841 C1359 841.7 1380.3 841 1402 841 C1423.7 841 1448.7 839.7 1472 841 C1495.3 842.3 1520.3 845.3 1542 849 C1563.7 852.7 1586.3 858 1602 863 C1617.7 868 1630.3 876.3 1636 879" fill="none" stroke="#8c8c8c" stroke-width="28" stroke-linecap="round" stroke-linejoin="round" filter="url(#b4)" style="mix-blend-mode:multiply"/>
<path d="M1291 842 C1279.5 852.3 1245.8 882.8 1222 904 C1198.2 925.2 1165.5 953.8 1148 969 C1130.5 984.2 1122.2 990.7 1117 995" fill="none" stroke="#868686" stroke-width="19" stroke-linecap="round" stroke-linejoin="round" filter="url(#b4)" style="mix-blend-mode:multiply"/>
<path d="M1342 883 C1328.3 895.8 1278.8 943 1260 960 C1241.2 977 1234.2 980.8 1229 985" fill="none" stroke="#9a9a9a" stroke-width="12" stroke-linecap="round" stroke-linejoin="round" filter="url(#b4)" style="mix-blend-mode:multiply"/>
<path d="M1132 999 C1123.2 1007.8 1093.2 1031.7 1079 1052 C1064.8 1072.3 1055.8 1098.8 1047 1121 C1038.2 1143.2 1031.3 1161.2 1026 1185 C1020.7 1208.8 1017.3 1248.7 1015 1264 C1012.7 1279.3 1012.5 1274.8 1012 1277" fill="none" stroke="#a8a8a8" stroke-width="15" stroke-linecap="round" stroke-linejoin="round" filter="url(#b4)" style="mix-blend-mode:multiply"/>
<path d="M1260 831 C1234.3 841.3 1157.2 869 1106 893 C1054.8 917 978.5 961.3 953 975" fill="none" stroke="#b0b0b0" stroke-width="12" stroke-linecap="round" stroke-linejoin="round" filter="url(#b5)" style="mix-blend-mode:multiply"/>
<line x1="937" y1="797" x2="1420" y2="1277" stroke="#1c1c1c" stroke-width="3.2" opacity="0.62" filter="url(#b1)"/>
<rect x="902" y="729" width="34" height="547.5" fill="url(#lbh)"/>
<rect x="1692" y="729" width="34" height="547.5" fill="url(#rbh)"/>
<rect x="1725" y="709" width="40" height="587.5" fill="#050505" filter="url(#b2)"/>
</g>
<text x="1094.2" y="285.9" style="font-family:'Liberation Sans',Arial,sans-serif;font-weight:bold;font-size:48.4px" fill="#ff0000" text-anchor="middle">*</text>
<text x="1180.5" y="319.2" style="font-family:'Liberation Sans',Arial,sans-serif;font-weight:bold;font-size:48.4px" fill="#ff0000" text-anchor="middle">*</text>
<text x="1270.6" y="292.8" style="font-family:'Liberation Sans',Arial,sans-serif;font-weight:bold;font-size:48.4px" fill="#ff0000" text-anchor="middle">*</text>
<text x="1078.3" y="529.9" style="font-family:'Liberation Sans',Arial,sans-serif;font-weight:bold;font-size:48.4px" fill="#ff0000" text-anchor="middle">*</text>
<text x="1100.1" y="558.2" style="font-family:'Liberation Sans',Arial,sans-serif;font-weight:bold;font-size:48.4px" fill="#ff0000" text-anchor="middle">*</text>
<text x="1372.3" y="319.5" style="font-family:'Liberation Sans',Arial,sans-serif;font-weight:bold;font-size:48.4px" fill="#ffff00" text-anchor="middle">*</text>
<text x="250.5" y="1177" style="font-family:'Liberation Sans',Arial,sans-serif;font-weight:bold;font-size:48.4px" fill="#ff0000" text-anchor="middle">*</text>
<text x="199" y="1222.1" style="font-family:'Liberation Sans',Arial,sans-serif;font-weight:bold;font-size:48.4px" fill="#ff0000" text-anchor="middle">*</text>
<text x="1177.2" y="960.6" style="font-family:'Liberation Sans',Arial,sans-serif;font-weight:bold;font-size:48.4px" fill="#ffff00" text-anchor="middle">*</text>
<text x="1369.7" y="914.6" style="font-family:'Liberation Sans',Arial,sans-serif;font-weight:bold;font-size:48.4px" fill="#ffff00" text-anchor="middle">*</text>
<text x="1599.9" y="1052.9" style="font-family:'Liberation Sans',Arial,sans-serif;font-weight:bold;font-size:48.4px" fill="#ffff00" text-anchor="middle">*</text>
<text x="1639.2" y="1035.3" style="font-family:'Liberation Sans',Arial,sans-serif;font-weight:bold;font-size:48.4px" fill="#ffff00" text-anchor="middle">*</text>
<text x="12.3" y="31.8" style="font-family:'Liberation Sans',Arial,sans-serif;font-weight:bold;font-size:32.5px">A</text>
<text x="918.3" y="31.8" style="font-family:'Liberation Sans',Arial,sans-serif;font-weight:bold;font-size:32.5px">B</text>
<text x="12.3" y="686.8" style="font-family:'Liberation Sans',Arial,sans-serif;font-weight:bold;font-size:32.5px">C</text>
<text x="918.3" y="686.8" style="font-family:'Liberation Sans',Arial,sans-serif;font-weight:bold;font-size:32.5px">D</text>
<text x="15.2" y="1343.8" style="font-family:'Liberation Sans',Arial,sans-serif;font-weight:bold;font-size:32.5px">E</text>
<text x="20.6" y="1428.4" style="font-family:'Liberation Sans',Arial,sans-serif;font-weight:bold;font-size:30.3px" text-anchor="start">Absolute Vessel Number JMV pretreatment</text>
<line x1="95.8" y1="1467.5" x2="95.8" y2="1784.7" stroke="#000" stroke-width="3.0"/>
<line x1="82.4" y1="1783.2" x2="95.8" y2="1783.2" stroke="#000" stroke-width="3.0"/>
<text x="78.3" y="1791.4" style="font-family:'Liberation Sans',Arial,sans-serif;font-weight:bold;font-size:22.7px" text-anchor="end">0</text>
<line x1="82.4" y1="1704.65" x2="95.8" y2="1704.65" stroke="#000" stroke-width="3.0"/>
<text x="78.3" y="1712.85" style="font-family:'Liberation Sans',Arial,sans-serif;font-weight:bold;font-size:22.7px" text-anchor="end">10</text>
<line x1="82.4" y1="1626.1" x2="95.8" y2="1626.1" stroke="#000" stroke-width="3.0"/>
<text x="78.3" y="1634.3" style="font-family:'Liberation Sans',Arial,sans-serif;font-weight:bold;font-size:22.7px" text-anchor="end">20</text>
<line x1="82.4" y1="1547.55" x2="95.8" y2="1547.55" stroke="#000" stroke-width="3.0"/>
<text x="78.3" y="1555.75" style="font-family:'Liberation Sans',Arial,sans-serif;font-weight:bold;font-size:22.7px" text-anchor="end">30</text>
<line x1="82.4" y1="1469" x2="95.8" y2="1469" stroke="#000" stroke-width="3.0"/>
<text x="78.3" y="1477.2" style="font-family:'Liberation Sans',Arial,sans-serif;font-weight:bold;font-size:22.7px" text-anchor="end">40</text>
<line x1="82.4" y1="1783.2" x2="568.7" y2="1783.2" stroke="#000" stroke-width="3.0"/>
<line x1="151.5" y1="1783.2" x2="151.5" y2="1795.7" stroke="#000" stroke-width="3.0"/>
<text x="151.5" y="1820.8" style="font-family:'Liberation Sans',Arial,sans-serif;font-weight:bold;font-size:23px" text-anchor="middle">1st</text>
<line x1="271.4" y1="1783.2" x2="271.4" y2="1795.7" stroke="#000" stroke-width="3.0"/>
<text x="271.4" y="1820.8" style="font-family:'Liberation Sans',Arial,sans-serif;font-weight:bold;font-size:23px" text-anchor="middle">2nd</text>
<line x1="391.2" y1="1783.2" x2="391.2" y2="1795.7" stroke="#000" stroke-width="3.0"/>
<text x="391.2" y="1820.8" style="font-family:'Liberation Sans',Arial,sans-serif;font-weight:bold;font-size:23px" text-anchor="middle">3rd/4th</text>
<line x1="511" y1="1783.2" x2="511" y2="1795.7" stroke="#000" stroke-width="3.0"/>
<text x="511" y="1820.8" style="font-family:'Liberation Sans',Arial,sans-serif;font-weight:bold;font-size:23px" text-anchor="middle">total</text>
<text x="331.5" y="1859.3" style="font-family:'Liberation Sans',Arial,sans-serif;font-weight:bold;font-size:25.8px" text-anchor="middle">Branching Order</text>
<text transform="translate(37 1625.7) rotate(-90)" style="font-family:'Liberation Sans',Arial,sans-serif;font-weight:bold;font-size:25.6px" text-anchor="middle">Vessel Number</text>
<rect x="105.75" y="1757.67" width="14.1" height="25.53" fill="#ffffff" stroke="#000" stroke-width="2.7"/>
<line x1="112.8" y1="1755.71" x2="112.8" y2="1759.63" stroke="#000" stroke-width="1.6"/><line x1="108.2" y1="1755.71" x2="117.4" y2="1755.71" stroke="#000" stroke-width="1.6"/><line x1="108.2" y1="1759.63" x2="117.4" y2="1759.63" stroke="#000" stroke-width="1.6"/>
<rect x="131.55" y="1757.67" width="14.1" height="25.53" fill="#d4d4d4" stroke="#000" stroke-width="2.7"/>
<line x1="138.6" y1="1755.71" x2="138.6" y2="1759.63" stroke="#000" stroke-width="1.6"/><line x1="134" y1="1755.71" x2="143.2" y2="1755.71" stroke="#000" stroke-width="1.6"/><line x1="134" y1="1759.63" x2="143.2" y2="1759.63" stroke="#000" stroke-width="1.6"/>
<rect x="157.35" y="1759.63" width="14.1" height="23.57" fill="#000000" stroke="#000" stroke-width="2.7"/>
<line x1="164.4" y1="1756.41" x2="164.4" y2="1762.86" stroke="#000" stroke-width="1.6"/><line x1="159.8" y1="1756.41" x2="169" y2="1756.41" stroke="#000" stroke-width="1.6"/><line x1="159.8" y1="1762.86" x2="169" y2="1762.86" stroke="#000" stroke-width="1.6"/>
<rect x="183.15" y="1759.63" width="14.1" height="23.57" fill="#c8dcf6" stroke="#000" stroke-width="2.7"/>
<line x1="190.2" y1="1755.08" x2="190.2" y2="1764.19" stroke="#000" stroke-width="1.6"/><line x1="185.6" y1="1755.08" x2="194.8" y2="1755.08" stroke="#000" stroke-width="1.6"/><line x1="185.6" y1="1764.19" x2="194.8" y2="1764.19" stroke="#000" stroke-width="1.6"/>
<rect x="225.65" y="1681.09" width="14.1" height="102.12" fill="#ffffff" stroke="#000" stroke-width="2.7"/>
<line x1="232.7" y1="1661.58" x2="232.7" y2="1700.59" stroke="#000" stroke-width="1.6"/><line x1="228.1" y1="1661.58" x2="237.3" y2="1661.58" stroke="#000" stroke-width="1.6"/><line x1="228.1" y1="1700.59" x2="237.3" y2="1700.59" stroke="#000" stroke-width="1.6"/>
<rect x="251.45" y="1692.87" width="14.1" height="90.33" fill="#d4d4d4" stroke="#000" stroke-width="2.7"/>
<line x1="258.5" y1="1680.69" x2="258.5" y2="1705.04" stroke="#000" stroke-width="1.6"/><line x1="253.9" y1="1680.69" x2="263.1" y2="1680.69" stroke="#000" stroke-width="1.6"/><line x1="253.9" y1="1705.04" x2="263.1" y2="1705.04" stroke="#000" stroke-width="1.6"/>
<rect x="277.25" y="1692.87" width="14.1" height="90.33" fill="#000000" stroke="#000" stroke-width="2.7"/>
<line x1="284.3" y1="1676.36" x2="284.3" y2="1709.38" stroke="#000" stroke-width="1.6"/><line x1="279.7" y1="1676.36" x2="288.9" y2="1676.36" stroke="#000" stroke-width="1.6"/><line x1="279.7" y1="1709.38" x2="288.9" y2="1709.38" stroke="#000" stroke-width="1.6"/>
<rect x="303.05" y="1691.53" width="14.1" height="91.67" fill="#c8dcf6" stroke="#000" stroke-width="2.7"/>
<line x1="310.1" y1="1681.09" x2="310.1" y2="1701.98" stroke="#000" stroke-width="1.6"/><line x1="305.5" y1="1681.09" x2="314.7" y2="1681.09" stroke="#000" stroke-width="1.6"/><line x1="305.5" y1="1701.98" x2="314.7" y2="1701.98" stroke="#000" stroke-width="1.6"/>
<rect x="345.45" y="1741.96" width="14.1" height="41.24" fill="#ffffff" stroke="#000" stroke-width="2.7"/>
<line x1="352.5" y1="1727.82" x2="352.5" y2="1756.1" stroke="#000" stroke-width="1.6"/><line x1="347.9" y1="1727.82" x2="357.1" y2="1727.82" stroke="#000" stroke-width="1.6"/><line x1="347.9" y1="1756.1" x2="357.1" y2="1756.1" stroke="#000" stroke-width="1.6"/>
<rect x="371.25" y="1740" width="14.1" height="43.2" fill="#d4d4d4" stroke="#000" stroke-width="2.7"/>
<line x1="378.3" y1="1724.29" x2="378.3" y2="1755.71" stroke="#000" stroke-width="1.6"/><line x1="373.7" y1="1724.29" x2="382.9" y2="1724.29" stroke="#000" stroke-width="1.6"/><line x1="373.7" y1="1755.71" x2="382.9" y2="1755.71" stroke="#000" stroke-width="1.6"/>
<rect x="397.05" y="1740" width="14.1" height="43.2" fill="#000000" stroke="#000" stroke-width="2.7"/>
<line x1="404.1" y1="1718.79" x2="404.1" y2="1761.21" stroke="#000" stroke-width="1.6"/><line x1="399.5" y1="1718.79" x2="408.7" y2="1718.79" stroke="#000" stroke-width="1.6"/><line x1="399.5" y1="1761.21" x2="408.7" y2="1761.21" stroke="#000" stroke-width="1.6"/>
<rect x="422.85" y="1741.33" width="14.1" height="41.87" fill="#c8dcf6" stroke="#000" stroke-width="2.7"/>
<line x1="429.9" y1="1728.22" x2="429.9" y2="1754.45" stroke="#000" stroke-width="1.6"/><line x1="425.3" y1="1728.22" x2="434.5" y2="1728.22" stroke="#000" stroke-width="1.6"/><line x1="425.3" y1="1754.45" x2="434.5" y2="1754.45" stroke="#000" stroke-width="1.6"/>
<rect x="465.25" y="1614.32" width="14.1" height="168.88" fill="#ffffff" stroke="#000" stroke-width="2.7"/>
<line x1="472.3" y1="1585.25" x2="472.3" y2="1643.38" stroke="#000" stroke-width="1.6"/><line x1="467.7" y1="1585.25" x2="476.9" y2="1585.25" stroke="#000" stroke-width="1.6"/><line x1="467.7" y1="1643.38" x2="476.9" y2="1643.38" stroke="#000" stroke-width="1.6"/>
<rect x="491.05" y="1624.14" width="14.1" height="159.06" fill="#d4d4d4" stroke="#000" stroke-width="2.7"/>
<line x1="498.1" y1="1597.81" x2="498.1" y2="1650.46" stroke="#000" stroke-width="1.6"/><line x1="493.5" y1="1597.81" x2="502.7" y2="1597.81" stroke="#000" stroke-width="1.6"/><line x1="493.5" y1="1650.46" x2="502.7" y2="1650.46" stroke="#000" stroke-width="1.6"/>
<rect x="516.85" y="1626.1" width="14.1" height="157.1" fill="#000000" stroke="#000" stroke-width="2.7"/>
<line x1="523.9" y1="1590.75" x2="523.9" y2="1661.45" stroke="#000" stroke-width="1.6"/><line x1="519.3" y1="1590.75" x2="528.5" y2="1590.75" stroke="#000" stroke-width="1.6"/><line x1="519.3" y1="1661.45" x2="528.5" y2="1661.45" stroke="#000" stroke-width="1.6"/>
<rect x="542.65" y="1626.1" width="14.1" height="157.1" fill="#c8dcf6" stroke="#000" stroke-width="2.7"/>
<line x1="549.7" y1="1614.32" x2="549.7" y2="1637.88" stroke="#000" stroke-width="1.6"/><line x1="545.1" y1="1614.32" x2="554.3" y2="1614.32" stroke="#000" stroke-width="1.6"/><line x1="545.1" y1="1637.88" x2="554.3" y2="1637.88" stroke="#000" stroke-width="1.6"/>
<circle cx="112.3" cy="1751.78" r="4.6" fill="#ffffff" stroke="#000" stroke-width="1.5"/>
<circle cx="108.3" cy="1759.63" r="4.6" fill="#ffffff" stroke="#000" stroke-width="1.5"/>
<circle cx="114" cy="1759.63" r="4.6" fill="#ffffff" stroke="#000" stroke-width="1.5"/>
<circle cx="119.3" cy="1759.63" r="4.6" fill="#ffffff" stroke="#000" stroke-width="1.5"/>
<circle cx="138.1" cy="1751.78" r="4.6" fill="#a7a7aa" stroke="#000" stroke-width="1.5"/>
<circle cx="134.1" cy="1759.63" r="4.6" fill="#a7a7aa" stroke="#000" stroke-width="1.5"/>
<circle cx="140.1" cy="1759.63" r="4.6" fill="#a7a7aa" stroke="#000" stroke-width="1.5"/>
<circle cx="144.1" cy="1759.63" r="4.6" fill="#a7a7aa" stroke="#000" stroke-width="1.5"/>
<circle cx="160.9" cy="1751.78" r="4.6" fill="#f5a3a3" stroke="#000" stroke-width="1.5"/>
<circle cx="162.4" cy="1759.63" r="4.6" fill="#f5a3a3" stroke="#000" stroke-width="1.5"/>
<circle cx="168.4" cy="1759.63" r="4.6" fill="#f5a3a3" stroke="#000" stroke-width="1.5"/>
<circle cx="160.9" cy="1767.49" r="4.6" fill="#f5a3a3" stroke="#000" stroke-width="1.5"/>
<circle cx="186.2" cy="1751.78" r="4.6" fill="#9fc8f4" stroke="#000" stroke-width="1.5"/>
<circle cx="193.7" cy="1759.63" r="4.6" fill="#9fc8f4" stroke="#000" stroke-width="1.5"/>
<circle cx="186.2" cy="1767.49" r="4.6" fill="#9fc8f4" stroke="#000" stroke-width="1.5"/>
<circle cx="232.7" cy="1633.95" r="4.6" fill="#ffffff" stroke="#000" stroke-width="1.5"/>
<circle cx="232.7" cy="1665.38" r="4.6" fill="#ffffff" stroke="#000" stroke-width="1.5"/>
<circle cx="232.7" cy="1704.65" r="4.6" fill="#ffffff" stroke="#000" stroke-width="1.5"/>
<circle cx="232.7" cy="1720.36" r="4.6" fill="#ffffff" stroke="#000" stroke-width="1.5"/>
<circle cx="262.5" cy="1673.23" r="4.6" fill="#a7a7aa" stroke="#000" stroke-width="1.5"/>
<circle cx="254.5" cy="1681.09" r="4.6" fill="#a7a7aa" stroke="#000" stroke-width="1.5"/>
<circle cx="262.5" cy="1688.94" r="4.6" fill="#a7a7aa" stroke="#000" stroke-width="1.5"/>
<circle cx="258.5" cy="1728.22" r="4.6" fill="#a7a7aa" stroke="#000" stroke-width="1.5"/>
<circle cx="284.3" cy="1657.52" r="4.6" fill="#f5a3a3" stroke="#000" stroke-width="1.5"/>
<circle cx="284.3" cy="1673.23" r="4.6" fill="#f5a3a3" stroke="#000" stroke-width="1.5"/>
<circle cx="284.3" cy="1712.51" r="4.6" fill="#f5a3a3" stroke="#000" stroke-width="1.5"/>
<circle cx="284.3" cy="1728.22" r="4.6" fill="#f5a3a3" stroke="#000" stroke-width="1.5"/>
<circle cx="306.1" cy="1681.09" r="4.6" fill="#9fc8f4" stroke="#000" stroke-width="1.5"/>
<circle cx="314.1" cy="1681.09" r="4.6" fill="#9fc8f4" stroke="#000" stroke-width="1.5"/>
<circle cx="310.1" cy="1712.51" r="4.6" fill="#9fc8f4" stroke="#000" stroke-width="1.5"/>
<circle cx="352.5" cy="1704.65" r="4.6" fill="#ffffff" stroke="#000" stroke-width="1.5"/>
<circle cx="352.5" cy="1736.07" r="4.6" fill="#ffffff" stroke="#000" stroke-width="1.5"/>
<circle cx="356.5" cy="1759.63" r="4.6" fill="#ffffff" stroke="#000" stroke-width="1.5"/>
<circle cx="348.5" cy="1767.49" r="4.6" fill="#ffffff" stroke="#000" stroke-width="1.5"/>
<circle cx="378.3" cy="1696.8" r="4.6" fill="#a7a7aa" stroke="#000" stroke-width="1.5"/>
<circle cx="378.3" cy="1736.07" r="4.6" fill="#a7a7aa" stroke="#000" stroke-width="1.5"/>
<circle cx="382.3" cy="1759.63" r="4.6" fill="#a7a7aa" stroke="#000" stroke-width="1.5"/>
<circle cx="374.3" cy="1767.49" r="4.6" fill="#a7a7aa" stroke="#000" stroke-width="1.5"/>
<circle cx="404.1" cy="1681.09" r="4.6" fill="#f5a3a3" stroke="#000" stroke-width="1.5"/>
<circle cx="404.1" cy="1736.07" r="4.6" fill="#f5a3a3" stroke="#000" stroke-width="1.5"/>
<circle cx="408.1" cy="1767.49" r="4.6" fill="#f5a3a3" stroke="#000" stroke-width="1.5"/>
<circle cx="400.1" cy="1775.35" r="4.6" fill="#f5a3a3" stroke="#000" stroke-width="1.5"/>
<circle cx="425.9" cy="1728.22" r="4.6" fill="#9fc8f4" stroke="#000" stroke-width="1.5"/>
<circle cx="433.9" cy="1728.22" r="4.6" fill="#9fc8f4" stroke="#000" stroke-width="1.5"/>
<circle cx="429.9" cy="1767.49" r="4.6" fill="#9fc8f4" stroke="#000" stroke-width="1.5"/>
<circle cx="472.3" cy="1531.84" r="4.6" fill="#ffffff" stroke="#000" stroke-width="1.5"/>
<circle cx="472.3" cy="1618.25" r="4.6" fill="#ffffff" stroke="#000" stroke-width="1.5"/>
<circle cx="476.3" cy="1649.66" r="4.6" fill="#ffffff" stroke="#000" stroke-width="1.5"/>
<circle cx="468.3" cy="1657.52" r="4.6" fill="#ffffff" stroke="#000" stroke-width="1.5"/>
<circle cx="498.1" cy="1555.4" r="4.6" fill="#a7a7aa" stroke="#000" stroke-width="1.5"/>
<circle cx="498.1" cy="1618.25" r="4.6" fill="#a7a7aa" stroke="#000" stroke-width="1.5"/>
<circle cx="498.1" cy="1641.81" r="4.6" fill="#a7a7aa" stroke="#000" stroke-width="1.5"/>
<circle cx="498.1" cy="1681.09" r="4.6" fill="#a7a7aa" stroke="#000" stroke-width="1.5"/>
<circle cx="523.9" cy="1531.84" r="4.6" fill="#f5a3a3" stroke="#000" stroke-width="1.5"/>
<circle cx="523.9" cy="1626.1" r="4.6" fill="#f5a3a3" stroke="#000" stroke-width="1.5"/>
<circle cx="523.9" cy="1641.81" r="4.6" fill="#f5a3a3" stroke="#000" stroke-width="1.5"/>
<circle cx="523.9" cy="1704.65" r="4.6" fill="#f5a3a3" stroke="#000" stroke-width="1.5"/>
<circle cx="549.7" cy="1602.54" r="4.6" fill="#9fc8f4" stroke="#000" stroke-width="1.5"/>
<circle cx="553.7" cy="1633.95" r="4.6" fill="#9fc8f4" stroke="#000" stroke-width="1.5"/>
<circle cx="545.7" cy="1641.81" r="4.6" fill="#9fc8f4" stroke="#000" stroke-width="1.5"/>
<circle cx="655.4" cy="1492.9" r="4.6" fill="#ffffff" stroke="#000" stroke-width="1.5"/>
<text x="690.2" y="1503.5" style="font-family:'Liberation Sans',Arial,sans-serif;font-size:29.4px" text-anchor="start">base</text>
<circle cx="655.4" cy="1539.9" r="4.6" fill="#a7a7aa" stroke="#000" stroke-width="1.5"/>
<text x="690.2" y="1550.5" style="font-family:'Liberation Sans',Arial,sans-serif;font-size:29.4px" text-anchor="start">JMV</text>
<circle cx="655.4" cy="1586.9" r="4.6" fill="#f5a3a3" stroke="#000" stroke-width="1.5"/>
<text x="690.2" y="1597.5" style="font-family:'Liberation Sans',Arial,sans-serif;font-size:29.4px" text-anchor="start">Hex</text>
<circle cx="655.4" cy="1633.9" r="4.6" fill="#9fc8f4" stroke="#000" stroke-width="1.5"/>
<text x="690.2" y="1644.5" style="font-family:'Liberation Sans',Arial,sans-serif;font-size:29.4px" text-anchor="start">ACh</text>
<text x="931.8" y="1428.7" style="font-family:'Liberation Sans',Arial,sans-serif;font-weight:bold;font-size:30.3px" text-anchor="start">% Change in vessels with JMV pretreatment</text>
<line x1="1012.5" y1="1467.4" x2="1012.5" y2="1784.5" stroke="#000" stroke-width="3.0"/>
<line x1="999.5" y1="1468.9" x2="1012.5" y2="1468.9" stroke="#000" stroke-width="3.0"/>
<text x="995.2" y="1477.1" style="font-family:'Liberation Sans',Arial,sans-serif;font-weight:bold;font-size:22.7px" text-anchor="end">60</text>
<line x1="999.5" y1="1531.7" x2="1012.5" y2="1531.7" stroke="#000" stroke-width="3.0"/>
<text x="995.2" y="1539.9" style="font-family:'Liberation Sans',Arial,sans-serif;font-weight:bold;font-size:22.7px" text-anchor="end">40</text>
<line x1="999.5" y1="1594.5" x2="1012.5" y2="1594.5" stroke="#000" stroke-width="3.0"/>
<text x="995.2" y="1602.7" style="font-family:'Liberation Sans',Arial,sans-serif;font-weight:bold;font-size:22.7px" text-anchor="end">20</text>
<line x1="999.5" y1="1657.3" x2="1012.5" y2="1657.3" stroke="#000" stroke-width="3.0"/>
<text x="995.2" y="1665.5" style="font-family:'Liberation Sans',Arial,sans-serif;font-weight:bold;font-size:22.7px" text-anchor="end">0</text>
<line x1="999.5" y1="1720.1" x2="1012.5" y2="1720.1" stroke="#000" stroke-width="3.0"/>
<text x="995.2" y="1728.3" style="font-family:'Liberation Sans',Arial,sans-serif;font-weight:bold;font-size:22.7px" text-anchor="end">-20</text>
<line x1="999.5" y1="1782.9" x2="1012.5" y2="1782.9" stroke="#000" stroke-width="3.0"/>
<text x="995.2" y="1791.1" style="font-family:'Liberation Sans',Arial,sans-serif;font-weight:bold;font-size:22.7px" text-anchor="end">-40</text>
<line x1="999.5" y1="1783" x2="1484.9" y2="1783" stroke="#000" stroke-width="3.0"/>
<line x1="1066.8" y1="1783" x2="1066.8" y2="1795.5" stroke="#000" stroke-width="3.0"/>
<text x="1066.8" y="1820.8" style="font-family:'Liberation Sans',Arial,sans-serif;font-weight:bold;font-size:23px" text-anchor="middle">1st</text>
<line x1="1187" y1="1783" x2="1187" y2="1795.5" stroke="#000" stroke-width="3.0"/>
<text x="1187" y="1820.8" style="font-family:'Liberation Sans',Arial,sans-serif;font-weight:bold;font-size:23px" text-anchor="middle">2nd</text>
<line x1="1307.5" y1="1783" x2="1307.5" y2="1795.5" stroke="#000" stroke-width="3.0"/>
<text x="1307.5" y="1820.8" style="font-family:'Liberation Sans',Arial,sans-serif;font-weight:bold;font-size:23px" text-anchor="middle">3rd/4th</text>
<line x1="1428.2" y1="1783" x2="1428.2" y2="1795.5" stroke="#000" stroke-width="3.0"/>
<text x="1428.2" y="1820.8" style="font-family:'Liberation Sans',Arial,sans-serif;font-weight:bold;font-size:23px" text-anchor="middle">total</text>
<text x="1248.7" y="1859.3" style="font-family:'Liberation Sans',Arial,sans-serif;font-weight:bold;font-size:25.8px" text-anchor="middle">Branching Order</text>
<text transform="translate(945.4 1626.2) rotate(-90)" style="font-family:'Liberation Sans',Arial,sans-serif;font-weight:bold;font-size:26.3px" text-anchor="middle">Δ Vessel Number (%)</text>
<line x1="1015.5" y1="1657.3" x2="1484.9" y2="1657.3" stroke="#000" stroke-width="3.0" stroke-dasharray="8.6 7.4" stroke-dashoffset="10.9"/>
<rect x="1024.9" y="1657.3" width="17.8" height="1.57" fill="#d4d4d4" stroke="#000" stroke-width="2.7"/>
<line x1="1033.8" y1="1653.53" x2="1033.8" y2="1664.21" stroke="#000" stroke-width="1.6"/><line x1="1029.2" y1="1653.53" x2="1038.4" y2="1653.53" stroke="#000" stroke-width="1.6"/><line x1="1029.2" y1="1664.21" x2="1038.4" y2="1664.21" stroke="#000" stroke-width="1.6"/>
<rect x="1057.9" y="1657.3" width="17.8" height="4.71" fill="#000000" stroke="#000" stroke-width="2.7"/>
<line x1="1066.8" y1="1653.22" x2="1066.8" y2="1670.8" stroke="#000" stroke-width="1.6"/><line x1="1062.2" y1="1653.22" x2="1071.4" y2="1653.22" stroke="#000" stroke-width="1.6"/><line x1="1062.2" y1="1670.8" x2="1071.4" y2="1670.8" stroke="#000" stroke-width="1.6"/>
<rect x="1090.9" y="1657.3" width="17.8" height="2.2" fill="#c8dcf6" stroke="#000" stroke-width="2.7"/>
<line x1="1099.8" y1="1647.57" x2="1099.8" y2="1671.43" stroke="#000" stroke-width="1.6"/><line x1="1095.2" y1="1647.57" x2="1104.4" y2="1647.57" stroke="#000" stroke-width="1.6"/><line x1="1095.2" y1="1671.43" x2="1104.4" y2="1671.43" stroke="#000" stroke-width="1.6"/>
<rect x="1145.1" y="1657.3" width="17.8" height="16.01" fill="#d4d4d4" stroke="#000" stroke-width="2.7"/>
<line x1="1154" y1="1643.17" x2="1154" y2="1703.46" stroke="#000" stroke-width="1.6"/><line x1="1149.4" y1="1643.17" x2="1158.6" y2="1643.17" stroke="#000" stroke-width="1.6"/><line x1="1149.4" y1="1703.46" x2="1158.6" y2="1703.46" stroke="#000" stroke-width="1.6"/>
<rect x="1178.1" y="1657.3" width="17.8" height="1.57" fill="#000000" stroke="#000" stroke-width="2.7"/>
<line x1="1187" y1="1643.8" x2="1187" y2="1673.94" stroke="#000" stroke-width="1.6"/><line x1="1182.4" y1="1643.8" x2="1191.6" y2="1643.8" stroke="#000" stroke-width="1.6"/><line x1="1182.4" y1="1673.94" x2="1191.6" y2="1673.94" stroke="#000" stroke-width="1.6"/>
<rect x="1211.1" y="1636.26" width="17.8" height="21.04" fill="#c8dcf6" stroke="#000" stroke-width="2.7"/>
<line x1="1220" y1="1621.82" x2="1220" y2="1650.71" stroke="#000" stroke-width="1.6"/><line x1="1215.4" y1="1621.82" x2="1224.6" y2="1621.82" stroke="#000" stroke-width="1.6"/><line x1="1215.4" y1="1650.71" x2="1224.6" y2="1650.71" stroke="#000" stroke-width="1.6"/>
<rect x="1265.6" y="1654.16" width="17.8" height="3.14" fill="#d4d4d4" stroke="#000" stroke-width="2.7"/>
<line x1="1274.5" y1="1651.02" x2="1274.5" y2="1657.3" stroke="#000" stroke-width="1.6"/><line x1="1269.9" y1="1651.02" x2="1279.1" y2="1651.02" stroke="#000" stroke-width="1.6"/><line x1="1269.9" y1="1657.3" x2="1279.1" y2="1657.3" stroke="#000" stroke-width="1.6"/>
<rect x="1298.6" y="1657.3" width="17.8" height="6.59" fill="#000000" stroke="#000" stroke-width="2.7"/>
<line x1="1307.5" y1="1649.14" x2="1307.5" y2="1678.65" stroke="#000" stroke-width="1.6"/><line x1="1302.9" y1="1649.14" x2="1312.1" y2="1649.14" stroke="#000" stroke-width="1.6"/><line x1="1302.9" y1="1678.65" x2="1312.1" y2="1678.65" stroke="#000" stroke-width="1.6"/>
<rect x="1331.6" y="1620.25" width="17.8" height="37.05" fill="#c8dcf6" stroke="#000" stroke-width="2.7"/>
<line x1="1340.5" y1="1590.1" x2="1340.5" y2="1650.39" stroke="#000" stroke-width="1.6"/><line x1="1335.9" y1="1590.1" x2="1345.1" y2="1590.1" stroke="#000" stroke-width="1.6"/><line x1="1335.9" y1="1650.39" x2="1345.1" y2="1650.39" stroke="#000" stroke-width="1.6"/>
<rect x="1386.3" y="1657.3" width="17.8" height="15.07" fill="#d4d4d4" stroke="#000" stroke-width="2.7"/>
<line x1="1395.2" y1="1642.23" x2="1395.2" y2="1702.52" stroke="#000" stroke-width="1.6"/><line x1="1390.6" y1="1642.23" x2="1399.8" y2="1642.23" stroke="#000" stroke-width="1.6"/><line x1="1390.6" y1="1702.52" x2="1399.8" y2="1702.52" stroke="#000" stroke-width="1.6"/>
<rect x="1419.3" y="1657.3" width="17.8" height="12.56" fill="#000000" stroke="#000" stroke-width="2.7"/>
<line x1="1428.2" y1="1642.86" x2="1428.2" y2="1696.86" stroke="#000" stroke-width="1.6"/><line x1="1423.6" y1="1642.86" x2="1432.8" y2="1642.86" stroke="#000" stroke-width="1.6"/><line x1="1423.6" y1="1696.86" x2="1432.8" y2="1696.86" stroke="#000" stroke-width="1.6"/>
<rect x="1452.3" y="1601.72" width="17.8" height="55.58" fill="#c8dcf6" stroke="#000" stroke-width="2.7"/>
<line x1="1461.2" y1="1568.75" x2="1461.2" y2="1634.69" stroke="#000" stroke-width="1.6"/><line x1="1456.6" y1="1568.75" x2="1465.8" y2="1568.75" stroke="#000" stroke-width="1.6"/><line x1="1456.6" y1="1634.69" x2="1465.8" y2="1634.69" stroke="#000" stroke-width="1.6"/>
<circle cx="1033.8" cy="1647.88" r="4.6" fill="#a7a7aa" stroke="#000" stroke-width="1.5"/>
<circle cx="1027.8" cy="1657.3" r="4.6" fill="#a7a7aa" stroke="#000" stroke-width="1.5"/>
<circle cx="1039.8" cy="1657.3" r="4.6" fill="#a7a7aa" stroke="#000" stroke-width="1.5"/>
<circle cx="1033.8" cy="1673" r="4.6" fill="#a7a7aa" stroke="#000" stroke-width="1.5"/>
<circle cx="1066.8" cy="1640.03" r="4.6" fill="#f5a3a3" stroke="#000" stroke-width="1.5"/>
<circle cx="1066.8" cy="1657.3" r="4.6" fill="#f5a3a3" stroke="#000" stroke-width="1.5"/>
<circle cx="1066.8" cy="1668.6" r="4.6" fill="#f5a3a3" stroke="#000" stroke-width="1.5"/>
<circle cx="1066.8" cy="1682.11" r="4.6" fill="#f5a3a3" stroke="#000" stroke-width="1.5"/>
<circle cx="1099.8" cy="1640.03" r="4.6" fill="#9fc8f4" stroke="#000" stroke-width="1.5"/>
<circle cx="1099.8" cy="1657.3" r="4.6" fill="#9fc8f4" stroke="#000" stroke-width="1.5"/>
<circle cx="1099.8" cy="1681.48" r="4.6" fill="#9fc8f4" stroke="#000" stroke-width="1.5"/>
<circle cx="1154" cy="1583.51" r="4.6" fill="#a7a7aa" stroke="#000" stroke-width="1.5"/>
<circle cx="1154" cy="1687.76" r="4.6" fill="#a7a7aa" stroke="#000" stroke-width="1.5"/>
<circle cx="1154" cy="1706.28" r="4.6" fill="#a7a7aa" stroke="#000" stroke-width="1.5"/>
<circle cx="1154" cy="1716.33" r="4.6" fill="#a7a7aa" stroke="#000" stroke-width="1.5"/>
<circle cx="1181" cy="1640.03" r="4.6" fill="#f5a3a3" stroke="#000" stroke-width="1.5"/>
<circle cx="1193" cy="1635.95" r="4.6" fill="#f5a3a3" stroke="#000" stroke-width="1.5"/>
<circle cx="1187" cy="1657.3" r="4.6" fill="#f5a3a3" stroke="#000" stroke-width="1.5"/>
<circle cx="1187" cy="1702.52" r="4.6" fill="#f5a3a3" stroke="#000" stroke-width="1.5"/>
<circle cx="1220" cy="1609.26" r="4.6" fill="#9fc8f4" stroke="#000" stroke-width="1.5"/>
<circle cx="1220" cy="1642.54" r="4.6" fill="#9fc8f4" stroke="#000" stroke-width="1.5"/>
<circle cx="1220" cy="1657.3" r="4.6" fill="#9fc8f4" stroke="#000" stroke-width="1.5"/>
<circle cx="1274.5" cy="1647.88" r="4.6" fill="#a7a7aa" stroke="#000" stroke-width="1.5"/>
<circle cx="1268.5" cy="1657.3" r="4.6" fill="#a7a7aa" stroke="#000" stroke-width="1.5"/>
<circle cx="1280.5" cy="1657.3" r="4.6" fill="#a7a7aa" stroke="#000" stroke-width="1.5"/>
<circle cx="1307.5" cy="1635.95" r="4.6" fill="#f5a3a3" stroke="#000" stroke-width="1.5"/>
<circle cx="1301.5" cy="1657.3" r="4.6" fill="#f5a3a3" stroke="#000" stroke-width="1.5"/>
<circle cx="1313.5" cy="1657.3" r="4.6" fill="#f5a3a3" stroke="#000" stroke-width="1.5"/>
<circle cx="1307.5" cy="1705.66" r="4.6" fill="#f5a3a3" stroke="#000" stroke-width="1.5"/>
<circle cx="1340.5" cy="1561.22" r="4.6" fill="#9fc8f4" stroke="#000" stroke-width="1.5"/>
<circle cx="1340.5" cy="1642.54" r="4.6" fill="#9fc8f4" stroke="#000" stroke-width="1.5"/>
<circle cx="1340.5" cy="1657.3" r="4.6" fill="#9fc8f4" stroke="#000" stroke-width="1.5"/>
<circle cx="1395.2" cy="1583.51" r="4.6" fill="#a7a7aa" stroke="#000" stroke-width="1.5"/>
<circle cx="1395.2" cy="1687.13" r="4.6" fill="#a7a7aa" stroke="#000" stroke-width="1.5"/>
<circle cx="1395.2" cy="1702.2" r="4.6" fill="#a7a7aa" stroke="#000" stroke-width="1.5"/>
<circle cx="1395.2" cy="1716.33" r="4.6" fill="#a7a7aa" stroke="#000" stroke-width="1.5"/>
<circle cx="1422.2" cy="1624.96" r="4.6" fill="#f5a3a3" stroke="#000" stroke-width="1.5"/>
<circle cx="1434.2" cy="1623.07" r="4.6" fill="#f5a3a3" stroke="#000" stroke-width="1.5"/>
<circle cx="1428.2" cy="1702.2" r="4.6" fill="#f5a3a3" stroke="#000" stroke-width="1.5"/>
<circle cx="1428.2" cy="1729.83" r="4.6" fill="#f5a3a3" stroke="#000" stroke-width="1.5"/>
<circle cx="1461.2" cy="1537.04" r="4.6" fill="#9fc8f4" stroke="#000" stroke-width="1.5"/>
<circle cx="1461.2" cy="1627.78" r="4.6" fill="#9fc8f4" stroke="#000" stroke-width="1.5"/>
<circle cx="1461.2" cy="1640.34" r="4.6" fill="#9fc8f4" stroke="#000" stroke-width="1.5"/>
<circle cx="1572" cy="1493" r="4.6" fill="#a7a7aa" stroke="#000" stroke-width="1.5"/>
<text x="1606.5" y="1503.6" style="font-family:'Liberation Sans',Arial,sans-serif;font-size:29.4px" text-anchor="start">JMV</text>
<circle cx="1572" cy="1540" r="4.6" fill="#f5a3a3" stroke="#000" stroke-width="1.5"/>
<text x="1606.5" y="1550.6" style="font-family:'Liberation Sans',Arial,sans-serif;font-size:29.4px" text-anchor="start">Hex</text>
<circle cx="1572" cy="1587" r="4.6" fill="#9fc8f4" stroke="#000" stroke-width="1.5"/>
<text x="1606.5" y="1597.6" style="font-family:'Liberation Sans',Arial,sans-serif;font-size:29.4px" text-anchor="start">ACh</text>
<text x="1539.5" y="1646.8" style="font-family:'Liberation Sans',Arial,sans-serif;font-size:25px" xml:space="preserve">treatment<tspan x="1654.1" style="font-style:italic">p</tspan>=0.052</text>
<text x="26.3" y="1978.5" style="font-family:'Liberation Sans',Arial,sans-serif;font-weight:bold;font-size:30.3px" text-anchor="start">Absolute Vessel Calibre JMV pretreatment</text>
<line x1="94.8" y1="2017.55" x2="94.8" y2="2334.9" stroke="#000" stroke-width="3.0"/>
<line x1="81.7" y1="2333.4" x2="94.8" y2="2333.4" stroke="#000" stroke-width="3.0"/>
<text x="77.6" y="2341.6" style="font-family:'Liberation Sans',Arial,sans-serif;font-weight:bold;font-size:22.7px" text-anchor="end">0</text>
<line x1="81.7" y1="2270.53" x2="94.8" y2="2270.53" stroke="#000" stroke-width="3.0"/>
<text x="77.6" y="2278.73" style="font-family:'Liberation Sans',Arial,sans-serif;font-weight:bold;font-size:22.7px" text-anchor="end">100</text>
<line x1="81.7" y1="2207.66" x2="94.8" y2="2207.66" stroke="#000" stroke-width="3.0"/>
<text x="77.6" y="2215.86" style="font-family:'Liberation Sans',Arial,sans-serif;font-weight:bold;font-size:22.7px" text-anchor="end">200</text>
<line x1="81.7" y1="2144.79" x2="94.8" y2="2144.79" stroke="#000" stroke-width="3.0"/>
<text x="77.6" y="2152.99" style="font-family:'Liberation Sans',Arial,sans-serif;font-weight:bold;font-size:22.7px" text-anchor="end">300</text>
<line x1="81.7" y1="2081.92" x2="94.8" y2="2081.92" stroke="#000" stroke-width="3.0"/>
<text x="77.6" y="2090.12" style="font-family:'Liberation Sans',Arial,sans-serif;font-weight:bold;font-size:22.7px" text-anchor="end">400</text>
<line x1="81.7" y1="2019.05" x2="94.8" y2="2019.05" stroke="#000" stroke-width="3.0"/>
<text x="77.6" y="2027.25" style="font-family:'Liberation Sans',Arial,sans-serif;font-weight:bold;font-size:22.7px" text-anchor="end">500</text>
<line x1="81.7" y1="2333.4" x2="567.5" y2="2333.4" stroke="#000" stroke-width="3.0"/>
<line x1="150.2" y1="2333.4" x2="150.2" y2="2345.9" stroke="#000" stroke-width="3.0"/>
<text x="150.2" y="2370.9" style="font-family:'Liberation Sans',Arial,sans-serif;font-weight:bold;font-size:23px" text-anchor="middle">1-100</text>
<line x1="270.3" y1="2333.4" x2="270.3" y2="2345.9" stroke="#000" stroke-width="3.0"/>
<text x="270.3" y="2370.9" style="font-family:'Liberation Sans',Arial,sans-serif;font-weight:bold;font-size:23px" text-anchor="middle">101-200</text>
<line x1="390.1" y1="2333.4" x2="390.1" y2="2345.9" stroke="#000" stroke-width="3.0"/>
<text x="390.1" y="2370.9" style="font-family:'Liberation Sans',Arial,sans-serif;font-weight:bold;font-size:23px" text-anchor="middle">201-300</text>
<line x1="510.1" y1="2333.4" x2="510.1" y2="2345.9" stroke="#000" stroke-width="3.0"/>
<text x="510.1" y="2370.9" style="font-family:'Liberation Sans',Arial,sans-serif;font-weight:bold;font-size:23px" text-anchor="middle">301-500</text>
<text x="331.5" y="2409.3" style="font-family:'Liberation Sans',Arial,sans-serif;font-weight:bold;font-size:25.8px" text-anchor="middle">Vessel Size Class (µm)</text>
<text transform="translate(22.7 2176.2) rotate(-90)" style="font-family:'Liberation Sans',Arial,sans-serif;font-weight:bold;font-size:25.6px" text-anchor="middle">Vessel Calibre (µm)</text>
<rect x="104.75" y="2277.45" width="13.9" height="55.95" fill="#ffffff" stroke="#000" stroke-width="2.7"/>
<line x1="111.7" y1="2276.19" x2="111.7" y2="2278.7" stroke="#000" stroke-width="1.6"/><line x1="107.1" y1="2276.19" x2="116.3" y2="2276.19" stroke="#000" stroke-width="1.6"/><line x1="107.1" y1="2278.7" x2="116.3" y2="2278.7" stroke="#000" stroke-width="1.6"/>
<rect x="130.45" y="2271.16" width="13.9" height="62.24" fill="#d4d4d4" stroke="#000" stroke-width="2.7"/>
<line x1="137.4" y1="2269.9" x2="137.4" y2="2272.42" stroke="#000" stroke-width="1.6"/><line x1="132.8" y1="2269.9" x2="142" y2="2269.9" stroke="#000" stroke-width="1.6"/><line x1="132.8" y1="2272.42" x2="142" y2="2272.42" stroke="#000" stroke-width="1.6"/>
<rect x="156.05" y="2275.56" width="13.9" height="57.84" fill="#000000" stroke="#000" stroke-width="2.7"/>
<line x1="163" y1="2274.62" x2="163" y2="2276.5" stroke="#000" stroke-width="1.6"/><line x1="158.4" y1="2274.62" x2="167.6" y2="2274.62" stroke="#000" stroke-width="1.6"/><line x1="158.4" y1="2276.5" x2="167.6" y2="2276.5" stroke="#000" stroke-width="1.6"/>
<rect x="181.75" y="2252.93" width="13.9" height="80.47" fill="#c8dcf6" stroke="#000" stroke-width="2.7"/>
<line x1="188.7" y1="2236.58" x2="188.7" y2="2269.27" stroke="#000" stroke-width="1.6"/><line x1="184.1" y1="2236.58" x2="193.3" y2="2236.58" stroke="#000" stroke-width="1.6"/><line x1="184.1" y1="2269.27" x2="193.3" y2="2269.27" stroke="#000" stroke-width="1.6"/>
<rect x="224.85" y="2246.01" width="13.9" height="87.39" fill="#ffffff" stroke="#000" stroke-width="2.7"/>
<line x1="231.8" y1="2242.24" x2="231.8" y2="2249.78" stroke="#000" stroke-width="1.6"/><line x1="227.2" y1="2242.24" x2="236.4" y2="2242.24" stroke="#000" stroke-width="1.6"/><line x1="227.2" y1="2249.78" x2="236.4" y2="2249.78" stroke="#000" stroke-width="1.6"/>
<rect x="250.55" y="2252.61" width="13.9" height="80.79" fill="#d4d4d4" stroke="#000" stroke-width="2.7"/>
<line x1="257.5" y1="2248.84" x2="257.5" y2="2256.38" stroke="#000" stroke-width="1.6"/><line x1="252.9" y1="2248.84" x2="262.1" y2="2248.84" stroke="#000" stroke-width="1.6"/><line x1="252.9" y1="2256.38" x2="262.1" y2="2256.38" stroke="#000" stroke-width="1.6"/>
<rect x="276.15" y="2256.38" width="13.9" height="77.02" fill="#000000" stroke="#000" stroke-width="2.7"/>
<line x1="283.1" y1="2251.04" x2="283.1" y2="2261.73" stroke="#000" stroke-width="1.6"/><line x1="278.5" y1="2251.04" x2="287.7" y2="2251.04" stroke="#000" stroke-width="1.6"/><line x1="278.5" y1="2261.73" x2="287.7" y2="2261.73" stroke="#000" stroke-width="1.6"/>
<rect x="301.85" y="2249.78" width="13.9" height="83.62" fill="#c8dcf6" stroke="#000" stroke-width="2.7"/>
<line x1="308.8" y1="2248.53" x2="308.8" y2="2251.04" stroke="#000" stroke-width="1.6"/><line x1="304.2" y1="2248.53" x2="313.4" y2="2248.53" stroke="#000" stroke-width="1.6"/><line x1="304.2" y1="2251.04" x2="313.4" y2="2251.04" stroke="#000" stroke-width="1.6"/>
<rect x="344.65" y="2181.25" width="13.9" height="152.15" fill="#ffffff" stroke="#000" stroke-width="2.7"/>
<line x1="351.6" y1="2176.54" x2="351.6" y2="2185.97" stroke="#000" stroke-width="1.6"/><line x1="347" y1="2176.54" x2="356.2" y2="2176.54" stroke="#000" stroke-width="1.6"/><line x1="347" y1="2185.97" x2="356.2" y2="2185.97" stroke="#000" stroke-width="1.6"/>
<rect x="370.35" y="2199.49" width="13.9" height="133.91" fill="#d4d4d4" stroke="#000" stroke-width="2.7"/>
<line x1="377.3" y1="2193.2" x2="377.3" y2="2205.77" stroke="#000" stroke-width="1.6"/><line x1="372.7" y1="2193.2" x2="381.9" y2="2193.2" stroke="#000" stroke-width="1.6"/><line x1="372.7" y1="2205.77" x2="381.9" y2="2205.77" stroke="#000" stroke-width="1.6"/>
<rect x="395.95" y="2203.89" width="13.9" height="129.51" fill="#000000" stroke="#000" stroke-width="2.7"/>
<line x1="402.9" y1="2194.46" x2="402.9" y2="2213.32" stroke="#000" stroke-width="1.6"/><line x1="398.3" y1="2194.46" x2="407.5" y2="2194.46" stroke="#000" stroke-width="1.6"/><line x1="398.3" y1="2213.32" x2="407.5" y2="2213.32" stroke="#000" stroke-width="1.6"/>
<rect x="421.65" y="2169.31" width="13.9" height="164.09" fill="#c8dcf6" stroke="#000" stroke-width="2.7"/>
<line x1="428.6" y1="2158.62" x2="428.6" y2="2180" stroke="#000" stroke-width="1.6"/><line x1="424" y1="2158.62" x2="433.2" y2="2158.62" stroke="#000" stroke-width="1.6"/><line x1="424" y1="2180" x2="433.2" y2="2180" stroke="#000" stroke-width="1.6"/>
<rect x="464.65" y="2120.27" width="13.9" height="213.13" fill="#ffffff" stroke="#000" stroke-width="2.7"/>
<line x1="471.6" y1="2111.47" x2="471.6" y2="2129.07" stroke="#000" stroke-width="1.6"/><line x1="467" y1="2111.47" x2="476.2" y2="2111.47" stroke="#000" stroke-width="1.6"/><line x1="467" y1="2129.07" x2="476.2" y2="2129.07" stroke="#000" stroke-width="1.6"/>
<rect x="490.35" y="2156.11" width="13.9" height="177.29" fill="#d4d4d4" stroke="#000" stroke-width="2.7"/>
<line x1="497.3" y1="2150.45" x2="497.3" y2="2161.76" stroke="#000" stroke-width="1.6"/><line x1="492.7" y1="2150.45" x2="501.9" y2="2150.45" stroke="#000" stroke-width="1.6"/><line x1="492.7" y1="2161.76" x2="501.9" y2="2161.76" stroke="#000" stroke-width="1.6"/>
<rect x="515.95" y="2166.79" width="13.9" height="166.61" fill="#000000" stroke="#000" stroke-width="2.7"/>
<rect x="541.65" y="2115.24" width="13.9" height="218.16" fill="#c8dcf6" stroke="#000" stroke-width="2.7"/>
<line x1="548.6" y1="2108.33" x2="548.6" y2="2122.16" stroke="#000" stroke-width="1.6"/><line x1="544" y1="2108.33" x2="553.2" y2="2108.33" stroke="#000" stroke-width="1.6"/><line x1="544" y1="2122.16" x2="553.2" y2="2122.16" stroke="#000" stroke-width="1.6"/>
<circle cx="107.7" cy="2274.93" r="4.6" fill="#ffffff" stroke="#000" stroke-width="1.5"/>
<circle cx="111.7" cy="2270.53" r="4.6" fill="#ffffff" stroke="#000" stroke-width="1.5"/>
<circle cx="116.7" cy="2274.93" r="4.6" fill="#ffffff" stroke="#000" stroke-width="1.5"/>
<circle cx="133.4" cy="2269.27" r="4.6" fill="#a7a7aa" stroke="#000" stroke-width="1.5"/>
<circle cx="137.4" cy="2264.24" r="4.6" fill="#a7a7aa" stroke="#000" stroke-width="1.5"/>
<circle cx="141.9" cy="2268.64" r="4.6" fill="#a7a7aa" stroke="#000" stroke-width="1.5"/>
<circle cx="158.5" cy="2274.62" r="4.6" fill="#f5a3a3" stroke="#000" stroke-width="1.5"/>
<circle cx="163" cy="2271.79" r="4.6" fill="#f5a3a3" stroke="#000" stroke-width="1.5"/>
<circle cx="167" cy="2272.6" r="4.6" fill="#f5a3a3" stroke="#000" stroke-width="1.5"/>
<circle cx="188.7" cy="2236.39" r="4.6" fill="#9fc8f4" stroke="#000" stroke-width="1.5"/>
<circle cx="188.7" cy="2268.71" r="4.6" fill="#9fc8f4" stroke="#000" stroke-width="1.5"/>
<circle cx="227.8" cy="2240.98" r="4.6" fill="#ffffff" stroke="#000" stroke-width="1.5"/>
<circle cx="235.8" cy="2236.71" r="4.6" fill="#ffffff" stroke="#000" stroke-width="1.5"/>
<circle cx="235.8" cy="2249.53" r="4.6" fill="#ffffff" stroke="#000" stroke-width="1.5"/>
<circle cx="227.8" cy="2254.81" r="4.6" fill="#ffffff" stroke="#000" stroke-width="1.5"/>
<circle cx="257.5" cy="2240.98" r="4.6" fill="#a7a7aa" stroke="#000" stroke-width="1.5"/>
<circle cx="257.5" cy="2251.67" r="4.6" fill="#a7a7aa" stroke="#000" stroke-width="1.5"/>
<circle cx="262.5" cy="2253.24" r="4.6" fill="#a7a7aa" stroke="#000" stroke-width="1.5"/>
<circle cx="253.5" cy="2259.65" r="4.6" fill="#a7a7aa" stroke="#000" stroke-width="1.5"/>
<circle cx="283.1" cy="2241.61" r="4.6" fill="#f5a3a3" stroke="#000" stroke-width="1.5"/>
<circle cx="279.1" cy="2261.79" r="4.6" fill="#f5a3a3" stroke="#000" stroke-width="1.5"/>
<circle cx="287.1" cy="2259.65" r="4.6" fill="#f5a3a3" stroke="#000" stroke-width="1.5"/>
<circle cx="304.8" cy="2250.6" r="4.6" fill="#9fc8f4" stroke="#000" stroke-width="1.5"/>
<circle cx="308.8" cy="2246.2" r="4.6" fill="#9fc8f4" stroke="#000" stroke-width="1.5"/>
<circle cx="313.3" cy="2249.03" r="4.6" fill="#9fc8f4" stroke="#000" stroke-width="1.5"/>
<circle cx="348.6" cy="2170.57" r="4.6" fill="#ffffff" stroke="#000" stroke-width="1.5"/>
<circle cx="355.1" cy="2170.57" r="4.6" fill="#ffffff" stroke="#000" stroke-width="1.5"/>
<circle cx="348.6" cy="2189.43" r="4.6" fill="#ffffff" stroke="#000" stroke-width="1.5"/>
<circle cx="355.1" cy="2189.43" r="4.6" fill="#ffffff" stroke="#000" stroke-width="1.5"/>
<circle cx="377.3" cy="2180.69" r="4.6" fill="#a7a7aa" stroke="#000" stroke-width="1.5"/>
<circle cx="377.3" cy="2196.09" r="4.6" fill="#a7a7aa" stroke="#000" stroke-width="1.5"/>
<circle cx="381.3" cy="2206.09" r="4.6" fill="#a7a7aa" stroke="#000" stroke-width="1.5"/>
<circle cx="373.8" cy="2211.5" r="4.6" fill="#a7a7aa" stroke="#000" stroke-width="1.5"/>
<circle cx="406.9" cy="2183.39" r="4.6" fill="#f5a3a3" stroke="#000" stroke-width="1.5"/>
<circle cx="398.9" cy="2188.8" r="4.6" fill="#f5a3a3" stroke="#000" stroke-width="1.5"/>
<circle cx="402.9" cy="2215.2" r="4.6" fill="#f5a3a3" stroke="#000" stroke-width="1.5"/>
<circle cx="402.9" cy="2227.02" r="4.6" fill="#f5a3a3" stroke="#000" stroke-width="1.5"/>
<circle cx="428.6" cy="2148.88" r="4.6" fill="#9fc8f4" stroke="#000" stroke-width="1.5"/>
<circle cx="432.6" cy="2175.22" r="4.6" fill="#9fc8f4" stroke="#000" stroke-width="1.5"/>
<circle cx="424.6" cy="2182.83" r="4.6" fill="#9fc8f4" stroke="#000" stroke-width="1.5"/>
<circle cx="471.6" cy="2099.02" r="4.6" fill="#ffffff" stroke="#000" stroke-width="1.5"/>
<circle cx="471.6" cy="2121.09" r="4.6" fill="#ffffff" stroke="#000" stroke-width="1.5"/>
<circle cx="471.6" cy="2129.51" r="4.6" fill="#ffffff" stroke="#000" stroke-width="1.5"/>
<circle cx="471.6" cy="2135.3" r="4.6" fill="#ffffff" stroke="#000" stroke-width="1.5"/>
<circle cx="493.3" cy="2144.04" r="4.6" fill="#a7a7aa" stroke="#000" stroke-width="1.5"/>
<circle cx="501.3" cy="2151.58" r="4.6" fill="#a7a7aa" stroke="#000" stroke-width="1.5"/>
<circle cx="497.3" cy="2164.28" r="4.6" fill="#a7a7aa" stroke="#000" stroke-width="1.5"/>
<circle cx="497.3" cy="2169.37" r="4.6" fill="#a7a7aa" stroke="#000" stroke-width="1.5"/>
<circle cx="522.9" cy="2160.7" r="4.6" fill="#f5a3a3" stroke="#000" stroke-width="1.5"/>
<circle cx="518.9" cy="2164.72" r="4.6" fill="#f5a3a3" stroke="#000" stroke-width="1.5"/>
<circle cx="526.9" cy="2164.72" r="4.6" fill="#f5a3a3" stroke="#000" stroke-width="1.5"/>
<circle cx="548.6" cy="2108.01" r="4.6" fill="#9fc8f4" stroke="#000" stroke-width="1.5"/>
<circle cx="548.6" cy="2119.83" r="4.6" fill="#9fc8f4" stroke="#000" stroke-width="1.5"/>
<circle cx="654.5" cy="2026" r="4.6" fill="#ffffff" stroke="#000" stroke-width="1.5"/>
<text x="689" y="2036.6" style="font-family:'Liberation Sans',Arial,sans-serif;font-size:29.4px" text-anchor="start">base</text>
<circle cx="654.5" cy="2073" r="4.6" fill="#a7a7aa" stroke="#000" stroke-width="1.5"/>
<text x="689" y="2083.6" style="font-family:'Liberation Sans',Arial,sans-serif;font-size:29.4px" text-anchor="start">JMV</text>
<circle cx="654.5" cy="2120" r="4.6" fill="#f5a3a3" stroke="#000" stroke-width="1.5"/>
<text x="689" y="2130.6" style="font-family:'Liberation Sans',Arial,sans-serif;font-size:29.4px" text-anchor="start">Hex</text>
<circle cx="654.5" cy="2167" r="4.6" fill="#9fc8f4" stroke="#000" stroke-width="1.5"/>
<text x="689" y="2177.6" style="font-family:'Liberation Sans',Arial,sans-serif;font-size:29.4px" text-anchor="start">ACh</text>
<text x="623" y="2223.6" style="font-family:'Liberation Sans',Arial,sans-serif;font-size:25px" xml:space="preserve">treatment<tspan x="736.5" style="font-style:italic">p</tspan>&lt;0.0001</text>
<text x="623" y="2255.1" style="font-family:'Liberation Sans',Arial,sans-serif;font-size:25px" xml:space="preserve">size class<tspan x="750.4" style="font-style:italic">p</tspan>&lt;0.0001</text>
<text x="623" y="2286.2" style="font-family:'Liberation Sans',Arial,sans-serif;font-size:25px" xml:space="preserve">interaction<tspan x="758.2" style="font-style:italic">p</tspan>=0.023</text>
<line x1="351.4" y1="2156.2" x2="404" y2="2156.2" stroke="#000" stroke-width="4"/>
<text x="377.65" y="2142.5" style="font-family:'DejaVu Sans',sans-serif;font-weight:bold;font-size:19.5px;letter-spacing:0.9px" text-anchor="middle">✱</text>
<line x1="378" y1="2120.2" x2="430.7" y2="2120.2" stroke="#000" stroke-width="4"/>
<text x="404.45" y="2106.7" style="font-family:'DejaVu Sans',sans-serif;font-weight:bold;font-size:19.5px;letter-spacing:0.9px" text-anchor="middle">✱</text>
<line x1="401.7" y1="2084.1" x2="430.7" y2="2084.1" stroke="#000" stroke-width="4"/>
<text x="416.65" y="2070.8" style="font-family:'DejaVu Sans',sans-serif;font-weight:bold;font-size:19.5px;letter-spacing:0.9px" text-anchor="middle">✱✱</text>
<line x1="472.2" y1="2021.5" x2="523.6" y2="2021.5" stroke="#000" stroke-width="4"/>
<text x="498.05" y="2007.5" style="font-family:'DejaVu Sans',sans-serif;font-weight:bold;font-size:19.5px;letter-spacing:0.9px" text-anchor="middle">✱✱✱</text>
<line x1="470.7" y1="2078.1" x2="499.7" y2="2078.1" stroke="#000" stroke-width="4"/>
<text x="485.65" y="2064.5" style="font-family:'DejaVu Sans',sans-serif;font-weight:bold;font-size:19.5px;letter-spacing:0.9px" text-anchor="middle">✱✱</text>
<line x1="522.8" y1="2055.7" x2="551.8" y2="2055.7" stroke="#000" stroke-width="4"/>
<text x="537.45" y="2041.9" style="font-family:'DejaVu Sans',sans-serif;font-weight:bold;font-size:19.5px;letter-spacing:0.9px" text-anchor="middle">✱✱✱</text>
<line x1="500.6" y1="2095" x2="550" y2="2095" stroke="#000" stroke-width="4"/>
<text x="525.65" y="2081.8" style="font-family:'DejaVu Sans',sans-serif;font-weight:bold;font-size:19.5px;letter-spacing:0.9px" text-anchor="middle">✱✱</text>
<text x="946.3" y="1978.5" style="font-family:'Liberation Sans',Arial,sans-serif;font-weight:bold;font-size:30.3px" text-anchor="start">% Change in calibre with JMV pretreatment</text>
<line x1="1019.8" y1="2017.6" x2="1019.8" y2="2334.8" stroke="#000" stroke-width="3.0"/>
<line x1="1008" y1="2019.1" x2="1019.8" y2="2019.1" stroke="#000" stroke-width="3.0"/>
<text x="1003" y="2027.3" style="font-family:'Liberation Sans',Arial,sans-serif;font-weight:bold;font-size:22.7px" text-anchor="end">60</text>
<line x1="1008" y1="2082" x2="1019.8" y2="2082" stroke="#000" stroke-width="3.0"/>
<text x="1003" y="2090.2" style="font-family:'Liberation Sans',Arial,sans-serif;font-weight:bold;font-size:22.7px" text-anchor="end">40</text>
<line x1="1008" y1="2144.9" x2="1019.8" y2="2144.9" stroke="#000" stroke-width="3.0"/>
<text x="1003" y="2153.1" style="font-family:'Liberation Sans',Arial,sans-serif;font-weight:bold;font-size:22.7px" text-anchor="end">20</text>
<line x1="1008" y1="2207.8" x2="1019.8" y2="2207.8" stroke="#000" stroke-width="3.0"/>
<text x="1003" y="2216" style="font-family:'Liberation Sans',Arial,sans-serif;font-weight:bold;font-size:22.7px" text-anchor="end">0</text>
<line x1="1008" y1="2270.7" x2="1019.8" y2="2270.7" stroke="#000" stroke-width="3.0"/>
<text x="1003" y="2278.9" style="font-family:'Liberation Sans',Arial,sans-serif;font-weight:bold;font-size:22.7px" text-anchor="end">-20</text>
<line x1="1008" y1="2333.6" x2="1019.8" y2="2333.6" stroke="#000" stroke-width="3.0"/>
<text x="1003" y="2341.8" style="font-family:'Liberation Sans',Arial,sans-serif;font-weight:bold;font-size:22.7px" text-anchor="end">-40</text>
<line x1="1008" y1="2333.3" x2="1492.9" y2="2333.3" stroke="#000" stroke-width="3.0"/>
<line x1="1075" y1="2333.3" x2="1075" y2="2345.8" stroke="#000" stroke-width="3.0"/>
<text x="1075" y="2370.9" style="font-family:'Liberation Sans',Arial,sans-serif;font-weight:bold;font-size:23px" text-anchor="middle">1-100</text>
<line x1="1195.5" y1="2333.3" x2="1195.5" y2="2345.8" stroke="#000" stroke-width="3.0"/>
<text x="1195.5" y="2370.9" style="font-family:'Liberation Sans',Arial,sans-serif;font-weight:bold;font-size:23px" text-anchor="middle">101-200</text>
<line x1="1315.8" y1="2333.3" x2="1315.8" y2="2345.8" stroke="#000" stroke-width="3.0"/>
<text x="1315.8" y="2370.9" style="font-family:'Liberation Sans',Arial,sans-serif;font-weight:bold;font-size:23px" text-anchor="middle">201-300</text>
<line x1="1436.2" y1="2333.3" x2="1436.2" y2="2345.8" stroke="#000" stroke-width="3.0"/>
<text x="1436.2" y="2370.9" style="font-family:'Liberation Sans',Arial,sans-serif;font-weight:bold;font-size:23px" text-anchor="middle">301-500</text>
<text x="1256.8" y="2409.3" style="font-family:'Liberation Sans',Arial,sans-serif;font-weight:bold;font-size:25.8px" text-anchor="middle">Vessel Size Class (µm)</text>
<text transform="translate(954.6 2176) rotate(-90)" style="font-family:'Liberation Sans',Arial,sans-serif;font-weight:bold;font-size:26.3px" text-anchor="middle">Δ Vessel Calibre (%)</text>
<line x1="1022.8" y1="2207.8" x2="1492.9" y2="2207.8" stroke="#000" stroke-width="3.0" stroke-dasharray="8.6 7.4" stroke-dashoffset="5.7"/>
<rect x="1033.3" y="2176.35" width="17.8" height="31.45" fill="#d4d4d4" stroke="#000" stroke-width="2.7"/>
<line x1="1042.2" y1="2175.09" x2="1042.2" y2="2177.61" stroke="#000" stroke-width="1.6"/><line x1="1037.6" y1="2175.09" x2="1046.8" y2="2175.09" stroke="#000" stroke-width="1.6"/><line x1="1037.6" y1="2177.61" x2="1046.8" y2="2177.61" stroke="#000" stroke-width="1.6"/>
<rect x="1066.1" y="2207.8" width="17.8" height="24.53" fill="#000000" stroke="#000" stroke-width="2.7"/>
<line x1="1075" y1="2227.61" x2="1075" y2="2237.05" stroke="#000" stroke-width="1.6"/><line x1="1070.4" y1="2227.61" x2="1079.6" y2="2227.61" stroke="#000" stroke-width="1.6"/><line x1="1070.4" y1="2237.05" x2="1079.6" y2="2237.05" stroke="#000" stroke-width="1.6"/>
<rect x="1098.9" y="2137.04" width="17.8" height="70.76" fill="#c8dcf6" stroke="#000" stroke-width="2.7"/>
<line x1="1107.8" y1="2045.83" x2="1107.8" y2="2228.24" stroke="#000" stroke-width="1.6"/><line x1="1103.2" y1="2045.83" x2="1112.4" y2="2045.83" stroke="#000" stroke-width="1.6"/><line x1="1103.2" y1="2228.24" x2="1112.4" y2="2228.24" stroke="#000" stroke-width="1.6"/>
<rect x="1153.8" y="2207.8" width="17.8" height="20.13" fill="#d4d4d4" stroke="#000" stroke-width="2.7"/>
<line x1="1162.7" y1="2208.43" x2="1162.7" y2="2247.43" stroke="#000" stroke-width="1.6"/><line x1="1158.1" y1="2208.43" x2="1167.3" y2="2208.43" stroke="#000" stroke-width="1.6"/><line x1="1158.1" y1="2247.43" x2="1167.3" y2="2247.43" stroke="#000" stroke-width="1.6"/>
<rect x="1186.6" y="2207.8" width="17.8" height="13.84" fill="#000000" stroke="#000" stroke-width="2.7"/>
<line x1="1195.5" y1="2212.2" x2="1195.5" y2="2231.07" stroke="#000" stroke-width="1.6"/><line x1="1190.9" y1="2212.2" x2="1200.1" y2="2212.2" stroke="#000" stroke-width="1.6"/><line x1="1190.9" y1="2231.07" x2="1200.1" y2="2231.07" stroke="#000" stroke-width="1.6"/>
<rect x="1219.4" y="2180.75" width="17.8" height="27.05" fill="#c8dcf6" stroke="#000" stroke-width="2.7"/>
<line x1="1228.3" y1="2172.89" x2="1228.3" y2="2188.62" stroke="#000" stroke-width="1.6"/><line x1="1223.7" y1="2172.89" x2="1232.9" y2="2172.89" stroke="#000" stroke-width="1.6"/><line x1="1223.7" y1="2188.62" x2="1232.9" y2="2188.62" stroke="#000" stroke-width="1.6"/>
<rect x="1274.1" y="2207.8" width="17.8" height="36.8" fill="#d4d4d4" stroke="#000" stroke-width="2.7"/>
<line x1="1283" y1="2237.36" x2="1283" y2="2251.83" stroke="#000" stroke-width="1.6"/><line x1="1278.4" y1="2237.36" x2="1287.6" y2="2237.36" stroke="#000" stroke-width="1.6"/><line x1="1278.4" y1="2251.83" x2="1287.6" y2="2251.83" stroke="#000" stroke-width="1.6"/>
<rect x="1306.9" y="2207.8" width="17.8" height="9.75" fill="#000000" stroke="#000" stroke-width="2.7"/>
<line x1="1315.8" y1="2201.82" x2="1315.8" y2="2233.27" stroke="#000" stroke-width="1.6"/><line x1="1311.2" y1="2201.82" x2="1320.4" y2="2201.82" stroke="#000" stroke-width="1.6"/><line x1="1311.2" y1="2233.27" x2="1320.4" y2="2233.27" stroke="#000" stroke-width="1.6"/>
<rect x="1339.7" y="2150.56" width="17.8" height="57.24" fill="#c8dcf6" stroke="#000" stroke-width="2.7"/>
<line x1="1348.6" y1="2146.79" x2="1348.6" y2="2154.34" stroke="#000" stroke-width="1.6"/><line x1="1344" y1="2146.79" x2="1353.2" y2="2146.79" stroke="#000" stroke-width="1.6"/><line x1="1344" y1="2154.34" x2="1353.2" y2="2154.34" stroke="#000" stroke-width="1.6"/>
<rect x="1394.5" y="2207.8" width="17.8" height="49.69" fill="#d4d4d4" stroke="#000" stroke-width="2.7"/>
<line x1="1403.4" y1="2244.6" x2="1403.4" y2="2270.39" stroke="#000" stroke-width="1.6"/><line x1="1398.8" y1="2244.6" x2="1408" y2="2244.6" stroke="#000" stroke-width="1.6"/><line x1="1398.8" y1="2270.39" x2="1408" y2="2270.39" stroke="#000" stroke-width="1.6"/>
<rect x="1427.3" y="2207.8" width="17.8" height="13.84" fill="#000000" stroke="#000" stroke-width="2.7"/>
<line x1="1436.2" y1="2209.69" x2="1436.2" y2="2233.59" stroke="#000" stroke-width="1.6"/><line x1="1431.6" y1="2209.69" x2="1440.8" y2="2209.69" stroke="#000" stroke-width="1.6"/><line x1="1431.6" y1="2233.59" x2="1440.8" y2="2233.59" stroke="#000" stroke-width="1.6"/>
<rect x="1460.1" y="2151.5" width="17.8" height="56.3" fill="#c8dcf6" stroke="#000" stroke-width="2.7"/>
<line x1="1469" y1="2149.93" x2="1469" y2="2153.08" stroke="#000" stroke-width="1.6"/><line x1="1464.4" y1="2149.93" x2="1473.6" y2="2149.93" stroke="#000" stroke-width="1.6"/><line x1="1464.4" y1="2153.08" x2="1473.6" y2="2153.08" stroke="#000" stroke-width="1.6"/>
<circle cx="1035.9" cy="2176.04" r="4.6" fill="#a7a7aa" stroke="#000" stroke-width="1.5"/>
<circle cx="1041.9" cy="2172.58" r="4.6" fill="#a7a7aa" stroke="#000" stroke-width="1.5"/>
<circle cx="1048.2" cy="2173.21" r="4.6" fill="#a7a7aa" stroke="#000" stroke-width="1.5"/>
<circle cx="1075" cy="2223.53" r="4.6" fill="#f5a3a3" stroke="#000" stroke-width="1.5"/>
<circle cx="1069" cy="2239.25" r="4.6" fill="#f5a3a3" stroke="#000" stroke-width="1.5"/>
<circle cx="1081" cy="2236.42" r="4.6" fill="#f5a3a3" stroke="#000" stroke-width="1.5"/>
<circle cx="1107.8" cy="2045.2" r="4.6" fill="#9fc8f4" stroke="#000" stroke-width="1.5"/>
<circle cx="1107.8" cy="2226.67" r="4.6" fill="#9fc8f4" stroke="#000" stroke-width="1.5"/>
<circle cx="1162.7" cy="2176.35" r="4.6" fill="#a7a7aa" stroke="#000" stroke-width="1.5"/>
<circle cx="1162.7" cy="2226.67" r="4.6" fill="#a7a7aa" stroke="#000" stroke-width="1.5"/>
<circle cx="1156.7" cy="2257.81" r="4.6" fill="#a7a7aa" stroke="#000" stroke-width="1.5"/>
<circle cx="1168.7" cy="2254.98" r="4.6" fill="#a7a7aa" stroke="#000" stroke-width="1.5"/>
<circle cx="1189.5" cy="2210.63" r="4.6" fill="#f5a3a3" stroke="#000" stroke-width="1.5"/>
<circle cx="1201.5" cy="2207.49" r="4.6" fill="#f5a3a3" stroke="#000" stroke-width="1.5"/>
<circle cx="1195.5" cy="2226.67" r="4.6" fill="#f5a3a3" stroke="#000" stroke-width="1.5"/>
<circle cx="1195.5" cy="2245.23" r="4.6" fill="#f5a3a3" stroke="#000" stroke-width="1.5"/>
<circle cx="1228.3" cy="2163.77" r="4.6" fill="#9fc8f4" stroke="#000" stroke-width="1.5"/>
<circle cx="1222.3" cy="2188.93" r="4.6" fill="#9fc8f4" stroke="#000" stroke-width="1.5"/>
<circle cx="1234.3" cy="2185.79" r="4.6" fill="#9fc8f4" stroke="#000" stroke-width="1.5"/>
<circle cx="1283" cy="2226.67" r="4.6" fill="#a7a7aa" stroke="#000" stroke-width="1.5"/>
<circle cx="1283" cy="2245.23" r="4.6" fill="#a7a7aa" stroke="#000" stroke-width="1.5"/>
<circle cx="1277" cy="2257.81" r="4.6" fill="#a7a7aa" stroke="#000" stroke-width="1.5"/>
<circle cx="1289" cy="2254.98" r="4.6" fill="#a7a7aa" stroke="#000" stroke-width="1.5"/>
<circle cx="1315.8" cy="2176.35" r="4.6" fill="#f5a3a3" stroke="#000" stroke-width="1.5"/>
<circle cx="1309.8" cy="2217.24" r="4.6" fill="#f5a3a3" stroke="#000" stroke-width="1.5"/>
<circle cx="1321.8" cy="2223.53" r="4.6" fill="#f5a3a3" stroke="#000" stroke-width="1.5"/>
<circle cx="1315.8" cy="2257.81" r="4.6" fill="#f5a3a3" stroke="#000" stroke-width="1.5"/>
<circle cx="1342.6" cy="2142.07" r="4.6" fill="#9fc8f4" stroke="#000" stroke-width="1.5"/>
<circle cx="1354.6" cy="2148.05" r="4.6" fill="#9fc8f4" stroke="#000" stroke-width="1.5"/>
<circle cx="1348.6" cy="2157.48" r="4.6" fill="#9fc8f4" stroke="#000" stroke-width="1.5"/>
<circle cx="1403.4" cy="2232.65" r="4.6" fill="#a7a7aa" stroke="#000" stroke-width="1.5"/>
<circle cx="1403.4" cy="2267.56" r="4.6" fill="#a7a7aa" stroke="#000" stroke-width="1.5"/>
<circle cx="1403.4" cy="2276.68" r="4.6" fill="#a7a7aa" stroke="#000" stroke-width="1.5"/>
<circle cx="1436.2" cy="2201.2" r="4.6" fill="#f5a3a3" stroke="#000" stroke-width="1.5"/>
<circle cx="1436.2" cy="2223.53" r="4.6" fill="#f5a3a3" stroke="#000" stroke-width="1.5"/>
<circle cx="1436.2" cy="2242.39" r="4.6" fill="#f5a3a3" stroke="#000" stroke-width="1.5"/>
<circle cx="1463" cy="2151.19" r="4.6" fill="#9fc8f4" stroke="#000" stroke-width="1.5"/>
<circle cx="1475" cy="2148.05" r="4.6" fill="#9fc8f4" stroke="#000" stroke-width="1.5"/>
<circle cx="1580.1" cy="2043.2" r="4.6" fill="#a7a7aa" stroke="#000" stroke-width="1.5"/>
<text x="1614.5" y="2053.8" style="font-family:'Liberation Sans',Arial,sans-serif;font-size:29.4px" text-anchor="start">JMV</text>
<circle cx="1580.1" cy="2090.2" r="4.6" fill="#f5a3a3" stroke="#000" stroke-width="1.5"/>
<text x="1614.5" y="2100.8" style="font-family:'Liberation Sans',Arial,sans-serif;font-size:29.4px" text-anchor="start">Hex</text>
<circle cx="1580.1" cy="2137.2" r="4.6" fill="#9fc8f4" stroke="#000" stroke-width="1.5"/>
<text x="1614.5" y="2147.8" style="font-family:'Liberation Sans',Arial,sans-serif;font-size:29.4px" text-anchor="start">ACh</text>
<text x="1547.5" y="2196.3" style="font-family:'Liberation Sans',Arial,sans-serif;font-size:25px" xml:space="preserve">treatment<tspan x="1662.4" style="font-style:italic">p</tspan>=0.0003</text>
<line x1="1038" y1="2140.7" x2="1074" y2="2140.7" stroke="#000" stroke-width="4"/>
<text x="1056.25" y="2127.5" style="font-family:'DejaVu Sans',sans-serif;font-weight:bold;font-size:19.5px;letter-spacing:0.9px" text-anchor="middle">✱</text>
<line x1="1278.6" y1="2117" x2="1348.6" y2="2117" stroke="#000" stroke-width="4"/>
<text x="1313.95" y="2103.8" style="font-family:'DejaVu Sans',sans-serif;font-weight:bold;font-size:19.5px;letter-spacing:0.9px" text-anchor="middle">✱✱</text>
</svg>
</body></html>
